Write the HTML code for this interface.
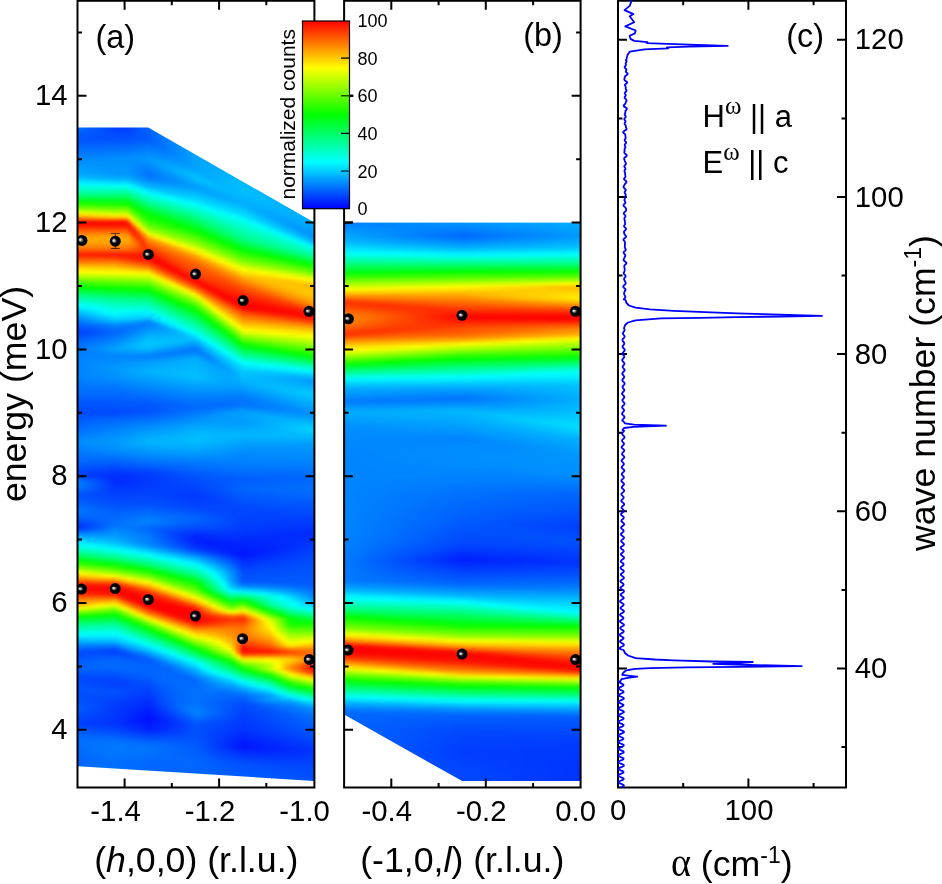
<!DOCTYPE html>
<html><head><meta charset="utf-8"><title>figure</title>
<style>
html,body{margin:0;padding:0;background:#fff}
body{width:942px;height:884px;position:relative;overflow:hidden;font-family:"Liberation Sans",sans-serif}
.w{position:absolute;top:0;height:787.5px;overflow:hidden}
#wa{left:77.5px;width:236.9px}
#wb{left:344.1px;width:236.5px}
#ha,#hb{position:absolute;filter:blur(1.1px)}
#ha{left:-8px;top:120px;height:669px;width:253px}
#hb{left:-8px;top:215px;height:573px;width:252px}
#ha i,#hb i{position:absolute;top:0;height:100%;display:block}
svg{position:absolute;left:0;top:0}
</style></head><body>
<div class="w" id="wa"><div id="ha">
<i style="left:0px;width:3.1px;background:linear-gradient(#0070ff,#0070ff,#0070ff,#006cff,#0064ff,#005cff,#0054ff,#0057ff,#005fff,#0067ff,#006eff,#0076ff,#007eff,#0086ff,#008dff,#0094ff,#009bff,#00a2ff,#00a9ff,#00b7ff,#00d4ff,#00f1ff,#00ffed,#00ffca,#00ffa7,#00ff85,#00ff4a,#00ff10,#28ff00,#5eff00,#a2ff00,#f7ff00,#ffbc00,#ff6500,#f10,#ff0c00,#ff3900,#ff6000,#ff8400,#ff9e00,#ffa900,#ffa000,#ff8900,#ff6b00,#ff3e00,#ff1900,#ff4600,#ff6f00,#ff9600,#ffc900,#fff100,#f3ff00,#b9ff00,#7eff00,#50ff00,#23ff00,#00ff0b,#00ff3d,#00ff6e,#0f9,#00ffbe,#00ffe3,#00fbff,#0df,#00bfff,#00a8ff,#0090ff,#0078ff,#06f,#0057ff,#0047ff,#0041ff,#004eff,#005bff,#0067ff,#006dff,#0073ff,#0079ff,#007fff,#0085ff,#0085ff,#0085ff,#0085ff,#0085ff,#0085ff,#0085ff,#0081ff,#007dff,#0078ff,#0073ff,#006fff,#006aff,#0065ff,#0060ff,#005aff,#05f,#0050ff,#004aff,#004bff,#0054ff,#005dff,#0062ff,#0068ff,#006dff,#0074ff,#007cff,#0085ff,#008dff,#008aff,#0083ff,#007dff,#07f,#0072ff,#006cff,#0067ff,#005dff,#0054ff,#004aff,#0043ff,#0045ff,#0071ff,#0082ff,#007dff,#0071ff,#005eff,#0053ff,#0057ff,#005bff,#0063ff,#006cff,#0076ff,#0074ff,#0069ff,#005dff,#004aff,#0037ff,#03f,#0059ff,#0085ff,#00aeff,#00ceff,#00efff,#00ffe9,#00ffc4,#00ff9e,#00ff71,#00ff37,#04ff00,#3aff00,#70ff00,#b5ff00,#ff0,#ffc600,#ff8c00,#ff4900,#ff1800,#ff0700,#ff1000,#ff2c00,#ff5b00,#ff8600,#ffa200,#ffcd00,#efff00,#85ff00,#2aff00,#00ff1a,#00ff4a,#00ff7b,#00ffa1,#00ffc5,#00ffe9,#00f1ff,#00ceff,#00abff,#0089ff,#006dff,#05f,#004bff,#0053ff,#005aff,#005fff,#0063ff,#0064ff,#005bff,#0051ff,#0047ff,#004cff,#0051ff,#0056ff,#0054ff,#0051ff,#004eff,#0050ff,#05f,#0059ff,#005aff,#0056ff,#0052ff,#004cff,#0046ff,#003fff,#0045ff,#0051ff,#005cff,#0064ff,#006cff,#0070ff,#006eff,#006dff,#006cff,#006aff,#0068ff,#0067ff,#06f,#06f,#06f,#06f,#06f,#06f,#06f,#06f,#06f,#06f)"></i>
<i style="left:2.5px;width:3.1px;background:linear-gradient(#0070ff,#0070ff,#0070ff,#006cff,#0064ff,#005cff,#0054ff,#0057ff,#005fff,#0067ff,#006eff,#0076ff,#007eff,#0086ff,#008dff,#0094ff,#009bff,#00a2ff,#00a9ff,#00b7ff,#00d4ff,#00f1ff,#00ffed,#00ffca,#00ffa7,#00ff85,#00ff4a,#00ff10,#28ff00,#5eff00,#a2ff00,#f7ff00,#ffbc00,#ff6500,#f10,#ff0c00,#ff3900,#ff6000,#ff8400,#ff9e00,#ffa900,#ffa000,#ff8900,#ff6b00,#ff3e00,#ff1900,#ff4600,#ff6f00,#ff9600,#ffc900,#fff100,#f3ff00,#b9ff00,#7eff00,#50ff00,#23ff00,#00ff0b,#00ff3d,#00ff6e,#0f9,#00ffbe,#00ffe3,#00fbff,#0df,#00bfff,#00a8ff,#0090ff,#0078ff,#06f,#0057ff,#0047ff,#0041ff,#004eff,#005bff,#0067ff,#006dff,#0073ff,#0079ff,#007fff,#0085ff,#0085ff,#0085ff,#0085ff,#0085ff,#0085ff,#0085ff,#0081ff,#007dff,#0078ff,#0073ff,#006fff,#006aff,#0065ff,#0060ff,#005aff,#05f,#0050ff,#004aff,#004bff,#0054ff,#005dff,#0062ff,#0068ff,#006dff,#0074ff,#007cff,#0085ff,#008dff,#008aff,#0083ff,#007dff,#07f,#0072ff,#006cff,#0067ff,#005dff,#0054ff,#004aff,#0043ff,#0045ff,#0071ff,#0082ff,#007dff,#0071ff,#005eff,#0053ff,#0057ff,#005bff,#0063ff,#006cff,#0076ff,#0074ff,#0069ff,#005dff,#004aff,#0037ff,#03f,#0059ff,#0085ff,#00aeff,#00ceff,#00efff,#00ffe9,#00ffc4,#00ff9e,#00ff71,#00ff37,#04ff00,#3aff00,#70ff00,#b5ff00,#ff0,#ffc600,#ff8c00,#ff4900,#ff1800,#ff0700,#ff1000,#ff2c00,#ff5b00,#ff8600,#ffa200,#ffcd00,#efff00,#85ff00,#2aff00,#00ff1a,#00ff4a,#00ff7b,#00ffa1,#00ffc5,#00ffe9,#00f1ff,#00ceff,#00abff,#0089ff,#006dff,#05f,#004bff,#0053ff,#005aff,#005fff,#0063ff,#0064ff,#005bff,#0051ff,#0047ff,#004cff,#0051ff,#0056ff,#0054ff,#0051ff,#004eff,#0050ff,#05f,#0059ff,#005aff,#0056ff,#0052ff,#004cff,#0046ff,#003fff,#0045ff,#0051ff,#005cff,#0064ff,#006cff,#0070ff,#006eff,#006dff,#006cff,#006aff,#0068ff,#0067ff,#06f,#06f,#06f,#06f,#06f,#06f,#06f,#06f,#06f,#06f)"></i>
<i style="left:5px;width:3.1px;background:linear-gradient(#0070ff,#0070ff,#0070ff,#006cff,#0064ff,#005cff,#0054ff,#0057ff,#005fff,#0067ff,#006eff,#0076ff,#007eff,#0086ff,#008dff,#0094ff,#009bff,#00a2ff,#00a9ff,#00b7ff,#00d4ff,#00f1ff,#00ffed,#00ffca,#00ffa7,#00ff85,#00ff4a,#00ff10,#28ff00,#5eff00,#a2ff00,#f7ff00,#ffbc00,#ff6500,#f10,#ff0c00,#ff3900,#ff6000,#ff8400,#ff9e00,#ffa900,#ffa000,#ff8900,#ff6b00,#ff3e00,#ff1900,#ff4600,#ff6f00,#ff9600,#ffc900,#fff100,#f3ff00,#b9ff00,#7eff00,#50ff00,#23ff00,#00ff0b,#00ff3d,#00ff6e,#0f9,#00ffbe,#00ffe3,#00fbff,#0df,#00bfff,#00a8ff,#0090ff,#0078ff,#06f,#0057ff,#0047ff,#0041ff,#004eff,#005bff,#0067ff,#006dff,#0073ff,#0079ff,#007fff,#0085ff,#0085ff,#0085ff,#0085ff,#0085ff,#0085ff,#0085ff,#0081ff,#007dff,#0078ff,#0073ff,#006fff,#006aff,#0065ff,#0060ff,#005aff,#05f,#0050ff,#004aff,#004bff,#0054ff,#005dff,#0062ff,#0068ff,#006dff,#0074ff,#007cff,#0085ff,#008dff,#008aff,#0083ff,#007dff,#07f,#0072ff,#006cff,#0067ff,#005dff,#0054ff,#004aff,#0043ff,#0045ff,#0071ff,#0082ff,#007dff,#0071ff,#005eff,#0053ff,#0057ff,#005bff,#0063ff,#006cff,#0076ff,#0074ff,#0069ff,#005dff,#004aff,#0037ff,#03f,#0059ff,#0085ff,#00aeff,#00ceff,#00efff,#00ffe9,#00ffc4,#00ff9e,#00ff71,#00ff37,#04ff00,#3aff00,#70ff00,#b5ff00,#ff0,#ffc600,#ff8c00,#ff4900,#ff1800,#ff0700,#ff1000,#ff2c00,#ff5b00,#ff8600,#ffa200,#ffcd00,#efff00,#85ff00,#2aff00,#00ff1a,#00ff4a,#00ff7b,#00ffa1,#00ffc5,#00ffe9,#00f1ff,#00ceff,#00abff,#0089ff,#006dff,#05f,#004bff,#0053ff,#005aff,#005fff,#0063ff,#0064ff,#005bff,#0051ff,#0047ff,#004cff,#0051ff,#0056ff,#0054ff,#0051ff,#004eff,#0050ff,#05f,#0059ff,#005aff,#0056ff,#0052ff,#004cff,#0046ff,#003fff,#0045ff,#0051ff,#005cff,#0064ff,#006cff,#0070ff,#006eff,#006dff,#006cff,#006aff,#0068ff,#0067ff,#06f,#06f,#06f,#06f,#06f,#06f,#06f,#06f,#06f,#06f)"></i>
<i style="left:7.5px;width:3.1px;background:linear-gradient(#006fff,#006fff,#006fff,#006bff,#0063ff,#005cff,#0054ff,#0057ff,#005fff,#0067ff,#006fff,#0076ff,#007eff,#0086ff,#008dff,#0094ff,#009bff,#00a1ff,#00a8ff,#00b7ff,#00d4ff,#00f1ff,#00ffed,#00ffca,#00ffa7,#00ff84,#00ff4a,#00ff10,#27ff00,#5dff00,#a1ff00,#f5ff00,#ffbd00,#f60,#ff1000,#ff0c00,#ff3800,#ff6000,#ff8400,#ff9e00,#ffa900,#ffa000,#ff8900,#ff6b00,#ff3e00,#ff1900,#ff4500,#ff6f00,#ff9600,#ffc800,#fff000,#f4ff00,#b9ff00,#7fff00,#51ff00,#23ff00,#00ff0b,#00ff3c,#00ff6d,#00ff98,#00ffbd,#00ffe2,#00fdff,#00dfff,#00c2ff,#0af,#0092ff,#007aff,#0067ff,#0058ff,#0048ff,#0043ff,#004fff,#005cff,#0068ff,#006eff,#0074ff,#007aff,#007fff,#0085ff,#0085ff,#0085ff,#0085ff,#0085ff,#0085ff,#0085ff,#0082ff,#007dff,#0078ff,#0073ff,#006fff,#006aff,#0065ff,#0060ff,#005aff,#05f,#0050ff,#004aff,#004bff,#0054ff,#005dff,#0063ff,#0068ff,#006eff,#0075ff,#007dff,#0085ff,#008dff,#008aff,#0084ff,#007dff,#07f,#0072ff,#006cff,#06f,#005dff,#0053ff,#004aff,#0042ff,#04f,#006fff,#0080ff,#007bff,#0070ff,#005dff,#0052ff,#0056ff,#005aff,#0062ff,#006cff,#0075ff,#0074ff,#0069ff,#005dff,#004bff,#0039ff,#0035ff,#005bff,#0085ff,#00aeff,#00cdff,#0ef,#00ffeb,#00ffc5,#00ff9f,#00ff73,#00ff39,#02ff00,#38ff00,#6eff00,#b3ff00,#fdff00,#ffc800,#ff8d00,#ff4a00,#ff1900,#ff0700,#ff1000,#ff2c00,#ff5b00,#ff8600,#ffa400,#ffcf00,#ecff00,#83ff00,#29ff00,#00ff1a,#00ff4b,#00ff7b,#00ffa2,#00ffc5,#00ffe9,#00f1ff,#00ceff,#00abff,#0089ff,#006dff,#0054ff,#004bff,#0053ff,#005bff,#005fff,#0063ff,#0064ff,#005bff,#0051ff,#0047ff,#004cff,#0051ff,#05f,#0054ff,#0051ff,#004eff,#004fff,#0054ff,#0059ff,#0059ff,#05f,#0051ff,#004bff,#0045ff,#003fff,#0045ff,#0050ff,#005cff,#0064ff,#006bff,#0070ff,#006fff,#006dff,#006cff,#006aff,#0069ff,#0067ff,#06f,#06f,#06f,#06f,#06f,#06f,#06f,#06f,#06f,#06f)"></i>
<i style="left:10px;width:3.1px;background:linear-gradient(#006bff,#006bff,#006bff,#0068ff,#0061ff,#005bff,#0054ff,#0057ff,#005fff,#0067ff,#006fff,#07f,#007fff,#0087ff,#008dff,#0094ff,#009aff,#00a1ff,#00a7ff,#00b5ff,#00d2ff,#00f0ff,#00ffed,#00ffca,#00ffa7,#00ff84,#00ff4a,#0f1,#25ff00,#5bff00,#9eff00,#f2ff00,#ffc000,#ff6900,#ff1000,#ff0c00,#ff3800,#ff5f00,#ff8500,#ff9f00,#ffa900,#ffa000,#ff8900,#ff6c00,#ff3e00,#ff1900,#ff4500,#ff6e00,#ff9600,#ffc800,#ffef00,#f4ff00,#baff00,#80ff00,#52ff00,#25ff00,#00ff09,#00ff3a,#00ff6a,#00ff95,#00ffba,#00ffde,#00fffd,#00e3ff,#00c7ff,#00afff,#0097ff,#007fff,#006aff,#005aff,#004bff,#0045ff,#0052ff,#005eff,#006aff,#0071ff,#07f,#007cff,#0080ff,#0085ff,#0085ff,#0086ff,#0086ff,#0086ff,#0086ff,#0086ff,#0083ff,#007eff,#0079ff,#0074ff,#006fff,#006aff,#0065ff,#0060ff,#005aff,#05f,#0050ff,#004aff,#004bff,#05f,#005eff,#0063ff,#0069ff,#006fff,#0076ff,#007eff,#0086ff,#008eff,#008bff,#0085ff,#007eff,#0078ff,#0072ff,#006cff,#06f,#005dff,#0053ff,#0049ff,#0041ff,#0043ff,#006bff,#007aff,#0076ff,#006cff,#005bff,#0051ff,#05f,#0059ff,#0061ff,#006aff,#0074ff,#0073ff,#0068ff,#005eff,#004eff,#003dff,#003aff,#005eff,#0086ff,#00adff,#00cbff,#00ebff,#00ffef,#00ffc9,#00ffa3,#0f7,#00ff3e,#00ff04,#3f0,#69ff00,#adff00,#f6ff00,#ffcd00,#ff9000,#ff4c00,#ff1900,#ff0700,#ff0f00,#ff2a00,#ff5a00,#ff8700,#ffa700,#ffd500,#e4ff00,#7eff00,#26ff00,#00ff1c,#00ff4c,#00ff7d,#00ffa3,#00ffc7,#00ffea,#00f1ff,#00ceff,#00abff,#08f,#006cff,#0053ff,#004bff,#0053ff,#005bff,#0060ff,#0063ff,#0064ff,#005bff,#0051ff,#0048ff,#004bff,#004fff,#0054ff,#0053ff,#0051ff,#004dff,#004fff,#0053ff,#0057ff,#0057ff,#0053ff,#0050ff,#004aff,#04f,#003eff,#04f,#004fff,#005bff,#0063ff,#006bff,#0070ff,#006fff,#006eff,#006dff,#006bff,#006aff,#0068ff,#0067ff,#0067ff,#0067ff,#0067ff,#0067ff,#0067ff,#0067ff,#0067ff,#0067ff,#0067ff)"></i>
<i style="left:12.5px;width:3.1px;background:linear-gradient(#0068ff,#0068ff,#0068ff,#0065ff,#005fff,#0059ff,#0054ff,#0057ff,#005fff,#0067ff,#006fff,#07f,#007fff,#0087ff,#008dff,#0094ff,#009aff,#00a0ff,#00a6ff,#00b4ff,#00d1ff,#00efff,#0fe,#00ffca,#00ffa7,#00ff83,#00ff4b,#00ff12,#24ff00,#5aff00,#9cff00,#efff00,#ffc400,#ff6c00,#ff0f00,#ff0d00,#ff3800,#ff5f00,#ff8500,#ff9f00,#ffa900,#ffa000,#ff8900,#ff6c00,#ff3e00,#ff1900,#f40,#ff6e00,#ff9600,#ffc700,#fe0,#f5ff00,#bcff00,#82ff00,#53ff00,#26ff00,#00ff08,#00ff38,#00ff68,#00ff93,#00ffb7,#00ffdb,#00fff9,#00e8ff,#00cdff,#00b4ff,#009cff,#0083ff,#006dff,#005cff,#004dff,#0048ff,#0054ff,#0061ff,#006cff,#0073ff,#007aff,#007eff,#0081ff,#0085ff,#0086ff,#0086ff,#0087ff,#08f,#0087ff,#0087ff,#0084ff,#007fff,#0079ff,#0074ff,#006fff,#006aff,#0065ff,#0060ff,#005aff,#05f,#0050ff,#004bff,#004bff,#05f,#005eff,#0064ff,#006aff,#0070ff,#07f,#007fff,#0087ff,#008fff,#008cff,#0086ff,#0080ff,#0079ff,#0072ff,#006cff,#06f,#005cff,#0052ff,#0048ff,#0040ff,#0041ff,#06f,#0074ff,#0071ff,#0068ff,#0059ff,#0050ff,#0054ff,#0058ff,#0060ff,#0069ff,#0072ff,#0071ff,#0068ff,#005fff,#0050ff,#0041ff,#003fff,#0061ff,#0087ff,#00acff,#00c9ff,#00e8ff,#00fff2,#00ffcd,#00ffa7,#00ff7b,#00ff43,#00ff09,#2eff00,#64ff00,#a7ff00,#f0ff00,#ffd100,#ff9400,#ff4e00,#ff1900,#ff0700,#ff0f00,#ff2800,#ff5900,#ff8900,#ffab00,#ffda00,#dcff00,#7aff00,#24ff00,#00ff1d,#00ff4e,#00ff7e,#00ffa4,#00ffc8,#00ffeb,#00f1ff,#00cfff,#00acff,#08f,#006bff,#0051ff,#004bff,#0054ff,#005cff,#0060ff,#0064ff,#0064ff,#005bff,#0051ff,#0048ff,#004bff,#004eff,#0053ff,#0053ff,#0051ff,#004dff,#004eff,#0051ff,#05f,#05f,#0051ff,#004eff,#0049ff,#0043ff,#003dff,#0043ff,#004eff,#005aff,#0062ff,#006bff,#0070ff,#0070ff,#006fff,#006eff,#006cff,#006aff,#0068ff,#0068ff,#0068ff,#0068ff,#0068ff,#0068ff,#0068ff,#0068ff,#0068ff,#0068ff,#0068ff)"></i>
<i style="left:15px;width:3.1px;background:linear-gradient(#0065ff,#0065ff,#0065ff,#0062ff,#005dff,#0058ff,#0053ff,#0057ff,#005fff,#0067ff,#0070ff,#0078ff,#0080ff,#08f,#008eff,#0093ff,#09f,#009fff,#00a5ff,#00b2ff,#00cfff,#00edff,#00ffef,#00ffcb,#00ffa6,#00ff82,#00ff4b,#00ff13,#2f0,#58ff00,#9aff00,#ebff00,#ffc700,#ff6f00,#ff0e00,#ff0d00,#ff3800,#ff5f00,#ff8500,#ffa000,#ffa900,#ffa000,#ff8900,#ff6d00,#ff3f00,#ff1900,#f40,#ff6d00,#ff9600,#ffc600,#fe0,#f6ff00,#bdff00,#83ff00,#5f0,#27ff00,#00ff07,#00ff36,#0f6,#00ff90,#00ffb4,#00ffd7,#00fff5,#00ecff,#00d2ff,#00b9ff,#00a1ff,#08f,#0070ff,#005eff,#0050ff,#004aff,#0056ff,#0063ff,#006eff,#0076ff,#007eff,#0080ff,#0082ff,#0085ff,#0086ff,#0087ff,#08f,#0089ff,#08f,#08f,#0085ff,#007fff,#007aff,#0074ff,#006fff,#006aff,#0065ff,#0060ff,#005aff,#05f,#0050ff,#004bff,#004bff,#0056ff,#005fff,#0065ff,#006bff,#0072ff,#0078ff,#0080ff,#08f,#008fff,#008dff,#0087ff,#0081ff,#007aff,#0073ff,#006cff,#0065ff,#005bff,#0051ff,#0047ff,#003fff,#0040ff,#0061ff,#006fff,#006cff,#0064ff,#0057ff,#004fff,#0053ff,#0057ff,#005eff,#0067ff,#0070ff,#0070ff,#0068ff,#0060ff,#0052ff,#0045ff,#04f,#0064ff,#08f,#00abff,#00c6ff,#00e5ff,#00fff6,#00ffd1,#00ffab,#00ff7f,#00ff48,#00ff0e,#29ff00,#5fff00,#a1ff00,#eaff00,#ffd600,#ff9700,#ff5000,#ff1a00,#ff0700,#ff0e00,#ff2600,#ff5800,#ff8a00,#ffaf00,#ffe000,#d5ff00,#75ff00,#21ff00,#00ff1f,#00ff4f,#00ff7f,#00ffa5,#00ffc9,#00ffec,#00f1ff,#00cfff,#00acff,#08f,#006aff,#0050ff,#004bff,#05f,#005dff,#0061ff,#0065ff,#0064ff,#005bff,#0051ff,#0048ff,#004aff,#004dff,#0052ff,#0052ff,#0051ff,#004dff,#004dff,#0050ff,#0053ff,#0053ff,#004fff,#004cff,#0047ff,#0042ff,#003dff,#0042ff,#004eff,#0059ff,#0061ff,#006aff,#0071ff,#0070ff,#006fff,#006fff,#006dff,#006bff,#0069ff,#0068ff,#0068ff,#0068ff,#0068ff,#0068ff,#0068ff,#0068ff,#0068ff,#0068ff,#0068ff)"></i>
<i style="left:17.5px;width:3.1px;background:linear-gradient(#0061ff,#0061ff,#0061ff,#005fff,#005bff,#0057ff,#0053ff,#0057ff,#005fff,#0068ff,#0070ff,#0078ff,#0081ff,#08f,#008eff,#0093ff,#09f,#009eff,#00a4ff,#00b1ff,#00ceff,#00ecff,#00ffef,#00ffcb,#00ffa6,#00ff82,#00ff4b,#00ff14,#21ff00,#57ff00,#97ff00,#e8ff00,#ffca00,#ff7200,#ff0d00,#ff0e00,#ff3700,#ff5f00,#ff8600,#ffa000,#fa0,#ffa000,#ff8900,#ff6d00,#ff3f00,#ff1900,#ff4300,#ff6d00,#ff9600,#ffc500,#ffed00,#f7ff00,#beff00,#85ff00,#56ff00,#29ff00,#00ff05,#00ff34,#00ff63,#00ff8e,#00ffb2,#00ffd4,#00fff2,#00f1ff,#00d8ff,#00beff,#00a6ff,#008cff,#0073ff,#0060ff,#0052ff,#004dff,#0059ff,#0065ff,#0070ff,#0078ff,#0081ff,#0082ff,#0083ff,#0085ff,#0087ff,#08f,#008aff,#008aff,#0089ff,#0089ff,#0086ff,#0080ff,#007aff,#0074ff,#006fff,#006aff,#0065ff,#0060ff,#005aff,#05f,#0050ff,#004bff,#004bff,#0056ff,#0060ff,#06f,#006cff,#0073ff,#007aff,#0081ff,#0089ff,#0090ff,#008dff,#08f,#0082ff,#007aff,#0073ff,#006cff,#0065ff,#005bff,#0050ff,#0046ff,#003eff,#003eff,#005dff,#0069ff,#0067ff,#0060ff,#0054ff,#004eff,#0052ff,#0056ff,#005dff,#06f,#006eff,#006fff,#0068ff,#0061ff,#05f,#0049ff,#0049ff,#0068ff,#0089ff,#0af,#00c4ff,#00e2ff,#00fffa,#00ffd5,#00ffaf,#00ff83,#00ff4d,#00ff13,#24ff00,#5aff00,#9cff00,#e4ff00,#ffda00,#ff9a00,#ff5200,#ff1a00,#ff0700,#ff0e00,#ff2500,#ff5700,#ff8b00,#ffb300,#ffe600,#cdff00,#70ff00,#1eff00,#00ff20,#00ff51,#00ff80,#00ffa6,#00ffca,#00ffed,#00f0ff,#00d0ff,#00acff,#0087ff,#0069ff,#004eff,#004bff,#05f,#005eff,#0062ff,#0065ff,#0064ff,#005bff,#0051ff,#0048ff,#0049ff,#004cff,#0051ff,#0052ff,#0051ff,#004dff,#004dff,#004eff,#0051ff,#0051ff,#004eff,#004aff,#0046ff,#0041ff,#003cff,#0042ff,#004dff,#0058ff,#0061ff,#006aff,#0071ff,#0071ff,#0070ff,#0070ff,#006eff,#006cff,#006aff,#0069ff,#0069ff,#0069ff,#0069ff,#0069ff,#0069ff,#0069ff,#0069ff,#0069ff,#0069ff)"></i>
<i style="left:20px;width:3.1px;background:linear-gradient(#005eff,#005eff,#005eff,#005cff,#0059ff,#0056ff,#0053ff,#0057ff,#0060ff,#0068ff,#0070ff,#0079ff,#0081ff,#0089ff,#008eff,#0093ff,#0098ff,#009eff,#00a3ff,#00b0ff,#0cf,#00ebff,#00fff0,#00ffcb,#00ffa6,#00ff81,#00ff4b,#00ff15,#1fff00,#5f0,#95ff00,#e5ff00,#ffcd00,#ff7400,#ff0c00,#ff0e00,#ff3700,#ff5e00,#ff8600,#ffa100,#fa0,#ffa000,#ff8900,#ff6e00,#ff3f00,#ff1900,#ff4300,#ff6d00,#ff9600,#ffc500,#ffec00,#f7ff00,#bfff00,#86ff00,#57ff00,#2aff00,#00ff04,#00ff32,#00ff61,#00ff8b,#00ffaf,#00ffd0,#0fe,#00f6ff,#0df,#00c3ff,#00abff,#0091ff,#0076ff,#0062ff,#05f,#004fff,#005bff,#0067ff,#0072ff,#007bff,#0084ff,#0084ff,#0084ff,#0085ff,#0087ff,#0089ff,#008bff,#008cff,#008bff,#008aff,#0086ff,#0081ff,#007bff,#0075ff,#006fff,#006aff,#0065ff,#0060ff,#005aff,#05f,#0050ff,#004bff,#004bff,#0056ff,#0061ff,#0067ff,#006eff,#0074ff,#007bff,#0082ff,#0089ff,#0091ff,#008eff,#0089ff,#0083ff,#007bff,#0074ff,#006cff,#0064ff,#005aff,#0050ff,#0045ff,#003dff,#003dff,#0058ff,#0063ff,#0062ff,#005dff,#0052ff,#004dff,#0051ff,#05f,#005cff,#0064ff,#006dff,#006eff,#0068ff,#0062ff,#0057ff,#004dff,#004eff,#006bff,#008bff,#00a9ff,#00c2ff,#00dfff,#00fffe,#00ffd9,#00ffb3,#00ff87,#00ff52,#00ff18,#1fff00,#5f0,#96ff00,#df0,#ffdf00,#ff9e00,#ff5400,#ff1b00,#ff0700,#ff0d00,#ff2300,#ff5600,#ff8c00,#ffb600,#ffeb00,#c5ff00,#6bff00,#1bff00,#0f2,#00ff52,#00ff82,#00ffa7,#00ffcb,#0fe,#00f0ff,#00d0ff,#00acff,#0087ff,#0068ff,#004cff,#004bff,#0056ff,#005fff,#0062ff,#06f,#0064ff,#005bff,#0051ff,#0048ff,#0048ff,#004bff,#0050ff,#0051ff,#0051ff,#004dff,#004cff,#004dff,#004fff,#004fff,#004cff,#0049ff,#04f,#0040ff,#003bff,#0041ff,#004cff,#0057ff,#0060ff,#006aff,#0071ff,#0071ff,#0071ff,#0071ff,#006fff,#006dff,#006bff,#006aff,#006aff,#006aff,#006aff,#006aff,#006aff,#006aff,#006aff,#006aff,#006aff)"></i>
<i style="left:22.5px;width:3.1px;background:linear-gradient(#005bff,#005bff,#005bff,#0059ff,#0057ff,#05f,#0052ff,#0057ff,#0060ff,#0068ff,#0071ff,#0079ff,#0082ff,#008aff,#008eff,#0093ff,#0098ff,#009dff,#00a2ff,#00aeff,#00cbff,#00eaff,#00fff1,#00ffcb,#00ffa6,#00ff80,#00ff4b,#00ff16,#1eff00,#54ff00,#92ff00,#e2ff00,#ffd100,#f70,#ff0c00,#ff0e00,#ff3700,#ff5e00,#ff8700,#ffa100,#fa0,#ffa000,#ff8900,#ff6e00,#ff4000,#ff1900,#ff4200,#ff6c00,#ff9600,#ffc400,#ffeb00,#f8ff00,#c0ff00,#8f0,#59ff00,#2bff00,#00ff02,#00ff31,#00ff5f,#00ff89,#00ffac,#00ffcd,#00ffea,#00faff,#00e3ff,#00c8ff,#00b0ff,#0096ff,#0079ff,#0064ff,#0057ff,#0052ff,#005eff,#0069ff,#0075ff,#007eff,#0087ff,#0086ff,#0085ff,#0085ff,#0087ff,#008aff,#008cff,#008dff,#008cff,#008aff,#0087ff,#0082ff,#007bff,#0075ff,#006fff,#006aff,#0065ff,#0060ff,#005aff,#05f,#0050ff,#004bff,#004bff,#0057ff,#0061ff,#0068ff,#006fff,#0075ff,#007cff,#0083ff,#008aff,#0091ff,#008fff,#008aff,#0084ff,#007cff,#0074ff,#006cff,#0064ff,#005aff,#004fff,#04f,#003cff,#003bff,#0053ff,#005dff,#005dff,#0059ff,#0050ff,#004bff,#0050ff,#0054ff,#005bff,#0063ff,#006bff,#006dff,#0068ff,#0063ff,#0059ff,#0051ff,#0053ff,#006eff,#008cff,#00a8ff,#00c0ff,#00dcff,#00fdff,#0fd,#00ffb7,#00ff8b,#00ff58,#00ff1e,#1aff00,#51ff00,#90ff00,#d7ff00,#ffe300,#ffa100,#ff5600,#ff1b00,#ff0600,#ff0d00,#ff2100,#f50,#ff8d00,#ffba00,#fff100,#bdff00,#67ff00,#18ff00,#00ff23,#00ff54,#00ff83,#00ffa8,#0fc,#00ffef,#00f0ff,#00d1ff,#00acff,#0086ff,#0067ff,#004bff,#004bff,#0056ff,#0060ff,#0063ff,#06f,#0064ff,#005bff,#0051ff,#0048ff,#0048ff,#004aff,#004fff,#0051ff,#0051ff,#004cff,#004bff,#004cff,#004dff,#004dff,#004aff,#0047ff,#0043ff,#003fff,#003aff,#0040ff,#004bff,#0056ff,#005fff,#0069ff,#0071ff,#0072ff,#0072ff,#0072ff,#0070ff,#006eff,#006bff,#006aff,#006aff,#006aff,#006aff,#006aff,#006aff,#006aff,#006aff,#006aff,#006aff)"></i>
<i style="left:25px;width:3.1px;background:linear-gradient(#0057ff,#0057ff,#0057ff,#0056ff,#05f,#0054ff,#0052ff,#0057ff,#0060ff,#0069ff,#0071ff,#007aff,#0082ff,#008aff,#008fff,#0093ff,#0098ff,#009cff,#00a0ff,#00adff,#00c9ff,#00e9ff,#00fff2,#0fc,#00ffa6,#00ff80,#00ff4c,#00ff18,#1cff00,#52ff00,#90ff00,#deff00,#ffd400,#ff7a00,#ff0b00,#ff0f00,#ff3600,#ff5e00,#ff8700,#ffa200,#fa0,#ffa000,#ff8900,#ff6f00,#ff4000,#ff1900,#ff4200,#ff6c00,#ff9600,#ffc300,#ffea00,#f9ff00,#c1ff00,#89ff00,#5aff00,#2dff00,#00ff01,#00ff2f,#00ff5c,#00ff87,#00ffa9,#00ffc9,#00ffe6,#0ff,#00e9ff,#00cdff,#00b5ff,#009aff,#007cff,#06f,#005aff,#05f,#0060ff,#006bff,#07f,#0080ff,#008aff,#08f,#0085ff,#0085ff,#08f,#008aff,#008dff,#008eff,#008dff,#008bff,#08f,#0082ff,#007cff,#0075ff,#006fff,#006aff,#0065ff,#0060ff,#005aff,#05f,#0050ff,#004bff,#004bff,#0057ff,#0062ff,#0069ff,#0070ff,#07f,#007dff,#0084ff,#008bff,#0092ff,#0090ff,#008bff,#0085ff,#007dff,#0074ff,#006cff,#0064ff,#0059ff,#004eff,#0043ff,#003bff,#003aff,#004fff,#0058ff,#0058ff,#05f,#004eff,#004aff,#004fff,#0053ff,#0059ff,#0061ff,#0069ff,#006cff,#0068ff,#0064ff,#005cff,#05f,#0058ff,#0072ff,#008dff,#00a7ff,#00beff,#00d9ff,#00f9ff,#00ffe1,#0fb,#00ff8f,#00ff5d,#00ff23,#15ff00,#4cff00,#8aff00,#d1ff00,#ffe800,#ffa400,#ff5800,#ff1c00,#ff0600,#ff0c00,#ff1f00,#ff5400,#ff8e00,#ffbe00,#fff700,#b6ff00,#62ff00,#16ff00,#00ff25,#0f5,#00ff84,#00ffa9,#00ffcd,#00fff0,#00f0ff,#00d1ff,#00adff,#0086ff,#06f,#0049ff,#004cff,#0057ff,#0060ff,#0064ff,#0067ff,#0064ff,#005bff,#0051ff,#0048ff,#0047ff,#0049ff,#004eff,#0050ff,#0051ff,#004cff,#004bff,#004aff,#004bff,#004bff,#0048ff,#0045ff,#0041ff,#003dff,#003aff,#003fff,#004aff,#05f,#005eff,#0069ff,#0072ff,#0072ff,#0073ff,#0073ff,#0071ff,#006fff,#006cff,#006bff,#006bff,#006bff,#006bff,#006bff,#006bff,#006bff,#006bff,#006bff,#006bff)"></i>
<i style="left:27.5px;width:3.1px;background:linear-gradient(#0054ff,#0054ff,#0054ff,#0054ff,#0053ff,#0052ff,#0052ff,#0057ff,#0060ff,#0069ff,#0072ff,#007aff,#0083ff,#008bff,#008fff,#0093ff,#0097ff,#009bff,#009fff,#00acff,#00c8ff,#00e8ff,#00fff2,#0fc,#00ffa5,#00ff7f,#00ff4c,#00ff19,#1bff00,#51ff00,#8dff00,#dbff00,#ffd700,#ff7d00,#ff0a00,#ff0f00,#ff3600,#ff5e00,#ff8700,#ffa200,#fa0,#ffa000,#ff8900,#ff6f00,#ff4000,#ff1800,#ff4100,#ff6b00,#ff9600,#ffc200,#ffe900,#faff00,#c2ff00,#8bff00,#5bff00,#2eff00,#01ff00,#00ff2d,#00ff5a,#00ff84,#00ffa7,#00ffc5,#00ffe2,#00fffb,#0ef,#00d3ff,#00baff,#009fff,#007fff,#0068ff,#005cff,#0057ff,#0062ff,#006eff,#0079ff,#0083ff,#008dff,#008aff,#0086ff,#0086ff,#08f,#008bff,#008eff,#008fff,#008eff,#008cff,#0089ff,#0083ff,#007cff,#0075ff,#006fff,#006aff,#0065ff,#0060ff,#005aff,#05f,#0050ff,#004bff,#004bff,#0057ff,#0063ff,#006aff,#0071ff,#0078ff,#007fff,#0085ff,#008cff,#0093ff,#0091ff,#008cff,#0086ff,#007dff,#0075ff,#006cff,#0063ff,#0059ff,#004eff,#0043ff,#003aff,#0038ff,#004aff,#0052ff,#0053ff,#0051ff,#004bff,#0049ff,#004eff,#0052ff,#0058ff,#0060ff,#0068ff,#006bff,#0068ff,#0065ff,#005eff,#0059ff,#005eff,#0075ff,#008eff,#00a6ff,#00bcff,#00d6ff,#00f5ff,#00ffe5,#00ffbf,#00ff93,#00ff62,#00ff28,#10ff00,#47ff00,#84ff00,#cbff00,#ffec00,#ffa800,#ff5a00,#ff1c00,#ff0600,#ff0c00,#ff1e00,#ff5400,#ff8f00,#ffc200,#fffc00,#aeff00,#5dff00,#13ff00,#00ff26,#00ff57,#00ff86,#0fa,#00ffce,#00fff1,#00efff,#00d1ff,#00adff,#0085ff,#06f,#0048ff,#004cff,#0058ff,#0061ff,#0064ff,#0067ff,#0064ff,#005bff,#0051ff,#0049ff,#0046ff,#0047ff,#004dff,#0050ff,#0051ff,#004cff,#004aff,#0049ff,#0049ff,#0049ff,#0046ff,#0043ff,#0040ff,#003cff,#0039ff,#003fff,#0049ff,#0054ff,#005eff,#0069ff,#0072ff,#0073ff,#0073ff,#0074ff,#0072ff,#006fff,#006dff,#006cff,#006cff,#006cff,#006cff,#006cff,#006cff,#006cff,#006cff,#006cff,#006cff)"></i>
<i style="left:30px;width:3.1px;background:linear-gradient(#0050ff,#0050ff,#0050ff,#0051ff,#0051ff,#0051ff,#0052ff,#0057ff,#0060ff,#0069ff,#0072ff,#007bff,#0084ff,#008cff,#008fff,#0093ff,#0097ff,#009aff,#009eff,#0af,#00c6ff,#00e6ff,#00fff3,#0fc,#00ffa5,#00ff7e,#00ff4c,#00ff1a,#19ff00,#4fff00,#8bff00,#d8ff00,#ffda00,#ff8000,#ff0900,#ff0f00,#ff3600,#ff5e00,#f80,#ffa300,#fa0,#ffa000,#ff8900,#ff7000,#ff4000,#ff1800,#ff4100,#ff6b00,#ff9600,#ffc200,#ffe800,#fbff00,#c3ff00,#8cff00,#5cff00,#30ff00,#02ff00,#00ff2b,#00ff57,#00ff82,#00ffa4,#00ffc2,#00ffde,#00fff6,#00f4ff,#00d8ff,#00bfff,#00a3ff,#0082ff,#006aff,#005fff,#005aff,#0065ff,#0070ff,#007bff,#0086ff,#0090ff,#008cff,#0087ff,#0086ff,#0089ff,#008cff,#008fff,#0091ff,#008fff,#008dff,#008aff,#0084ff,#007dff,#0075ff,#006fff,#006aff,#0065ff,#0060ff,#005aff,#05f,#0050ff,#004bff,#004bff,#0058ff,#0063ff,#006bff,#0072ff,#0079ff,#0080ff,#0087ff,#008dff,#0094ff,#0091ff,#008dff,#0087ff,#007eff,#0075ff,#006cff,#0063ff,#0058ff,#004dff,#0042ff,#0038ff,#0037ff,#0045ff,#004cff,#004eff,#004dff,#0049ff,#0048ff,#004cff,#0051ff,#0057ff,#005eff,#06f,#0069ff,#0068ff,#06f,#0061ff,#005dff,#0063ff,#0078ff,#008fff,#00a5ff,#00baff,#00d3ff,#00f1ff,#00ffe9,#00ffc2,#00ff97,#00ff67,#00ff2d,#0bff00,#42ff00,#7eff00,#c5ff00,#fff000,#ffab00,#ff5c00,#ff1d00,#ff0600,#ff0b00,#ff1c00,#ff5300,#ff9100,#ffc600,#fcff00,#a6ff00,#58ff00,#10ff00,#00ff28,#00ff58,#00ff87,#00ffab,#00ffcf,#00fff2,#00efff,#00d2ff,#00adff,#0085ff,#0065ff,#0046ff,#004cff,#0058ff,#0062ff,#0065ff,#0068ff,#0064ff,#005bff,#0051ff,#0049ff,#0046ff,#0046ff,#004cff,#004fff,#0050ff,#004cff,#0049ff,#0048ff,#0047ff,#0046ff,#04f,#0042ff,#003eff,#003bff,#0038ff,#003eff,#0048ff,#0053ff,#005dff,#0068ff,#0072ff,#0074ff,#0074ff,#0074ff,#0073ff,#0070ff,#006eff,#006cff,#006cff,#006cff,#006cff,#006cff,#006cff,#006cff,#006cff,#006cff,#006cff)"></i>
<i style="left:32.5px;width:3.1px;background:linear-gradient(#004dff,#004dff,#004dff,#004eff,#004fff,#0050ff,#0051ff,#0058ff,#0060ff,#0069ff,#0072ff,#007bff,#0084ff,#008cff,#0090ff,#0093ff,#0096ff,#009aff,#009dff,#00a9ff,#00c5ff,#00e5ff,#00fff4,#0fc,#00ffa5,#00ff7e,#00ff4c,#00ff1b,#17ff00,#4dff00,#8f0,#d5ff00,#ffde00,#ff8300,#ff0800,#ff1000,#ff3600,#ff5d00,#f80,#ffa300,#fa0,#ffa000,#ff8900,#ff7000,#ff4100,#ff1800,#ff4000,#ff6b00,#ff9600,#ffc100,#ffe700,#fbff00,#c5ff00,#8eff00,#5eff00,#31ff00,#04ff00,#00ff29,#0f5,#00ff7f,#00ffa1,#00ffbe,#00ffda,#00fff2,#00f9ff,#0df,#00c4ff,#00a8ff,#0085ff,#006dff,#0061ff,#005cff,#0067ff,#0072ff,#007dff,#08f,#0094ff,#008eff,#08f,#0086ff,#0089ff,#008dff,#0090ff,#0092ff,#0090ff,#008eff,#008bff,#0085ff,#007dff,#0076ff,#006fff,#006aff,#0065ff,#0060ff,#005bff,#05f,#0050ff,#004bff,#004bff,#0058ff,#0064ff,#006bff,#0073ff,#007aff,#0081ff,#08f,#008eff,#0094ff,#0092ff,#008eff,#08f,#007fff,#0076ff,#006cff,#0063ff,#0057ff,#004cff,#0041ff,#0037ff,#0035ff,#0041ff,#0047ff,#0049ff,#0049ff,#0047ff,#0047ff,#004bff,#0050ff,#0056ff,#005dff,#0064ff,#0068ff,#0068ff,#0067ff,#0063ff,#0061ff,#0068ff,#007bff,#0090ff,#00a4ff,#00b8ff,#00d0ff,#0ef,#00ffed,#00ffc6,#00ff9c,#00ff6c,#00ff32,#06ff00,#3dff00,#79ff00,#beff00,#fff500,#ffaf00,#ff5e00,#ff1d00,#ff0600,#ff0b00,#ff1a00,#ff5200,#ff9200,#ffc900,#f6ff00,#9fff00,#54ff00,#0dff00,#00ff29,#00ff5a,#0f8,#00ffac,#00ffd0,#00fff3,#00efff,#00d2ff,#00adff,#0084ff,#0064ff,#0045ff,#004cff,#0059ff,#0063ff,#06f,#0068ff,#0065ff,#005bff,#0051ff,#0049ff,#0045ff,#0045ff,#004bff,#004fff,#0050ff,#004cff,#0049ff,#0046ff,#0045ff,#04f,#0042ff,#0040ff,#003dff,#003aff,#0037ff,#003dff,#0047ff,#0052ff,#005cff,#0068ff,#0072ff,#0074ff,#0075ff,#0075ff,#0074ff,#0071ff,#006eff,#006dff,#006dff,#006dff,#006dff,#006dff,#006dff,#006dff,#006dff,#006dff,#006dff)"></i>
<i style="left:35px;width:3.1px;background:linear-gradient(#004aff,#004aff,#004aff,#004bff,#004dff,#004fff,#0051ff,#0058ff,#0061ff,#006aff,#0073ff,#007cff,#0085ff,#008dff,#0090ff,#0093ff,#0096ff,#09f,#009cff,#00a7ff,#00c4ff,#00e4ff,#00fff4,#0fc,#00ffa5,#00ff7d,#00ff4c,#00ff1c,#16ff00,#4cff00,#86ff00,#d1ff00,#ffe100,#ff8500,#ff0800,#ff1000,#ff3500,#ff5d00,#f80,#ffa400,#ffab00,#ffa000,#ff8900,#ff7100,#ff4100,#ff1800,#ff3f00,#ff6a00,#ff9600,#ffc000,#ffe600,#fcff00,#c6ff00,#8fff00,#5fff00,#32ff00,#05ff00,#00ff27,#00ff53,#00ff7d,#00ff9e,#0fb,#00ffd6,#00ffed,#0ff,#00e2ff,#00c9ff,#00adff,#08f,#006fff,#0064ff,#005fff,#006aff,#0074ff,#007fff,#008bff,#0097ff,#0091ff,#0089ff,#0086ff,#008aff,#008eff,#0091ff,#0093ff,#0091ff,#008fff,#008cff,#0085ff,#007eff,#0076ff,#006fff,#006aff,#0065ff,#0060ff,#005bff,#05f,#0050ff,#004bff,#004bff,#0058ff,#0065ff,#006cff,#0074ff,#007cff,#0082ff,#0089ff,#008fff,#0095ff,#0093ff,#008fff,#0089ff,#0080ff,#0076ff,#006cff,#0062ff,#0057ff,#004bff,#0040ff,#0036ff,#0034ff,#003cff,#0041ff,#04f,#0045ff,#0045ff,#0046ff,#004aff,#004fff,#05f,#005bff,#0063ff,#0067ff,#0068ff,#0067ff,#0065ff,#0065ff,#006dff,#007fff,#0091ff,#00a3ff,#00b6ff,#00cdff,#00eaff,#00fff1,#00ffca,#00ffa0,#00ff71,#00ff38,#01ff00,#38ff00,#73ff00,#b8ff00,#fff900,#ffb200,#ff6000,#ff1e00,#ff0600,#ff0a00,#ff1900,#ff5100,#ff9300,#ffcd00,#f0ff00,#97ff00,#4fff00,#0aff00,#00ff2b,#00ff5b,#00ff89,#00ffae,#00ffd1,#00fff4,#0ef,#00d3ff,#00adff,#0084ff,#0063ff,#0043ff,#004cff,#005aff,#0064ff,#06f,#0069ff,#0065ff,#005bff,#0051ff,#0049ff,#04f,#04f,#004aff,#004eff,#0050ff,#004bff,#0048ff,#0045ff,#0043ff,#0042ff,#0040ff,#003eff,#003cff,#0039ff,#0036ff,#003cff,#0047ff,#0051ff,#005bff,#0067ff,#0073ff,#0075ff,#0076ff,#0076ff,#0075ff,#0072ff,#006fff,#006eff,#006eff,#006eff,#006eff,#006eff,#006eff,#006eff,#006eff,#006eff,#006eff)"></i>
<i style="left:37.5px;width:3.1px;background:linear-gradient(#0046ff,#0046ff,#0046ff,#0048ff,#004bff,#004eff,#0051ff,#0058ff,#0061ff,#006aff,#0073ff,#007cff,#0085ff,#008dff,#0090ff,#0093ff,#0095ff,#0098ff,#009bff,#00a6ff,#00c2ff,#00e3ff,#00fff5,#00ffcd,#00ffa4,#00ff7c,#00ff4d,#00ff1d,#14ff00,#4aff00,#83ff00,#ceff00,#ffe400,#f80,#ff0700,#ff1000,#ff3500,#ff5d00,#ff8900,#ffa400,#ffab00,#ffa000,#ff8900,#ff7100,#ff4100,#ff1800,#ff3f00,#ff6a00,#ff9600,#ffbf00,#ffe600,#fdff00,#c7ff00,#91ff00,#60ff00,#34ff00,#07ff00,#00ff25,#00ff50,#00ff7a,#00ff9c,#00ffb7,#00ffd2,#00ffe9,#00fffa,#00e7ff,#00ceff,#00b1ff,#008bff,#0071ff,#06f,#0061ff,#006cff,#0076ff,#0081ff,#008dff,#009aff,#0093ff,#008aff,#0086ff,#008aff,#008eff,#0093ff,#0095ff,#0092ff,#0090ff,#008dff,#0086ff,#007eff,#0076ff,#006fff,#006aff,#0065ff,#0060ff,#005bff,#05f,#0050ff,#004bff,#004bff,#0059ff,#0065ff,#006dff,#0075ff,#007dff,#0084ff,#008aff,#0090ff,#0096ff,#0094ff,#0090ff,#008aff,#0080ff,#0076ff,#006cff,#0062ff,#0056ff,#004bff,#003fff,#0035ff,#0032ff,#0037ff,#003bff,#003fff,#0041ff,#0043ff,#0045ff,#0049ff,#004eff,#0053ff,#005aff,#0061ff,#06f,#0068ff,#0068ff,#0068ff,#0069ff,#0072ff,#0082ff,#0092ff,#00a2ff,#00b4ff,#00caff,#00e6ff,#00fff5,#00ffce,#00ffa4,#0f7,#00ff3d,#00ff04,#3f0,#6dff00,#b2ff00,#fffe00,#ffb500,#ff6200,#ff1e00,#ff0600,#ff0900,#ff1700,#ff5000,#ff9400,#ffd100,#ebff00,#8fff00,#4aff00,#08ff00,#00ff2c,#00ff5d,#00ff8b,#00ffaf,#00ffd2,#00fff5,#0ef,#00d3ff,#00aeff,#0084ff,#0062ff,#0041ff,#004cff,#005aff,#0064ff,#0067ff,#0069ff,#0065ff,#005bff,#0051ff,#0049ff,#04f,#0043ff,#0049ff,#004eff,#0050ff,#004bff,#0047ff,#0043ff,#0042ff,#0040ff,#003eff,#003cff,#003aff,#0038ff,#0036ff,#003cff,#0046ff,#0050ff,#005bff,#0067ff,#0073ff,#0075ff,#0076ff,#07f,#0076ff,#0073ff,#0070ff,#006eff,#006eff,#006eff,#006eff,#006eff,#006eff,#006eff,#006eff,#006eff,#006eff)"></i>
<i style="left:40px;width:3.1px;background:linear-gradient(#0043ff,#0043ff,#0043ff,#0045ff,#0049ff,#004dff,#0050ff,#0058ff,#0061ff,#006aff,#0073ff,#007dff,#0086ff,#008eff,#0090ff,#0093ff,#0095ff,#0097ff,#009aff,#00a5ff,#00c1ff,#00e2ff,#00fff6,#00ffcd,#00ffa4,#00ff7c,#00ff4d,#00ff1e,#13ff00,#49ff00,#81ff00,#cbff00,#ffe700,#ff8b00,#ff0600,#f10,#ff3500,#ff5d00,#ff8900,#ffa500,#ffab00,#ffa000,#ff8900,#ff7200,#ff4200,#ff1800,#ff3e00,#ff6900,#ff9600,#ffbf00,#ffe500,#feff00,#c8ff00,#92ff00,#62ff00,#35ff00,#08ff00,#00ff23,#00ff4e,#00ff78,#0f9,#00ffb4,#00ffce,#00ffe4,#00fff4,#00ecff,#00d3ff,#00b6ff,#008eff,#0073ff,#0069ff,#0064ff,#006eff,#0079ff,#0083ff,#0090ff,#009dff,#0095ff,#008bff,#0086ff,#008bff,#008fff,#0094ff,#0096ff,#0093ff,#0091ff,#008eff,#0087ff,#007fff,#0076ff,#006fff,#006aff,#0065ff,#0060ff,#005bff,#05f,#0050ff,#004bff,#004bff,#0059ff,#06f,#006eff,#0076ff,#007eff,#0085ff,#008bff,#0091ff,#0096ff,#0095ff,#0090ff,#008bff,#0081ff,#07f,#006cff,#0061ff,#0056ff,#004aff,#003eff,#0034ff,#0031ff,#0032ff,#0036ff,#003aff,#003eff,#0040ff,#0043ff,#0048ff,#004dff,#0052ff,#0058ff,#005fff,#0065ff,#0068ff,#0069ff,#006aff,#006dff,#07f,#0085ff,#0093ff,#00a1ff,#00b2ff,#00c7ff,#00e2ff,#00fff9,#00ffd2,#00ffa8,#00ff7c,#00ff42,#00ff09,#2fff00,#67ff00,#acff00,#fcff00,#ffb900,#ff6400,#ff1e00,#ff0500,#ff0900,#ff1500,#ff4f00,#ff9500,#ffd500,#e5ff00,#87ff00,#45ff00,#05ff00,#00ff2e,#00ff5e,#00ff8c,#00ffb0,#00ffd3,#00fff6,#0ef,#00d4ff,#00aeff,#0083ff,#0061ff,#0040ff,#004cff,#005bff,#0065ff,#0067ff,#006aff,#0065ff,#005bff,#0051ff,#0049ff,#0043ff,#0042ff,#0048ff,#004dff,#0050ff,#004bff,#0046ff,#0042ff,#0040ff,#003eff,#003cff,#003bff,#0039ff,#0037ff,#0035ff,#003bff,#0045ff,#004fff,#005aff,#0067ff,#0073ff,#0076ff,#07f,#0078ff,#07f,#0074ff,#0070ff,#006fff,#006fff,#006fff,#006fff,#006fff,#006fff,#006fff,#006fff,#006fff,#006fff)"></i>
<i style="left:42.5px;width:3.1px;background:linear-gradient(#0040ff,#0040ff,#0040ff,#0042ff,#0047ff,#004bff,#0050ff,#0058ff,#0061ff,#006bff,#0074ff,#007dff,#0087ff,#008fff,#0091ff,#0093ff,#0095ff,#0097ff,#09f,#00a3ff,#00bfff,#00e0ff,#00fff6,#00ffcd,#00ffa4,#00ff7b,#00ff4d,#00ff1f,#1f0,#47ff00,#7fff00,#c7ff00,#ffeb00,#ff8e00,#ff0500,#f10,#ff3400,#ff5c00,#ff8900,#ffa500,#ffab00,#ffa000,#ff8900,#ff7200,#ff4200,#ff1800,#ff3e00,#ff6900,#ff9600,#ffbe00,#ffe400,#feff00,#c9ff00,#94ff00,#63ff00,#36ff00,#09ff00,#00ff21,#00ff4c,#00ff76,#00ff96,#00ffb0,#00ffca,#00ffe0,#0fe,#00f1ff,#00d8ff,#00baff,#0091ff,#0075ff,#006bff,#0067ff,#0071ff,#007bff,#0085ff,#0093ff,#00a0ff,#0097ff,#008cff,#0086ff,#008bff,#0090ff,#0095ff,#0097ff,#0094ff,#0092ff,#008fff,#08f,#007fff,#07f,#006fff,#006aff,#0065ff,#0060ff,#005bff,#05f,#0050ff,#004bff,#004bff,#005aff,#0067ff,#006fff,#07f,#007fff,#0086ff,#008cff,#0092ff,#0097ff,#0095ff,#0091ff,#008dff,#0082ff,#07f,#006cff,#0061ff,#05f,#0049ff,#003dff,#03f,#002fff,#002eff,#0030ff,#0035ff,#003aff,#003eff,#0042ff,#0047ff,#004cff,#0051ff,#0057ff,#005eff,#0064ff,#0068ff,#006aff,#006cff,#0071ff,#007cff,#0089ff,#0095ff,#00a0ff,#00b0ff,#00c4ff,#00deff,#00fffd,#00ffd6,#00ffac,#00ff81,#00ff47,#00ff0e,#2aff00,#61ff00,#a5ff00,#f7ff00,#ffbc00,#f60,#ff1f00,#ff0500,#ff0800,#ff1300,#ff4e00,#ff9600,#ffd800,#dfff00,#80ff00,#41ff00,#02ff00,#00ff2f,#00ff60,#00ff8d,#00ffb1,#00ffd4,#00fff7,#0ef,#00d4ff,#00aeff,#0083ff,#0060ff,#003eff,#004cff,#005bff,#06f,#0068ff,#006aff,#0065ff,#005bff,#0051ff,#0049ff,#0042ff,#0041ff,#0047ff,#004dff,#0050ff,#004bff,#0046ff,#0041ff,#003eff,#003cff,#003aff,#0039ff,#0037ff,#0036ff,#0034ff,#003aff,#04f,#004eff,#0059ff,#06f,#0073ff,#0076ff,#0078ff,#0079ff,#07f,#0074ff,#0071ff,#0070ff,#0070ff,#0070ff,#0070ff,#0070ff,#0070ff,#0070ff,#0070ff,#0070ff,#0070ff)"></i>
<i style="left:45px;width:3.1px;background:linear-gradient(#003dff,#003dff,#003dff,#0040ff,#0045ff,#004bff,#0050ff,#0058ff,#0061ff,#006bff,#0074ff,#007eff,#0087ff,#008fff,#0091ff,#0093ff,#0094ff,#0096ff,#0098ff,#00a2ff,#00beff,#00e0ff,#00fff7,#00ffcd,#00ffa4,#00ff7a,#00ff4d,#00ff20,#10ff00,#46ff00,#7dff00,#c5ff00,#ffed00,#ff9000,#ff0500,#f10,#ff3400,#ff5c00,#ff8a00,#ffa600,#ffab00,#ffa000,#ff8900,#ff7200,#ff4200,#ff1700,#ff3c00,#ff6700,#ff9400,#ffbc00,#ffe300,#ff0,#caff00,#95ff00,#64ff00,#38ff00,#0bff00,#00ff20,#00ff49,#00ff73,#00ff94,#00ffae,#00ffc7,#0fd,#00ffec,#00f3ff,#00dbff,#00bdff,#0092ff,#07f,#006dff,#006aff,#0074ff,#007eff,#08f,#0096ff,#00a4ff,#09f,#008dff,#0086ff,#008bff,#0091ff,#0096ff,#0098ff,#0096ff,#0093ff,#0090ff,#0089ff,#0080ff,#07f,#006fff,#006aff,#0065ff,#0060ff,#005bff,#0056ff,#0050ff,#004bff,#004cff,#005aff,#0068ff,#0070ff,#0078ff,#0081ff,#08f,#008dff,#0093ff,#0098ff,#0097ff,#0093ff,#008eff,#0083ff,#0078ff,#006dff,#0061ff,#05f,#0049ff,#003dff,#0032ff,#002fff,#002bff,#002cff,#0032ff,#0037ff,#003dff,#0042ff,#0046ff,#004bff,#0050ff,#0056ff,#005cff,#0063ff,#0068ff,#006bff,#006fff,#0074ff,#007fff,#008aff,#0095ff,#009eff,#00adff,#00c0ff,#00daff,#00fcff,#00ffda,#00ffb0,#00ff86,#00ff4d,#00ff14,#24ff00,#5bff00,#9eff00,#f0ff00,#ffc200,#ff6d00,#ff2100,#ff0700,#ff0700,#f10,#ff4600,#ff8f00,#ffd500,#e5ff00,#85ff00,#4f0,#06ff00,#00ff2c,#00ff5c,#00ff8a,#00ffae,#00ffd2,#00fff5,#00efff,#00d6ff,#00b2ff,#0085ff,#0063ff,#0040ff,#004cff,#005bff,#0067ff,#0068ff,#006aff,#0065ff,#005bff,#0052ff,#004aff,#0042ff,#0040ff,#0046ff,#004cff,#0050ff,#004aff,#0045ff,#003fff,#003cff,#003aff,#0039ff,#0037ff,#0036ff,#0034ff,#03f,#0039ff,#0043ff,#004cff,#0058ff,#06f,#0073ff,#0076ff,#0078ff,#007aff,#0078ff,#0075ff,#0072ff,#0070ff,#0070ff,#0070ff,#0070ff,#0070ff,#0070ff,#0070ff,#0070ff,#0070ff,#0070ff)"></i>
<i style="left:47.5px;width:3.1px;background:linear-gradient(#003dff,#003dff,#003dff,#0040ff,#0045ff,#004bff,#0050ff,#0058ff,#0061ff,#006bff,#0074ff,#007eff,#0087ff,#008fff,#0091ff,#0093ff,#0094ff,#0096ff,#0098ff,#00a2ff,#00beff,#00e0ff,#00fff7,#00ffcd,#00ffa4,#00ff7a,#00ff4d,#00ff20,#10ff00,#46ff00,#7dff00,#c5ff00,#ffed00,#ff9000,#ff0500,#f10,#ff3400,#ff5c00,#ff8a00,#ffa600,#ffab00,#ffa000,#ff8900,#ff7200,#ff4300,#ff1400,#ff3700,#ff6100,#ff8f00,#ffb800,#ffe100,#fffe00,#cf0,#97ff00,#6f0,#39ff00,#0cff00,#00ff1e,#00ff48,#00ff71,#00ff93,#00ffad,#00ffc7,#00ffde,#00ffef,#00efff,#00dbff,#0bf,#008fff,#0079ff,#006dff,#006eff,#0078ff,#0082ff,#008eff,#009bff,#00a6ff,#009aff,#008dff,#0086ff,#008cff,#0092ff,#0097ff,#009aff,#0098ff,#0095ff,#0092ff,#008aff,#0081ff,#0079ff,#0071ff,#006bff,#06f,#0060ff,#005bff,#0056ff,#0051ff,#004cff,#004dff,#005bff,#0068ff,#0071ff,#0079ff,#0082ff,#0089ff,#008fff,#0095ff,#009aff,#0098ff,#0095ff,#008fff,#0084ff,#0079ff,#006eff,#0062ff,#0056ff,#004aff,#003eff,#03f,#0030ff,#002cff,#002dff,#03f,#0038ff,#003dff,#0042ff,#0047ff,#004bff,#0050ff,#0056ff,#005dff,#0063ff,#0069ff,#006cff,#0070ff,#0075ff,#007eff,#08f,#0092ff,#009bff,#00a8ff,#00bcff,#00d5ff,#00f8ff,#00ffe0,#00ffb6,#00ff8c,#0f5,#00ff1b,#1dff00,#54ff00,#92ff00,#e4ff00,#ffce00,#ff7f00,#ff2700,#ff0e00,#ff0400,#ff0d00,#ff2d00,#ff7600,#ffbc00,#fffa00,#a7ff00,#59ff00,#1cff00,#00ff1b,#00ff4b,#00ff7c,#00ffa2,#00ffc6,#00ffea,#00f6ff,#00dcff,#00bdff,#0091ff,#006cff,#004aff,#004aff,#0059ff,#06f,#0068ff,#0069ff,#06f,#005dff,#0053ff,#004bff,#04f,#0040ff,#0046ff,#004bff,#004eff,#0049ff,#0043ff,#003eff,#003aff,#0038ff,#0037ff,#0035ff,#03f,#0031ff,#0030ff,#0037ff,#0040ff,#004aff,#0056ff,#0064ff,#0071ff,#0075ff,#0078ff,#0079ff,#0078ff,#0074ff,#0071ff,#006fff,#006fff,#006fff,#006fff,#006fff,#006fff,#006fff,#006fff,#006fff,#006fff)"></i>
<i style="left:50px;width:3.1px;background:linear-gradient(#003dff,#003dff,#003dff,#0040ff,#0045ff,#004bff,#0050ff,#0058ff,#0061ff,#006bff,#0074ff,#007eff,#0087ff,#008fff,#0091ff,#0093ff,#0094ff,#0096ff,#0098ff,#00a2ff,#00beff,#00e0ff,#00fff7,#00ffcd,#00ffa4,#00ff7a,#00ff4d,#00ff20,#10ff00,#46ff00,#7dff00,#c5ff00,#ffed00,#ff9000,#ff0500,#f10,#ff3400,#ff5c00,#ff8a00,#ffa600,#ffab00,#ffa000,#ff8900,#ff7200,#ff4300,#ff1400,#ff3200,#ff5b00,#ff8900,#ffb400,#ffde00,#fffe00,#cdff00,#9f0,#68ff00,#3bff00,#0eff00,#00ff1d,#00ff46,#00ff6f,#00ff92,#00ffac,#00ffc7,#00ffdf,#00fff2,#00ebff,#00dbff,#00b8ff,#008dff,#007aff,#006cff,#0072ff,#007cff,#0087ff,#0093ff,#00a0ff,#00a8ff,#009cff,#008eff,#0085ff,#008cff,#0093ff,#09f,#009cff,#009aff,#0097ff,#0093ff,#008bff,#0083ff,#007aff,#0072ff,#006cff,#06f,#0061ff,#005bff,#0056ff,#0051ff,#004cff,#004fff,#005cff,#0069ff,#0072ff,#007bff,#0083ff,#008bff,#0091ff,#0097ff,#009cff,#009aff,#0097ff,#0090ff,#0085ff,#007aff,#006fff,#0064ff,#0057ff,#004bff,#003fff,#0034ff,#0030ff,#002dff,#002eff,#03f,#0038ff,#003dff,#0042ff,#0047ff,#004bff,#0050ff,#0056ff,#005dff,#0064ff,#0069ff,#006eff,#0072ff,#0076ff,#007dff,#0086ff,#008fff,#0098ff,#00a4ff,#00b7ff,#00cfff,#00f3ff,#00ffe6,#00ffbc,#00ff92,#00ff5d,#00ff23,#15ff00,#4cff00,#87ff00,#d8ff00,#ffda00,#ff8f00,#ff3400,#ff1400,#ff0100,#ff0900,#ff1500,#ff5d00,#ffa200,#ffe500,#c8ff00,#6fff00,#31ff00,#00ff0a,#00ff3b,#00ff6c,#00ff96,#0fb,#00ffdf,#00fdff,#00e2ff,#00c7ff,#009dff,#0075ff,#0053ff,#0049ff,#0057ff,#0064ff,#0067ff,#0069ff,#0067ff,#005eff,#05f,#004dff,#0045ff,#0040ff,#0045ff,#004aff,#004dff,#0048ff,#0042ff,#003cff,#0039ff,#0037ff,#0035ff,#03f,#0031ff,#002fff,#002dff,#0035ff,#003eff,#0047ff,#0054ff,#0062ff,#0070ff,#0074ff,#0078ff,#0079ff,#07f,#0074ff,#0071ff,#006fff,#006eff,#006eff,#006eff,#006eff,#006eff,#006eff,#006eff,#006eff,#006eff)"></i>
<i style="left:52.5px;width:3.1px;background:linear-gradient(#003dff,#003dff,#003dff,#0040ff,#0045ff,#004bff,#0050ff,#0058ff,#0061ff,#006bff,#0074ff,#007eff,#0087ff,#008fff,#0091ff,#0093ff,#0094ff,#0096ff,#0098ff,#00a2ff,#00beff,#00e0ff,#00fff7,#00ffcd,#00ffa4,#00ff7a,#00ff4d,#00ff20,#10ff00,#46ff00,#7dff00,#c5ff00,#ffed00,#ff9000,#ff0500,#f10,#ff3400,#ff5c00,#ff8a00,#ffa600,#ffab00,#ffa000,#ff8900,#ff7200,#f40,#ff1500,#ff2e00,#f50,#ff8400,#ffb000,#ffdb00,#fffd00,#ceff00,#9aff00,#69ff00,#3cff00,#0fff00,#00ff1b,#0f4,#00ff6d,#00ff91,#00ffac,#00ffc6,#00ffe0,#00fff6,#00e7ff,#00dbff,#00b6ff,#008bff,#0079ff,#006cff,#0076ff,#0080ff,#008bff,#0098ff,#00a4ff,#0af,#009eff,#008eff,#0085ff,#008cff,#0094ff,#009aff,#009dff,#009cff,#09f,#0095ff,#008cff,#0084ff,#007bff,#0073ff,#006dff,#0067ff,#0061ff,#005bff,#0056ff,#0051ff,#004cff,#0050ff,#005dff,#006aff,#0073ff,#007cff,#0085ff,#008cff,#0092ff,#0098ff,#009eff,#009cff,#09f,#0091ff,#0086ff,#007bff,#0070ff,#0065ff,#0059ff,#004cff,#0040ff,#0035ff,#0031ff,#002eff,#002fff,#0034ff,#0039ff,#003eff,#0042ff,#0047ff,#004cff,#0050ff,#0056ff,#005dff,#0065ff,#006aff,#006fff,#0074ff,#07f,#007cff,#0083ff,#008dff,#0096ff,#00a0ff,#00b2ff,#00caff,#00edff,#00ffec,#00ffc2,#00ff98,#00ff65,#00ff2b,#0eff00,#45ff00,#7cff00,#cf0,#ffe500,#ff9d00,#ff4600,#ff1b00,#ff0300,#ff0600,#ff0e00,#f40,#ff8900,#ffcf00,#e8ff00,#8bff00,#47ff00,#08ff00,#00ff2a,#00ff5b,#00ff8a,#00ffaf,#00ffd4,#00fff9,#00e9ff,#0cf,#00a8ff,#007eff,#005cff,#0048ff,#05f,#0062ff,#0067ff,#0068ff,#0068ff,#0060ff,#0057ff,#004fff,#0047ff,#0041ff,#0045ff,#0049ff,#004cff,#0046ff,#0041ff,#003bff,#0037ff,#0035ff,#03f,#0030ff,#002eff,#002cff,#002bff,#03f,#003bff,#0045ff,#0052ff,#0060ff,#006eff,#0073ff,#0078ff,#0078ff,#07f,#0074ff,#0070ff,#006eff,#006eff,#006eff,#006eff,#006eff,#006eff,#006eff,#006eff,#006eff,#006eff)"></i>
<i style="left:55px;width:3.1px;background:linear-gradient(#003dff,#003dff,#003dff,#0040ff,#0045ff,#004bff,#0050ff,#0058ff,#0061ff,#006bff,#0074ff,#007eff,#0087ff,#008fff,#0091ff,#0093ff,#0094ff,#0096ff,#0098ff,#00a2ff,#00beff,#00e0ff,#00fff7,#00ffcd,#00ffa4,#00ff7a,#00ff4d,#00ff20,#10ff00,#46ff00,#7dff00,#c5ff00,#ffed00,#ff9000,#ff0500,#f10,#ff3400,#ff5c00,#ff8a00,#ffa600,#ffab00,#ffa000,#ff8900,#ff7200,#f40,#ff1600,#ff2900,#ff4f00,#ff7e00,#ffac00,#ffd800,#fffd00,#cfff00,#9cff00,#6bff00,#3eff00,#1f0,#00ff1a,#00ff43,#00ff6c,#00ff90,#00ffab,#00ffc6,#00ffe0,#00fff9,#00e4ff,#00daff,#00b3ff,#008bff,#0078ff,#0070ff,#007aff,#0085ff,#0090ff,#009dff,#00a9ff,#00acff,#009fff,#008eff,#0084ff,#008cff,#0095ff,#009bff,#009fff,#009eff,#009bff,#0096ff,#008eff,#0085ff,#007dff,#0074ff,#006eff,#0068ff,#0062ff,#005bff,#0057ff,#0052ff,#004dff,#0051ff,#005eff,#006aff,#0074ff,#007dff,#0086ff,#008eff,#0094ff,#009aff,#009fff,#009fff,#009bff,#0092ff,#0087ff,#007cff,#0071ff,#06f,#005aff,#004dff,#0041ff,#0036ff,#0032ff,#002fff,#0030ff,#0035ff,#003aff,#003eff,#0043ff,#0047ff,#004cff,#0050ff,#0056ff,#005eff,#0065ff,#006bff,#0070ff,#0076ff,#07f,#007aff,#0081ff,#008aff,#0093ff,#009cff,#00acff,#00c5ff,#00e8ff,#00fff1,#00ffc7,#00ff9d,#00ff6d,#0f3,#07ff00,#3dff00,#74ff00,#c0ff00,#fff000,#ffa900,#ff5700,#ff2000,#ff0900,#ff0400,#ff0a00,#ff2d00,#ff7200,#ffb400,#fff900,#abff00,#5dff00,#1eff00,#00ff1a,#00ff4a,#00ff7b,#00ffa3,#00ffc8,#0fe,#00f0ff,#00d3ff,#00b3ff,#0089ff,#0065ff,#0048ff,#0054ff,#0060ff,#06f,#0067ff,#0068ff,#0061ff,#0058ff,#0050ff,#0049ff,#0042ff,#0045ff,#0048ff,#004aff,#0045ff,#003fff,#003aff,#0036ff,#03f,#0030ff,#002eff,#002cff,#0029ff,#0028ff,#0031ff,#0039ff,#0043ff,#0050ff,#005fff,#006dff,#0072ff,#07f,#0078ff,#0076ff,#0073ff,#0070ff,#006eff,#006dff,#006dff,#006dff,#006dff,#006dff,#006dff,#006dff,#006dff,#006dff)"></i>
<i style="left:57.5px;width:3.1px;background:linear-gradient(#0040ff,#0040ff,#0040ff,#0042ff,#0047ff,#004cff,#0050ff,#0058ff,#0062ff,#006bff,#0075ff,#007eff,#0087ff,#008fff,#0090ff,#0091ff,#0092ff,#0094ff,#0097ff,#009fff,#00baff,#00daff,#00fffd,#00ffd4,#00ffab,#00ff82,#00ff56,#00ff29,#04ff00,#37ff00,#6aff00,#abff00,#f2ff00,#ffb600,#f40,#ff0d00,#ff2500,#ff4a00,#ff7500,#ff9c00,#ffa200,#ff9c00,#ff8500,#ff6f00,#f40,#ff1800,#ff2500,#ff4800,#ff7800,#ffa700,#ffd500,#fffc00,#d0ff00,#9dff00,#6cff00,#3fff00,#12ff00,#00ff18,#00ff41,#00ff6a,#00ff8f,#0fa,#00ffc5,#00ffe0,#00fffc,#00e2ff,#00daff,#00b0ff,#008cff,#0076ff,#0074ff,#007eff,#0089ff,#0095ff,#00a2ff,#00adff,#00adff,#00a1ff,#008eff,#0083ff,#008dff,#0096ff,#009cff,#00a0ff,#00a0ff,#009dff,#0098ff,#008fff,#0087ff,#007eff,#0076ff,#006fff,#0069ff,#0062ff,#005cff,#0057ff,#0052ff,#004dff,#0052ff,#005eff,#006bff,#0075ff,#007eff,#08f,#0090ff,#0096ff,#009cff,#00a1ff,#00a1ff,#009cff,#0093ff,#0089ff,#007eff,#0073ff,#0067ff,#005bff,#004eff,#0041ff,#0036ff,#03f,#0030ff,#0031ff,#0036ff,#003aff,#003fff,#0043ff,#0047ff,#004cff,#0050ff,#0056ff,#005eff,#06f,#006cff,#0072ff,#07f,#07f,#0079ff,#007fff,#08f,#0090ff,#0098ff,#00a7ff,#00c1ff,#00e3ff,#00fff7,#00ffcd,#00ffa3,#00ff75,#00ff3b,#00ff01,#36ff00,#6dff00,#b5ff00,#fffb00,#ffb500,#ff6700,#ff2600,#ff0f00,#ff0200,#ff0700,#ff1600,#ff5a00,#ff9b00,#ffe100,#cbff00,#73ff00,#34ff00,#00ff09,#00ff3a,#00ff6a,#00ff96,#00ffbc,#00ffe2,#00f8ff,#00daff,#00bcff,#0094ff,#006eff,#0050ff,#0053ff,#005eff,#06f,#0067ff,#0068ff,#0062ff,#005aff,#0052ff,#004aff,#0043ff,#0045ff,#0047ff,#0049ff,#0043ff,#003eff,#0038ff,#0034ff,#0031ff,#002eff,#002cff,#0029ff,#0026ff,#0027ff,#002eff,#0036ff,#0040ff,#004fff,#005dff,#006bff,#0071ff,#07f,#07f,#0076ff,#0073ff,#0070ff,#006dff,#006cff,#006cff,#006cff,#006cff,#006cff,#006cff,#006cff,#006cff,#006cff)"></i>
<i style="left:60px;width:3.1px;background:linear-gradient(#04f,#04f,#04f,#0046ff,#004aff,#004eff,#0052ff,#005aff,#0063ff,#006dff,#0076ff,#007fff,#08f,#008eff,#008fff,#008fff,#008fff,#008fff,#0094ff,#09f,#00b2ff,#00cfff,#00f5ff,#00ffe1,#00ffb9,#00ff91,#00ff67,#00ff3b,#00ff0f,#1eff00,#4aff00,#7dff00,#bfff00,#fff800,#ffa100,#ff3c00,#ff1600,#ff2d00,#ff4e00,#ff7900,#ff8f00,#ff9300,#ff7d00,#ff6700,#ff4300,#ff1800,#ff2000,#ff4200,#ff7200,#ffa200,#ffd200,#fffb00,#d1ff00,#9fff00,#6eff00,#41ff00,#14ff00,#00ff17,#00ff3f,#00ff68,#00ff8e,#00ffa9,#00ffc5,#00ffe0,#0ff,#00e0ff,#00d9ff,#00aeff,#008bff,#0072ff,#0078ff,#0082ff,#008eff,#009aff,#00a6ff,#00b2ff,#00afff,#00a2ff,#008fff,#0083ff,#008dff,#0097ff,#009eff,#00a2ff,#00a2ff,#009fff,#09f,#0090ff,#08f,#007fff,#07f,#0070ff,#0069ff,#0062ff,#005cff,#0057ff,#0052ff,#004eff,#0054ff,#005fff,#006cff,#0076ff,#007fff,#0089ff,#0091ff,#0098ff,#009eff,#00a3ff,#00a4ff,#009eff,#0094ff,#008aff,#007fff,#0074ff,#0068ff,#005cff,#004fff,#0042ff,#0037ff,#0034ff,#0031ff,#03f,#0037ff,#003bff,#003fff,#0043ff,#0048ff,#004cff,#0050ff,#0057ff,#005fff,#06f,#006dff,#0073ff,#0079ff,#0078ff,#07f,#007cff,#0085ff,#008dff,#0094ff,#00a1ff,#0bf,#0df,#00fffc,#00ffd3,#00ffa9,#00ff7d,#00ff43,#00ff09,#2fff00,#65ff00,#af0,#f8ff00,#ffc100,#f70,#ff2c00,#ff1500,#f00,#ff0500,#ff0a00,#ff4300,#ff8300,#ffc800,#ebff00,#90ff00,#4aff00,#0aff00,#00ff29,#00ff5a,#00ff89,#00ffb0,#00ffd6,#00fffd,#00e2ff,#00c3ff,#009fff,#07f,#0056ff,#0052ff,#005cff,#06f,#06f,#0067ff,#0063ff,#005bff,#0053ff,#004cff,#04f,#0045ff,#0046ff,#0047ff,#0042ff,#003cff,#0037ff,#03f,#002fff,#002cff,#0029ff,#0027ff,#0024ff,#0025ff,#002cff,#03f,#003eff,#004dff,#005cff,#0069ff,#0071ff,#07f,#07f,#0075ff,#0072ff,#006fff,#006dff,#006bff,#006bff,#006bff,#006bff,#006bff,#006bff,#006bff,#006bff,#006bff)"></i>
<i style="left:62.5px;width:3.1px;background:linear-gradient(#0049ff,#0049ff,#0049ff,#004bff,#004dff,#0050ff,#0053ff,#005bff,#0064ff,#006eff,#07f,#0081ff,#008aff,#008eff,#008eff,#008dff,#008cff,#008bff,#0090ff,#0097ff,#00abff,#00c6ff,#00eaff,#00ffed,#00ffc6,#00ff9f,#0f7,#00ff4c,#00ff21,#09ff00,#31ff00,#5bff00,#90ff00,#d2ff00,#ffe200,#ff8d00,#ff3800,#ff1f00,#f30,#ff5200,#ff7c00,#ff8100,#ff7400,#ff5f00,#ff4200,#ff1900,#ff1c00,#ff3c00,#ff6c00,#ff9d00,#ffce00,#fffa00,#d3ff00,#a0ff00,#6fff00,#42ff00,#15ff00,#00ff15,#00ff3e,#0f6,#00ff8d,#00ffa9,#00ffc4,#00ffe0,#00fcff,#00dfff,#00d7ff,#00abff,#0089ff,#0073ff,#007cff,#0087ff,#0093ff,#009fff,#00abff,#00b6ff,#00b1ff,#00a4ff,#008fff,#0082ff,#008dff,#0098ff,#009fff,#00a3ff,#00a4ff,#00a0ff,#009aff,#0092ff,#0089ff,#0081ff,#0078ff,#0071ff,#006aff,#0063ff,#005cff,#0057ff,#0053ff,#004eff,#05f,#0060ff,#006dff,#07f,#0081ff,#008bff,#0093ff,#009aff,#00a0ff,#00a5ff,#00a7ff,#009fff,#0095ff,#008bff,#0080ff,#0075ff,#006aff,#005dff,#0050ff,#0043ff,#0038ff,#0035ff,#0032ff,#0034ff,#0038ff,#003cff,#0040ff,#04f,#0048ff,#004cff,#0050ff,#0057ff,#005fff,#0067ff,#006eff,#0075ff,#007aff,#0078ff,#0075ff,#007aff,#0083ff,#008bff,#0091ff,#009bff,#00b6ff,#00d8ff,#00fdff,#00ffd8,#00ffaf,#00ff85,#00ff4b,#0f1,#27ff00,#5eff00,#9fff00,#ecff00,#fc0,#ff8500,#ff3700,#ff1b00,#ff0400,#ff0300,#ff0700,#ff2c00,#ff6d00,#ffab00,#fff600,#b0ff00,#60ff00,#20ff00,#00ff18,#00ff49,#00ff7a,#00ffa3,#00ffca,#00fff1,#00eaff,#00caff,#00a8ff,#0081ff,#005eff,#0052ff,#005bff,#0065ff,#06f,#06f,#0063ff,#005dff,#05f,#004dff,#0046ff,#0045ff,#0045ff,#0046ff,#0040ff,#003bff,#0035ff,#0031ff,#002eff,#002aff,#0027ff,#0024ff,#0021ff,#0023ff,#002aff,#0031ff,#003cff,#004bff,#005aff,#0067ff,#0070ff,#07f,#0076ff,#0075ff,#0072ff,#006fff,#006cff,#006bff,#006bff,#006bff,#006bff,#006bff,#006bff,#006bff,#006bff,#006bff)"></i>
<i style="left:65px;width:3.1px;background:linear-gradient(#004eff,#004eff,#004eff,#004fff,#0051ff,#0052ff,#0054ff,#005cff,#0065ff,#006fff,#0078ff,#0082ff,#008bff,#008eff,#008eff,#008cff,#008aff,#0087ff,#008aff,#0094ff,#00a4ff,#00bdff,#00dfff,#00fff9,#00ffd3,#00ffad,#00ff86,#00ff5d,#0f3,#00ff09,#1bff00,#3fff00,#6bff00,#a1ff00,#e4ff00,#ffcd00,#ff7e00,#ff3800,#ff2600,#ff3700,#ff5600,#ff6f00,#ff6c00,#ff5700,#ff4000,#ff1900,#ff1800,#ff3700,#f60,#ff9700,#ffcb00,#fffa00,#d4ff00,#a2ff00,#71ff00,#4f0,#17ff00,#00ff14,#00ff3c,#00ff64,#00ff8c,#00ffa8,#00ffc4,#00ffdf,#00f9ff,#00dfff,#00d5ff,#00a8ff,#0085ff,#07f,#0080ff,#008bff,#0097ff,#00a4ff,#00afff,#00baff,#00b2ff,#00a5ff,#008fff,#0082ff,#008dff,#09f,#00a0ff,#00a5ff,#00a7ff,#00a2ff,#009bff,#0093ff,#008bff,#0082ff,#0079ff,#0072ff,#006bff,#0063ff,#005cff,#0057ff,#0053ff,#004fff,#0056ff,#0061ff,#006eff,#0078ff,#0082ff,#008cff,#0094ff,#009bff,#00a2ff,#00a7ff,#00a8ff,#00a1ff,#0097ff,#008cff,#0081ff,#0076ff,#006bff,#005eff,#0051ff,#04f,#0039ff,#0036ff,#03f,#0035ff,#0038ff,#003cff,#0040ff,#04f,#0048ff,#004cff,#0050ff,#0057ff,#005fff,#0068ff,#006fff,#0076ff,#007cff,#07f,#0074ff,#0078ff,#0080ff,#08f,#008eff,#0096ff,#00b1ff,#00d2ff,#00f8ff,#00ffde,#00ffb4,#00ff8b,#00ff53,#00ff19,#20ff00,#57ff00,#95ff00,#e1ff00,#ffd700,#ff9200,#ff4700,#ff2000,#ff0a00,#ff0100,#ff0500,#ff1600,#ff5700,#ff9300,#fd0,#cfff00,#7f0,#37ff00,#00ff08,#00ff38,#00ff69,#00ff96,#00ffbd,#00ffe5,#00f3ff,#00d2ff,#00b1ff,#008bff,#0067ff,#0052ff,#005aff,#0063ff,#06f,#06f,#0064ff,#005eff,#0056ff,#004fff,#0048ff,#0045ff,#0045ff,#04f,#003fff,#0039ff,#0034ff,#0030ff,#002cff,#0028ff,#0025ff,#0021ff,#001eff,#0021ff,#0027ff,#002eff,#003aff,#0049ff,#0058ff,#06f,#006fff,#0076ff,#0076ff,#0074ff,#0072ff,#006eff,#006cff,#006aff,#006aff,#006aff,#006aff,#006aff,#006aff,#006aff,#006aff,#006aff)"></i>
<i style="left:67.5px;width:3.1px;background:linear-gradient(#0053ff,#0053ff,#0053ff,#0053ff,#0054ff,#05f,#0056ff,#005dff,#0067ff,#0070ff,#007aff,#0083ff,#008cff,#008fff,#008eff,#008bff,#0087ff,#0084ff,#0084ff,#0090ff,#009eff,#00b5ff,#00d5ff,#00faff,#00ffdf,#00ffba,#00ff94,#00ff6d,#00ff43,#00ff1a,#0aff00,#2aff00,#4dff00,#7bff00,#b3ff00,#f5ff00,#ffb900,#ff7500,#ff3b00,#ff2c00,#ff3900,#ff5700,#ff5f00,#ff4e00,#ff3b00,#ff1800,#ff1400,#f30,#ff6000,#ff9100,#ffc700,#fff900,#d5ff00,#a3ff00,#73ff00,#45ff00,#18ff00,#00ff13,#00ff3b,#00ff63,#00ff8b,#00ffa7,#00ffc3,#00ffdf,#00f6ff,#00e0ff,#00d2ff,#00a6ff,#007fff,#007bff,#0084ff,#0090ff,#009cff,#00a9ff,#00b4ff,#00beff,#00b4ff,#00a7ff,#008fff,#0081ff,#008dff,#009aff,#00a2ff,#00a6ff,#00a9ff,#00a4ff,#009dff,#0094ff,#008cff,#0083ff,#007bff,#0073ff,#006cff,#0064ff,#005cff,#0058ff,#0053ff,#004fff,#0056ff,#0062ff,#006fff,#0079ff,#0083ff,#008dff,#0096ff,#009dff,#00a5ff,#00a9ff,#0af,#00a2ff,#0098ff,#008eff,#0083ff,#07f,#006cff,#005fff,#0052ff,#0045ff,#003aff,#0037ff,#0035ff,#0036ff,#0039ff,#003dff,#0040ff,#04f,#0048ff,#004cff,#0050ff,#0057ff,#0060ff,#0068ff,#0070ff,#0078ff,#007dff,#07f,#0072ff,#0075ff,#007eff,#0085ff,#008aff,#0091ff,#00abff,#0cf,#00f2ff,#00ffe4,#00ffba,#00ff90,#00ff5b,#00ff20,#18ff00,#4fff00,#8aff00,#d5ff00,#ffe100,#ff9f00,#ff5600,#ff2600,#ff1000,#f00,#ff0300,#ff0600,#ff4100,#ff7e00,#ffc100,#edff00,#95ff00,#4dff00,#0cff00,#00ff28,#00ff59,#00ff89,#00ffb1,#00ffd9,#00feff,#00dbff,#00b9ff,#0095ff,#0070ff,#0056ff,#005aff,#0062ff,#06f,#0065ff,#0064ff,#005fff,#0058ff,#0050ff,#0049ff,#0045ff,#04f,#0043ff,#003eff,#0038ff,#0032ff,#002eff,#002aff,#0026ff,#02f,#001eff,#001bff,#001fff,#0025ff,#002bff,#0038ff,#0047ff,#0057ff,#0064ff,#006eff,#0076ff,#0075ff,#0074ff,#0071ff,#006eff,#006bff,#0069ff,#0069ff,#0069ff,#0069ff,#0069ff,#0069ff,#0069ff,#0069ff,#0069ff)"></i>
<i style="left:70px;width:3.1px;background:linear-gradient(#0058ff,#0058ff,#0058ff,#0058ff,#0057ff,#0057ff,#0057ff,#005eff,#0068ff,#0071ff,#007bff,#0084ff,#008eff,#0090ff,#008eff,#008aff,#0086ff,#0082ff,#007eff,#008bff,#09f,#00afff,#00caff,#00efff,#00ffea,#00ffc6,#00ffa2,#00ff7c,#00ff54,#00ff2b,#00ff06,#18ff00,#36ff00,#5cff00,#89ff00,#c5ff00,#fff600,#ffa500,#ff7000,#ff3f00,#ff3200,#ff3800,#ff4f00,#ff4500,#f30,#ff1700,#f10,#ff2e00,#ff5900,#ff8b00,#ffc300,#fff800,#d6ff00,#a5ff00,#74ff00,#47ff00,#1aff00,#0f1,#00ff39,#00ff61,#00ff89,#00ffa6,#00ffc2,#00ffdf,#00f3ff,#00e2ff,#00cfff,#00a3ff,#0076ff,#007fff,#08f,#0095ff,#00a1ff,#00aeff,#00b8ff,#00c2ff,#00b6ff,#00a8ff,#008fff,#0081ff,#008eff,#009bff,#00a3ff,#00a8ff,#00abff,#00a6ff,#009eff,#0096ff,#008dff,#0085ff,#007cff,#0074ff,#006cff,#0064ff,#005dff,#0058ff,#0054ff,#004fff,#0057ff,#0062ff,#006fff,#007aff,#0084ff,#008fff,#0098ff,#009fff,#00a7ff,#00acff,#00acff,#00a3ff,#09f,#008fff,#0084ff,#0079ff,#006dff,#0061ff,#0053ff,#0046ff,#003aff,#0038ff,#0036ff,#0037ff,#003aff,#003dff,#0041ff,#0045ff,#0049ff,#004cff,#0050ff,#0057ff,#0060ff,#0069ff,#0071ff,#0079ff,#007eff,#07f,#0070ff,#0073ff,#007bff,#0083ff,#0087ff,#008eff,#00a5ff,#00c6ff,#00edff,#00ffe9,#00ffc0,#00ff96,#00ff63,#00ff28,#1f0,#48ff00,#80ff00,#caff00,#ffec00,#fa0,#ff6400,#ff2b00,#ff1600,#ff0100,#ff0200,#ff0400,#ff2b00,#ff6900,#ffa300,#fff400,#b4ff00,#64ff00,#23ff00,#00ff17,#00ff48,#00ff79,#00ffa3,#0fc,#00fff4,#00e5ff,#00c2ff,#009eff,#0079ff,#005aff,#005aff,#0061ff,#06f,#0065ff,#0064ff,#0061ff,#0059ff,#0052ff,#004bff,#0046ff,#04f,#0041ff,#003cff,#0037ff,#0031ff,#002cff,#0028ff,#0023ff,#0020ff,#001cff,#0018ff,#001cff,#02f,#0028ff,#0036ff,#0046ff,#05f,#0063ff,#006eff,#0076ff,#0075ff,#0073ff,#0071ff,#006eff,#006bff,#0068ff,#0068ff,#0068ff,#0068ff,#0068ff,#0068ff,#0068ff,#0068ff,#0068ff)"></i>
<i style="left:72.5px;width:3.1px;background:linear-gradient(#005cff,#005cff,#005cff,#005cff,#005bff,#005aff,#0059ff,#0060ff,#0069ff,#0072ff,#007cff,#0085ff,#008fff,#0092ff,#008fff,#008aff,#0084ff,#007fff,#007aff,#0085ff,#0095ff,#00a9ff,#00c1ff,#00e4ff,#00fff6,#00ffd2,#00ffaf,#00ff8b,#00ff64,#00ff3c,#00ff14,#08ff00,#23ff00,#40ff00,#69ff00,#97ff00,#d6ff00,#ffe200,#ff9600,#ff6d00,#ff4500,#ff3600,#ff3800,#ff3d00,#ff2a00,#ff1400,#ff0d00,#ff2a00,#ff5300,#ff8500,#ffbe00,#fff700,#d7ff00,#a6ff00,#76ff00,#48ff00,#1bff00,#00ff10,#00ff37,#00ff5f,#00ff87,#00ffa5,#00ffc2,#00ffde,#00f1ff,#00e6ff,#00cdff,#009dff,#007aff,#0083ff,#008dff,#09f,#00a6ff,#00b3ff,#00bdff,#00c5ff,#00b7ff,#00a9ff,#008fff,#0080ff,#008eff,#009cff,#00a4ff,#00a9ff,#00aeff,#00a7ff,#009fff,#0097ff,#008fff,#0086ff,#007dff,#0075ff,#006dff,#0065ff,#005dff,#0058ff,#0054ff,#0050ff,#0058ff,#0063ff,#0070ff,#007bff,#0086ff,#0090ff,#09f,#00a1ff,#00a9ff,#00afff,#00adff,#00a4ff,#009aff,#0090ff,#0085ff,#007aff,#006fff,#0062ff,#0054ff,#0047ff,#003bff,#0039ff,#0037ff,#0038ff,#003bff,#003eff,#0041ff,#0045ff,#0049ff,#004dff,#0050ff,#0058ff,#0061ff,#006aff,#0073ff,#007bff,#007fff,#0076ff,#006eff,#0071ff,#0079ff,#0080ff,#0084ff,#008aff,#009fff,#00c0ff,#00e7ff,#00ffef,#00ffc5,#00ff9c,#00ff6b,#00ff30,#09ff00,#40ff00,#7f0,#c0ff00,#fff600,#ffb500,#ff7100,#ff3000,#ff1b00,#ff0600,#ff0100,#ff0200,#ff1500,#ff5400,#ff8c00,#ffd700,#d2ff00,#7cff00,#3aff00,#00ff06,#00ff37,#00ff68,#00ff96,#00ffbf,#00ffe8,#00efff,#00cbff,#00a7ff,#0083ff,#0060ff,#005bff,#0061ff,#06f,#0065ff,#0064ff,#0061ff,#005bff,#0053ff,#004cff,#0047ff,#0043ff,#0040ff,#003bff,#0035ff,#0030ff,#002bff,#0026ff,#0021ff,#001dff,#0019ff,#0015ff,#001aff,#0020ff,#0025ff,#0034ff,#04f,#0054ff,#0061ff,#006dff,#0075ff,#0074ff,#0073ff,#0071ff,#006dff,#006aff,#0068ff,#0068ff,#0068ff,#0068ff,#0068ff,#0068ff,#0068ff,#0068ff,#0068ff)"></i>
<i style="left:75px;width:3.1px;background:linear-gradient(#0061ff,#0061ff,#0061ff,#0060ff,#005eff,#005dff,#005bff,#0061ff,#006aff,#0074ff,#007dff,#0087ff,#0090ff,#0095ff,#0090ff,#008aff,#0083ff,#007dff,#07f,#007eff,#0090ff,#00a3ff,#00b7ff,#00daff,#00feff,#0fd,#0fb,#00ff98,#00ff73,#00ff4c,#00ff25,#00ff05,#14ff00,#2cff00,#4eff00,#7f0,#a8ff00,#e7ff00,#ffce00,#ff8f00,#ff6d00,#ff4b00,#ff3700,#ff3100,#ff2000,#ff1000,#ff0900,#ff2600,#ff4c00,#ff7f00,#ffb900,#fff600,#d8ff00,#a8ff00,#7f0,#4aff00,#1dff00,#00ff0e,#00ff36,#00ff5d,#00ff85,#00ffa4,#00ffc1,#00ffde,#00efff,#00ecff,#00caff,#0095ff,#007eff,#0087ff,#0091ff,#009eff,#00abff,#00b7ff,#00c1ff,#00c7ff,#00b9ff,#00abff,#008fff,#0080ff,#008eff,#009dff,#00a6ff,#00abff,#00b0ff,#00a9ff,#00a1ff,#0098ff,#0090ff,#0087ff,#007fff,#0076ff,#006eff,#06f,#005dff,#0058ff,#0054ff,#0052ff,#0059ff,#0064ff,#0071ff,#007cff,#0087ff,#0092ff,#009bff,#00a3ff,#00abff,#00b2ff,#00afff,#00a5ff,#009cff,#0091ff,#0086ff,#007bff,#0070ff,#0063ff,#05f,#0047ff,#003cff,#003aff,#0038ff,#0039ff,#003cff,#003fff,#0042ff,#0045ff,#0049ff,#004dff,#0050ff,#0058ff,#0061ff,#006bff,#0074ff,#007dff,#0080ff,#0076ff,#006bff,#006eff,#0076ff,#007dff,#0082ff,#0086ff,#09f,#00baff,#00e1ff,#00fff5,#00ffcb,#00ffa1,#00ff73,#00ff38,#02ff00,#39ff00,#70ff00,#b5ff00,#feff00,#ffbf00,#ff7e00,#ff3b00,#ff2000,#ff0c00,#f00,#ff0100,#ff0200,#ff3e00,#ff7800,#ffb900,#f0ff00,#9aff00,#51ff00,#0eff00,#00ff26,#00ff57,#0f8,#00ffb1,#00ffdb,#00faff,#00d4ff,#00afff,#008cff,#0069ff,#005cff,#0060ff,#0065ff,#0065ff,#0064ff,#0062ff,#005cff,#05f,#004eff,#0047ff,#0043ff,#003fff,#0039ff,#0034ff,#002eff,#0029ff,#0024ff,#001fff,#001aff,#0016ff,#0013ff,#0018ff,#001dff,#0023ff,#0032ff,#0042ff,#0052ff,#0060ff,#006cff,#0075ff,#0074ff,#0072ff,#0070ff,#006dff,#006aff,#0067ff,#0067ff,#0067ff,#0067ff,#0067ff,#0067ff,#0067ff,#0067ff,#0067ff)"></i>
<i style="left:77.5px;width:3.1px;background:linear-gradient(#06f,#06f,#06f,#0065ff,#0062ff,#005fff,#005dff,#0062ff,#006bff,#0075ff,#007eff,#08f,#0091ff,#0098ff,#0091ff,#008aff,#0083ff,#007cff,#0075ff,#07f,#008aff,#009eff,#00b1ff,#00d0ff,#00f3ff,#00ffe8,#00ffc7,#00ffa5,#00ff82,#00ff5b,#00ff35,#0f1,#06ff00,#1dff00,#34ff00,#5bff00,#82ff00,#b9ff00,#f8ff00,#ffbc00,#ff8a00,#ff6f00,#ff5300,#f30,#ff1500,#ff0900,#ff0600,#ff2100,#ff4600,#ff7900,#ffb400,#fff500,#d9ff00,#a9ff00,#79ff00,#4cff00,#1eff00,#00ff0d,#00ff34,#00ff5c,#00ff83,#00ffa3,#00ffc0,#0fd,#00edff,#00f4ff,#00c7ff,#0089ff,#0082ff,#008bff,#0096ff,#00a3ff,#00b0ff,#00bcff,#00c5ff,#00c8ff,#00baff,#00abff,#008fff,#007fff,#008eff,#009eff,#00a7ff,#00adff,#00b2ff,#0af,#00a2ff,#009aff,#0091ff,#0089ff,#0080ff,#07f,#006fff,#06f,#005eff,#0059ff,#05f,#0053ff,#005aff,#0065ff,#0072ff,#007dff,#08f,#0093ff,#009dff,#00a5ff,#00adff,#00b6ff,#00b0ff,#00a7ff,#009dff,#0092ff,#0087ff,#007cff,#0071ff,#0064ff,#0056ff,#0048ff,#003dff,#003bff,#0039ff,#003aff,#003cff,#003fff,#0042ff,#0045ff,#0049ff,#004dff,#0050ff,#0058ff,#0062ff,#006bff,#0075ff,#007fff,#0080ff,#0075ff,#0069ff,#006cff,#0073ff,#007bff,#007fff,#0083ff,#0093ff,#00b3ff,#00dbff,#00fffa,#00ffd1,#00ffa7,#00ff7b,#00ff40,#00ff06,#31ff00,#68ff00,#abff00,#f3ff00,#ffca00,#ff8a00,#ff4800,#ff2500,#f10,#f00,#f00,#f00,#ff2900,#ff6400,#ff9a00,#fff100,#b8ff00,#68ff00,#25ff00,#00ff16,#00ff47,#00ff78,#00ffa4,#00ffcd,#00fff7,#00dfff,#00b9ff,#0094ff,#0072ff,#005dff,#0061ff,#0065ff,#0065ff,#0063ff,#0062ff,#005dff,#0056ff,#004fff,#0049ff,#0043ff,#003dff,#0038ff,#0032ff,#002dff,#0027ff,#02f,#001dff,#0018ff,#0013ff,#01f,#0015ff,#001aff,#0020ff,#0030ff,#0040ff,#0051ff,#005eff,#006cff,#0075ff,#0073ff,#0072ff,#0070ff,#006dff,#0069ff,#06f,#06f,#06f,#06f,#06f,#06f,#06f,#06f,#06f)"></i>
<i style="left:80px;width:3.1px;background:linear-gradient(#0069ff,#0069ff,#0069ff,#0069ff,#0067ff,#0064ff,#0061ff,#0062ff,#006bff,#0074ff,#007dff,#0087ff,#0090ff,#09f,#0095ff,#008eff,#0087ff,#007fff,#0079ff,#0075ff,#08f,#009bff,#00afff,#00c9ff,#00ecff,#00ffef,#00ffce,#00ffad,#00ff8b,#00ff65,#00ff3f,#00ff1a,#0f0,#17ff00,#2eff00,#51ff00,#78ff00,#a8ff00,#e6ff00,#ffd300,#ff9300,#ff7900,#ff5e00,#ff4000,#f20,#ff0f00,#ff0300,#ff1600,#f30,#ff6500,#ff9b00,#ffdc00,#ebff00,#baff00,#8aff00,#5bff00,#2eff00,#01ff00,#00ff26,#00ff4d,#00ff74,#00ff98,#00ffb5,#00ffd2,#00fff6,#00ceff,#00d7ff,#00a0ff,#0084ff,#008dff,#0097ff,#00a4ff,#00b1ff,#00bcff,#00c5ff,#00c6ff,#00b8ff,#00a7ff,#008aff,#0080ff,#0090ff,#00a0ff,#00a8ff,#00adff,#00b3ff,#00acff,#00a3ff,#009bff,#0092ff,#008aff,#0081ff,#0079ff,#0070ff,#0067ff,#005fff,#005aff,#0056ff,#05f,#005bff,#06f,#0074ff,#007eff,#0089ff,#0094ff,#009eff,#00a6ff,#00adff,#00b5ff,#00b1ff,#00a7ff,#009dff,#0093ff,#08f,#007dff,#0072ff,#0065ff,#0057ff,#004aff,#003eff,#003cff,#003aff,#003bff,#003dff,#003fff,#0042ff,#0045ff,#0048ff,#004cff,#0050ff,#0057ff,#0061ff,#006aff,#0073ff,#007cff,#007fff,#0073ff,#0067ff,#0067ff,#006eff,#0076ff,#007aff,#007fff,#008dff,#00acff,#00d4ff,#00fdff,#00ffd8,#00ffaf,#00ff86,#00ff4c,#00ff12,#25ff00,#5bff00,#98ff00,#e0ff00,#ffdb00,#ff9c00,#ff5a00,#ff2b00,#ff1600,#ff0200,#f00,#f00,#ff1800,#f50,#ff8b00,#ffd700,#d4ff00,#81ff00,#3dff00,#00ff05,#00ff36,#00ff67,#00ff96,#00ffc0,#00ffeb,#00eaff,#00c4ff,#009fff,#007eff,#005fff,#0061ff,#0064ff,#06f,#0064ff,#0063ff,#0060ff,#005aff,#0053ff,#004dff,#0047ff,#0042ff,#003dff,#0038ff,#0032ff,#002cff,#0027ff,#0021ff,#001cff,#0017ff,#0013ff,#0018ff,#001dff,#02f,#0031ff,#0041ff,#0050ff,#005eff,#006bff,#0073ff,#0072ff,#0071ff,#006fff,#006cff,#0069ff,#06f,#06f,#06f,#06f,#06f,#06f,#06f,#06f,#06f)"></i>
<i style="left:82.5px;width:3.1px;background:linear-gradient(#006cff,#006cff,#006cff,#006cff,#006bff,#0069ff,#06f,#0064ff,#006aff,#0073ff,#007cff,#0085ff,#008fff,#0098ff,#09f,#0092ff,#008bff,#0083ff,#007dff,#0078ff,#0086ff,#09f,#00acff,#00c3ff,#00e5ff,#00fff6,#00ffd5,#00ffb4,#00ff93,#00ff6e,#00ff49,#00ff24,#00ff07,#1f0,#29ff00,#47ff00,#6eff00,#98ff00,#d5ff00,#ffe900,#ffa100,#ff8200,#ff6700,#ff4c00,#ff2f00,#ff1700,#ff0900,#ff0a00,#ff2700,#ff5000,#ff8400,#ffc300,#fdff00,#cf0,#9bff00,#6bff00,#3eff00,#1f0,#00ff18,#00ff3f,#00ff65,#00ff8c,#00ffa9,#00ffc6,#00ffe3,#0df,#00e7ff,#00b7ff,#0087ff,#008fff,#0098ff,#00a4ff,#00b1ff,#00bcff,#00c4ff,#00c4ff,#00b5ff,#00a3ff,#0086ff,#0082ff,#0092ff,#00a2ff,#00a9ff,#00aeff,#00b4ff,#00adff,#00a5ff,#009cff,#0094ff,#008bff,#0082ff,#007aff,#0071ff,#0068ff,#0060ff,#005aff,#0058ff,#0056ff,#005dff,#0068ff,#0075ff,#0080ff,#008bff,#0095ff,#009fff,#00a7ff,#00aeff,#00b4ff,#00b1ff,#00a8ff,#009eff,#0093ff,#08f,#007dff,#0072ff,#0065ff,#0058ff,#004bff,#0040ff,#003eff,#003bff,#003bff,#003dff,#003fff,#0041ff,#04f,#0048ff,#004bff,#004fff,#0056ff,#0060ff,#0069ff,#0072ff,#007aff,#007dff,#0071ff,#0065ff,#0063ff,#0069ff,#0070ff,#0076ff,#007aff,#0087ff,#00a7ff,#00cdff,#00f5ff,#00ffe0,#00ffb7,#00ff8e,#00ff58,#00ff1e,#19ff00,#4eff00,#85ff00,#cdff00,#ffec00,#ffae00,#ff6d00,#ff3200,#ff1c00,#ff0600,#f00,#f00,#ff0800,#f40,#ff7c00,#ffbf00,#ef0,#9dff00,#54ff00,#1f0,#00ff25,#00ff56,#00ff87,#00ffb2,#0fd,#00f6ff,#00d0ff,#00abff,#0089ff,#0068ff,#0062ff,#0063ff,#06f,#0065ff,#0064ff,#0063ff,#005dff,#0057ff,#0051ff,#004bff,#0047ff,#0042ff,#003dff,#0038ff,#0032ff,#002cff,#0026ff,#0020ff,#001bff,#0016ff,#001bff,#001fff,#0024ff,#0032ff,#0041ff,#0050ff,#005dff,#006aff,#0072ff,#0071ff,#0070ff,#006eff,#006cff,#0069ff,#06f,#06f,#06f,#06f,#06f,#06f,#06f,#06f,#06f)"></i>
<i style="left:85px;width:3.1px;background:linear-gradient(#0070ff,#0070ff,#0070ff,#0070ff,#006fff,#006dff,#006bff,#0069ff,#006aff,#0072ff,#007bff,#0084ff,#008eff,#0097ff,#009eff,#0096ff,#008fff,#0087ff,#0080ff,#007cff,#0084ff,#0097ff,#0af,#00bdff,#00dfff,#00fffd,#00ffdc,#0fb,#00ff9a,#0f7,#00ff53,#00ff2e,#00ff0d,#0bff00,#23ff00,#3eff00,#65ff00,#8bff00,#c4ff00,#fffd00,#ffb800,#ff8a00,#ff7000,#ff5600,#ff3b00,#ff2100,#ff1000,#ff0100,#ff1c00,#ff3c00,#ff7000,#ffa900,#ffec00,#deff00,#adff00,#7bff00,#4eff00,#21ff00,#00ff0b,#00ff31,#00ff57,#00ff7d,#00ff9e,#0fb,#00ffd8,#00f8ff,#00f6ff,#00c9ff,#008bff,#0092ff,#09f,#00a5ff,#00b1ff,#0bf,#00c4ff,#00c2ff,#00b2ff,#009fff,#0082ff,#0084ff,#0094ff,#00a4ff,#0af,#00afff,#00b4ff,#00aeff,#00a6ff,#009eff,#0095ff,#008cff,#0083ff,#007bff,#0072ff,#006aff,#0061ff,#005bff,#0059ff,#0058ff,#005fff,#006aff,#07f,#0081ff,#008cff,#0097ff,#00a0ff,#00a8ff,#00aeff,#00b3ff,#00b2ff,#00a8ff,#009eff,#0094ff,#0089ff,#007eff,#0073ff,#06f,#0059ff,#004cff,#0042ff,#003fff,#003dff,#003cff,#003eff,#003fff,#0041ff,#0043ff,#0047ff,#004bff,#004eff,#05f,#005eff,#0068ff,#0071ff,#0078ff,#007cff,#0070ff,#0064ff,#005fff,#0065ff,#006bff,#0071ff,#0076ff,#0081ff,#00a1ff,#00c6ff,#0ef,#00ffe8,#00ffbf,#00ff96,#00ff63,#00ff2a,#0eff00,#41ff00,#74ff00,#baff00,#fffd00,#ffbf00,#ff7f00,#ff3c00,#ff2100,#ff0c00,#f00,#f00,#ff0300,#f30,#ff6d00,#ffa900,#fff600,#b8ff00,#6bff00,#28ff00,#00ff14,#00ff45,#0f7,#00ffa4,#00ffd0,#00fffc,#00dbff,#00b6ff,#0094ff,#0073ff,#0064ff,#0063ff,#06f,#06f,#0065ff,#0064ff,#0060ff,#005aff,#0054ff,#004fff,#004bff,#0047ff,#0043ff,#003eff,#0037ff,#0031ff,#002aff,#0024ff,#001fff,#001aff,#001eff,#02f,#0026ff,#03f,#0042ff,#0050ff,#005dff,#0069ff,#0071ff,#0070ff,#006fff,#006eff,#006bff,#0069ff,#06f,#06f,#06f,#06f,#06f,#06f,#06f,#06f,#06f)"></i>
<i style="left:87.5px;width:3.1px;background:linear-gradient(#0073ff,#0073ff,#0073ff,#0073ff,#0073ff,#0072ff,#006fff,#006dff,#006bff,#0072ff,#007aff,#0082ff,#008cff,#0096ff,#00a0ff,#009bff,#0093ff,#008bff,#0083ff,#0080ff,#0082ff,#0095ff,#00a8ff,#0bf,#00d8ff,#00faff,#00ffe3,#00ffc2,#00ffa2,#00ff7f,#00ff5c,#00ff38,#00ff14,#05ff00,#1eff00,#36ff00,#5bff00,#82ff00,#b4ff00,#f0ff00,#ffcd00,#ff9300,#ff7900,#ff5f00,#ff4600,#ff2d00,#ff1800,#ff0800,#ff0f00,#ff2e00,#ff5b00,#ff8f00,#ffd200,#f0ff00,#bfff00,#8dff00,#5eff00,#31ff00,#03ff00,#00ff23,#00ff49,#00ff6f,#00ff93,#00ffb0,#00ffcd,#00ffeb,#00d7ff,#00d9ff,#00a0ff,#0095ff,#009bff,#00a6ff,#00b1ff,#0bf,#00c3ff,#00bfff,#00b0ff,#009aff,#007eff,#0085ff,#0095ff,#00a5ff,#00abff,#00b0ff,#00b5ff,#00afff,#00a7ff,#009fff,#0096ff,#008dff,#0085ff,#007cff,#0073ff,#006bff,#0062ff,#005cff,#005bff,#005aff,#0061ff,#006bff,#0078ff,#0083ff,#008eff,#0098ff,#00a1ff,#00a9ff,#00aeff,#00b3ff,#00b2ff,#00a9ff,#009fff,#0095ff,#008aff,#007eff,#0073ff,#0067ff,#005aff,#004eff,#0043ff,#0040ff,#003eff,#003dff,#003eff,#0040ff,#0041ff,#0043ff,#0046ff,#004aff,#004dff,#0054ff,#005dff,#0067ff,#006fff,#0076ff,#007aff,#006eff,#0062ff,#005bff,#0060ff,#0065ff,#006cff,#0071ff,#007dff,#009cff,#00bfff,#00e7ff,#00ffef,#00ffc6,#00ff9e,#00ff6f,#00ff36,#03ff00,#35ff00,#67ff00,#a6ff00,#ef0,#ffd000,#ff9300,#ff4f00,#ff2700,#f10,#f00,#f00,#f00,#f20,#ff5e00,#ff9600,#ffdf00,#d2ff00,#84ff00,#40ff00,#00ff02,#00ff34,#0f6,#00ff96,#00ffc2,#0fe,#00e7ff,#00c2ff,#009fff,#007eff,#0067ff,#0065ff,#0065ff,#06f,#06f,#0065ff,#0062ff,#005dff,#0058ff,#0053ff,#004fff,#004bff,#0048ff,#04f,#003dff,#0036ff,#002fff,#0029ff,#0023ff,#001eff,#0020ff,#0024ff,#0029ff,#0034ff,#0042ff,#0050ff,#005cff,#0068ff,#006fff,#006fff,#006eff,#006dff,#006bff,#0069ff,#06f,#06f,#06f,#06f,#06f,#06f,#06f,#06f,#06f)"></i>
<i style="left:90px;width:3.1px;background:linear-gradient(#0076ff,#0076ff,#0076ff,#0076ff,#0076ff,#0076ff,#0074ff,#0072ff,#0070ff,#0072ff,#007aff,#0081ff,#008bff,#0095ff,#009fff,#00a0ff,#0097ff,#008fff,#0087ff,#0083ff,#0081ff,#0093ff,#00a6ff,#00b8ff,#00d2ff,#00f3ff,#00ffea,#00ffc9,#00ffa9,#0f8,#00ff64,#00ff41,#00ff1e,#00ff02,#17ff00,#31ff00,#52ff00,#78ff00,#a4ff00,#dfff00,#ffe100,#ffa000,#ff8200,#ff6800,#ff5000,#ff3800,#ff2100,#ff1000,#ff0300,#ff2100,#ff4600,#ff7b00,#ffb800,#fffb00,#d1ff00,#9fff00,#6eff00,#41ff00,#13ff00,#00ff15,#00ff3b,#00ff60,#00ff86,#00ffa4,#00ffc1,#00ffde,#00e9ff,#00e9ff,#00b7ff,#0098ff,#009dff,#00a7ff,#00b1ff,#0bf,#00c2ff,#00bdff,#00adff,#0096ff,#007aff,#0087ff,#0097ff,#00a6ff,#00abff,#00b0ff,#00b5ff,#00b1ff,#00a9ff,#00a0ff,#0097ff,#008eff,#0086ff,#007dff,#0074ff,#006cff,#0063ff,#005dff,#005cff,#005cff,#0063ff,#006dff,#007aff,#0084ff,#008fff,#09f,#00a2ff,#0af,#00afff,#00b2ff,#00b2ff,#00a9ff,#009fff,#0095ff,#008aff,#007fff,#0074ff,#0068ff,#005bff,#004fff,#0045ff,#0042ff,#003fff,#003eff,#003fff,#0040ff,#0041ff,#0042ff,#0045ff,#0049ff,#004dff,#0053ff,#005cff,#06f,#006eff,#0074ff,#0079ff,#006cff,#0060ff,#0058ff,#005cff,#0060ff,#0067ff,#006dff,#0079ff,#0095ff,#00b9ff,#00e0ff,#00fff7,#00ffce,#00ffa5,#00ff7a,#00ff41,#00ff09,#29ff00,#5aff00,#93ff00,#dbff00,#ffe100,#ffa500,#ff6100,#ff2f00,#ff1600,#ff0200,#f00,#f00,#ff1300,#ff4e00,#ff8700,#ffca00,#ecff00,#9fff00,#57ff00,#14ff00,#00ff23,#0f5,#00ff87,#00ffb4,#00ffe1,#00f2ff,#00cdff,#00a9ff,#0089ff,#006bff,#0067ff,#0064ff,#0067ff,#06f,#06f,#0065ff,#0060ff,#005bff,#0056ff,#0053ff,#0050ff,#004cff,#0049ff,#0043ff,#003cff,#0035ff,#002eff,#0027ff,#02f,#0023ff,#0027ff,#002bff,#0035ff,#0043ff,#0050ff,#005cff,#0067ff,#006eff,#006dff,#006dff,#006cff,#006aff,#0069ff,#06f,#06f,#06f,#06f,#06f,#06f,#06f,#06f,#06f)"></i>
<i style="left:92.5px;width:3.1px;background:linear-gradient(#0079ff,#0079ff,#0079ff,#0079ff,#0079ff,#0079ff,#0078ff,#0076ff,#0074ff,#0073ff,#007aff,#0081ff,#0089ff,#0093ff,#009dff,#00a4ff,#009cff,#0093ff,#008bff,#0086ff,#0085ff,#0091ff,#00a4ff,#00b6ff,#0cf,#00edff,#00fff1,#00ffd0,#00ffb0,#00ff90,#00ff6d,#00ff4a,#00ff28,#00ff09,#1f0,#2bff00,#49ff00,#6fff00,#95ff00,#cfff00,#fff300,#ffb400,#ff8b00,#ff7100,#ff5800,#ff4200,#ff2c00,#ff1800,#ff0600,#ff1500,#ff3400,#f60,#ff9e00,#ffe200,#e4ff00,#b1ff00,#7eff00,#51ff00,#23ff00,#00ff08,#00ff2d,#00ff52,#0f7,#0f9,#00ffb6,#00ffd3,#00fffa,#00f8ff,#0cf,#009cff,#00a0ff,#00a8ff,#00b2ff,#0bf,#00c2ff,#00baff,#0af,#0092ff,#0078ff,#0089ff,#09f,#00a7ff,#00acff,#00b1ff,#00b6ff,#00b2ff,#0af,#00a1ff,#09f,#0090ff,#0087ff,#007eff,#0075ff,#006dff,#0065ff,#005eff,#005dff,#005eff,#0065ff,#006fff,#007bff,#0086ff,#0090ff,#009bff,#00a3ff,#00abff,#00b0ff,#00b2ff,#00b3ff,#0af,#00a0ff,#0096ff,#008bff,#0080ff,#0075ff,#0069ff,#005dff,#0051ff,#0046ff,#0043ff,#0040ff,#003fff,#003fff,#0040ff,#0040ff,#0041ff,#0045ff,#0048ff,#004cff,#0052ff,#005bff,#0065ff,#006dff,#0072ff,#07f,#006bff,#005eff,#05f,#0057ff,#005aff,#0062ff,#0068ff,#0074ff,#008fff,#00b2ff,#00d9ff,#00fffe,#00ffd6,#00ffad,#00ff85,#00ff4d,#00ff15,#1eff00,#4eff00,#80ff00,#c8ff00,#fff100,#ffb600,#ff7500,#ff3700,#ff1c00,#ff0600,#f00,#f00,#ff0800,#ff3c00,#ff7800,#ffb600,#fffa00,#b9ff00,#6fff00,#2bff00,#00ff12,#0f4,#00ff76,#00ffa5,#00ffd3,#00feff,#00d8ff,#00b4ff,#0093ff,#0075ff,#006aff,#0064ff,#0067ff,#0067ff,#0067ff,#06f,#0062ff,#005eff,#0059ff,#0056ff,#0054ff,#0051ff,#004eff,#0049ff,#0041ff,#003aff,#0032ff,#002cff,#0026ff,#0026ff,#002aff,#002dff,#0037ff,#0043ff,#0050ff,#005bff,#06f,#006dff,#006cff,#006cff,#006bff,#006aff,#0068ff,#06f,#06f,#06f,#06f,#06f,#06f,#06f,#06f,#06f)"></i>
<i style="left:95px;width:3.1px;background:linear-gradient(#007dff,#007dff,#007dff,#007dff,#007dff,#007dff,#007cff,#007bff,#0079ff,#07f,#007aff,#0081ff,#08f,#0092ff,#009cff,#00a6ff,#00a1ff,#0098ff,#008fff,#08f,#08f,#008fff,#00a2ff,#00b4ff,#00c7ff,#00e6ff,#00fff7,#00ffd7,#00ffb7,#00ff97,#00ff75,#00ff53,#00ff31,#00ff10,#0aff00,#25ff00,#3fff00,#65ff00,#8bff00,#bfff00,#faff00,#ffc700,#ff9300,#ff7a00,#ff6100,#ff4b00,#ff3600,#f20,#ff0f00,#ff0700,#ff2800,#ff5100,#ff8600,#ffc800,#f7ff00,#c4ff00,#90ff00,#61ff00,#3f0,#06ff00,#00ff20,#0f4,#00ff69,#00ff8d,#0fa,#00ffc7,#00ffe4,#00e1ff,#00dcff,#00a3ff,#00a3ff,#00a9ff,#00b2ff,#0bf,#00c1ff,#00b8ff,#00a7ff,#008eff,#007aff,#008aff,#009bff,#00a8ff,#00adff,#00b2ff,#00b6ff,#00b3ff,#00abff,#00a3ff,#009aff,#0091ff,#08f,#007fff,#0076ff,#006eff,#06f,#005fff,#005fff,#0060ff,#0067ff,#0071ff,#007dff,#0087ff,#0092ff,#009cff,#00a5ff,#00acff,#00b1ff,#00b2ff,#00b3ff,#0af,#00a1ff,#0096ff,#008bff,#0080ff,#0075ff,#0069ff,#005eff,#0052ff,#0048ff,#0045ff,#0041ff,#0040ff,#0040ff,#0040ff,#0040ff,#0041ff,#04f,#0048ff,#004bff,#0050ff,#005aff,#0064ff,#006cff,#0070ff,#0074ff,#0069ff,#005dff,#0051ff,#0053ff,#0056ff,#005dff,#0063ff,#006eff,#0089ff,#00acff,#00d2ff,#00f9ff,#0fd,#00ffb5,#00ff8d,#00ff58,#00ff20,#14ff00,#43ff00,#72ff00,#b5ff00,#fcff00,#ffc600,#f80,#ff4200,#f20,#ff0a00,#f00,#f00,#ff0400,#ff2b00,#ff6800,#ffa300,#ffe500,#d1ff00,#87ff00,#43ff00,#0f0,#0f3,#00ff65,#00ff96,#00ffc4,#00fff3,#00e3ff,#00c0ff,#009eff,#007fff,#006dff,#06f,#06f,#0067ff,#0067ff,#0067ff,#0065ff,#0060ff,#005cff,#0059ff,#0057ff,#05f,#0053ff,#004fff,#0047ff,#003fff,#0037ff,#0030ff,#002aff,#0029ff,#002cff,#0030ff,#0038ff,#04f,#0050ff,#005bff,#0065ff,#006bff,#006bff,#006bff,#006bff,#006aff,#0068ff,#06f,#06f,#06f,#06f,#06f,#06f,#06f,#06f,#06f)"></i>
<i style="left:97.5px;width:3.1px;background:linear-gradient(#0080ff,#0080ff,#0080ff,#0080ff,#0080ff,#0080ff,#0080ff,#007fff,#007dff,#007bff,#007bff,#0081ff,#0087ff,#0090ff,#009bff,#00a5ff,#00a6ff,#009dff,#0094ff,#008bff,#008aff,#008eff,#00a0ff,#00b2ff,#00c4ff,#00e0ff,#00fffe,#00ffde,#00ffbe,#00ff9e,#00ff7d,#00ff5c,#00ff3a,#00ff18,#03ff00,#1eff00,#39ff00,#5cff00,#82ff00,#b0ff00,#eaff00,#ffda00,#ff9e00,#ff8200,#ff6900,#ff5300,#ff3f00,#ff2c00,#ff1800,#ff0400,#ff1a00,#ff3b00,#ff7100,#ffad00,#fff200,#d6ff00,#a3ff00,#71ff00,#43ff00,#16ff00,#00ff13,#00ff37,#00ff5b,#00ff80,#00ff9f,#00ffbc,#00ffd9,#00f5ff,#00ebff,#00b8ff,#00a7ff,#0af,#00b3ff,#0bf,#00c0ff,#00b5ff,#00a3ff,#008aff,#007bff,#008cff,#009dff,#00a9ff,#00aeff,#00b2ff,#00b7ff,#00b4ff,#00adff,#00a4ff,#009bff,#0092ff,#0089ff,#0080ff,#0078ff,#006fff,#0067ff,#0060ff,#0060ff,#0062ff,#0069ff,#0072ff,#007eff,#0089ff,#0093ff,#009dff,#00a6ff,#00adff,#00b2ff,#00b3ff,#00b4ff,#0af,#00a1ff,#0097ff,#008cff,#0081ff,#0076ff,#006aff,#005fff,#0053ff,#0049ff,#0046ff,#0043ff,#0041ff,#0040ff,#0040ff,#0040ff,#0040ff,#0043ff,#0047ff,#004aff,#004fff,#0059ff,#0063ff,#006bff,#006fff,#0072ff,#0068ff,#005bff,#004fff,#004fff,#0051ff,#0058ff,#005fff,#0068ff,#0082ff,#00a6ff,#0cf,#00f2ff,#00ffe5,#00ffbd,#00ff94,#00ff63,#00ff2c,#0aff00,#38ff00,#6f0,#a2ff00,#e9ff00,#ffd600,#ff9c00,#f50,#ff2800,#ff1000,#f00,#f00,#f00,#ff1d00,#ff5800,#ff9200,#ffd200,#e9ff00,#a0ff00,#5aff00,#17ff00,#00ff21,#00ff54,#00ff87,#00ffb6,#00ffe5,#0ef,#00cbff,#00a9ff,#008aff,#0072ff,#0069ff,#0065ff,#0067ff,#0068ff,#0068ff,#0067ff,#0063ff,#005fff,#005cff,#005bff,#0059ff,#0057ff,#05f,#004dff,#0045ff,#003dff,#0035ff,#002eff,#002cff,#002fff,#0032ff,#0039ff,#0045ff,#0050ff,#005bff,#0064ff,#006aff,#006aff,#006aff,#006aff,#0069ff,#0068ff,#06f,#06f,#06f,#06f,#06f,#06f,#06f,#06f,#06f)"></i>
<i style="left:100px;width:3.1px;background:linear-gradient(#0083ff,#0083ff,#0083ff,#0083ff,#0083ff,#0083ff,#0083ff,#0083ff,#0081ff,#0080ff,#007eff,#0082ff,#08f,#008fff,#09f,#00a3ff,#00abff,#00a2ff,#0098ff,#008fff,#008cff,#008eff,#009eff,#00b0ff,#00c2ff,#00dbff,#00faff,#00ffe5,#00ffc5,#00ffa6,#00ff85,#00ff64,#00ff43,#0f2,#00ff04,#17ff00,#3f0,#53ff00,#78ff00,#a1ff00,#daff00,#ffeb00,#ffb100,#ff8b00,#ff7200,#ff5a00,#ff4800,#ff3600,#f20,#ff0d00,#ff0d00,#ff2e00,#ff5b00,#ff9200,#ffd700,#eaff00,#b6ff00,#82ff00,#53ff00,#26ff00,#00ff06,#00ff2a,#00ff4e,#00ff72,#00ff93,#00ffb0,#00ffcd,#00fff0,#00faff,#00cdff,#00acff,#00acff,#00b4ff,#0bf,#00c0ff,#00b3ff,#00a0ff,#0085ff,#007dff,#008eff,#009fff,#0af,#00afff,#00b3ff,#00b8ff,#00b5ff,#00aeff,#00a5ff,#009cff,#0093ff,#008aff,#0081ff,#0079ff,#0070ff,#0068ff,#0061ff,#0061ff,#0064ff,#006bff,#0074ff,#0080ff,#008aff,#0095ff,#009fff,#00a7ff,#00aeff,#00b3ff,#00b3ff,#00b4ff,#00abff,#00a2ff,#0097ff,#008cff,#0081ff,#0076ff,#006bff,#0060ff,#05f,#004bff,#0047ff,#04f,#0041ff,#0041ff,#0040ff,#0040ff,#003fff,#0042ff,#0046ff,#004aff,#004eff,#0058ff,#0062ff,#006aff,#006dff,#0070ff,#06f,#0059ff,#004cff,#004bff,#004cff,#0052ff,#005aff,#0062ff,#007bff,#00a0ff,#00c5ff,#00ebff,#00ffec,#00ffc4,#00ff9c,#00ff6e,#00ff37,#0f0,#2dff00,#5aff00,#8fff00,#d6ff00,#ffe600,#ffac00,#ff6900,#ff3100,#ff1500,#f00,#f00,#f00,#ff1000,#ff4600,#ff8300,#ffc000,#fffe00,#b9ff00,#72ff00,#2eff00,#00ff10,#00ff43,#00ff76,#00ffa6,#00ffd6,#00f9ff,#00d6ff,#00b4ff,#0094ff,#07f,#006dff,#0064ff,#0067ff,#0068ff,#0069ff,#0068ff,#0065ff,#0062ff,#005eff,#005dff,#005dff,#005bff,#005aff,#0053ff,#004bff,#0042ff,#003aff,#0032ff,#002fff,#0032ff,#0035ff,#003bff,#0045ff,#0050ff,#005aff,#0063ff,#0069ff,#0069ff,#0069ff,#0069ff,#0069ff,#0068ff,#06f,#06f,#06f,#06f,#06f,#06f,#06f,#06f,#06f)"></i>
<i style="left:102.5px;width:3.1px;background:linear-gradient(#0086ff,#0086ff,#0086ff,#0086ff,#0086ff,#0086ff,#0086ff,#0086ff,#0085ff,#0084ff,#0082ff,#0083ff,#08f,#008eff,#0097ff,#00a2ff,#00acff,#00a7ff,#009dff,#0093ff,#008dff,#0090ff,#009cff,#00aeff,#00c0ff,#00d5ff,#00f4ff,#00ffeb,#0fc,#00ffad,#00ff8d,#00ff6c,#00ff4c,#00ff2b,#00ff0c,#10ff00,#2cff00,#4aff00,#6fff00,#95ff00,#caff00,#fffb00,#ffc300,#ff9300,#ff7a00,#ff6200,#ff4f00,#ff3e00,#ff2d00,#ff1700,#ff0100,#ff2000,#ff4500,#ff7c00,#ffbc00,#fdff00,#c9ff00,#94ff00,#63ff00,#36ff00,#09ff00,#00ff1d,#00ff40,#00ff64,#0f8,#00ffa5,#00ffc2,#00ffdf,#00ebff,#00deff,#00b1ff,#00afff,#00b5ff,#0bf,#00bfff,#00b0ff,#009dff,#0081ff,#007fff,#0090ff,#00a2ff,#00abff,#00afff,#00b4ff,#00b8ff,#00b7ff,#00afff,#00a6ff,#009dff,#0094ff,#008bff,#0082ff,#007aff,#0071ff,#0069ff,#0062ff,#0062ff,#06f,#006dff,#0076ff,#0081ff,#008cff,#0096ff,#00a0ff,#00a8ff,#00afff,#00b5ff,#00b4ff,#00b3ff,#00abff,#00a2ff,#0098ff,#008dff,#0082ff,#07f,#006cff,#0061ff,#0056ff,#004dff,#0049ff,#0045ff,#0042ff,#0041ff,#0040ff,#003fff,#003fff,#0042ff,#0045ff,#0049ff,#004dff,#0057ff,#0061ff,#006aff,#006cff,#006eff,#0064ff,#0058ff,#004bff,#0047ff,#0048ff,#004dff,#05f,#005cff,#0075ff,#09f,#00beff,#00e4ff,#00fff3,#0fc,#00ffa4,#00ff79,#00ff42,#00ff0c,#23ff00,#4fff00,#7cff00,#c3ff00,#fff600,#ffbd00,#ff7d00,#ff3b00,#ff1b00,#ff0100,#f00,#f00,#ff0a00,#ff3400,#ff7200,#ffae00,#ffeb00,#d0ff00,#8aff00,#46ff00,#03ff00,#00ff31,#00ff64,#00ff96,#00ffc7,#00fff8,#00e1ff,#00beff,#009eff,#0082ff,#0072ff,#0067ff,#0067ff,#0068ff,#0069ff,#0069ff,#0067ff,#0064ff,#0061ff,#0060ff,#0060ff,#005fff,#005eff,#005aff,#0050ff,#0047ff,#003fff,#0036ff,#03f,#0035ff,#0038ff,#003dff,#0046ff,#0050ff,#005aff,#0062ff,#0067ff,#0068ff,#0068ff,#0069ff,#0068ff,#0068ff,#06f,#06f,#06f,#06f,#06f,#06f,#06f,#06f,#06f)"></i>
<i style="left:105px;width:3.1px;background:linear-gradient(#008aff,#008aff,#008aff,#008aff,#008aff,#008aff,#008aff,#008aff,#0089ff,#08f,#0087ff,#0085ff,#008aff,#008eff,#0096ff,#00a0ff,#00abff,#00acff,#00a2ff,#0098ff,#008eff,#0092ff,#009bff,#00acff,#00beff,#00d1ff,#0ef,#00fff2,#00ffd3,#00ffb4,#00ff95,#00ff74,#00ff54,#00ff34,#00ff13,#09ff00,#25ff00,#42ff00,#6f0,#8bff00,#bf0,#f3ff00,#ffd400,#ff9d00,#ff8300,#ff6b00,#ff5600,#ff4600,#ff3600,#ff2100,#ff0b00,#ff1200,#ff3500,#f60,#ffa100,#ffe800,#dcff00,#a7ff00,#73ff00,#46ff00,#19ff00,#00ff10,#0f3,#00ff57,#00ff7a,#0f9,#00ffb6,#00ffd3,#00fffd,#0ef,#0bf,#00b3ff,#00b6ff,#0bf,#00beff,#00adff,#09f,#007dff,#0080ff,#0092ff,#00a4ff,#00acff,#00b0ff,#00b4ff,#00b9ff,#00b8ff,#00b1ff,#00a8ff,#009fff,#0096ff,#008cff,#0083ff,#007bff,#0073ff,#006aff,#0063ff,#0063ff,#0067ff,#006fff,#0078ff,#0083ff,#008eff,#0098ff,#00a2ff,#00a9ff,#00b0ff,#00b6ff,#00b4ff,#00b3ff,#00acff,#00a3ff,#0098ff,#008dff,#0082ff,#07f,#006dff,#0062ff,#0057ff,#004eff,#004aff,#0046ff,#0043ff,#0042ff,#0040ff,#003fff,#003eff,#0041ff,#0045ff,#0048ff,#004cff,#0056ff,#005fff,#0069ff,#006aff,#006cff,#0063ff,#0056ff,#0049ff,#04f,#0043ff,#0047ff,#004fff,#0058ff,#006fff,#0092ff,#00b8ff,#00deff,#00fffb,#00ffd3,#00ffac,#00ff84,#00ff4d,#00ff17,#19ff00,#4f0,#70ff00,#b0ff00,#f7ff00,#ffcd00,#ff9200,#ff4700,#ff2100,#ff0600,#f00,#f00,#ff0300,#ff2600,#ff6200,#ff9e00,#ffd900,#e7ff00,#a2ff00,#5dff00,#1aff00,#00ff20,#00ff53,#00ff86,#00ffb7,#00ffe9,#00ebff,#00c9ff,#00a9ff,#008cff,#07f,#006bff,#06f,#0068ff,#0069ff,#006aff,#0069ff,#06f,#0064ff,#0062ff,#0063ff,#0063ff,#0062ff,#0060ff,#0057ff,#004dff,#04f,#003bff,#0036ff,#0038ff,#003aff,#003eff,#0047ff,#0051ff,#0059ff,#0061ff,#06f,#0067ff,#0067ff,#0068ff,#0068ff,#0068ff,#06f,#06f,#06f,#06f,#06f,#06f,#06f,#06f,#06f)"></i>
<i style="left:107.5px;width:3.1px;background:linear-gradient(#008dff,#008dff,#008dff,#008dff,#008dff,#008dff,#008dff,#008dff,#008dff,#008cff,#008bff,#008aff,#008bff,#008fff,#0094ff,#009eff,#00a9ff,#00b1ff,#00a7ff,#009dff,#0093ff,#0093ff,#09f,#00abff,#00bcff,#00cdff,#00e8ff,#00fff8,#00ffd9,#0fb,#00ff9c,#00ff7c,#00ff5c,#00ff3c,#00ff1c,#01ff00,#1eff00,#3bff00,#5dff00,#82ff00,#acff00,#e4ff00,#ffe400,#ffae00,#ff8b00,#ff7300,#ff5b00,#ff4d00,#ff3e00,#ff2d00,#ff1500,#ff0400,#ff2700,#ff5000,#f80,#fc0,#f0ff00,#bf0,#85ff00,#56ff00,#29ff00,#00ff04,#00ff26,#00ff49,#00ff6c,#00ff8e,#00ffab,#00ffc8,#00ffe6,#00fdff,#00cfff,#00b8ff,#00b8ff,#00bcff,#00bdff,#0af,#0094ff,#0079ff,#0082ff,#0094ff,#00a6ff,#00adff,#00b1ff,#00b5ff,#00b9ff,#00b9ff,#00b2ff,#00a9ff,#00a0ff,#0097ff,#008eff,#0084ff,#007cff,#0074ff,#006bff,#0064ff,#0064ff,#0069ff,#0071ff,#0079ff,#0085ff,#008fff,#09f,#00a3ff,#00abff,#00b1ff,#00b7ff,#00b5ff,#00b3ff,#00acff,#00a3ff,#09f,#008eff,#0083ff,#0078ff,#006dff,#0063ff,#0059ff,#0050ff,#004cff,#0047ff,#04f,#0042ff,#0040ff,#003fff,#003dff,#0040ff,#04f,#0047ff,#004cff,#05f,#005eff,#0068ff,#0069ff,#006aff,#0061ff,#0054ff,#0047ff,#0040ff,#003fff,#0041ff,#004aff,#0053ff,#0069ff,#008bff,#00b1ff,#00d7ff,#00fdff,#00ffda,#00ffb3,#00ff8c,#00ff58,#0f2,#0fff00,#3aff00,#65ff00,#9dff00,#e4ff00,#ffdc00,#ffa400,#ff5c00,#ff2800,#ff0c00,#f00,#f00,#f00,#ff1a00,#ff5000,#ff8e00,#ffc800,#fdff00,#b9ff00,#75ff00,#32ff00,#00ff0e,#00ff41,#00ff75,#00ffa7,#00ffda,#00f5ff,#00d4ff,#00b3ff,#0095ff,#007dff,#006fff,#06f,#0068ff,#0069ff,#006bff,#006bff,#0068ff,#06f,#0064ff,#0065ff,#06f,#06f,#0067ff,#005dff,#0053ff,#0049ff,#003fff,#003aff,#003bff,#003dff,#0040ff,#0048ff,#0051ff,#0059ff,#0060ff,#0064ff,#0065ff,#06f,#0067ff,#0067ff,#0067ff,#06f,#06f,#06f,#06f,#06f,#06f,#06f,#06f,#06f)"></i>
<i style="left:110px;width:3.1px;background:linear-gradient(#0090ff,#0090ff,#0090ff,#0090ff,#0090ff,#0090ff,#0090ff,#0090ff,#0090ff,#0090ff,#008fff,#008eff,#008dff,#0091ff,#0094ff,#009dff,#00a8ff,#00b3ff,#00adff,#00a2ff,#0097ff,#0093ff,#009aff,#00a9ff,#00baff,#00cbff,#00e3ff,#0ff,#00ffe0,#00ffc1,#00ffa3,#00ff83,#00ff64,#00ff45,#00ff25,#00ff07,#17ff00,#34ff00,#54ff00,#79ff00,#9eff00,#d5ff00,#fff300,#ffbf00,#ff9300,#ff7b00,#ff6300,#ff5300,#ff4500,#ff3800,#ff2000,#ff0800,#ff1800,#ff3c00,#ff7200,#ffb000,#fff900,#ceff00,#98ff00,#6f0,#39ff00,#0bff00,#00ff1a,#00ff3c,#00ff5f,#00ff82,#00ffa0,#00ffbd,#00ffda,#00f6ff,#00e1ff,#00beff,#00baff,#00bcff,#00bcff,#00a7ff,#0090ff,#0075ff,#0084ff,#0096ff,#00a8ff,#00aeff,#00b2ff,#00b6ff,#00baff,#00baff,#00b3ff,#0af,#00a1ff,#0098ff,#008fff,#0086ff,#007dff,#0075ff,#006dff,#0065ff,#0065ff,#006bff,#0072ff,#007bff,#0086ff,#0091ff,#009bff,#00a5ff,#00acff,#00b2ff,#00b8ff,#00b6ff,#00b3ff,#00adff,#00a4ff,#09f,#008eff,#0083ff,#0078ff,#006eff,#0064ff,#005aff,#0051ff,#004dff,#0048ff,#0045ff,#0042ff,#0040ff,#003eff,#003dff,#003fff,#0043ff,#0047ff,#004bff,#0054ff,#005dff,#0067ff,#0068ff,#0068ff,#0060ff,#0053ff,#0045ff,#003dff,#003bff,#003cff,#0045ff,#004eff,#0062ff,#0084ff,#00abff,#00d0ff,#00f6ff,#00ffe2,#0fb,#00ff93,#00ff63,#00ff2e,#06ff00,#30ff00,#5aff00,#8bff00,#d1ff00,#ffeb00,#ffb400,#ff7100,#ff3000,#ff1300,#f00,#f00,#f00,#ff1000,#ff3e00,#ff7e00,#ffb800,#ffef00,#d0ff00,#8dff00,#49ff00,#05ff00,#00ff30,#00ff63,#00ff97,#00ffca,#00fffd,#00deff,#00beff,#009fff,#0085ff,#0075ff,#06f,#0068ff,#0069ff,#006bff,#006cff,#006aff,#0068ff,#06f,#0067ff,#0069ff,#006aff,#006bff,#0064ff,#0059ff,#004fff,#04f,#003eff,#003eff,#0040ff,#0042ff,#0049ff,#0051ff,#0058ff,#005fff,#0063ff,#0064ff,#0065ff,#06f,#0067ff,#0067ff,#06f,#06f,#06f,#06f,#06f,#06f,#06f,#06f,#06f)"></i>
<i style="left:112.5px;width:3.1px;background:linear-gradient(#0093ff,#0093ff,#0093ff,#0093ff,#0093ff,#0093ff,#0093ff,#0093ff,#0093ff,#0093ff,#0093ff,#0092ff,#0091ff,#0093ff,#0096ff,#009bff,#00a6ff,#00b1ff,#00b2ff,#00a7ff,#009cff,#0092ff,#009bff,#00a7ff,#00b8ff,#00c9ff,#00deff,#00faff,#00ffe6,#00ffc8,#0fa,#00ff8b,#00ff6c,#00ff4d,#00ff2e,#00ff0f,#0fff00,#2dff00,#4cff00,#70ff00,#94ff00,#c6ff00,#fcff00,#ffcf00,#ff9c00,#ff8300,#ff6b00,#ff5800,#ff4c00,#ff3f00,#ff2c00,#ff1300,#ff0900,#ff2e00,#ff5b00,#ff9400,#fd0,#e2ff00,#acff00,#76ff00,#49ff00,#1bff00,#00ff0e,#00ff30,#00ff52,#00ff74,#00ff94,#00ffb1,#00ffce,#00fff2,#00f0ff,#00c5ff,#00bcff,#00bcff,#00b9ff,#00a4ff,#008cff,#0074ff,#0086ff,#0098ff,#0af,#00afff,#00b3ff,#00b6ff,#00baff,#0bf,#00b5ff,#00acff,#00a2ff,#09f,#0090ff,#0087ff,#007eff,#0076ff,#006eff,#06f,#06f,#006cff,#0074ff,#007dff,#08f,#0092ff,#009cff,#00a6ff,#00adff,#00b3ff,#00b9ff,#00b7ff,#00b3ff,#00adff,#00a4ff,#009aff,#008fff,#0084ff,#0079ff,#006fff,#0065ff,#005cff,#0053ff,#004eff,#004aff,#0046ff,#0043ff,#0041ff,#003eff,#003cff,#003fff,#0042ff,#0046ff,#004aff,#0053ff,#005cff,#06f,#0067ff,#06f,#005eff,#0051ff,#04f,#0039ff,#0037ff,#0036ff,#0040ff,#0049ff,#005aff,#007dff,#00a4ff,#00caff,#00efff,#00ffe9,#00ffc2,#00ff9b,#00ff6e,#00ff39,#00ff03,#27ff00,#50ff00,#79ff00,#beff00,#fffa00,#ffc300,#ff8700,#ff3d00,#ff1900,#f00,#f00,#f00,#ff0900,#ff2e00,#ff6c00,#ffa900,#ffde00,#e5ff00,#a3ff00,#61ff00,#1dff00,#00ff1e,#00ff52,#00ff86,#00ffba,#0fe,#00e8ff,#00c8ff,#00a9ff,#008eff,#007bff,#006aff,#0067ff,#0069ff,#006bff,#006dff,#006cff,#006aff,#0068ff,#0068ff,#006bff,#006dff,#006eff,#006aff,#005fff,#0054ff,#004aff,#0041ff,#0041ff,#0043ff,#04f,#004aff,#0051ff,#0058ff,#005eff,#0062ff,#0063ff,#0064ff,#06f,#0067ff,#0067ff,#06f,#06f,#06f,#06f,#06f,#06f,#06f,#06f,#06f)"></i>
<i style="left:115px;width:3.1px;background:linear-gradient(#0097ff,#0097ff,#0097ff,#0097ff,#0097ff,#0097ff,#0097ff,#0097ff,#0097ff,#0097ff,#0096ff,#0096ff,#0095ff,#0095ff,#0097ff,#009aff,#00a4ff,#00afff,#00b8ff,#00adff,#00a2ff,#0096ff,#009bff,#00a6ff,#00b7ff,#00c8ff,#00d9ff,#00f4ff,#00ffed,#00ffcf,#00ffb0,#00ff92,#00ff73,#0f5,#00ff36,#00ff17,#07ff00,#26ff00,#4f0,#67ff00,#8bff00,#b8ff00,#edff00,#ffde00,#ffac00,#ff8b00,#ff7400,#ff5c00,#ff5100,#ff4600,#ff3800,#ff1e00,#ff0400,#ff1f00,#f40,#ff7e00,#ffc000,#f7ff00,#c0ff00,#89ff00,#59ff00,#2bff00,#00ff01,#00ff23,#00ff45,#00ff67,#00ff89,#00ffa6,#00ffc3,#00ffe0,#0ff,#00d3ff,#00c0ff,#00bdff,#00b7ff,#00a0ff,#08f,#0076ff,#08f,#009aff,#00acff,#00afff,#00b3ff,#00b7ff,#0bf,#00bcff,#00b6ff,#00adff,#00a4ff,#009aff,#0091ff,#08f,#007fff,#07f,#006fff,#0067ff,#0067ff,#006eff,#0076ff,#007fff,#008aff,#0094ff,#009eff,#00a8ff,#00afff,#00b5ff,#00baff,#00b9ff,#00b4ff,#00adff,#00a5ff,#009aff,#008fff,#0084ff,#0079ff,#0070ff,#06f,#005dff,#05f,#0050ff,#004bff,#0047ff,#0043ff,#0041ff,#003eff,#003bff,#003eff,#0042ff,#0045ff,#0049ff,#0051ff,#005bff,#0065ff,#06f,#0064ff,#005dff,#004fff,#0042ff,#0036ff,#03f,#0031ff,#003aff,#04f,#0052ff,#0076ff,#009dff,#00c4ff,#00e8ff,#00fff0,#00ffc9,#00ffa2,#00ff78,#00ff43,#00ff0e,#1dff00,#46ff00,#6eff00,#acff00,#f2ff00,#ffd300,#ff9c00,#ff4d00,#ff2000,#f00,#f00,#f00,#ff0200,#ff2300,#ff5b00,#ff9b00,#ffcf00,#faff00,#b9ff00,#78ff00,#35ff00,#00ff0c,#00ff40,#00ff74,#00ffa9,#00ffde,#00f2ff,#00d2ff,#00b3ff,#0098ff,#0082ff,#0070ff,#0067ff,#0069ff,#006bff,#006dff,#006dff,#006cff,#006aff,#006aff,#006dff,#006fff,#0072ff,#0071ff,#06f,#005aff,#004fff,#0045ff,#04f,#0046ff,#0047ff,#004bff,#0052ff,#0058ff,#005dff,#0060ff,#0062ff,#0063ff,#0065ff,#06f,#0067ff,#06f,#06f,#06f,#06f,#06f,#06f,#06f,#06f,#06f)"></i>
<i style="left:117.5px;width:3.1px;background:linear-gradient(#009aff,#009aff,#009aff,#009aff,#009aff,#009aff,#009aff,#009aff,#009aff,#009aff,#009aff,#09f,#09f,#0098ff,#009aff,#009bff,#00a2ff,#00adff,#00b9ff,#00b3ff,#00a7ff,#009bff,#009aff,#00a5ff,#00b5ff,#00c6ff,#00d7ff,#00efff,#00fff3,#00ffd5,#00ffb7,#0f9,#00ff7b,#00ff5c,#00ff3e,#00ff20,#00ff01,#1eff00,#3dff00,#5eff00,#83ff00,#af0,#deff00,#ffec00,#ffbc00,#ff9200,#ff7b00,#ff6400,#ff5600,#ff4c00,#ff4200,#ff2a00,#ff1000,#ff0f00,#ff3500,#ff6700,#ffa400,#fe0,#d4ff00,#9cff00,#69ff00,#3bff00,#0eff00,#00ff17,#00ff39,#00ff5a,#00ff7c,#00ff9a,#00ffb7,#00ffd4,#00fffb,#00e4ff,#00c7ff,#00beff,#00b4ff,#009dff,#0084ff,#07f,#008aff,#009dff,#00adff,#00b0ff,#00b4ff,#00b8ff,#0bf,#00bdff,#00b8ff,#00aeff,#00a5ff,#009cff,#0092ff,#0089ff,#0080ff,#0078ff,#0070ff,#0068ff,#0067ff,#006fff,#0078ff,#0081ff,#008bff,#0095ff,#009fff,#00a9ff,#00b0ff,#00b6ff,#0bf,#00baff,#00b4ff,#00aeff,#00a5ff,#009bff,#0090ff,#0085ff,#007aff,#0071ff,#0068ff,#005eff,#0056ff,#0051ff,#004cff,#0047ff,#04f,#0041ff,#003eff,#003bff,#003dff,#0041ff,#04f,#0048ff,#0050ff,#005aff,#0064ff,#06f,#0063ff,#005bff,#004eff,#0040ff,#0034ff,#0030ff,#002dff,#0035ff,#003eff,#004aff,#006fff,#0096ff,#00bdff,#00e2ff,#00fff7,#00ffd1,#0fa,#00ff83,#00ff4e,#00ff1a,#14ff00,#3cff00,#64ff00,#9f0,#dfff00,#ffe100,#ffab00,#ff6300,#ff2700,#ff0500,#f00,#f00,#f00,#ff1800,#ff4800,#ff8a00,#ffc000,#fff300,#cfff00,#8fff00,#4cff00,#08ff00,#00ff2e,#00ff62,#00ff97,#00ffcd,#00fcff,#0df,#00beff,#00a1ff,#0089ff,#0076ff,#06f,#0069ff,#006bff,#006dff,#006eff,#006dff,#006cff,#006bff,#006eff,#0072ff,#0075ff,#0078ff,#006dff,#0061ff,#0054ff,#0049ff,#0048ff,#0049ff,#004aff,#004dff,#0052ff,#0057ff,#005bff,#005fff,#0061ff,#0062ff,#0064ff,#06f,#0067ff,#06f,#06f,#06f,#06f,#06f,#06f,#06f,#06f,#06f)"></i>
<i style="left:120px;width:3.1px;background:linear-gradient(#009dff,#009dff,#009dff,#009dff,#009dff,#009dff,#009dff,#009dff,#009dff,#009dff,#009dff,#009dff,#009dff,#009cff,#009cff,#009eff,#00a0ff,#00abff,#00b7ff,#00b9ff,#00adff,#00a1ff,#0098ff,#00a5ff,#00b4ff,#00c4ff,#00d5ff,#00eaff,#00fff9,#00ffdc,#00ffbe,#00ffa0,#00ff82,#00ff64,#00ff46,#00ff28,#00ff0a,#16ff00,#35ff00,#56ff00,#7aff00,#9eff00,#d0ff00,#fffa00,#ffcb00,#ff9b00,#ff8300,#ff6c00,#ff5900,#ff5000,#ff4800,#ff3700,#ff1c00,#ff0100,#ff2500,#ff4f00,#ff8a00,#ffd100,#e9ff00,#b1ff00,#79ff00,#4bff00,#1eff00,#00ff0b,#00ff2c,#00ff4e,#00ff6f,#00ff8f,#00ffac,#00ffc9,#00ffe8,#00f3ff,#00cfff,#00c0ff,#00b1ff,#09f,#0080ff,#0079ff,#008cff,#009fff,#00adff,#00b1ff,#00b5ff,#00b8ff,#00bcff,#00bfff,#00b9ff,#00b0ff,#00a6ff,#009dff,#0093ff,#008aff,#0081ff,#0079ff,#0071ff,#0069ff,#0068ff,#0071ff,#007aff,#0083ff,#008dff,#0097ff,#00a1ff,#00abff,#00b2ff,#00b7ff,#00bcff,#00bcff,#00b5ff,#00aeff,#00a6ff,#009cff,#0091ff,#0086ff,#007aff,#0071ff,#0069ff,#0060ff,#0058ff,#0052ff,#004dff,#0048ff,#04f,#0041ff,#003dff,#003aff,#003dff,#0040ff,#04f,#0047ff,#004fff,#0059ff,#0063ff,#0065ff,#0061ff,#005aff,#004cff,#003fff,#0032ff,#002cff,#0029ff,#002fff,#0039ff,#0043ff,#0067ff,#008fff,#00b7ff,#00dbff,#00fffe,#00ffd8,#00ffb1,#00ff8b,#00ff59,#00ff24,#0cff00,#3f0,#5aff00,#86ff00,#cf0,#fff000,#ffba00,#ff7a00,#ff2f00,#ff0c00,#f00,#f00,#f00,#f10,#ff3600,#ff7800,#ffb200,#ffe300,#e3ff00,#a5ff00,#64ff00,#20ff00,#00ff1c,#00ff50,#00ff85,#00ffbc,#00fff3,#00e6ff,#00c8ff,#0af,#0092ff,#007dff,#0069ff,#0068ff,#006bff,#006dff,#006fff,#006eff,#006eff,#006dff,#006fff,#0073ff,#07f,#007bff,#0074ff,#0067ff,#005aff,#004eff,#004bff,#004cff,#004cff,#004eff,#0053ff,#0057ff,#005aff,#005eff,#0060ff,#0062ff,#0063ff,#0065ff,#06f,#06f,#06f,#06f,#06f,#06f,#06f,#06f,#06f,#06f)"></i>
<i style="left:122.5px;width:3.1px;background:linear-gradient(#00a0ff,#00a0ff,#00a0ff,#00a0ff,#00a0ff,#00a0ff,#00a0ff,#00a0ff,#00a0ff,#00a0ff,#00a0ff,#00a0ff,#00a0ff,#00a0ff,#00a0ff,#00a0ff,#00a1ff,#00a9ff,#00b5ff,#00bfff,#00b3ff,#00a6ff,#009aff,#00a4ff,#00b3ff,#00c3ff,#00d3ff,#00e6ff,#0ff,#00ffe2,#00ffc4,#00ffa7,#00ff89,#00ff6b,#00ff4e,#00ff30,#00ff13,#0dff00,#2eff00,#4eff00,#71ff00,#95ff00,#c2ff00,#f6ff00,#ffd900,#fa0,#ff8b00,#ff7400,#ff5e00,#f50,#ff4d00,#ff4500,#ff2900,#ff0d00,#ff1500,#ff3d00,#ff7300,#ffb400,#ff0,#c5ff00,#8cff00,#5bff00,#2eff00,#01ff00,#00ff20,#00ff41,#00ff62,#00ff83,#00ffa0,#00ffbd,#00ffda,#00fffd,#00daff,#00c2ff,#00aeff,#0096ff,#007cff,#007bff,#008eff,#00a1ff,#00aeff,#00b2ff,#00b5ff,#00b9ff,#00bdff,#00c0ff,#00baff,#00b1ff,#00a7ff,#009eff,#0095ff,#008bff,#0082ff,#007aff,#0072ff,#006aff,#0069ff,#0072ff,#007bff,#0085ff,#008fff,#09f,#00a2ff,#00acff,#00b3ff,#00b8ff,#00bdff,#00bdff,#00b6ff,#00aeff,#00a6ff,#009cff,#0091ff,#0086ff,#007bff,#0072ff,#006aff,#0061ff,#0059ff,#0054ff,#004eff,#0049ff,#0045ff,#0041ff,#003dff,#0039ff,#003cff,#003fff,#0043ff,#0047ff,#004eff,#0058ff,#0062ff,#0064ff,#0060ff,#0058ff,#004bff,#003dff,#0030ff,#0029ff,#0025ff,#0029ff,#0034ff,#003eff,#0060ff,#08f,#00b0ff,#00d5ff,#00f9ff,#00ffdf,#00ffb9,#00ff92,#00ff63,#00ff2f,#03ff00,#2aff00,#50ff00,#7f0,#baff00,#ff0,#ffc900,#ff9100,#ff3d00,#ff1300,#f00,#f00,#f00,#ff0800,#ff2a00,#f60,#ffa400,#ffd500,#f8ff00,#baff00,#7cff00,#38ff00,#00ff09,#00ff3e,#00ff73,#0fa,#00ffe3,#00f0ff,#00d2ff,#00b4ff,#009bff,#0085ff,#006fff,#0067ff,#006aff,#006dff,#006fff,#006fff,#006fff,#006fff,#0070ff,#0075ff,#0079ff,#007eff,#007bff,#006eff,#0060ff,#0053ff,#004eff,#004fff,#004fff,#0050ff,#0053ff,#0056ff,#0059ff,#005cff,#005eff,#0061ff,#0063ff,#0065ff,#06f,#06f,#06f,#06f,#06f,#06f,#06f,#06f,#06f,#06f)"></i>
<i style="left:125px;width:3.1px;background:linear-gradient(#00a3ff,#00a3ff,#00a3ff,#00a3ff,#00a3ff,#00a3ff,#00a3ff,#00a3ff,#00a3ff,#00a3ff,#00a3ff,#00a3ff,#00a3ff,#00a3ff,#00a3ff,#00a3ff,#00a3ff,#00a7ff,#00b3ff,#00bfff,#00b8ff,#00acff,#009fff,#00a2ff,#00b1ff,#00c1ff,#00d1ff,#00e1ff,#00faff,#00ffe8,#00ffcb,#00ffae,#00ff90,#00ff73,#00ff56,#00ff39,#00ff1b,#05ff00,#25ff00,#46ff00,#68ff00,#8cff00,#b4ff00,#e7ff00,#ffe700,#ffb900,#ff9200,#ff7c00,#f60,#ff5800,#ff5100,#ff4a00,#ff3500,#ff1900,#ff0500,#ff2c00,#ff5a00,#ff9600,#ffe100,#dcff00,#a3ff00,#6dff00,#3fff00,#12ff00,#00ff14,#00ff34,#0f5,#00ff76,#00ff94,#00ffb1,#00ffce,#00ffef,#00eaff,#00c7ff,#00adff,#0094ff,#007aff,#007cff,#008fff,#00a2ff,#00afff,#00b2ff,#00b6ff,#00b9ff,#00bdff,#00c0ff,#0bf,#00b2ff,#00a9ff,#009fff,#0096ff,#008cff,#0083ff,#007bff,#0073ff,#006bff,#0069ff,#0073ff,#007dff,#0087ff,#0091ff,#009aff,#00a4ff,#00adff,#00b5ff,#00baff,#00beff,#00bfff,#00b7ff,#00afff,#00a6ff,#009cff,#0092ff,#0087ff,#007cff,#0073ff,#006bff,#0062ff,#005bff,#05f,#0050ff,#004aff,#0045ff,#0041ff,#003dff,#0039ff,#003bff,#003fff,#0042ff,#0046ff,#004dff,#0057ff,#0060ff,#0064ff,#005fff,#0057ff,#0049ff,#003cff,#002eff,#0026ff,#0021ff,#0024ff,#002fff,#0039ff,#0058ff,#0080ff,#00a9ff,#00ceff,#00f2ff,#00ffe7,#00ffc1,#00ff9a,#00ff6e,#00ff3b,#00ff08,#20ff00,#45ff00,#6bff00,#a6ff00,#ecff00,#ffd900,#ffa400,#ff5300,#ff1c00,#ff0200,#ff0100,#f00,#f00,#f20,#f50,#f90,#ffc800,#fff600,#cdff00,#90ff00,#4fff00,#0bff00,#00ff2c,#00ff61,#00ff98,#00ffd1,#00faff,#00dcff,#00bfff,#00a4ff,#008dff,#0076ff,#0068ff,#006aff,#006dff,#006fff,#0070ff,#0070ff,#0070ff,#0070ff,#0075ff,#007bff,#0080ff,#0081ff,#0074ff,#06f,#0058ff,#0051ff,#0051ff,#0051ff,#0051ff,#0053ff,#0056ff,#0058ff,#005bff,#005dff,#005fff,#0062ff,#0064ff,#06f,#06f,#06f,#06f,#06f,#06f,#06f,#06f,#06f,#06f)"></i>
<i style="left:127.5px;width:3.1px;background:linear-gradient(#00a4ff,#00a4ff,#00a4ff,#00a4ff,#00a4ff,#00a4ff,#00a4ff,#00a4ff,#00a4ff,#00a4ff,#00a4ff,#00a4ff,#00a4ff,#00a5ff,#00a5ff,#00a5ff,#00a5ff,#00a5ff,#00afff,#00baff,#00bcff,#00b0ff,#00a4ff,#009eff,#00aeff,#00bdff,#00cdff,#0df,#00f3ff,#00fff0,#00ffd3,#00ffb7,#00ff9a,#00ff7e,#00ff61,#0f4,#00ff26,#00ff07,#1aff00,#3aff00,#5cff00,#7fff00,#a3ff00,#d6ff00,#fff700,#ffca00,#ff9e00,#ff8500,#ff6e00,#ff5a00,#ff5200,#ff4b00,#ff3f00,#ff2400,#ff0800,#ff1a00,#ff4200,#ff7900,#ffb800,#fffe00,#c7ff00,#8dff00,#5cff00,#2eff00,#01ff00,#00ff21,#00ff42,#00ff63,#00ff84,#00ffa2,#00ffbf,#0fd,#00fdff,#00d9ff,#00bcff,#00a3ff,#008bff,#0076ff,#08f,#009aff,#00acff,#00b0ff,#00b3ff,#00b7ff,#00baff,#00bdff,#0bf,#00b2ff,#00a8ff,#009fff,#0095ff,#008cff,#0083ff,#007bff,#0073ff,#006bff,#006aff,#0075ff,#007fff,#0089ff,#0092ff,#009bff,#00a4ff,#00adff,#00b5ff,#00b9ff,#00beff,#00beff,#00b6ff,#00adff,#00a5ff,#009cff,#0091ff,#0086ff,#007cff,#0073ff,#006bff,#0063ff,#005bff,#0056ff,#0051ff,#004cff,#0047ff,#0043ff,#003fff,#003bff,#003cff,#003fff,#0042ff,#0046ff,#004cff,#05f,#005eff,#0062ff,#005eff,#0057ff,#004aff,#003cff,#002fff,#0026ff,#02f,#02f,#002dff,#0037ff,#0052ff,#0079ff,#00a1ff,#00c5ff,#00e7ff,#00fff3,#00ffce,#00ffa9,#00ff80,#00ff50,#00ff1f,#06ff00,#2bff00,#51ff00,#8dff00,#d3ff00,#fff200,#ffbc00,#ff6c00,#ff3400,#ff1500,#ff0b00,#ff0500,#ff0500,#ff2600,#ff5700,#ff9700,#ffc300,#fff000,#d7ff00,#9dff00,#5fff00,#1eff00,#00ff18,#00ff4e,#00ff85,#00ffc0,#00fff3,#00ecff,#00cdff,#00b1ff,#0098ff,#007fff,#006fff,#006fff,#0070ff,#0071ff,#0070ff,#0070ff,#006fff,#006eff,#0073ff,#0078ff,#007dff,#007eff,#0071ff,#0063ff,#0056ff,#0050ff,#0050ff,#0050ff,#004fff,#0051ff,#0053ff,#05f,#0057ff,#005aff,#005dff,#0060ff,#0062ff,#0064ff,#0065ff,#0065ff,#0065ff,#0065ff,#0065ff,#0065ff,#0065ff,#0065ff,#0065ff)"></i>
<i style="left:130px;width:3.1px;background:linear-gradient(#00a5ff,#00a5ff,#00a5ff,#00a5ff,#00a5ff,#00a5ff,#00a5ff,#00a5ff,#00a5ff,#00a5ff,#00a5ff,#00a5ff,#00a5ff,#00a6ff,#00a6ff,#00a6ff,#00a7ff,#00a6ff,#00acff,#00b6ff,#00c0ff,#00b4ff,#00a8ff,#009cff,#0af,#00baff,#00c9ff,#00d9ff,#00edff,#00fff7,#00ffdb,#00ffc0,#00ffa4,#0f8,#00ff6d,#00ff4f,#00ff31,#00ff12,#0eff00,#2fff00,#50ff00,#73ff00,#97ff00,#c5ff00,#f7ff00,#ffda00,#ffaf00,#ff8d00,#f70,#ff6000,#f50,#ff4c00,#f40,#ff2d00,#ff1300,#ff0800,#ff3000,#ff5e00,#ff9500,#ffd500,#ebff00,#b1ff00,#79ff00,#4bff00,#1dff00,#00ff0c,#00ff2e,#00ff50,#00ff71,#00ff91,#00ffb0,#00ffce,#0fe,#00edff,#00caff,#00b2ff,#009aff,#0082ff,#0082ff,#0093ff,#00a4ff,#00aeff,#00b1ff,#00b4ff,#00b7ff,#00baff,#0bf,#00b2ff,#00a8ff,#009fff,#0095ff,#008cff,#0082ff,#007bff,#0073ff,#006cff,#006cff,#0076ff,#0081ff,#008bff,#0094ff,#009cff,#00a4ff,#00adff,#00b4ff,#00b9ff,#00bdff,#00bdff,#00b4ff,#00acff,#00a4ff,#009bff,#0091ff,#0086ff,#007cff,#0074ff,#006cff,#0064ff,#005cff,#0056ff,#0051ff,#004dff,#0049ff,#0045ff,#0041ff,#003dff,#003dff,#0040ff,#0042ff,#0045ff,#004bff,#0053ff,#005bff,#0061ff,#005cff,#0057ff,#004aff,#003dff,#0030ff,#0027ff,#02f,#0021ff,#002bff,#0034ff,#004cff,#0072ff,#0098ff,#0bf,#0df,#0ff,#00ffdb,#00ffb8,#00ff91,#00ff65,#00ff37,#00ff13,#1f0,#37ff00,#73ff00,#b9ff00,#f4ff00,#ffd300,#ff8500,#ff4c00,#ff2900,#ff1500,#ff0900,#ff0900,#ff2900,#ff5900,#ff9600,#ffbf00,#ffe900,#e0ff00,#a9ff00,#6fff00,#30ff00,#00ff04,#00ff3b,#00ff73,#00ffae,#00ffe2,#00fcff,#00dcff,#00beff,#00a2ff,#08f,#0076ff,#0074ff,#0073ff,#0072ff,#0070ff,#006fff,#006eff,#006dff,#0071ff,#0075ff,#0079ff,#007aff,#006eff,#0061ff,#05f,#004eff,#004eff,#004eff,#004dff,#004eff,#0050ff,#0051ff,#0053ff,#0057ff,#005aff,#005dff,#0061ff,#0063ff,#0064ff,#0064ff,#0064ff,#0065ff,#0065ff,#0065ff,#0065ff,#0065ff,#0065ff)"></i>
<i style="left:132.5px;width:3.1px;background:linear-gradient(#00a7ff,#00a7ff,#00a7ff,#00a7ff,#00a7ff,#00a7ff,#00a7ff,#00a7ff,#00a7ff,#00a7ff,#00a7ff,#00a7ff,#00a7ff,#00a7ff,#00a7ff,#00a8ff,#00a8ff,#00a8ff,#00a9ff,#00b3ff,#00bdff,#00b8ff,#00acff,#00a0ff,#00a6ff,#00b6ff,#00c5ff,#00d5ff,#00e7ff,#00fffe,#00ffe3,#00ffc8,#00ffad,#00ff92,#0f7,#00ff5a,#00ff3c,#00ff1d,#03ff00,#24ff00,#4f0,#67ff00,#8aff00,#b4ff00,#e6ff00,#ffea00,#ffbf00,#ff9600,#ff7f00,#ff6900,#ff5700,#ff4e00,#ff4600,#ff3600,#ff1d00,#ff0400,#ff1d00,#ff4600,#ff7a00,#ffb200,#ffef00,#d5ff00,#9cff00,#68ff00,#3aff00,#0bff00,#00ff1a,#00ff3c,#00ff5e,#00ff80,#00ff9f,#00ffbe,#0fd,#0ff,#00dcff,#00c0ff,#00a9ff,#0091ff,#007eff,#008dff,#009dff,#00adff,#00afff,#00b2ff,#00b5ff,#00b7ff,#00baff,#00b2ff,#00a8ff,#009fff,#0095ff,#008bff,#0082ff,#007bff,#0073ff,#006cff,#006dff,#0078ff,#0083ff,#008eff,#0095ff,#009cff,#00a4ff,#00adff,#00b4ff,#00b9ff,#00bcff,#0bf,#00b3ff,#00abff,#00a3ff,#009aff,#0090ff,#0086ff,#007cff,#0074ff,#006dff,#0065ff,#005dff,#0057ff,#0052ff,#004eff,#004bff,#0047ff,#0043ff,#003fff,#003eff,#0040ff,#0042ff,#0045ff,#0049ff,#0051ff,#0059ff,#005fff,#005bff,#0056ff,#004aff,#003eff,#0032ff,#0027ff,#0023ff,#0020ff,#0029ff,#0032ff,#0046ff,#006bff,#0090ff,#00b2ff,#00d2ff,#00f4ff,#00ffe9,#00ffc7,#00ffa2,#00ff7a,#00ff4e,#00ff2d,#00ff0a,#1dff00,#5aff00,#a0ff00,#dbff00,#ffeb00,#ff9e00,#ff6400,#ff3c00,#ff1f00,#ff0d00,#ff0d00,#ff2c00,#ff5b00,#ff9400,#fb0,#ffe200,#eaff00,#b6ff00,#7fff00,#43ff00,#0fff00,#00ff28,#00ff61,#00ff9c,#00ffd1,#00fff2,#00ebff,#00cbff,#00adff,#0091ff,#007eff,#0078ff,#0076ff,#0073ff,#0070ff,#006fff,#006dff,#006bff,#006eff,#0072ff,#0076ff,#07f,#006bff,#005fff,#0053ff,#004dff,#004dff,#004cff,#004bff,#004cff,#004dff,#004eff,#0050ff,#0054ff,#0057ff,#005bff,#005fff,#0062ff,#0063ff,#0063ff,#0064ff,#0064ff,#0064ff,#0064ff,#0064ff,#0064ff,#0064ff)"></i>
<i style="left:135px;width:3.1px;background:linear-gradient(#00a8ff,#00a8ff,#00a8ff,#00a8ff,#00a8ff,#00a8ff,#00a8ff,#00a8ff,#00a8ff,#00a8ff,#00a8ff,#00a8ff,#00a8ff,#00a8ff,#00a8ff,#00a9ff,#00a9ff,#0af,#00a9ff,#00b0ff,#00b9ff,#0bf,#00b0ff,#00a5ff,#00a3ff,#00b2ff,#00c1ff,#00d1ff,#00e1ff,#00f9ff,#00ffea,#00ffd0,#00ffb5,#00ff9b,#00ff81,#0f6,#00ff47,#00ff28,#00ff08,#18ff00,#39ff00,#5aff00,#7eff00,#a3ff00,#d5ff00,#fff900,#ffcf00,#ffa500,#f80,#ff7200,#ff5b00,#ff5100,#ff4700,#ff3d00,#ff2600,#ff0e00,#ff0b00,#f30,#ff6100,#ff9400,#ffcd00,#f9ff00,#c0ff00,#86ff00,#57ff00,#28ff00,#00ff05,#00ff27,#00ff4a,#00ff6c,#00ff8e,#00ffae,#00ffcd,#00ffed,#00efff,#00cdff,#00b6ff,#00a0ff,#008aff,#0089ff,#0097ff,#00a6ff,#00aeff,#00b0ff,#00b2ff,#00b5ff,#00b7ff,#00b2ff,#00a8ff,#009eff,#0095ff,#008bff,#0082ff,#007aff,#0073ff,#006cff,#006eff,#0079ff,#0085ff,#0090ff,#0096ff,#009cff,#00a4ff,#00adff,#00b4ff,#00b9ff,#0bf,#00baff,#00b2ff,#0af,#00a2ff,#09f,#0090ff,#0086ff,#007dff,#0075ff,#006dff,#0065ff,#005eff,#0058ff,#0053ff,#0050ff,#004dff,#0049ff,#0045ff,#0040ff,#003fff,#0041ff,#0043ff,#0045ff,#0049ff,#0050ff,#0057ff,#005dff,#0059ff,#05f,#004aff,#003eff,#0032ff,#0028ff,#0023ff,#001fff,#0027ff,#002fff,#0041ff,#0064ff,#08f,#00a9ff,#00c8ff,#00e8ff,#00fff6,#00ffd6,#00ffb4,#00ff8f,#0f6,#00ff46,#00ff24,#03ff00,#41ff00,#87ff00,#c3ff00,#fbff00,#ffb700,#ff7d00,#ff4f00,#ff2900,#ff1200,#ff1200,#ff3000,#ff5d00,#ff9200,#ffb700,#ffdc00,#f4ff00,#c3ff00,#8fff00,#56ff00,#23ff00,#00ff14,#00ff4e,#00ff8a,#00ffc0,#00ffe2,#00f9ff,#00d8ff,#00b8ff,#009aff,#0085ff,#007dff,#0079ff,#0075ff,#0070ff,#006eff,#006cff,#006aff,#006cff,#006fff,#0073ff,#0073ff,#0068ff,#005dff,#0051ff,#004cff,#004bff,#004aff,#0049ff,#0049ff,#004aff,#004bff,#004cff,#0050ff,#05f,#0059ff,#005dff,#0060ff,#0062ff,#0062ff,#0063ff,#0063ff,#0064ff,#0064ff,#0064ff,#0064ff,#0064ff)"></i>
<i style="left:137.5px;width:3.1px;background:linear-gradient(#00a9ff,#00a9ff,#00a9ff,#00a9ff,#00a9ff,#00a9ff,#00a9ff,#00a9ff,#00a9ff,#00a9ff,#00a9ff,#00a9ff,#00a9ff,#00a9ff,#00a9ff,#0af,#0af,#00abff,#00abff,#00adff,#00b6ff,#00beff,#00b4ff,#00a9ff,#009fff,#00afff,#00beff,#00cdff,#00dcff,#00f3ff,#00fff1,#00ffd7,#00ffbe,#00ffa4,#00ff8b,#00ff71,#00ff53,#0f3,#00ff14,#0dff00,#2eff00,#4fff00,#71ff00,#96ff00,#c4ff00,#f5ff00,#ffde00,#ffb500,#ff9100,#ff7a00,#ff6400,#ff5400,#ff4a00,#ff4000,#ff2e00,#ff1700,#ff0200,#ff2000,#ff4a00,#ff7b00,#ffae00,#ffe400,#e3ff00,#af0,#74ff00,#45ff00,#16ff00,#00ff12,#00ff35,#00ff58,#00ff7b,#00ff9c,#00ffbc,#00ffdc,#00fffd,#00e0ff,#00c3ff,#00aeff,#0098ff,#0085ff,#0093ff,#00a0ff,#00acff,#00aeff,#00b0ff,#00b2ff,#00b4ff,#00b2ff,#00a8ff,#009eff,#0095ff,#008bff,#0081ff,#007aff,#0073ff,#006cff,#006fff,#007bff,#0087ff,#0092ff,#0098ff,#009dff,#00a4ff,#00adff,#00b4ff,#00b8ff,#00baff,#00b9ff,#00b1ff,#00a9ff,#00a1ff,#0098ff,#008fff,#0086ff,#007dff,#0075ff,#006eff,#06f,#005eff,#0058ff,#0054ff,#0051ff,#004eff,#004bff,#0047ff,#0042ff,#0040ff,#0041ff,#0043ff,#0045ff,#0048ff,#004eff,#05f,#005cff,#0058ff,#0054ff,#004aff,#003eff,#03f,#0028ff,#0024ff,#001fff,#0026ff,#002dff,#003cff,#005eff,#0080ff,#009fff,#00bdff,#00dcff,#00fbff,#00ffe5,#00ffc5,#00ffa4,#00ff7e,#00ff5f,#00ff3e,#00ff17,#27ff00,#6dff00,#af0,#e4ff00,#ffd000,#ff9500,#ff6200,#f30,#ff1600,#ff1600,#f30,#ff5f00,#ff9100,#ffb300,#ffd500,#fdff00,#d0ff00,#9fff00,#68ff00,#37ff00,#00ff01,#00ff3c,#00ff79,#00ffaf,#00ffd2,#00fff6,#00e5ff,#00c2ff,#00a2ff,#008dff,#0082ff,#007cff,#0076ff,#0070ff,#006dff,#006bff,#0068ff,#0069ff,#006cff,#0070ff,#0070ff,#0065ff,#005aff,#004fff,#004aff,#0049ff,#0048ff,#0046ff,#0046ff,#0047ff,#0047ff,#0048ff,#004dff,#0052ff,#0057ff,#005bff,#005fff,#0061ff,#0061ff,#0062ff,#0063ff,#0063ff,#0063ff,#0063ff,#0063ff,#0063ff)"></i>
<i style="left:140px;width:3.1px;background:linear-gradient(#0af,#0af,#0af,#0af,#0af,#0af,#0af,#0af,#0af,#0af,#0af,#0af,#0af,#0af,#0af,#0af,#00abff,#00acff,#00adff,#00acff,#00b3ff,#0bf,#00b7ff,#00adff,#00a2ff,#00abff,#00baff,#00c9ff,#00d8ff,#00ecff,#00fff8,#00ffdf,#00ffc5,#00ffac,#00ff94,#00ff7b,#00ff5f,#00ff3f,#00ff1f,#02ff00,#2f0,#43ff00,#65ff00,#89ff00,#b3ff00,#e4ff00,#ffed00,#ffc400,#ff9c00,#ff8300,#ff6c00,#ff5700,#ff4d00,#ff4200,#ff3500,#ff1f00,#ff0a00,#ff0d00,#ff3600,#ff6300,#ff9300,#ffc600,#fff800,#ceff00,#95ff00,#62ff00,#3f0,#04ff00,#00ff20,#0f4,#00ff67,#00ff8a,#00ffab,#0fc,#00ffed,#00f1ff,#00d1ff,#00baff,#00a6ff,#0091ff,#008fff,#009bff,#00a7ff,#00adff,#00aeff,#00b0ff,#00b2ff,#00b2ff,#00a8ff,#009eff,#0095ff,#008bff,#0081ff,#007aff,#0073ff,#006cff,#0071ff,#007dff,#0089ff,#0094ff,#0098ff,#009dff,#00a4ff,#00acff,#00b3ff,#00b8ff,#00b9ff,#00b8ff,#00b0ff,#00a8ff,#00a0ff,#0097ff,#008fff,#0086ff,#007dff,#0076ff,#006eff,#0067ff,#005fff,#0059ff,#05f,#0052ff,#0050ff,#004dff,#0048ff,#04f,#0041ff,#0042ff,#0043ff,#0045ff,#0047ff,#004dff,#0053ff,#0059ff,#0056ff,#0052ff,#0049ff,#003fff,#0034ff,#0029ff,#0024ff,#001fff,#0024ff,#002bff,#0037ff,#0057ff,#0078ff,#0096ff,#00b3ff,#00d0ff,#0ef,#00fff4,#00ffd7,#00ffb9,#00ff95,#00ff79,#00ff59,#00ff31,#0eff00,#54ff00,#91ff00,#cf0,#ffe900,#ffad00,#ff7600,#ff3d00,#ff1a00,#ff1a00,#ff3700,#ff6100,#ff8f00,#ffaf00,#ffce00,#fff700,#dcff00,#afff00,#7bff00,#4bff00,#12ff00,#00ff29,#00ff67,#00ff9d,#00ffc2,#00ffe7,#00f2ff,#00cdff,#00abff,#0094ff,#0086ff,#007fff,#07f,#0070ff,#006dff,#006aff,#0067ff,#0067ff,#006aff,#006cff,#006cff,#0062ff,#0058ff,#004eff,#0049ff,#0048ff,#0046ff,#04f,#04f,#04f,#04f,#0045ff,#004aff,#004fff,#0054ff,#0059ff,#005dff,#0060ff,#0061ff,#0061ff,#0062ff,#0063ff,#0063ff,#0063ff,#0063ff,#0063ff)"></i>
<i style="left:142.5px;width:3.1px;background:linear-gradient(#00abff,#00abff,#00abff,#00abff,#00abff,#00abff,#00abff,#00abff,#00abff,#00abff,#00abff,#00abff,#00abff,#00abff,#00abff,#00abff,#00acff,#00adff,#00afff,#00aeff,#00b1ff,#00b8ff,#0bf,#00b0ff,#00a6ff,#00a8ff,#00b7ff,#00c5ff,#00d4ff,#00e6ff,#00fffe,#00ffe6,#00ffcd,#00ffb4,#00ff9c,#00ff84,#00ff6b,#00ff4b,#00ff2a,#00ff0a,#17ff00,#38ff00,#59ff00,#7cff00,#a3ff00,#d4ff00,#fffb00,#ffd300,#ffac00,#ff8b00,#ff7500,#ff5e00,#ff5000,#ff4500,#ff3a00,#ff2600,#ff1200,#ff0100,#ff2300,#ff4e00,#ff7b00,#fa0,#ffdb00,#f1ff00,#b9ff00,#80ff00,#51ff00,#2f0,#00ff0a,#00ff2e,#00ff52,#00ff76,#0f9,#00ffba,#00ffdc,#00fffc,#00e2ff,#00c6ff,#00b3ff,#009fff,#008cff,#0098ff,#00a3ff,#00abff,#00adff,#00aeff,#00afff,#00b1ff,#00a8ff,#009eff,#0094ff,#008bff,#0081ff,#007aff,#0073ff,#006cff,#0072ff,#007fff,#008cff,#0096ff,#09f,#009dff,#00a4ff,#00acff,#00b3ff,#00b8ff,#00b8ff,#00b7ff,#00afff,#00a7ff,#009fff,#0097ff,#008eff,#0086ff,#007dff,#0076ff,#006fff,#0067ff,#0060ff,#005aff,#05f,#0053ff,#0052ff,#004fff,#004aff,#0046ff,#0043ff,#0043ff,#0043ff,#0045ff,#0046ff,#004cff,#0051ff,#0057ff,#05f,#0051ff,#0049ff,#003fff,#0035ff,#002bff,#0025ff,#0020ff,#0023ff,#0029ff,#0032ff,#0051ff,#0070ff,#008dff,#00a9ff,#00c4ff,#00e1ff,#00fbff,#00ffe8,#00ffce,#00ffad,#00ff92,#00ff73,#00ff4b,#00ff0c,#3bff00,#79ff00,#b4ff00,#fcff00,#ffc500,#ff8900,#ff4700,#ff1f00,#ff1f00,#ff3a00,#ff6300,#ff8d00,#fa0,#ffc700,#ffed00,#e9ff00,#bfff00,#8eff00,#5eff00,#25ff00,#00ff17,#0f5,#00ff8c,#00ffb2,#00ffd9,#0ff,#00d8ff,#00b4ff,#009bff,#008bff,#0082ff,#0078ff,#0070ff,#006cff,#0069ff,#0065ff,#0065ff,#0067ff,#0069ff,#0069ff,#005fff,#0056ff,#004cff,#0047ff,#0046ff,#04f,#0042ff,#0041ff,#0041ff,#0041ff,#0041ff,#0047ff,#004dff,#0052ff,#0057ff,#005cff,#005fff,#0060ff,#0061ff,#0062ff,#0062ff,#0062ff,#0062ff,#0062ff,#0062ff)"></i>
<i style="left:145px;width:3.1px;background:linear-gradient(#00acff,#00acff,#00acff,#00acff,#00acff,#00acff,#00acff,#00acff,#00acff,#00acff,#00acff,#00acff,#00acff,#00acff,#00acff,#00acff,#00adff,#00aeff,#00b0ff,#00b0ff,#00afff,#00b6ff,#00bcff,#00b4ff,#0af,#00a4ff,#00b3ff,#00c2ff,#00d0ff,#00e0ff,#00f9ff,#00ffec,#00ffd4,#00ffbc,#00ffa4,#00ff8d,#00ff76,#00ff57,#00ff36,#00ff15,#0cff00,#2dff00,#4eff00,#70ff00,#96ff00,#c3ff00,#f4ff00,#ffe200,#fb0,#ff9400,#ff7e00,#ff6700,#ff5400,#ff4800,#ff3c00,#ff2d00,#ff1900,#ff0600,#ff1000,#ff3a00,#f60,#ff9200,#ffc000,#fe0,#dcff00,#a3ff00,#6fff00,#3fff00,#10ff00,#00ff19,#00ff3d,#00ff62,#00ff86,#00ffa8,#00ffca,#00ffec,#00f3ff,#00d4ff,#00beff,#00abff,#09f,#0095ff,#009fff,#00a8ff,#00acff,#00acff,#00adff,#00aeff,#00a8ff,#009eff,#0094ff,#008aff,#0081ff,#007aff,#0073ff,#006dff,#0073ff,#0081ff,#008eff,#0097ff,#009aff,#009dff,#00a4ff,#00acff,#00b3ff,#00b8ff,#00b7ff,#00b5ff,#00adff,#00a5ff,#009dff,#0096ff,#008eff,#0085ff,#007dff,#07f,#0070ff,#0068ff,#0060ff,#005aff,#0056ff,#05f,#0053ff,#0051ff,#004cff,#0048ff,#04f,#04f,#04f,#0045ff,#0046ff,#004bff,#004fff,#0054ff,#0053ff,#0050ff,#0048ff,#003fff,#0035ff,#002cff,#0025ff,#0021ff,#02f,#0027ff,#002eff,#004bff,#0068ff,#0084ff,#009eff,#00b9ff,#00d3ff,#00ecff,#00fff9,#00ffe3,#00ffc5,#00ffab,#00ff8e,#00ff65,#00ff25,#21ff00,#60ff00,#9dff00,#e3ff00,#fd0,#ff9c00,#ff5100,#ff2300,#ff2300,#ff3d00,#ff6500,#ff8c00,#ffa600,#ffc100,#ffe400,#f6ff00,#cfff00,#a1ff00,#72ff00,#38ff00,#00ff04,#0f4,#00ff7b,#00ffa3,#00ffca,#00fff3,#00e2ff,#00bdff,#00a3ff,#0090ff,#0085ff,#007aff,#006fff,#006cff,#0068ff,#0063ff,#0062ff,#0064ff,#06f,#0065ff,#005cff,#0053ff,#004aff,#0046ff,#0045ff,#0042ff,#0040ff,#003fff,#003eff,#003dff,#003dff,#04f,#004aff,#0050ff,#0056ff,#005bff,#005eff,#005fff,#0060ff,#0061ff,#0062ff,#0062ff,#0062ff,#0062ff,#0062ff)"></i>
<i style="left:147.5px;width:3.1px;background:linear-gradient(#00adff,#00adff,#00adff,#00adff,#00adff,#00adff,#00adff,#00adff,#00adff,#00adff,#00adff,#00adff,#00adff,#00adff,#00adff,#00adff,#00adff,#00afff,#00b0ff,#00b2ff,#00b0ff,#00b4ff,#00baff,#00b7ff,#00adff,#00a4ff,#00b0ff,#00beff,#00cdff,#00dbff,#00f2ff,#00fff2,#00ffdb,#00ffc4,#00ffac,#00ff96,#00ff7f,#00ff64,#00ff42,#00ff21,#0f0,#21ff00,#42ff00,#64ff00,#8f0,#b3ff00,#e3ff00,#fff000,#ffc900,#ffa300,#ff8600,#ff7000,#ff5900,#ff4c00,#ff3f00,#ff3200,#ff2000,#ff0d00,#ff0300,#ff2700,#ff5100,#ff7c00,#ffa700,#ffd300,#ff0,#c7ff00,#8eff00,#5dff00,#2dff00,#00ff02,#00ff27,#00ff4c,#00ff71,#00ff95,#00ffb8,#00ffdb,#00fffb,#00e5ff,#00c9ff,#00b7ff,#00a5ff,#0094ff,#009cff,#00a5ff,#00abff,#00abff,#00acff,#00acff,#00a8ff,#009eff,#0094ff,#008aff,#0080ff,#007aff,#0073ff,#006dff,#0075ff,#0083ff,#0091ff,#0098ff,#009aff,#009dff,#00a4ff,#00acff,#00b3ff,#00b8ff,#00b7ff,#00b4ff,#00acff,#00a4ff,#009cff,#0095ff,#008dff,#0085ff,#007eff,#07f,#0070ff,#0069ff,#0061ff,#005bff,#0057ff,#0056ff,#05f,#0053ff,#004eff,#004aff,#0046ff,#0045ff,#0045ff,#0045ff,#0046ff,#0049ff,#004eff,#0052ff,#0052ff,#004eff,#0048ff,#003fff,#0036ff,#002cff,#0026ff,#0021ff,#0021ff,#0025ff,#002aff,#0045ff,#0061ff,#007bff,#0094ff,#00adff,#00c6ff,#0df,#00f3ff,#00fff8,#00ffdc,#00ffc5,#00ffa8,#00ff80,#00ff3f,#08ff00,#48ff00,#85ff00,#c9ff00,#fff500,#ffb000,#ff5c00,#ff2700,#ff2700,#ff4100,#ff6700,#ff8a00,#ffa200,#ffba00,#ffda00,#fffc00,#dfff00,#b3ff00,#86ff00,#4cff00,#0eff00,#00ff32,#00ff6a,#00ff93,#0fb,#00ffe6,#00edff,#00c6ff,#0af,#0095ff,#08f,#007bff,#006fff,#006bff,#0067ff,#0062ff,#0060ff,#0061ff,#0062ff,#0062ff,#0059ff,#0051ff,#0049ff,#04f,#0043ff,#0040ff,#003eff,#003cff,#003bff,#003aff,#003aff,#0041ff,#0047ff,#004eff,#0054ff,#0059ff,#005dff,#005eff,#005fff,#0060ff,#0061ff,#0061ff,#0061ff,#0061ff,#0061ff)"></i>
<i style="left:150px;width:3.1px;background:linear-gradient(#00aeff,#00aeff,#00aeff,#00aeff,#00aeff,#00aeff,#00aeff,#00aeff,#00aeff,#00aeff,#00aeff,#00aeff,#00aeff,#00aeff,#00aeff,#00aeff,#00aeff,#00afff,#00b1ff,#00b3ff,#00b2ff,#00b3ff,#00b8ff,#00b9ff,#00b0ff,#00a8ff,#00acff,#0bf,#00c9ff,#00d8ff,#00ebff,#00fff8,#00ffe1,#00ffcb,#00ffb4,#00ff9e,#0f8,#00ff71,#00ff4f,#00ff2d,#00ff0c,#16ff00,#37ff00,#58ff00,#7bff00,#a3ff00,#d2ff00,#fffd00,#ffd700,#ffb200,#ff8f00,#ff7800,#ff6200,#ff5000,#ff4300,#ff3600,#ff2600,#ff1400,#ff0300,#ff1300,#ff3e00,#ff6700,#ff9100,#fb0,#ffe500,#eaff00,#b2ff00,#7bff00,#4bff00,#1bff00,#00ff10,#00ff36,#00ff5c,#00ff81,#00ffa5,#00ffc8,#00ffec,#00f4ff,#00d7ff,#00c2ff,#00b1ff,#00a0ff,#009bff,#00a3ff,#00a9ff,#0af,#0af,#0af,#00a8ff,#009eff,#0094ff,#008aff,#0080ff,#0079ff,#0073ff,#006dff,#0076ff,#0085ff,#0093ff,#09f,#009bff,#009dff,#00a4ff,#00acff,#00b3ff,#00b8ff,#00b6ff,#00b3ff,#00abff,#00a3ff,#009bff,#0094ff,#008dff,#0085ff,#007eff,#0078ff,#0071ff,#0069ff,#0062ff,#005cff,#0057ff,#0057ff,#0056ff,#05f,#0050ff,#004cff,#0047ff,#0046ff,#0045ff,#0045ff,#0046ff,#0049ff,#004cff,#0050ff,#0050ff,#004dff,#0047ff,#003eff,#0036ff,#002dff,#0026ff,#02f,#0020ff,#0024ff,#0027ff,#003fff,#0059ff,#0073ff,#008aff,#00a2ff,#00b9ff,#00ceff,#00e2ff,#00f1ff,#00fff4,#00ffde,#00ffc2,#00ff9a,#00ff58,#0f1,#2fff00,#6dff00,#b0ff00,#f0ff00,#ffc300,#f60,#ff2c00,#ff2c00,#f40,#ff6900,#ff8900,#ff9e00,#ffb300,#ffd000,#ffef00,#efff00,#c6ff00,#9aff00,#5fff00,#20ff00,#00ff20,#00ff59,#00ff83,#00ffad,#00ffd9,#00f8ff,#00cfff,#00b1ff,#09f,#008bff,#007cff,#006fff,#006bff,#06f,#0060ff,#005eff,#005eff,#005fff,#005eff,#0056ff,#004fff,#0047ff,#0043ff,#0041ff,#003fff,#003cff,#003aff,#0038ff,#0036ff,#0036ff,#003dff,#0045ff,#004cff,#0052ff,#0058ff,#005cff,#005dff,#005eff,#0060ff,#0061ff,#0061ff,#0061ff,#0061ff,#0061ff)"></i>
<i style="left:152.5px;width:3.1px;background:linear-gradient(#00afff,#00afff,#00afff,#00afff,#00afff,#00afff,#00afff,#00afff,#00afff,#00afff,#00afff,#00afff,#00afff,#00afff,#00afff,#00afff,#00afff,#00afff,#00b2ff,#00b4ff,#00b5ff,#00b3ff,#00b6ff,#0bf,#00b3ff,#00abff,#00a9ff,#00b7ff,#00c6ff,#00d4ff,#00e4ff,#0ff,#00ffe8,#00ffd1,#0fb,#00ffa5,#00ff90,#00ff7b,#00ff5c,#00ff3a,#00ff18,#0aff00,#2bff00,#4cff00,#6fff00,#95ff00,#c2ff00,#f2ff00,#ffe500,#ffc000,#ff9b00,#ff8100,#ff6b00,#f50,#ff4700,#ff3900,#ff2b00,#ff1a00,#ff0900,#ff0400,#ff2a00,#ff5400,#ff7c00,#ffa400,#ffcd00,#fff500,#d5ff00,#9dff00,#69ff00,#39ff00,#09ff00,#00ff1f,#00ff45,#00ff6c,#00ff91,#00ffb5,#00ffda,#00fffb,#00e7ff,#00cbff,#0bf,#00abff,#009bff,#00a1ff,#00a7ff,#0af,#00a9ff,#00a8ff,#00a7ff,#009eff,#0094ff,#008aff,#0080ff,#0079ff,#0073ff,#006dff,#0078ff,#0087ff,#0096ff,#009aff,#009bff,#009cff,#00a3ff,#00abff,#00b2ff,#00b7ff,#00b5ff,#00b2ff,#0af,#00a2ff,#009aff,#0093ff,#008cff,#0085ff,#007eff,#0078ff,#0071ff,#006aff,#0063ff,#005cff,#0058ff,#0058ff,#0058ff,#0057ff,#0052ff,#004eff,#0049ff,#0047ff,#0046ff,#0045ff,#0046ff,#0048ff,#004bff,#004eff,#004eff,#004bff,#0046ff,#003eff,#0036ff,#002eff,#0027ff,#02f,#0020ff,#02f,#0025ff,#0039ff,#0052ff,#006aff,#0080ff,#0096ff,#00acff,#00c0ff,#00d0ff,#00dcff,#00f2ff,#00fff7,#0fd,#00ffb4,#00ff72,#00ff2b,#16ff00,#56ff00,#97ff00,#d8ff00,#ffd600,#ff7000,#ff3000,#ff3000,#ff4700,#ff6b00,#ff8700,#ff9a00,#ffac00,#ffc700,#ffe200,#feff00,#d9ff00,#adff00,#72ff00,#3f0,#00ff0e,#00ff48,#00ff73,#00ff9e,#0fc,#00fffc,#00d8ff,#00b9ff,#009eff,#008eff,#007eff,#006fff,#006aff,#0064ff,#005fff,#005bff,#005bff,#005cff,#005bff,#0054ff,#004cff,#0045ff,#0041ff,#0040ff,#003dff,#0039ff,#0037ff,#0035ff,#03f,#0032ff,#003aff,#0042ff,#0049ff,#0050ff,#0056ff,#005bff,#005cff,#005eff,#005fff,#0060ff,#0060ff,#0060ff,#0060ff,#0060ff)"></i>
<i style="left:155px;width:3.1px;background:linear-gradient(#00b0ff,#00b0ff,#00b0ff,#00b0ff,#00b0ff,#00b0ff,#00b0ff,#00b0ff,#00b0ff,#00b0ff,#00b0ff,#00b0ff,#00b0ff,#00b0ff,#00b0ff,#00b0ff,#00b0ff,#00b0ff,#00b2ff,#00b4ff,#00b6ff,#00b5ff,#00b6ff,#00b9ff,#00b6ff,#00aeff,#00a6ff,#00b4ff,#00c2ff,#00d0ff,#00deff,#00f8ff,#00ffed,#00ffd8,#00ffc2,#00ffad,#00ff98,#00ff84,#00ff68,#00ff46,#00ff24,#00ff02,#20ff00,#41ff00,#63ff00,#87ff00,#b2ff00,#e2ff00,#fff200,#ffcd00,#ffa900,#ff8a00,#ff7300,#ff5d00,#ff4c00,#ff3d00,#ff2f00,#ff1f00,#ff0f00,#ff0100,#ff1600,#ff4200,#ff6900,#ff9000,#ffb700,#ffde00,#f8ff00,#c0ff00,#8f0,#57ff00,#27ff00,#00ff08,#00ff2f,#0f5,#00ff7c,#00ffa2,#00ffc6,#00ffeb,#00f5ff,#00daff,#00c5ff,#00b6ff,#00a7ff,#00a1ff,#00a6ff,#00a9ff,#00a9ff,#00a7ff,#00a6ff,#009eff,#0094ff,#008aff,#0080ff,#0079ff,#0073ff,#006dff,#007aff,#0089ff,#09f,#009bff,#009cff,#009cff,#00a3ff,#00abff,#00b2ff,#00b7ff,#00b4ff,#00b1ff,#00a9ff,#00a1ff,#09f,#0092ff,#008cff,#0085ff,#007eff,#0079ff,#0072ff,#006bff,#0063ff,#005dff,#0059ff,#0059ff,#0059ff,#0059ff,#0054ff,#004fff,#004bff,#0048ff,#0047ff,#0045ff,#0046ff,#0047ff,#004aff,#004cff,#004dff,#004aff,#0045ff,#003eff,#0036ff,#002eff,#0027ff,#0023ff,#001fff,#0021ff,#0023ff,#0034ff,#004bff,#0061ff,#0076ff,#008bff,#009fff,#00b1ff,#00bfff,#00c7ff,#00dbff,#00edff,#00fff7,#00ffce,#00ff8b,#0f4,#00ff02,#3eff00,#7eff00,#c0ff00,#ffe900,#ff7a00,#ff3400,#ff3400,#ff4b00,#ff6d00,#ff8500,#ff9600,#ffa600,#ffbd00,#ffd600,#fff000,#ebff00,#c1ff00,#85ff00,#45ff00,#03ff00,#00ff37,#00ff63,#00ff8f,#00ffbf,#00fff1,#00e1ff,#00c0ff,#00a3ff,#0091ff,#007fff,#006fff,#006aff,#0063ff,#005dff,#0059ff,#0058ff,#0059ff,#0057ff,#0051ff,#004aff,#04f,#0040ff,#003eff,#003bff,#0037ff,#0034ff,#0032ff,#0030ff,#002fff,#0037ff,#003fff,#0047ff,#004eff,#05f,#0059ff,#005bff,#005dff,#005eff,#005fff,#005fff,#005fff,#005fff,#005fff)"></i>
<i style="left:157.5px;width:3.1px;background:linear-gradient(#00b1ff,#00b1ff,#00b1ff,#00b1ff,#00b1ff,#00b1ff,#00b1ff,#00b1ff,#00b1ff,#00b1ff,#00b1ff,#00b1ff,#00b1ff,#00b1ff,#00b1ff,#00b1ff,#00b1ff,#00b1ff,#00b2ff,#00b4ff,#00b7ff,#00b7ff,#00b6ff,#00b8ff,#00b8ff,#00b1ff,#00a9ff,#00b1ff,#00bfff,#00cdff,#00dbff,#00f1ff,#00fff3,#00ffde,#00ffc9,#00ffb4,#00ffa0,#00ff8c,#00ff76,#00ff53,#00ff30,#00ff0e,#14ff00,#35ff00,#57ff00,#79ff00,#a3ff00,#d1ff00,#ff0,#ffdb00,#ffb700,#ff9300,#ff7c00,#ff6500,#ff5100,#ff4200,#f30,#ff2400,#ff1500,#ff0500,#ff0400,#ff2e00,#ff5700,#ff7c00,#ffa200,#ffc800,#ffed00,#e3ff00,#abff00,#76ff00,#45ff00,#14ff00,#00ff17,#00ff3e,#0f6,#00ff8d,#00ffb2,#00ffd8,#00fffb,#00e8ff,#00ceff,#00bfff,#00b1ff,#00a4ff,#00a6ff,#00a9ff,#00a9ff,#00a6ff,#00a4ff,#009eff,#0094ff,#008aff,#007fff,#0079ff,#0073ff,#006eff,#007bff,#008cff,#009cff,#009cff,#009cff,#009cff,#00a3ff,#00abff,#00b2ff,#00b7ff,#00b4ff,#00afff,#00a8ff,#00a0ff,#0098ff,#0091ff,#008bff,#0085ff,#007fff,#0079ff,#0073ff,#006bff,#0064ff,#005eff,#0059ff,#005aff,#005bff,#005bff,#0056ff,#0051ff,#004dff,#004aff,#0048ff,#0046ff,#0046ff,#0046ff,#0048ff,#004aff,#004bff,#0048ff,#04f,#003dff,#0036ff,#002fff,#0028ff,#0023ff,#001fff,#0020ff,#0021ff,#002fff,#04f,#0059ff,#006cff,#007fff,#0092ff,#00a2ff,#00aeff,#00b2ff,#00c3ff,#00d4ff,#00edff,#00ffe8,#00ffa5,#00ff5d,#00ff1b,#26ff00,#65ff00,#a8ff00,#fffd00,#ff8400,#ff3800,#ff3800,#ff4e00,#ff6f00,#ff8400,#ff9100,#ff9f00,#ffb300,#ffc900,#ffe000,#feff00,#d5ff00,#98ff00,#58ff00,#15ff00,#00ff26,#00ff53,#00ff80,#00ffb2,#00ffe6,#00e9ff,#00c8ff,#00a7ff,#0094ff,#0080ff,#006fff,#0069ff,#0062ff,#005cff,#0057ff,#0056ff,#05f,#0054ff,#004eff,#0048ff,#0042ff,#003eff,#003dff,#0039ff,#0035ff,#0032ff,#002fff,#002cff,#002bff,#0034ff,#003dff,#0045ff,#004cff,#0053ff,#0058ff,#005aff,#005cff,#005eff,#005fff,#005fff,#005fff,#005fff,#005fff)"></i>
<i style="left:160px;width:3.1px;background:linear-gradient(#00b2ff,#00b2ff,#00b2ff,#00b2ff,#00b2ff,#00b2ff,#00b2ff,#00b2ff,#00b2ff,#00b2ff,#00b2ff,#00b2ff,#00b2ff,#00b2ff,#00b2ff,#00b2ff,#00b2ff,#00b2ff,#00b2ff,#00b4ff,#00b7ff,#00baff,#00b7ff,#00b8ff,#00b9ff,#00b3ff,#00acff,#00aeff,#00bcff,#00c9ff,#00d7ff,#00eaff,#00fff8,#00ffe3,#00ffcf,#0fb,#00ffa7,#00ff93,#00ff80,#00ff60,#00ff3d,#00ff1a,#08ff00,#2aff00,#4bff00,#6dff00,#94ff00,#c1ff00,#f0ff00,#ffe800,#ffc400,#ffa100,#ff8500,#ff6e00,#ff5700,#ff4700,#ff3700,#ff2800,#ff1900,#ff0b00,#f00,#ff1900,#ff4600,#ff6a00,#ff8e00,#ffb300,#ffd700,#fffb00,#ceff00,#96ff00,#64ff00,#3f0,#01ff00,#00ff27,#00ff4f,#00ff76,#00ff9e,#00ffc4,#00ffea,#00f6ff,#00dcff,#00c7ff,#0bf,#00aeff,#00a8ff,#00a9ff,#00a9ff,#00a6ff,#00a3ff,#009eff,#0094ff,#0089ff,#007fff,#0079ff,#0073ff,#006eff,#007dff,#008eff,#009dff,#009cff,#009cff,#009cff,#00a3ff,#00abff,#00b2ff,#00b7ff,#00b3ff,#00aeff,#00a6ff,#009fff,#0097ff,#0090ff,#008aff,#0085ff,#007fff,#007aff,#0073ff,#006cff,#0065ff,#005eff,#005aff,#005bff,#005cff,#005cff,#0058ff,#0053ff,#004fff,#004bff,#0049ff,#0046ff,#0046ff,#0046ff,#0047ff,#0049ff,#0049ff,#0047ff,#0043ff,#003dff,#0036ff,#002fff,#0028ff,#0024ff,#001fff,#001fff,#001fff,#002aff,#003dff,#0050ff,#0062ff,#0074ff,#0085ff,#0093ff,#009cff,#009dff,#00acff,#0bf,#00d2ff,#00fcff,#00ffbe,#0f7,#0f3,#0fff00,#4cff00,#90ff00,#ef0,#ff8e00,#ff3d00,#ff3d00,#ff5200,#ff7100,#ff8200,#ff8d00,#ff9800,#fa0,#ffbc00,#ffd000,#ffed00,#e9ff00,#abff00,#6aff00,#27ff00,#00ff14,#00ff43,#00ff72,#00ffa5,#00ffdc,#00f2ff,#00cfff,#00acff,#0097ff,#0081ff,#006fff,#0069ff,#0061ff,#005aff,#0054ff,#0053ff,#0052ff,#0050ff,#004bff,#0045ff,#0040ff,#003dff,#003bff,#0037ff,#03f,#002fff,#002cff,#0029ff,#0028ff,#0031ff,#003aff,#0043ff,#004aff,#0052ff,#0057ff,#0059ff,#005bff,#005dff,#005eff,#005eff,#005eff,#005eff,#005eff)"></i>
<i style="left:162.5px;width:3.1px;background:linear-gradient(#00b3ff,#00b3ff,#00b3ff,#00b3ff,#00b3ff,#00b3ff,#00b3ff,#00b3ff,#00b3ff,#00b3ff,#00b3ff,#00b3ff,#00b3ff,#00b3ff,#00b3ff,#00b3ff,#00b3ff,#00b3ff,#00b3ff,#00b4ff,#00b7ff,#00baff,#00baff,#00b8ff,#00b8ff,#00b5ff,#00afff,#00abff,#00b9ff,#00c6ff,#00d4ff,#00e3ff,#0ff,#00ffe9,#00ffd5,#00ffc1,#00ffae,#00ff9b,#0f8,#00ff6d,#00ff4a,#00ff27,#00ff03,#1eff00,#40ff00,#61ff00,#86ff00,#b2ff00,#e0ff00,#fff500,#ffd100,#ffae00,#ff8d00,#f70,#ff6000,#ff4c00,#ff3c00,#ff2c00,#ff1d00,#ff1000,#ff0200,#ff0500,#ff3100,#ff5900,#ff7c00,#ffa000,#ffc300,#ffe600,#f1ff00,#b9ff00,#83ff00,#51ff00,#20ff00,#00ff0e,#00ff37,#00ff5f,#0f8,#00ffaf,#00ffd6,#00fffb,#00eaff,#00d1ff,#00c3ff,#00b7ff,#00acff,#00abff,#00abff,#00a7ff,#00a3ff,#009eff,#0094ff,#0089ff,#007fff,#0079ff,#0073ff,#006eff,#007fff,#0091ff,#009eff,#009dff,#009cff,#009cff,#00a3ff,#0af,#00b1ff,#00b7ff,#00b2ff,#00adff,#00a5ff,#009dff,#0096ff,#0090ff,#008aff,#0084ff,#007fff,#007aff,#0074ff,#006dff,#06f,#005fff,#005aff,#005cff,#005eff,#005eff,#005aff,#05f,#0051ff,#004dff,#004aff,#0047ff,#0046ff,#0046ff,#0046ff,#0047ff,#0047ff,#0045ff,#0042ff,#003cff,#0036ff,#002fff,#0029ff,#0024ff,#001fff,#001eff,#001dff,#0025ff,#0037ff,#0048ff,#0058ff,#0068ff,#0078ff,#0084ff,#008cff,#008dff,#009aff,#00abff,#00c8ff,#00f6ff,#00ffc2,#0f7,#00ff31,#14ff00,#54ff00,#9aff00,#f6ff00,#ff8c00,#ff3b00,#ff3b00,#ff5200,#ff7000,#ff8000,#f80,#ff9000,#ff9c00,#ffa500,#ffb000,#ffc200,#ffe000,#e3ff00,#9f0,#4dff00,#0bff00,#00ff29,#00ff5c,#00ff91,#00ffc9,#00fffa,#00dcff,#00b7ff,#009eff,#0086ff,#0072ff,#0068ff,#0060ff,#0058ff,#0052ff,#0050ff,#004fff,#004dff,#0048ff,#0043ff,#003eff,#003bff,#0039ff,#0035ff,#0031ff,#002dff,#0029ff,#0026ff,#0024ff,#002eff,#0037ff,#0040ff,#0049ff,#0051ff,#0056ff,#0058ff,#005aff,#005dff,#005eff,#005eff,#005eff,#005eff,#005eff)"></i>
<i style="left:165px;width:3.1px;background:linear-gradient(#00b5ff,#00b5ff,#00b5ff,#00b5ff,#00b5ff,#00b5ff,#00b5ff,#00b5ff,#00b5ff,#00b5ff,#00b5ff,#00b5ff,#00b5ff,#00b5ff,#00b5ff,#00b5ff,#00b5ff,#00b5ff,#00b5ff,#00b5ff,#00b7ff,#00baff,#00bdff,#00b9ff,#00b9ff,#00b7ff,#00b1ff,#00abff,#00b6ff,#00c3ff,#00d0ff,#00deff,#00f8ff,#0fe,#00ffdb,#00ffc7,#00ffb4,#00ffa2,#00ff8f,#00ff7b,#00ff57,#0f3,#00ff10,#13ff00,#34ff00,#56ff00,#78ff00,#a2ff00,#d0ff00,#fdff00,#ffde00,#fb0,#f90,#ff7f00,#ff6900,#ff5200,#ff4100,#ff3000,#ff2100,#ff1400,#ff0700,#f00,#ff1d00,#ff4900,#ff6b00,#ff8d00,#ffb000,#ffd200,#fff300,#dcff00,#a5ff00,#70ff00,#3fff00,#0dff00,#00ff1e,#00ff47,#00ff70,#0f9,#00ffc1,#00ffe9,#00f6ff,#00deff,#00c9ff,#00bfff,#00b5ff,#00aeff,#00acff,#00a9ff,#00a3ff,#009dff,#0094ff,#0089ff,#007fff,#0078ff,#0073ff,#006fff,#0081ff,#0094ff,#009fff,#009dff,#009cff,#009bff,#00a3ff,#0af,#00b1ff,#00b7ff,#00b2ff,#00acff,#00a4ff,#009cff,#0095ff,#008fff,#0089ff,#0084ff,#007fff,#007bff,#0074ff,#006dff,#06f,#0060ff,#005bff,#005dff,#005fff,#0060ff,#005cff,#0057ff,#0053ff,#004eff,#004bff,#0047ff,#0046ff,#0045ff,#0045ff,#0045ff,#0045ff,#0043ff,#0040ff,#003bff,#0035ff,#002fff,#002aff,#0025ff,#0020ff,#001eff,#001cff,#0021ff,#0031ff,#0040ff,#004fff,#005dff,#006bff,#0076ff,#007dff,#007fff,#0089ff,#009dff,#00c0ff,#00f2ff,#00ffc4,#00ff75,#00ff2a,#1cff00,#5fff00,#a7ff00,#fffd00,#f80,#ff3900,#ff3900,#ff5200,#ff6e00,#ff7d00,#ff8300,#ff8700,#ff8e00,#ff8e00,#ff8e00,#ff9500,#ffa700,#ffdf00,#cbff00,#76ff00,#2cff00,#00ff0e,#00ff46,#00ff7c,#00ffb5,#00ffe8,#00eaff,#00c3ff,#00a6ff,#008cff,#0076ff,#0068ff,#005fff,#0057ff,#004fff,#004dff,#004cff,#0049ff,#0045ff,#0041ff,#003dff,#003aff,#0038ff,#03f,#002eff,#002aff,#0026ff,#02f,#0020ff,#002aff,#0035ff,#003eff,#0047ff,#004fff,#05f,#0058ff,#005aff,#005cff,#005dff,#005dff,#005dff,#005dff,#005dff)"></i>
<i style="left:167.5px;width:3.1px;background:linear-gradient(#00b6ff,#00b6ff,#00b6ff,#00b6ff,#00b6ff,#00b6ff,#00b6ff,#00b6ff,#00b6ff,#00b6ff,#00b6ff,#00b6ff,#00b6ff,#00b6ff,#00b6ff,#00b6ff,#00b6ff,#00b6ff,#00b6ff,#00b6ff,#00b6ff,#00baff,#00beff,#00bcff,#00baff,#00b8ff,#00b3ff,#00aeff,#00b3ff,#00c0ff,#00cdff,#00daff,#00f0ff,#00fff3,#00ffe0,#00ffcd,#0fb,#00ffa9,#00ff97,#00ff85,#00ff64,#00ff40,#00ff1c,#07ff00,#28ff00,#4aff00,#6cff00,#93ff00,#c1ff00,#efff00,#ffeb00,#ffc800,#ffa600,#f80,#ff7100,#ff5b00,#ff4700,#ff3600,#ff2400,#ff1800,#ff0c00,#ff0100,#ff0800,#ff3500,#ff5b00,#ff7c00,#ff9e00,#ffbf00,#ffdf00,#ff0,#c7ff00,#90ff00,#5eff00,#2cff00,#00ff05,#00ff2f,#00ff58,#00ff82,#00ffab,#00ffd4,#00fffc,#00ebff,#00d3ff,#00c6ff,#00bdff,#00b3ff,#00b0ff,#00acff,#00a5ff,#009dff,#0094ff,#0089ff,#007eff,#0078ff,#0074ff,#0070ff,#0083ff,#0097ff,#00a0ff,#009eff,#009bff,#009bff,#00a3ff,#0af,#00b1ff,#00b7ff,#00b1ff,#00abff,#00a3ff,#009bff,#0093ff,#008eff,#0089ff,#0084ff,#007fff,#007bff,#0075ff,#006eff,#0067ff,#0060ff,#005bff,#005eff,#0060ff,#0062ff,#005eff,#0059ff,#0054ff,#0050ff,#004cff,#0048ff,#0046ff,#0045ff,#0045ff,#04f,#04f,#0042ff,#003fff,#003aff,#0035ff,#002fff,#002aff,#0025ff,#0021ff,#001dff,#001aff,#001dff,#002aff,#0038ff,#0045ff,#0052ff,#005fff,#0067ff,#006dff,#0070ff,#0078ff,#008fff,#00b8ff,#00edff,#00ffc6,#00ff73,#00ff24,#24ff00,#6bff00,#b5ff00,#fff200,#ff8500,#ff3700,#ff3700,#ff5200,#ff6d00,#ff7b00,#ff7e00,#ff7e00,#ff7f00,#ff7600,#ff6c00,#ff6700,#ff6e00,#ffa300,#feff00,#9fff00,#4eff00,#0dff00,#00ff30,#00ff68,#00ffa1,#00ffd6,#00f8ff,#00cfff,#00adff,#0091ff,#007aff,#0067ff,#005eff,#05f,#004dff,#004aff,#0048ff,#0046ff,#0042ff,#003fff,#003bff,#0038ff,#0036ff,#0031ff,#002cff,#0028ff,#0023ff,#001fff,#001dff,#0027ff,#0032ff,#003cff,#0045ff,#004eff,#0054ff,#0057ff,#0059ff,#005bff,#005dff,#005dff,#005dff,#005dff,#005dff)"></i>
<i style="left:170px;width:3.1px;background:linear-gradient(#00b7ff,#00b7ff,#00b7ff,#00b7ff,#00b7ff,#00b7ff,#00b7ff,#00b7ff,#00b7ff,#00b7ff,#00b7ff,#00b7ff,#00b7ff,#00b7ff,#00b7ff,#00b7ff,#00b7ff,#00b7ff,#00b7ff,#00b7ff,#00b7ff,#00baff,#00beff,#00bfff,#0bf,#00b8ff,#00b5ff,#00b0ff,#00b0ff,#00bdff,#00caff,#00d7ff,#00e9ff,#00fff8,#00ffe5,#00ffd3,#00ffc1,#00ffaf,#00ff9e,#00ff8c,#00ff72,#00ff4e,#00ff29,#00ff05,#1dff00,#3eff00,#60ff00,#84ff00,#b1ff00,#dfff00,#fff700,#ffd500,#ffb300,#ff9100,#ff7a00,#ff6300,#ff4e00,#ff3b00,#ff2900,#ff1a00,#ff0f00,#ff0400,#f00,#ff2000,#ff4c00,#ff6c00,#ff8c00,#ffad00,#ffcd00,#ffec00,#eaff00,#b3ff00,#7dff00,#4bff00,#19ff00,#00ff15,#00ff40,#00ff6a,#00ff94,#00ffbe,#00ffe7,#00f6ff,#00e0ff,#00cbff,#00c3ff,#0bf,#00b4ff,#00afff,#00a8ff,#009eff,#0095ff,#0089ff,#007eff,#0078ff,#0074ff,#0072ff,#0086ff,#009aff,#00a1ff,#009eff,#009bff,#009bff,#00a3ff,#0af,#00b1ff,#00b7ff,#00b0ff,#00a9ff,#00a2ff,#009aff,#0092ff,#008dff,#08f,#0084ff,#0080ff,#007bff,#0075ff,#006fff,#0068ff,#0061ff,#005cff,#005fff,#0062ff,#0064ff,#0060ff,#005bff,#0056ff,#0052ff,#004dff,#0049ff,#0046ff,#0045ff,#04f,#0043ff,#0042ff,#0040ff,#003eff,#0039ff,#0034ff,#002fff,#002aff,#0026ff,#0021ff,#001dff,#0019ff,#0019ff,#0024ff,#0030ff,#003bff,#0047ff,#0052ff,#0058ff,#005dff,#0061ff,#0067ff,#0081ff,#00b0ff,#00e9ff,#00ffc8,#00ff71,#00ff1e,#2cff00,#76ff00,#c2ff00,#ffe700,#ff8100,#ff3500,#ff3500,#ff5200,#ff6b00,#ff7800,#ff7900,#ff7500,#ff7100,#ff5e00,#ff4b00,#ff3a00,#ff3500,#ff6800,#ffce00,#c7ff00,#6fff00,#28ff00,#00ff1a,#00ff53,#00ff8d,#00ffc4,#00fff8,#00daff,#00b5ff,#0097ff,#007eff,#06f,#005dff,#0054ff,#004bff,#0047ff,#0045ff,#0042ff,#003fff,#003cff,#0039ff,#0037ff,#0034ff,#002fff,#002aff,#0025ff,#0020ff,#001bff,#0019ff,#0024ff,#002fff,#003aff,#0043ff,#004cff,#0053ff,#0056ff,#0058ff,#005bff,#005cff,#005cff,#005cff,#005cff,#005cff)"></i>
<i style="left:172.5px;width:3.1px;background:linear-gradient(#00b8ff,#00b8ff,#00b8ff,#00b8ff,#00b8ff,#00b8ff,#00b8ff,#00b8ff,#00b8ff,#00b8ff,#00b8ff,#00b8ff,#00b8ff,#00b8ff,#00b8ff,#00b8ff,#00b8ff,#00b8ff,#00b8ff,#00b8ff,#00b8ff,#00b9ff,#00bdff,#00c1ff,#00beff,#00baff,#00b6ff,#00b2ff,#00adff,#00b9ff,#00c6ff,#00d3ff,#00e0ff,#00feff,#00ffea,#00ffd8,#00ffc6,#00ffb5,#00ffa4,#00ff93,#00ff7f,#00ff5a,#00ff36,#0f1,#12ff00,#34ff00,#56ff00,#7f0,#a4ff00,#d1ff00,#fcff00,#ffe000,#ffbf00,#ff9e00,#ff8200,#ff6c00,#f50,#ff4100,#ff2e00,#ff1d00,#ff1200,#ff0700,#f00,#ff0e00,#ff3c00,#ff5f00,#ff7f00,#ff9e00,#ffbe00,#fd0,#fffb00,#d0ff00,#9f0,#6f0,#34ff00,#01ff00,#00ff2a,#0f5,#00ff80,#0fa,#00ffd4,#00fffe,#00e9ff,#00d4ff,#00c7ff,#00c1ff,#00baff,#00b3ff,#00acff,#00a1ff,#0095ff,#008aff,#007fff,#0078ff,#0074ff,#0073ff,#0087ff,#009cff,#00a1ff,#009eff,#009bff,#009cff,#00a3ff,#0af,#00b1ff,#00b8ff,#00b0ff,#00a8ff,#00a1ff,#09f,#0091ff,#008cff,#08f,#0084ff,#0080ff,#007cff,#0076ff,#006fff,#0068ff,#0062ff,#005cff,#0060ff,#0063ff,#06f,#0061ff,#005dff,#0058ff,#0053ff,#004fff,#004aff,#0047ff,#0045ff,#0043ff,#0042ff,#0040ff,#003fff,#003dff,#0038ff,#0034ff,#002fff,#002bff,#0026ff,#0021ff,#001dff,#0018ff,#0016ff,#0020ff,#002aff,#0034ff,#003eff,#0048ff,#004cff,#0051ff,#05f,#005aff,#0076ff,#00a9ff,#00e5ff,#00ffca,#00ff71,#00ff1c,#2fff00,#7bff00,#c9ff00,#ffe200,#ff8300,#ff3800,#ff3700,#f50,#ff6c00,#ff7800,#f70,#ff6f00,#f60,#ff4b00,#ff3000,#ff1500,#ff0700,#ff3700,#ffa500,#e9ff00,#8cff00,#40ff00,#00ff04,#00ff3f,#00ff7a,#00ffb3,#00ffea,#00e6ff,#00bdff,#009dff,#0082ff,#0067ff,#005dff,#0053ff,#0049ff,#0045ff,#0043ff,#0040ff,#003dff,#003bff,#0038ff,#0036ff,#03f,#002eff,#0029ff,#0023ff,#001eff,#0019ff,#0016ff,#02f,#002dff,#0038ff,#0041ff,#004bff,#0052ff,#05f,#0057ff,#005aff,#005cff,#005cff,#005cff,#005cff,#005cff)"></i>
<i style="left:175px;width:3.1px;background:linear-gradient(#00b7ff,#00b7ff,#00b7ff,#00b7ff,#00b7ff,#00b7ff,#00b7ff,#00b7ff,#00b7ff,#00b7ff,#00b7ff,#00b7ff,#00b7ff,#00b7ff,#00b7ff,#00b7ff,#00b7ff,#00b7ff,#00b7ff,#00b7ff,#00b7ff,#00b7ff,#00baff,#00beff,#00bfff,#0bf,#00b6ff,#00b2ff,#00aeff,#00b3ff,#00c1ff,#00ceff,#00dbff,#00f3ff,#00fff0,#00ffde,#00ffcb,#00ffba,#00ffa8,#00ff97,#00ff86,#00ff62,#00ff3d,#00ff18,#0cff00,#2eff00,#50ff00,#73ff00,#9dff00,#cbff00,#f8ff00,#ffe400,#ffc300,#ffa600,#ff8900,#ff7200,#ff5b00,#ff4600,#f30,#ff1f00,#ff1400,#ff0900,#f00,#ff0a00,#ff3700,#ff5b00,#ff7c00,#ff9c00,#ffbc00,#ffdb00,#fff900,#d5ff00,#9fff00,#6cff00,#3aff00,#08ff00,#00ff24,#00ff4f,#00ff7a,#00ffa5,#00ffd0,#00fffa,#00ebff,#00d5ff,#00c7ff,#00c0ff,#00baff,#00b4ff,#00afff,#00a3ff,#0098ff,#008dff,#0082ff,#007aff,#0076ff,#0072ff,#0086ff,#009aff,#00a3ff,#00a0ff,#009eff,#009dff,#00a4ff,#0af,#00b1ff,#00b7ff,#00b0ff,#00a8ff,#00a1ff,#09f,#0091ff,#008cff,#08f,#0084ff,#0080ff,#007cff,#0076ff,#006fff,#0069ff,#0062ff,#005dff,#0060ff,#0063ff,#06f,#0062ff,#005dff,#0058ff,#0054ff,#004fff,#004aff,#0047ff,#0045ff,#0043ff,#0042ff,#0040ff,#003eff,#003cff,#0038ff,#03f,#002fff,#002aff,#0026ff,#02f,#001dff,#0019ff,#0019ff,#02f,#002cff,#0035ff,#003fff,#0048ff,#004cff,#0051ff,#05f,#005aff,#0075ff,#00a7ff,#00e1ff,#00ffd1,#00ff7a,#00ff2d,#1bff00,#63ff00,#b1ff00,#fffb00,#ff9e00,#ff5200,#ff4c00,#ff6500,#ff7900,#ff8200,#ff7f00,#ff7600,#ff6b00,#ff5000,#ff3500,#ff1a00,#ff0900,#ff3700,#ffa600,#ebff00,#93ff00,#4cff00,#0eff00,#00ff2f,#00ff6c,#00ffa6,#00ffdf,#00f0ff,#00c5ff,#00a4ff,#08f,#006cff,#0063ff,#0058ff,#004cff,#0047ff,#04f,#0041ff,#003fff,#003cff,#003aff,#0037ff,#0034ff,#0030ff,#002aff,#0024ff,#001fff,#001aff,#0016ff,#0021ff,#002dff,#0037ff,#0041ff,#004aff,#0052ff,#0054ff,#0057ff,#005aff,#005bff,#005bff,#005bff,#005bff,#005bff)"></i>
<i style="left:177.5px;width:3.1px;background:linear-gradient(#00b7ff,#00b7ff,#00b7ff,#00b7ff,#00b7ff,#00b7ff,#00b7ff,#00b7ff,#00b7ff,#00b7ff,#00b7ff,#00b7ff,#00b7ff,#00b7ff,#00b7ff,#00b7ff,#00b7ff,#00b7ff,#00b7ff,#00b7ff,#00b7ff,#00b7ff,#00b8ff,#00bcff,#00c0ff,#00bcff,#00b7ff,#00b3ff,#00afff,#00adff,#0bf,#00c8ff,#00d6ff,#00e9ff,#00fff6,#00ffe3,#00ffd1,#00ffbf,#00ffad,#00ff9b,#00ff89,#00ff69,#0f4,#00ff1f,#06ff00,#29ff00,#4bff00,#6eff00,#97ff00,#c5ff00,#f3ff00,#ffe800,#ffc700,#ffae00,#ff9000,#ff7800,#ff6100,#ff4a00,#ff3700,#ff2300,#ff1600,#ff0b00,#f00,#ff0500,#ff3200,#ff5800,#ff7900,#f90,#ffb900,#ffd900,#fff700,#d9ff00,#a4ff00,#71ff00,#40ff00,#0fff00,#00ff1e,#00ff4a,#00ff75,#00ffa0,#00ffcb,#00fff6,#0ef,#00d6ff,#00c7ff,#00bfff,#00baff,#00b5ff,#00b0ff,#00a6ff,#009bff,#0090ff,#0084ff,#007bff,#07f,#0074ff,#0084ff,#0098ff,#00a4ff,#00a2ff,#00a0ff,#009fff,#00a5ff,#00abff,#00b1ff,#00b7ff,#00b0ff,#00a8ff,#00a1ff,#09f,#0091ff,#008cff,#08f,#0084ff,#0080ff,#007cff,#0076ff,#006fff,#0069ff,#0062ff,#005dff,#0060ff,#0064ff,#0067ff,#0062ff,#005dff,#0059ff,#0054ff,#004fff,#004bff,#0047ff,#0045ff,#0043ff,#0042ff,#0040ff,#003eff,#003cff,#0037ff,#03f,#002fff,#002aff,#0026ff,#02f,#001eff,#001aff,#001bff,#0024ff,#002dff,#0037ff,#0040ff,#0049ff,#004dff,#0051ff,#05f,#005aff,#0074ff,#00a4ff,#0df,#00ffd7,#00ff83,#00ff3d,#07ff00,#4bff00,#9f0,#eaff00,#ffb900,#ff6d00,#ff6100,#ff7500,#ff8600,#ff8c00,#f80,#ff7d00,#ff7100,#ff5600,#ff3b00,#ff1e00,#ff0a00,#ff3800,#ffa700,#ef0,#9bff00,#57ff00,#21ff00,#00ff1e,#00ff5f,#00ff9a,#00ffd3,#00faff,#00ceff,#00abff,#008dff,#0070ff,#006aff,#005dff,#004fff,#004aff,#0046ff,#0043ff,#0040ff,#003eff,#003bff,#0038ff,#0036ff,#0031ff,#002bff,#0026ff,#0020ff,#001cff,#0018ff,#0021ff,#002cff,#0037ff,#0040ff,#0049ff,#0051ff,#0054ff,#0056ff,#0059ff,#005bff,#005bff,#005bff,#005bff,#005bff)"></i>
<i style="left:180px;width:3.1px;background:linear-gradient(#00b6ff,#00b6ff,#00b6ff,#00b6ff,#00b6ff,#00b6ff,#00b6ff,#00b6ff,#00b6ff,#00b6ff,#00b6ff,#00b6ff,#00b6ff,#00b6ff,#00b6ff,#00b6ff,#00b6ff,#00b6ff,#00b6ff,#00b6ff,#00b6ff,#00b6ff,#00b6ff,#00b9ff,#00bdff,#00bcff,#00b8ff,#00b4ff,#00afff,#00abff,#00b5ff,#00c2ff,#00d0ff,#00deff,#00fdff,#00ffe9,#00ffd6,#00ffc4,#00ffb2,#00ffa0,#00ff8e,#00ff71,#00ff4b,#00ff26,#0f0,#23ff00,#46ff00,#69ff00,#91ff00,#bfff00,#ef0,#ffec00,#ffca00,#ffb500,#f90,#ff7f00,#ff6700,#ff4f00,#ff3b00,#ff2700,#ff1800,#ff0d00,#ff0100,#ff0100,#ff2d00,#ff5400,#ff7600,#ff9700,#ffb700,#ffd700,#fff500,#df0,#a9ff00,#7f0,#46ff00,#15ff00,#00ff18,#0f4,#00ff70,#00ff9b,#00ffc7,#00fff2,#00f0ff,#00d8ff,#00c7ff,#00beff,#00baff,#00b6ff,#00b2ff,#00a9ff,#009eff,#0092ff,#0087ff,#007dff,#0079ff,#0076ff,#0083ff,#0097ff,#00a5ff,#00a3ff,#00a1ff,#00a0ff,#00a6ff,#00acff,#00b2ff,#00b7ff,#00b0ff,#00a8ff,#00a0ff,#0098ff,#0091ff,#008cff,#08f,#0084ff,#0080ff,#007cff,#0076ff,#006fff,#0069ff,#0062ff,#005eff,#0061ff,#0064ff,#0067ff,#0063ff,#005eff,#0059ff,#0054ff,#0050ff,#004bff,#0048ff,#0046ff,#04f,#0042ff,#0040ff,#003eff,#003bff,#0037ff,#0032ff,#002eff,#002aff,#0027ff,#0023ff,#001fff,#001bff,#001dff,#0026ff,#002fff,#0038ff,#0041ff,#0049ff,#004dff,#0051ff,#0056ff,#005aff,#0073ff,#00a2ff,#00d9ff,#00ffde,#00ff8d,#00ff4e,#00ff0d,#3f0,#80ff00,#d2ff00,#ffd300,#ff8700,#ff7600,#ff8600,#ff9200,#ff9600,#ff9000,#ff8300,#ff7600,#ff5b00,#ff4000,#ff2300,#ff0c00,#ff3900,#ffa800,#f0ff00,#a3ff00,#62ff00,#3f0,#00ff0e,#00ff51,#00ff8d,#00ffc7,#00fff9,#00d7ff,#00b2ff,#0093ff,#0075ff,#0070ff,#0062ff,#0052ff,#004cff,#0048ff,#0045ff,#0042ff,#003fff,#003cff,#003aff,#0037ff,#0032ff,#002dff,#0027ff,#02f,#001dff,#0019ff,#0021ff,#002cff,#0036ff,#003fff,#0048ff,#0051ff,#0053ff,#0056ff,#0059ff,#005bff,#005bff,#005bff,#005bff,#005bff)"></i>
<i style="left:182.5px;width:3.1px;background:linear-gradient(#00b6ff,#00b6ff,#00b6ff,#00b6ff,#00b6ff,#00b6ff,#00b6ff,#00b6ff,#00b6ff,#00b6ff,#00b6ff,#00b6ff,#00b6ff,#00b6ff,#00b6ff,#00b6ff,#00b6ff,#00b6ff,#00b6ff,#00b6ff,#00b6ff,#00b6ff,#00b6ff,#00b7ff,#0bf,#00bdff,#00b9ff,#00b5ff,#00b0ff,#00acff,#00aeff,#00bcff,#00caff,#00d8ff,#00f2ff,#00ffef,#00ffdc,#00ffc9,#00ffb6,#00ffa4,#00ff92,#00ff78,#00ff53,#00ff2d,#00ff07,#1dff00,#40ff00,#64ff00,#8aff00,#b9ff00,#e8ff00,#fff000,#ffcd00,#ffba00,#ffa100,#ff8600,#ff6d00,#f50,#ff4000,#ff2c00,#ff1b00,#ff0f00,#ff0300,#ff0100,#ff2800,#ff5000,#ff7200,#ff9500,#ffb500,#ffd500,#fff300,#e1ff00,#aeff00,#7cff00,#4cff00,#1cff00,#00ff12,#00ff3f,#00ff6b,#00ff96,#00ffc2,#00ffed,#00f2ff,#00daff,#00c7ff,#00bdff,#00baff,#00b6ff,#00b3ff,#00abff,#00a0ff,#0095ff,#008aff,#007fff,#007aff,#0078ff,#0081ff,#0095ff,#00a6ff,#00a5ff,#00a3ff,#00a2ff,#00a7ff,#00adff,#00b2ff,#00b7ff,#00b1ff,#00a8ff,#00a0ff,#0098ff,#0091ff,#008cff,#08f,#0084ff,#0080ff,#007cff,#0076ff,#0070ff,#0069ff,#0062ff,#005eff,#0061ff,#0064ff,#0067ff,#0063ff,#005eff,#005aff,#05f,#0050ff,#004bff,#0048ff,#0046ff,#04f,#0041ff,#003fff,#003dff,#003bff,#0037ff,#0032ff,#002eff,#002aff,#0027ff,#0023ff,#001fff,#001bff,#001fff,#0028ff,#0031ff,#0039ff,#0042ff,#004aff,#004eff,#0052ff,#0056ff,#005aff,#0072ff,#00a0ff,#00d4ff,#00ffe5,#00ff96,#00ff5e,#0f2,#1bff00,#68ff00,#b9ff00,#fe0,#ffa100,#ff8b00,#ff9600,#ff9f00,#ffa000,#f90,#ff8a00,#ff7c00,#ff6000,#ff4500,#ff2800,#ff0d00,#ff3900,#ffa900,#f2ff00,#abff00,#6dff00,#46ff00,#03ff00,#00ff43,#00ff81,#00ffbc,#00ffef,#00e0ff,#00b9ff,#09f,#007aff,#0076ff,#0067ff,#05f,#004eff,#004aff,#0046ff,#0043ff,#0041ff,#003eff,#003bff,#0038ff,#0034ff,#002eff,#0029ff,#0023ff,#001eff,#001bff,#0021ff,#002cff,#0036ff,#003fff,#0047ff,#0050ff,#0053ff,#05f,#0058ff,#005aff,#005aff,#005aff,#005aff,#005aff)"></i>
<i style="left:185px;width:3.1px;background:linear-gradient(#00b6ff,#00b6ff,#00b6ff,#00b6ff,#00b6ff,#00b6ff,#00b6ff,#00b6ff,#00b6ff,#00b6ff,#00b6ff,#00b6ff,#00b6ff,#00b6ff,#00b6ff,#00b6ff,#00b6ff,#00b6ff,#00b6ff,#00b6ff,#00b6ff,#00b6ff,#00b6ff,#00b6ff,#00b9ff,#00bcff,#00baff,#00b6ff,#00b1ff,#00adff,#00a8ff,#00b6ff,#00c4ff,#00d3ff,#00e6ff,#00fff6,#00ffe2,#00ffcf,#0fb,#00ffa9,#00ff96,#00ff80,#00ff5a,#00ff34,#00ff0e,#17ff00,#3bff00,#5eff00,#83ff00,#b3ff00,#e2ff00,#fff400,#ffd100,#ffbd00,#ffa800,#ff8d00,#ff7400,#ff5b00,#ff4500,#ff3000,#ff1d00,#f10,#ff0500,#ff0100,#ff2300,#ff4c00,#ff6f00,#ff9200,#ffb300,#ffd300,#fff100,#e5ff00,#b3ff00,#81ff00,#52ff00,#2f0,#00ff0c,#00ff39,#00ff65,#00ff91,#00ffbd,#00ffe9,#00f4ff,#00dbff,#00c7ff,#00bcff,#00b9ff,#00b7ff,#00b4ff,#00aeff,#00a3ff,#0098ff,#008dff,#0082ff,#007cff,#007aff,#0080ff,#0093ff,#00a7ff,#00a6ff,#00a5ff,#00a4ff,#00a8ff,#00adff,#00b2ff,#00b7ff,#00b1ff,#00a8ff,#00a0ff,#0098ff,#0091ff,#008dff,#0089ff,#0085ff,#0081ff,#007dff,#0076ff,#0070ff,#0069ff,#0063ff,#005eff,#0062ff,#0065ff,#0068ff,#0063ff,#005fff,#005aff,#05f,#0050ff,#004cff,#0048ff,#0046ff,#04f,#0041ff,#003fff,#003dff,#003bff,#0036ff,#0032ff,#002eff,#002aff,#0027ff,#0023ff,#0020ff,#001cff,#0021ff,#002aff,#0032ff,#003bff,#0043ff,#004aff,#004eff,#0052ff,#0056ff,#005aff,#0071ff,#009dff,#00d0ff,#00ffeb,#00ffa0,#00ff6e,#00ff36,#03ff00,#50ff00,#a0ff00,#f5ff00,#ffbc00,#ff9f00,#ffa700,#ffac00,#fa0,#ffa100,#ff9100,#ff8100,#f60,#ff4a00,#ff2c00,#ff0f00,#ff3a00,#fa0,#f4ff00,#b3ff00,#78ff00,#58ff00,#13ff00,#00ff35,#00ff74,#00ffb0,#00ffe5,#00e8ff,#00c0ff,#009fff,#007eff,#007cff,#006cff,#0058ff,#0051ff,#004bff,#0048ff,#0045ff,#0042ff,#003fff,#003cff,#0039ff,#0035ff,#0030ff,#002aff,#0024ff,#0020ff,#001cff,#0021ff,#002bff,#0036ff,#003eff,#0047ff,#004fff,#0052ff,#05f,#0057ff,#005aff,#005aff,#005aff,#005aff,#005aff)"></i>
<i style="left:187.5px;width:3.1px;background:linear-gradient(#00b5ff,#00b5ff,#00b5ff,#00b5ff,#00b5ff,#00b5ff,#00b5ff,#00b5ff,#00b5ff,#00b5ff,#00b5ff,#00b5ff,#00b5ff,#00b5ff,#00b5ff,#00b5ff,#00b5ff,#00b5ff,#00b5ff,#00b5ff,#00b5ff,#00b5ff,#00b5ff,#00b5ff,#00b7ff,#00baff,#0bf,#00b7ff,#00b2ff,#00adff,#00a9ff,#00b0ff,#00beff,#00cdff,#00dbff,#00fdff,#00ffe8,#00ffd4,#00ffc1,#00ffae,#00ff9b,#00ff87,#00ff62,#00ff3b,#00ff15,#1f0,#35ff00,#59ff00,#7dff00,#acff00,#dcff00,#fff800,#ffd500,#ffc000,#ffae00,#ff9500,#ff7b00,#ff6200,#ff4a00,#ff3500,#ff2000,#ff1300,#ff0600,#ff0100,#ff1f00,#ff4800,#ff6c00,#ff8f00,#ffb000,#ffd100,#ffef00,#e9ff00,#b8ff00,#87ff00,#58ff00,#28ff00,#00ff06,#0f3,#00ff60,#00ff8c,#00ffb8,#00ffe4,#00f7ff,#0df,#00c7ff,#00bcff,#00b9ff,#00b7ff,#00b5ff,#00b0ff,#00a6ff,#009bff,#0090ff,#0085ff,#007eff,#007bff,#007eff,#0092ff,#00a5ff,#00a7ff,#00a7ff,#00a6ff,#0af,#00aeff,#00b3ff,#00b7ff,#00b1ff,#00a8ff,#00a0ff,#0098ff,#0091ff,#008dff,#0089ff,#0085ff,#0081ff,#007dff,#0076ff,#0070ff,#0069ff,#0063ff,#005fff,#0062ff,#0065ff,#0068ff,#0064ff,#005fff,#005aff,#0056ff,#0051ff,#004cff,#0048ff,#0046ff,#04f,#0041ff,#003fff,#003dff,#003aff,#0036ff,#0031ff,#002eff,#002bff,#0027ff,#0024ff,#0021ff,#001dff,#0024ff,#002cff,#0034ff,#003cff,#04f,#004bff,#004fff,#0052ff,#0056ff,#005aff,#0070ff,#009bff,#0cf,#00fff2,#00ffa9,#00ff7f,#00ff4a,#00ff16,#38ff00,#8f0,#daff00,#ffd600,#ffb400,#ffb700,#ffb800,#ffb400,#ffa900,#ff9800,#ff8600,#ff6b00,#ff4f00,#ff3100,#ff1000,#ff3a00,#ffab00,#f6ff00,#bf0,#83ff00,#6bff00,#24ff00,#00ff27,#00ff68,#00ffa4,#00ffda,#00f1ff,#00c8ff,#00a4ff,#0083ff,#0082ff,#0071ff,#005bff,#0053ff,#004dff,#004aff,#0047ff,#04f,#0041ff,#003eff,#003aff,#0037ff,#0031ff,#002bff,#0026ff,#0021ff,#001eff,#0021ff,#002bff,#0035ff,#003eff,#0046ff,#004eff,#0052ff,#0054ff,#0057ff,#005aff,#005aff,#005aff,#005aff,#005aff)"></i>
<i style="left:190px;width:3.1px;background:linear-gradient(#00b5ff,#00b5ff,#00b5ff,#00b5ff,#00b5ff,#00b5ff,#00b5ff,#00b5ff,#00b5ff,#00b5ff,#00b5ff,#00b5ff,#00b5ff,#00b5ff,#00b5ff,#00b5ff,#00b5ff,#00b5ff,#00b5ff,#00b5ff,#00b5ff,#00b5ff,#00b5ff,#00b5ff,#00b5ff,#00b8ff,#00baff,#00b8ff,#00b3ff,#00aeff,#0af,#00a9ff,#00b8ff,#00c7ff,#00d5ff,#00f1ff,#00ffef,#00ffdb,#00ffc6,#00ffb3,#00ffa0,#00ff8c,#00ff6a,#00ff43,#00ff1c,#0bff00,#2fff00,#54ff00,#78ff00,#a6ff00,#d6ff00,#fffc00,#ffd900,#ffc200,#ffb400,#ff9c00,#ff8200,#ff6900,#ff4f00,#ff3900,#ff2400,#ff1500,#ff0800,#f00,#ff1a00,#ff4300,#ff6800,#ff8d00,#ffae00,#ffcf00,#ffed00,#edff00,#bcff00,#8cff00,#5dff00,#2eff00,#0f0,#00ff2d,#00ff5a,#00ff87,#00ffb3,#00ffe0,#00f9ff,#00dfff,#00c8ff,#00bcff,#00b8ff,#00b7ff,#00b6ff,#00b3ff,#00a8ff,#009dff,#0092ff,#08f,#007fff,#007cff,#007dff,#0090ff,#00a4ff,#00a8ff,#00a8ff,#00a8ff,#00abff,#00afff,#00b3ff,#00b7ff,#00b1ff,#00a9ff,#00a0ff,#0098ff,#0091ff,#008dff,#0089ff,#0085ff,#0081ff,#007dff,#0076ff,#0070ff,#0069ff,#0063ff,#005fff,#0062ff,#0065ff,#0068ff,#0064ff,#005fff,#005bff,#0056ff,#0051ff,#004cff,#0049ff,#0046ff,#04f,#0041ff,#003fff,#003cff,#003aff,#0035ff,#0031ff,#002eff,#002bff,#0027ff,#0024ff,#0021ff,#001eff,#0026ff,#002dff,#0035ff,#003dff,#0045ff,#004bff,#004fff,#0053ff,#0056ff,#005aff,#006fff,#0098ff,#00c8ff,#00fff8,#00ffb2,#00ff8f,#00ff5e,#00ff2e,#1fff00,#6fff00,#c0ff00,#fff000,#ffc900,#ffc800,#ffc500,#ffbe00,#ffb200,#ff9f00,#ff8c00,#ff7000,#ff5400,#ff3600,#ff1200,#ff3b00,#ffac00,#f8ff00,#c3ff00,#8eff00,#7dff00,#34ff00,#00ff19,#00ff5b,#00ff98,#00ffd0,#00faff,#00cfff,#0af,#08f,#08f,#0076ff,#005fff,#05f,#004fff,#004cff,#0048ff,#0045ff,#0042ff,#003fff,#003cff,#0038ff,#0032ff,#002dff,#0027ff,#02f,#001fff,#0021ff,#002bff,#0035ff,#003dff,#0045ff,#004dff,#0052ff,#0054ff,#0057ff,#0059ff,#0059ff,#0059ff,#0059ff,#0059ff)"></i>
<i style="left:192.5px;width:3.1px;background:linear-gradient(#00b5ff,#00b5ff,#00b5ff,#00b5ff,#00b5ff,#00b5ff,#00b5ff,#00b5ff,#00b5ff,#00b5ff,#00b5ff,#00b5ff,#00b5ff,#00b5ff,#00b5ff,#00b5ff,#00b5ff,#00b5ff,#00b5ff,#00b5ff,#00b5ff,#00b5ff,#00b5ff,#00b5ff,#00b5ff,#00b6ff,#00b8ff,#00b9ff,#00b5ff,#00b0ff,#00abff,#00a5ff,#00b1ff,#00c0ff,#00cfff,#00e4ff,#00fff6,#00ffe1,#0fc,#00ffb8,#00ffa4,#00ff91,#00ff72,#00ff4a,#00ff23,#04ff00,#29ff00,#4eff00,#73ff00,#9fff00,#d0ff00,#feff00,#fd0,#ffc300,#ffb900,#ffa400,#ff8a00,#ff7000,#f50,#ff3e00,#ff2900,#ff1800,#ff0a00,#f00,#ff1600,#ff3f00,#ff6400,#ff8900,#ffac00,#ffcd00,#ffeb00,#f1ff00,#c1ff00,#91ff00,#63ff00,#34ff00,#06ff00,#00ff27,#00ff54,#00ff82,#00ffaf,#00ffdb,#00fcff,#00e1ff,#00c8ff,#00bcff,#00b7ff,#00b7ff,#00b6ff,#00b6ff,#00abff,#00a0ff,#0095ff,#008aff,#0081ff,#007dff,#007dff,#008fff,#00a2ff,#00a9ff,#0af,#0af,#00adff,#00b0ff,#00b4ff,#00b7ff,#00b1ff,#00a9ff,#00a0ff,#0098ff,#0091ff,#008dff,#0089ff,#0085ff,#0081ff,#007dff,#07f,#0070ff,#006aff,#0063ff,#0060ff,#0063ff,#06f,#0069ff,#0065ff,#0060ff,#005bff,#0056ff,#0052ff,#004dff,#0049ff,#0046ff,#04f,#0041ff,#003fff,#003cff,#0039ff,#0035ff,#0030ff,#002eff,#002bff,#0028ff,#0025ff,#02f,#0020ff,#0028ff,#002fff,#0037ff,#003eff,#0046ff,#004cff,#004fff,#0053ff,#0056ff,#005aff,#006eff,#0096ff,#00c4ff,#0ff,#00ffbc,#00ffa0,#00ff73,#00ff46,#07ff00,#56ff00,#a5ff00,#f3ff00,#ffde00,#ffd800,#ffd100,#ffc800,#ffba00,#ffa600,#ff9100,#ff7600,#ff5a00,#ff3a00,#ff1300,#ff3c00,#ffad00,#fbff00,#cbff00,#9aff00,#90ff00,#45ff00,#00ff0b,#00ff4f,#00ff8d,#00ffc5,#00fffb,#00d6ff,#00b0ff,#008dff,#008eff,#007bff,#0062ff,#0058ff,#0051ff,#004dff,#004aff,#0047ff,#04f,#0040ff,#003dff,#0039ff,#0034ff,#002eff,#0029ff,#0023ff,#0021ff,#02f,#002bff,#0034ff,#003dff,#0045ff,#004cff,#0051ff,#0054ff,#0056ff,#0058ff,#0059ff,#0059ff,#0059ff,#0059ff)"></i>
<i style="left:195px;width:3.1px;background:linear-gradient(#00b4ff,#00b4ff,#00b4ff,#00b4ff,#00b4ff,#00b4ff,#00b4ff,#00b4ff,#00b4ff,#00b4ff,#00b4ff,#00b4ff,#00b4ff,#00b4ff,#00b4ff,#00b4ff,#00b4ff,#00b4ff,#00b4ff,#00b4ff,#00b4ff,#00b4ff,#00b4ff,#00b4ff,#00b4ff,#00b4ff,#00b7ff,#00b9ff,#00b6ff,#00b1ff,#00acff,#00a6ff,#0af,#00baff,#00c9ff,#00d9ff,#00feff,#00ffe7,#00ffd2,#00ffbd,#00ffa9,#00ff96,#00ff7a,#00ff52,#00ff2a,#00ff02,#23ff00,#48ff00,#6dff00,#98ff00,#c9ff00,#faff00,#ffe100,#ffc400,#ffbd00,#ffab00,#ff9100,#f70,#ff5c00,#ff4300,#ff2d00,#ff1b00,#ff0d00,#ff0100,#ff1200,#ff3a00,#ff6000,#ff8600,#ffa900,#ffcb00,#ffe900,#f4ff00,#c5ff00,#96ff00,#68ff00,#3aff00,#0cff00,#00ff21,#00ff4f,#00ff7c,#00ffa9,#00ffd7,#0ff,#00e3ff,#00c8ff,#0bf,#00b6ff,#00b6ff,#00b7ff,#00b7ff,#00adff,#00a3ff,#0098ff,#008dff,#0083ff,#007eff,#007fff,#008dff,#00a0ff,#0af,#00abff,#00acff,#00aeff,#00b1ff,#00b4ff,#00b7ff,#00b1ff,#00a9ff,#00a0ff,#0097ff,#0091ff,#008dff,#0089ff,#0085ff,#0081ff,#007dff,#07f,#0070ff,#006aff,#0063ff,#0060ff,#0063ff,#06f,#0069ff,#0065ff,#0060ff,#005bff,#0057ff,#0052ff,#004dff,#0049ff,#0047ff,#04f,#0041ff,#003eff,#003cff,#0039ff,#0035ff,#0030ff,#002dff,#002bff,#0028ff,#0025ff,#0023ff,#02f,#0029ff,#0031ff,#0038ff,#003fff,#0047ff,#004cff,#0050ff,#0053ff,#0056ff,#005aff,#006dff,#0093ff,#00c0ff,#00f8ff,#00ffc5,#00ffb0,#00ff87,#00ff5e,#0f1,#3eff00,#8aff00,#d9ff00,#fff300,#ffe900,#ffde00,#ffd200,#ffc300,#ffad00,#ff9600,#ff7b00,#ff5f00,#ff3f00,#ff1500,#ff3c00,#ffae00,#fdff00,#d2ff00,#a5ff00,#a2ff00,#56ff00,#03ff00,#00ff42,#00ff81,#0fb,#00fff3,#0df,#00b6ff,#0091ff,#0094ff,#0080ff,#0065ff,#005bff,#0053ff,#004fff,#004cff,#0048ff,#0045ff,#0042ff,#003eff,#003bff,#0035ff,#0030ff,#002aff,#0025ff,#02f,#02f,#002bff,#0034ff,#003cff,#04f,#004cff,#0051ff,#0053ff,#0056ff,#0058ff,#0058ff,#0058ff,#0058ff,#0058ff)"></i>
<i style="left:197.5px;width:3.1px;background:linear-gradient(#00b4ff,#00b4ff,#00b4ff,#00b4ff,#00b4ff,#00b4ff,#00b4ff,#00b4ff,#00b4ff,#00b4ff,#00b4ff,#00b4ff,#00b4ff,#00b4ff,#00b4ff,#00b4ff,#00b4ff,#00b4ff,#00b4ff,#00b4ff,#00b4ff,#00b4ff,#00b4ff,#00b4ff,#00b4ff,#00b4ff,#00b5ff,#00b7ff,#00b6ff,#00b2ff,#00adff,#00a7ff,#00a3ff,#00b3ff,#00c3ff,#00d3ff,#00f0ff,#0fe,#00ffd9,#00ffc3,#00ffaf,#00ff9a,#00ff82,#00ff5a,#00ff32,#00ff0a,#1dff00,#42ff00,#68ff00,#91ff00,#c3ff00,#f4ff00,#ffe500,#ffc400,#ffbf00,#ffb000,#f90,#ff7f00,#ff6300,#ff4900,#ff3200,#ff1d00,#ff0f00,#ff0100,#ff0e00,#ff3500,#ff5c00,#ff8300,#ffa700,#ffc800,#ffe700,#f8ff00,#c9ff00,#9bff00,#6dff00,#40ff00,#13ff00,#00ff1b,#00ff49,#0f7,#00ffa4,#00ffd2,#00fffd,#00e6ff,#00caff,#0bf,#00b5ff,#00b6ff,#00b7ff,#00b8ff,#00b0ff,#00a5ff,#009bff,#0090ff,#0085ff,#007fff,#0080ff,#008cff,#009fff,#00abff,#00acff,#00aeff,#00b0ff,#00b2ff,#00b5ff,#00b7ff,#00b1ff,#00a9ff,#00a0ff,#0097ff,#0091ff,#008dff,#0089ff,#0085ff,#0081ff,#007dff,#07f,#0070ff,#006aff,#0064ff,#0061ff,#0063ff,#06f,#0069ff,#0065ff,#0061ff,#005cff,#0057ff,#0052ff,#004dff,#004aff,#0047ff,#04f,#0041ff,#003eff,#003bff,#0038ff,#0034ff,#0030ff,#002dff,#002bff,#0028ff,#0026ff,#0024ff,#0024ff,#002bff,#0032ff,#003aff,#0041ff,#0048ff,#004dff,#0050ff,#0053ff,#0057ff,#005aff,#006cff,#0091ff,#0bf,#00f2ff,#00ffcf,#00ffc1,#00ff9b,#00ff76,#00ff29,#25ff00,#70ff00,#beff00,#f6ff00,#fff900,#ffeb00,#ffdc00,#ffcb00,#ffb400,#ff9c00,#ff8000,#ff6400,#ff4300,#ff1600,#ff3d00,#ffaf00,#ff0,#daff00,#b0ff00,#b5ff00,#6f0,#1f0,#00ff36,#00ff75,#00ffb1,#00ffea,#00e4ff,#00bcff,#0096ff,#009aff,#0086ff,#0068ff,#005dff,#05f,#0051ff,#004dff,#004aff,#0047ff,#0043ff,#0040ff,#003cff,#0037ff,#0031ff,#002bff,#0026ff,#0023ff,#02f,#002bff,#0034ff,#003cff,#0043ff,#004bff,#0050ff,#0053ff,#05f,#0057ff,#0058ff,#0058ff,#0058ff,#0058ff)"></i>
<i style="left:200px;width:3.1px;background:linear-gradient(#00b4ff,#00b4ff,#00b4ff,#00b4ff,#00b4ff,#00b4ff,#00b4ff,#00b4ff,#00b4ff,#00b4ff,#00b4ff,#00b4ff,#00b4ff,#00b4ff,#00b4ff,#00b4ff,#00b4ff,#00b4ff,#00b4ff,#00b4ff,#00b4ff,#00b4ff,#00b4ff,#00b4ff,#00b4ff,#00b4ff,#00b4ff,#00b5ff,#00b7ff,#00b3ff,#00aeff,#00a9ff,#00a3ff,#00acff,#00bcff,#0cf,#00e2ff,#00fff5,#00ffdf,#00ffc9,#00ffb4,#00ff9f,#00ff89,#00ff62,#00ff3a,#0f1,#16ff00,#3cff00,#62ff00,#8aff00,#bcff00,#ef0,#ffe900,#ffc500,#ffc000,#ffb500,#ff9f00,#ff8700,#ff6b00,#ff4f00,#ff3700,#ff2000,#f10,#ff0300,#ff0a00,#ff3100,#ff5800,#ff8000,#ffa400,#ffc600,#ffe600,#fbff00,#cdff00,#9fff00,#72ff00,#45ff00,#19ff00,#00ff15,#00ff43,#00ff71,#00ff9f,#00ffcd,#00fffa,#00e8ff,#00cbff,#00bcff,#00b3ff,#00b5ff,#00b7ff,#00b9ff,#00b3ff,#00a8ff,#009dff,#0093ff,#08f,#0081ff,#0081ff,#008bff,#009dff,#00abff,#00adff,#00b0ff,#00b2ff,#00b4ff,#00b6ff,#00b8ff,#00b2ff,#00a9ff,#00a0ff,#0097ff,#0091ff,#008dff,#0089ff,#0085ff,#0082ff,#007dff,#07f,#0070ff,#006aff,#0064ff,#0061ff,#0064ff,#0067ff,#006aff,#06f,#0061ff,#005cff,#0057ff,#0053ff,#004eff,#004aff,#0047ff,#04f,#0041ff,#003eff,#003bff,#0038ff,#0034ff,#002fff,#002dff,#002bff,#0029ff,#0027ff,#0025ff,#0026ff,#002dff,#0034ff,#003bff,#0042ff,#0048ff,#004dff,#0050ff,#0054ff,#0057ff,#005aff,#006bff,#008fff,#00b7ff,#00ebff,#00ffd8,#00ffcf,#00ffac,#00ff8b,#00ff3f,#0eff00,#57ff00,#a5ff00,#dfff00,#f1ff00,#fffc00,#ffea00,#ffd800,#ffbe00,#ffa500,#ff8a00,#ff6d00,#ff4a00,#ff1a00,#ff3e00,#ffaf00,#fffc00,#e4ff00,#beff00,#c8ff00,#79ff00,#23ff00,#00ff25,#0f6,#00ffa3,#0fd,#00efff,#00c5ff,#009dff,#00a0ff,#008aff,#006cff,#0060ff,#0058ff,#0053ff,#004fff,#004cff,#0048ff,#0045ff,#0041ff,#003dff,#0038ff,#0032ff,#002dff,#0027ff,#0024ff,#0023ff,#002bff,#0034ff,#003cff,#0043ff,#004aff,#0050ff,#0052ff,#05f,#0057ff,#0058ff,#0058ff,#0058ff,#0058ff)"></i>
<i style="left:202.5px;width:3.1px;background:linear-gradient(#00b3ff,#00b3ff,#00b3ff,#00b3ff,#00b3ff,#00b3ff,#00b3ff,#00b3ff,#00b3ff,#00b3ff,#00b3ff,#00b3ff,#00b3ff,#00b3ff,#00b3ff,#00b3ff,#00b3ff,#00b3ff,#00b3ff,#00b3ff,#00b3ff,#00b3ff,#00b3ff,#00b3ff,#00b3ff,#00b3ff,#00b3ff,#00b4ff,#00b6ff,#00b4ff,#00b0ff,#0af,#00a4ff,#00a5ff,#00b5ff,#00c6ff,#00d6ff,#00feff,#00ffe6,#00ffd0,#00ffba,#00ffa5,#00ff8e,#00ff6a,#00ff41,#00ff18,#10ff00,#36ff00,#5dff00,#83ff00,#b6ff00,#e8ff00,#ffed00,#ffc900,#ffc100,#ffb900,#ffa600,#ff8e00,#ff7200,#ff5600,#ff3c00,#ff2500,#ff1400,#ff0500,#ff0600,#ff2c00,#ff5400,#ff7c00,#ffa200,#ffc400,#ffe400,#feff00,#d1ff00,#a4ff00,#7f0,#4bff00,#1fff00,#00ff0e,#00ff3d,#00ff6b,#00ff9a,#00ffc8,#00fff6,#00eaff,#00cdff,#00bcff,#00b2ff,#00b4ff,#00b7ff,#00b9ff,#00b5ff,#00abff,#00a0ff,#0095ff,#008bff,#0083ff,#0082ff,#008aff,#009cff,#00acff,#00aeff,#00b1ff,#00b4ff,#00b5ff,#00b6ff,#00b8ff,#00b2ff,#00a9ff,#00a0ff,#0097ff,#0091ff,#008dff,#0089ff,#0086ff,#0082ff,#007dff,#07f,#0071ff,#006aff,#0064ff,#0061ff,#0064ff,#0067ff,#006aff,#06f,#0061ff,#005dff,#0058ff,#0053ff,#004eff,#004aff,#0047ff,#04f,#0041ff,#003eff,#003bff,#0038ff,#03f,#002fff,#002dff,#002bff,#0029ff,#0027ff,#0026ff,#0028ff,#002fff,#0036ff,#003cff,#0043ff,#0049ff,#004eff,#0051ff,#0054ff,#0057ff,#005aff,#006bff,#008cff,#00b3ff,#00e5ff,#00ffe1,#00ffd7,#00ffb5,#00ff98,#00ff50,#00ff06,#41ff00,#8eff00,#c3ff00,#d4ff00,#e7ff00,#fbff00,#ffed00,#ffd300,#ffb800,#ff9c00,#ff7f00,#ff5600,#ff2100,#ff4100,#ffad00,#fff700,#f0ff00,#d5ff00,#deff00,#92ff00,#3eff00,#00ff0b,#00ff4d,#00ff8c,#00ffc7,#00fffb,#00d5ff,#00a9ff,#00a6ff,#008cff,#006fff,#0063ff,#005aff,#0054ff,#0051ff,#004dff,#004aff,#0046ff,#0042ff,#003fff,#0039ff,#0034ff,#002eff,#0029ff,#0025ff,#0024ff,#002bff,#0034ff,#003bff,#0042ff,#0049ff,#004fff,#0052ff,#0054ff,#0056ff,#0057ff,#0057ff,#0057ff,#0057ff)"></i>
<i style="left:205px;width:3.1px;background:linear-gradient(#00b3ff,#00b3ff,#00b3ff,#00b3ff,#00b3ff,#00b3ff,#00b3ff,#00b3ff,#00b3ff,#00b3ff,#00b3ff,#00b3ff,#00b3ff,#00b3ff,#00b3ff,#00b3ff,#00b3ff,#00b3ff,#00b3ff,#00b3ff,#00b3ff,#00b3ff,#00b3ff,#00b3ff,#00b3ff,#00b3ff,#00b3ff,#00b3ff,#00b4ff,#00b5ff,#00b1ff,#00abff,#00a6ff,#00a0ff,#00aeff,#00bfff,#00d0ff,#00f0ff,#00ffed,#00ffd6,#00ffbf,#0fa,#00ff94,#00ff73,#00ff49,#00ff20,#09ff00,#30ff00,#57ff00,#7eff00,#afff00,#e2ff00,#fff100,#ffcd00,#ffc100,#ffbd00,#ffad00,#ff9500,#ff7b00,#ff5d00,#ff4200,#ff2a00,#ff1700,#ff0700,#ff0500,#ff2800,#ff4f00,#ff7800,#ff9f00,#ffc100,#ffe200,#fffe00,#d5ff00,#a8ff00,#7cff00,#50ff00,#24ff00,#00ff08,#00ff37,#0f6,#00ff95,#00ffc3,#00fff2,#00edff,#00cfff,#00bcff,#00b0ff,#00b3ff,#00b6ff,#00baff,#00b8ff,#00adff,#00a3ff,#0098ff,#008eff,#0085ff,#0083ff,#08f,#009aff,#00acff,#00afff,#00b3ff,#00b6ff,#00b6ff,#00b7ff,#00b8ff,#00b2ff,#00a9ff,#00a0ff,#0097ff,#0091ff,#008dff,#008aff,#0086ff,#0082ff,#007dff,#07f,#0071ff,#006aff,#0064ff,#0062ff,#0065ff,#0067ff,#006aff,#0067ff,#0062ff,#005dff,#0058ff,#0053ff,#004fff,#004bff,#0047ff,#04f,#0041ff,#003eff,#003aff,#0037ff,#03f,#002eff,#002dff,#002bff,#002aff,#0028ff,#0027ff,#002aff,#0031ff,#0037ff,#003dff,#04f,#004aff,#004eff,#0051ff,#0054ff,#0057ff,#005aff,#006aff,#008aff,#00afff,#00deff,#00ffeb,#00ffe0,#00ffbe,#00ffa5,#00ff60,#00ff1a,#2cff00,#76ff00,#a7ff00,#b7ff00,#cf0,#e3ff00,#fcff00,#ffe700,#ffcb00,#ffae00,#ff9100,#ff6200,#ff2900,#f40,#ffac00,#fff200,#fcff00,#ebff00,#f3ff00,#af0,#5aff00,#10ff00,#00ff34,#00ff75,#00ffb1,#00ffe7,#00e6ff,#00b6ff,#00abff,#008eff,#0073ff,#06f,#005cff,#0056ff,#0053ff,#004fff,#004bff,#0048ff,#04f,#0040ff,#003bff,#0035ff,#0030ff,#002aff,#0026ff,#0025ff,#002cff,#03f,#003bff,#0042ff,#0049ff,#004fff,#0051ff,#0054ff,#0056ff,#0057ff,#0057ff,#0057ff,#0057ff)"></i>
<i style="left:207.5px;width:3.1px;background:linear-gradient(#00b2ff,#00b2ff,#00b2ff,#00b2ff,#00b2ff,#00b2ff,#00b2ff,#00b2ff,#00b2ff,#00b2ff,#00b2ff,#00b2ff,#00b2ff,#00b2ff,#00b2ff,#00b2ff,#00b2ff,#00b2ff,#00b2ff,#00b2ff,#00b2ff,#00b2ff,#00b2ff,#00b2ff,#00b2ff,#00b2ff,#00b2ff,#00b2ff,#00b3ff,#00b4ff,#00b2ff,#00adff,#00a7ff,#00a1ff,#00a7ff,#00b8ff,#00c9ff,#00e0ff,#00fff5,#0fd,#00ffc6,#00ffb0,#0f9,#00ff7b,#00ff52,#00ff28,#02ff00,#29ff00,#51ff00,#78ff00,#a8ff00,#dbff00,#fff600,#ffd100,#ffc100,#ffc100,#ffb100,#ff9c00,#ff8300,#ff6500,#ff4800,#ff2f00,#ff1a00,#ff0900,#ff0400,#ff2400,#ff4a00,#ff7400,#ff9d00,#ffbf00,#ffe000,#fffc00,#d8ff00,#adff00,#81ff00,#56ff00,#2aff00,#00ff02,#00ff31,#00ff60,#00ff8f,#00ffbe,#0fe,#00efff,#00d1ff,#00bcff,#00aeff,#00b2ff,#00b6ff,#00baff,#00baff,#00b0ff,#00a5ff,#009bff,#0090ff,#0087ff,#0084ff,#0087ff,#09f,#00abff,#00b0ff,#00b4ff,#00b8ff,#00b8ff,#00b8ff,#00b8ff,#00b2ff,#00a9ff,#009fff,#0097ff,#0091ff,#008eff,#008aff,#0086ff,#0082ff,#007dff,#07f,#0071ff,#006bff,#0064ff,#0062ff,#0065ff,#0068ff,#006bff,#0067ff,#0062ff,#005dff,#0059ff,#0054ff,#004fff,#004bff,#0047ff,#04f,#0041ff,#003dff,#003aff,#0037ff,#03f,#002eff,#002dff,#002cff,#002aff,#0029ff,#0028ff,#002cff,#0032ff,#0038ff,#003fff,#0045ff,#004bff,#004fff,#0051ff,#0054ff,#0057ff,#005aff,#0069ff,#0087ff,#00abff,#00d8ff,#00fff4,#00ffe8,#00ffc8,#00ffb2,#00ff70,#00ff2e,#17ff00,#5fff00,#8bff00,#9aff00,#b1ff00,#cbff00,#e6ff00,#fffb00,#fd0,#ffc000,#ffa400,#ff6e00,#ff3000,#ff4700,#fa0,#ffec00,#fff600,#fffd00,#fff500,#c3ff00,#75ff00,#2aff00,#00ff1c,#00ff5e,#00ff9b,#00ffd2,#00f6ff,#00c2ff,#00b1ff,#0090ff,#0076ff,#0069ff,#005fff,#0058ff,#0054ff,#0051ff,#004dff,#0049ff,#0045ff,#0041ff,#003cff,#0037ff,#0031ff,#002bff,#0027ff,#0027ff,#002cff,#03f,#003bff,#0042ff,#0048ff,#004eff,#0051ff,#0053ff,#05f,#0057ff,#0057ff,#0057ff,#0057ff)"></i>
<i style="left:210px;width:3.1px;background:linear-gradient(#00b2ff,#00b2ff,#00b2ff,#00b2ff,#00b2ff,#00b2ff,#00b2ff,#00b2ff,#00b2ff,#00b2ff,#00b2ff,#00b2ff,#00b2ff,#00b2ff,#00b2ff,#00b2ff,#00b2ff,#00b2ff,#00b2ff,#00b2ff,#00b2ff,#00b2ff,#00b2ff,#00b2ff,#00b2ff,#00b2ff,#00b2ff,#00b2ff,#00b2ff,#00b3ff,#00b3ff,#00afff,#00a9ff,#00a2ff,#009fff,#00b1ff,#00c2ff,#00d4ff,#0ff,#00ffe5,#0fc,#00ffb5,#00ff9f,#00ff84,#00ff5a,#00ff30,#00ff05,#23ff00,#4bff00,#72ff00,#a1ff00,#d4ff00,#fffa00,#ffd600,#ffc100,#ffc200,#ffb600,#ffa200,#ff8b00,#ff6d00,#ff4e00,#ff3400,#ff1d00,#ff0c00,#ff0200,#ff2000,#ff4600,#ff7000,#ff9a00,#ffbd00,#ffdf00,#fffa00,#dcff00,#b1ff00,#86ff00,#5bff00,#30ff00,#05ff00,#00ff2b,#00ff5a,#00ff8a,#00ffb9,#00ffe9,#00f2ff,#00d3ff,#00bdff,#00adff,#00b1ff,#00b5ff,#00baff,#00bdff,#00b2ff,#00a8ff,#009eff,#0093ff,#008aff,#0084ff,#08f,#0098ff,#00a9ff,#00b1ff,#00b5ff,#00baff,#00b9ff,#00b9ff,#00b8ff,#00b2ff,#00a9ff,#009fff,#0097ff,#0092ff,#008eff,#008aff,#0086ff,#0082ff,#007dff,#07f,#0071ff,#006bff,#0065ff,#0063ff,#0065ff,#0068ff,#006bff,#0067ff,#0063ff,#005eff,#0059ff,#0054ff,#004fff,#004bff,#0048ff,#04f,#0041ff,#003dff,#003aff,#0036ff,#0032ff,#002eff,#002dff,#002cff,#002bff,#002aff,#0029ff,#002eff,#0034ff,#003aff,#0040ff,#0046ff,#004bff,#004fff,#0052ff,#0054ff,#0057ff,#005aff,#0068ff,#0085ff,#00a6ff,#00d1ff,#00fffe,#00fff1,#00ffd1,#00ffbf,#00ff80,#00ff42,#01ff00,#48ff00,#6fff00,#7dff00,#96ff00,#b3ff00,#d1ff00,#efff00,#fff000,#ffd200,#ffb600,#ff7a00,#ff3700,#ff4a00,#ffa800,#ffe700,#ffe900,#ffe700,#ffe000,#dbff00,#91ff00,#4f0,#00ff03,#00ff47,#00ff85,#00ffbe,#00fff7,#00ceff,#00b6ff,#0092ff,#007aff,#006cff,#0061ff,#005aff,#0056ff,#0052ff,#004fff,#004bff,#0047ff,#0042ff,#003eff,#0038ff,#0032ff,#002dff,#0028ff,#0028ff,#002cff,#0034ff,#003bff,#0041ff,#0048ff,#004eff,#0050ff,#0053ff,#05f,#0056ff,#0056ff,#0056ff,#0056ff)"></i>
<i style="left:212.5px;width:3.1px;background:linear-gradient(#00b2ff,#00b2ff,#00b2ff,#00b2ff,#00b2ff,#00b2ff,#00b2ff,#00b2ff,#00b2ff,#00b2ff,#00b2ff,#00b2ff,#00b2ff,#00b2ff,#00b2ff,#00b2ff,#00b2ff,#00b2ff,#00b2ff,#00b2ff,#00b2ff,#00b2ff,#00b2ff,#00b2ff,#00b2ff,#00b2ff,#00b2ff,#00b2ff,#00b2ff,#00b2ff,#00b2ff,#00b0ff,#0af,#00a4ff,#009eff,#00a9ff,#0bf,#00cdff,#00efff,#00ffec,#00ffd4,#0fb,#00ffa4,#00ff8b,#00ff63,#00ff38,#00ff0d,#1cff00,#4f0,#6dff00,#9f0,#ceff00,#fffe00,#ffda00,#ffc100,#ffc200,#ffba00,#ffa900,#ff9200,#ff7600,#ff5600,#ff3a00,#ff2100,#ff0f00,#ff0100,#ff1c00,#ff4100,#ff6c00,#ff9700,#ffba00,#fd0,#fff800,#dfff00,#b5ff00,#8aff00,#60ff00,#35ff00,#0aff00,#00ff24,#00ff54,#00ff84,#00ffb4,#00ffe4,#00f5ff,#00d5ff,#00bdff,#00acff,#00b0ff,#00b5ff,#00baff,#00bfff,#00b5ff,#00abff,#00a0ff,#0096ff,#008cff,#0084ff,#0089ff,#0097ff,#00a8ff,#00b1ff,#00b6ff,#0bf,#0bf,#00baff,#00b9ff,#00b2ff,#00a9ff,#009fff,#0097ff,#0092ff,#008eff,#008aff,#0086ff,#0082ff,#007eff,#07f,#0071ff,#006bff,#0065ff,#0063ff,#06f,#0069ff,#006bff,#0068ff,#0063ff,#005eff,#0059ff,#0054ff,#0050ff,#004bff,#0048ff,#04f,#0041ff,#003dff,#003aff,#0036ff,#0032ff,#002dff,#002dff,#002cff,#002bff,#002bff,#002aff,#0030ff,#0036ff,#003bff,#0041ff,#0046ff,#004cff,#004fff,#0052ff,#05f,#0057ff,#005aff,#0067ff,#0082ff,#00a2ff,#00caff,#00f7ff,#00fff9,#00ffda,#0fc,#00ff91,#00ff56,#00ff14,#30ff00,#53ff00,#60ff00,#7aff00,#9bff00,#bf0,#dbff00,#fbff00,#ffe400,#ffc800,#ff8600,#ff3f00,#ff4d00,#ffa700,#ffe200,#fd0,#ffd000,#ffcb00,#f4ff00,#acff00,#5fff00,#16ff00,#00ff2f,#00ff6f,#0fa,#00ffe7,#00dbff,#00bcff,#0094ff,#007dff,#006eff,#0064ff,#005cff,#0058ff,#0054ff,#0050ff,#004cff,#0048ff,#04f,#003fff,#0039ff,#0034ff,#002eff,#0029ff,#0029ff,#002dff,#0034ff,#003bff,#0041ff,#0047ff,#004dff,#0050ff,#0052ff,#0054ff,#0056ff,#0056ff,#0056ff,#0056ff)"></i>
<i style="left:215px;width:3.1px;background:linear-gradient(#00b1ff,#00b1ff,#00b1ff,#00b1ff,#00b1ff,#00b1ff,#00b1ff,#00b1ff,#00b1ff,#00b1ff,#00b1ff,#00b1ff,#00b1ff,#00b1ff,#00b1ff,#00b1ff,#00b1ff,#00b1ff,#00b1ff,#00b1ff,#00b1ff,#00b1ff,#00b1ff,#00b1ff,#00b1ff,#00b1ff,#00b1ff,#00b1ff,#00b1ff,#00b1ff,#00b2ff,#00b0ff,#00acff,#00a6ff,#009fff,#00a1ff,#00b3ff,#00c6ff,#00dfff,#00fff4,#00ffdb,#00ffc2,#0fa,#00ff92,#00ff6b,#00ff40,#00ff15,#15ff00,#3eff00,#6f0,#92ff00,#c7ff00,#fbff00,#ffde00,#ffc000,#ffc200,#ffbe00,#ffaf00,#ff9800,#ff7f00,#ff5f00,#ff4000,#ff2600,#ff1200,#ff0100,#ff1800,#ff3c00,#ff6800,#ff9400,#ffb800,#ffdb00,#fff600,#e3ff00,#b9ff00,#8fff00,#65ff00,#3aff00,#10ff00,#00ff1e,#00ff4e,#00ff7e,#00ffaf,#00ffe0,#00f8ff,#00d7ff,#00beff,#00adff,#00aeff,#00b4ff,#00b9ff,#00bfff,#00b7ff,#00adff,#00a3ff,#09f,#008eff,#0086ff,#008aff,#0096ff,#00a7ff,#00b2ff,#00b7ff,#00bdff,#00bdff,#0bf,#00b9ff,#00b3ff,#00a9ff,#009fff,#0097ff,#0092ff,#008eff,#008aff,#0086ff,#0083ff,#007eff,#07f,#0071ff,#006bff,#0065ff,#0063ff,#06f,#0069ff,#006cff,#0068ff,#0063ff,#005fff,#005aff,#05f,#0050ff,#004cff,#0048ff,#04f,#0041ff,#003dff,#0039ff,#0036ff,#0031ff,#002dff,#002dff,#002cff,#002cff,#002cff,#002cff,#0032ff,#0037ff,#003dff,#0042ff,#0047ff,#004dff,#0050ff,#0052ff,#05f,#0057ff,#005aff,#06f,#0080ff,#009eff,#00c4ff,#0ef,#00fcff,#00ffe3,#00ffd8,#00ffa1,#00ff69,#00ff2a,#19ff00,#37ff00,#43ff00,#5fff00,#83ff00,#a6ff00,#c7ff00,#e8ff00,#fff700,#ffda00,#ff9200,#ff4600,#ff5000,#ffa500,#fd0,#ffd100,#ffba00,#ffb500,#fff200,#c8ff00,#79ff00,#2eff00,#00ff18,#00ff59,#00ff96,#00ffd6,#00e7ff,#00c1ff,#0096ff,#0080ff,#0071ff,#0067ff,#005eff,#005aff,#0056ff,#0052ff,#004eff,#004aff,#0045ff,#0040ff,#003bff,#0035ff,#0030ff,#002aff,#002aff,#002dff,#0034ff,#003bff,#0041ff,#0047ff,#004cff,#004fff,#0052ff,#0054ff,#0056ff,#0056ff,#0056ff,#0056ff)"></i>
<i style="left:217.5px;width:3.1px;background:linear-gradient(#00b1ff,#00b1ff,#00b1ff,#00b1ff,#00b1ff,#00b1ff,#00b1ff,#00b1ff,#00b1ff,#00b1ff,#00b1ff,#00b1ff,#00b1ff,#00b1ff,#00b1ff,#00b1ff,#00b1ff,#00b1ff,#00b1ff,#00b1ff,#00b1ff,#00b1ff,#00b1ff,#00b1ff,#00b1ff,#00b1ff,#00b1ff,#00b1ff,#00b1ff,#00b1ff,#00b1ff,#00b1ff,#00adff,#00a7ff,#00a1ff,#009aff,#00acff,#00beff,#00d1ff,#00fffd,#00ffe3,#00ffc9,#00ffb0,#00ff98,#00ff74,#00ff48,#00ff1d,#0eff00,#37ff00,#60ff00,#8aff00,#c0ff00,#f5ff00,#ffe200,#ffbf00,#ffc200,#ffc100,#ffb300,#ff9f00,#ff8900,#ff6700,#ff4700,#ff2b00,#ff1500,#ff0200,#ff1500,#ff3700,#ff6300,#ff9100,#ffb500,#ffd900,#fff400,#e6ff00,#bdff00,#93ff00,#6aff00,#40ff00,#16ff00,#00ff17,#00ff48,#00ff79,#0fa,#00ffdb,#00fbff,#00daff,#00bfff,#00adff,#00adff,#00b3ff,#00b9ff,#00bfff,#00baff,#00b0ff,#00a6ff,#009bff,#0091ff,#0089ff,#008aff,#0095ff,#00a5ff,#00b2ff,#00b8ff,#00beff,#00beff,#00bcff,#00b9ff,#00b3ff,#00a9ff,#009fff,#0096ff,#0092ff,#008eff,#008aff,#0087ff,#0083ff,#007eff,#0078ff,#0071ff,#006bff,#0065ff,#0064ff,#0067ff,#0069ff,#006cff,#0069ff,#0064ff,#005fff,#005aff,#05f,#0050ff,#004cff,#0048ff,#04f,#0041ff,#003dff,#0039ff,#0035ff,#0031ff,#002dff,#002dff,#002dff,#002dff,#002dff,#002eff,#03f,#0039ff,#003eff,#0043ff,#0048ff,#004dff,#0050ff,#0053ff,#05f,#0058ff,#005aff,#0065ff,#007eff,#009aff,#00bdff,#00e4ff,#00f4ff,#00ffec,#00ffe5,#00ffb1,#00ff7d,#00ff3f,#02ff00,#1bff00,#26ff00,#4f0,#6bff00,#91ff00,#b3ff00,#d6ff00,#f5ff00,#ffed00,#ff9e00,#ff4e00,#ff5200,#ffa300,#ffd700,#ffc400,#ffa400,#ffa000,#ffd900,#e4ff00,#93ff00,#47ff00,#00ff01,#00ff43,#00ff82,#00ffc6,#00f3ff,#00c7ff,#0098ff,#0083ff,#0075ff,#0069ff,#0060ff,#005cff,#0058ff,#0054ff,#0050ff,#004bff,#0047ff,#0042ff,#003cff,#0037ff,#0031ff,#002bff,#002bff,#002eff,#0034ff,#003aff,#0040ff,#0046ff,#004bff,#004fff,#0051ff,#0054ff,#05f,#05f,#05f,#05f)"></i>
<i style="left:220px;width:3.1px;background:linear-gradient(#00b1ff,#00b1ff,#00b1ff,#00b1ff,#00b1ff,#00b1ff,#00b1ff,#00b1ff,#00b1ff,#00b1ff,#00b1ff,#00b1ff,#00b1ff,#00b1ff,#00b1ff,#00b1ff,#00b1ff,#00b1ff,#00b1ff,#00b1ff,#00b1ff,#00b1ff,#00b1ff,#00b1ff,#00b1ff,#00b1ff,#00b1ff,#00b1ff,#00b1ff,#00b1ff,#00b1ff,#00b0ff,#00aeff,#00a9ff,#00a2ff,#009cff,#00a3ff,#00b7ff,#00caff,#00efff,#00ffeb,#00ffd0,#00ffb7,#00ff9e,#00ff7d,#00ff51,#00ff25,#07ff00,#30ff00,#5aff00,#84ff00,#b8ff00,#ef0,#ffe600,#ffc200,#ffc100,#ffc500,#ffb700,#ffa500,#ff8f00,#ff7100,#ff4e00,#ff3100,#ff1900,#ff0400,#f10,#f30,#ff5f00,#ff8d00,#ffb300,#ffd600,#fff300,#e9ff00,#c0ff00,#98ff00,#6eff00,#45ff00,#1bff00,#0f1,#00ff42,#00ff73,#00ffa4,#00ffd6,#00feff,#00dcff,#00bfff,#00adff,#00abff,#00b2ff,#00b8ff,#00bfff,#00bcff,#00b2ff,#00a8ff,#009eff,#0094ff,#008bff,#008aff,#0094ff,#00a4ff,#00b2ff,#00b9ff,#00c0ff,#00c0ff,#00bdff,#00baff,#00b3ff,#00a9ff,#009fff,#0096ff,#0092ff,#008eff,#008aff,#0087ff,#0083ff,#007eff,#0078ff,#0072ff,#006bff,#0065ff,#0064ff,#0067ff,#006aff,#006cff,#0069ff,#0064ff,#005fff,#005aff,#0056ff,#0051ff,#004cff,#0048ff,#0045ff,#0041ff,#003dff,#0039ff,#0035ff,#0031ff,#002cff,#002dff,#002dff,#002dff,#002eff,#0030ff,#0035ff,#003aff,#003fff,#04f,#0049ff,#004eff,#0051ff,#0053ff,#05f,#0058ff,#005aff,#0064ff,#007bff,#0096ff,#00b7ff,#00dbff,#00ebff,#00fff5,#00fff0,#00ffbf,#00ff8d,#00ff50,#0f1,#06ff00,#12ff00,#31ff00,#5aff00,#82ff00,#a6ff00,#c9ff00,#eaff00,#fff800,#ffa600,#ff5400,#f50,#ffa100,#ffd100,#ffb800,#ff9000,#ff8c00,#ffc300,#fbff00,#af0,#5cff00,#13ff00,#00ff30,#00ff70,#00ffb7,#00fffe,#00cdff,#009cff,#0087ff,#0078ff,#006cff,#0062ff,#005dff,#0059ff,#05f,#0051ff,#004dff,#0048ff,#0043ff,#003eff,#0038ff,#0032ff,#002dff,#002cff,#002eff,#0034ff,#003aff,#0040ff,#0046ff,#004bff,#004eff,#0051ff,#0053ff,#05f,#05f,#05f,#05f)"></i>
<i style="left:222.5px;width:3.1px;background:linear-gradient(#00b0ff,#00b0ff,#00b0ff,#00b0ff,#00b0ff,#00b0ff,#00b0ff,#00b0ff,#00b0ff,#00b0ff,#00b0ff,#00b0ff,#00b0ff,#00b0ff,#00b0ff,#00b0ff,#00b0ff,#00b0ff,#00b0ff,#00b0ff,#00b0ff,#00b0ff,#00b0ff,#00b0ff,#00b0ff,#00b0ff,#00b0ff,#00b0ff,#00b0ff,#00b0ff,#00b0ff,#00b0ff,#00afff,#00abff,#00a4ff,#009dff,#009bff,#00afff,#00c2ff,#0df,#00fff3,#00ffd8,#00ffbe,#00ffa4,#00ff86,#00ff5a,#00ff2d,#00ff01,#29ff00,#54ff00,#7eff00,#b1ff00,#e8ff00,#ffeb00,#ffc600,#ffc100,#ffc500,#fb0,#ffab00,#ff9500,#ff7b00,#ff5700,#ff3700,#ff1c00,#ff0700,#ff0e00,#ff2f00,#ff5a00,#ff8900,#ffb000,#ffd400,#fff100,#ecff00,#c4ff00,#9cff00,#73ff00,#4aff00,#21ff00,#00ff0a,#00ff3b,#00ff6d,#00ff9f,#00ffd1,#00fffd,#00dfff,#00c0ff,#00adff,#00a9ff,#00b1ff,#00b8ff,#00bfff,#00bfff,#00b5ff,#00abff,#00a1ff,#0096ff,#008dff,#008aff,#0093ff,#00a3ff,#00b2ff,#00b9ff,#00c1ff,#00c2ff,#00beff,#00baff,#00b3ff,#00a9ff,#009fff,#0096ff,#0092ff,#008eff,#008bff,#0087ff,#0083ff,#007eff,#0078ff,#0072ff,#006cff,#06f,#0065ff,#0067ff,#006aff,#006dff,#006aff,#0065ff,#0060ff,#005bff,#0056ff,#0051ff,#004dff,#0049ff,#0045ff,#0041ff,#003dff,#0039ff,#0035ff,#0030ff,#002cff,#002dff,#002dff,#002eff,#002fff,#0032ff,#0037ff,#003bff,#0040ff,#0045ff,#004aff,#004fff,#0051ff,#0053ff,#05f,#0058ff,#005aff,#0063ff,#0079ff,#0092ff,#00b0ff,#00d1ff,#00e3ff,#00fffe,#00fff6,#00ffc6,#00ff94,#00ff58,#00ff19,#03ff00,#12ff00,#32ff00,#5aff00,#82ff00,#a7ff00,#cf0,#ef0,#fff100,#ffa400,#ff5800,#ff5700,#ff9c00,#ffc600,#ffac00,#ff8300,#ff7e00,#ffb100,#fff400,#b8ff00,#6aff00,#20ff00,#00ff24,#00ff65,#00ffab,#00fff2,#00d8ff,#00a4ff,#008cff,#007bff,#006fff,#0063ff,#005fff,#005bff,#0057ff,#0053ff,#004eff,#0049ff,#0045ff,#003fff,#0039ff,#0034ff,#002eff,#002dff,#002fff,#0035ff,#003bff,#0040ff,#0045ff,#004aff,#004eff,#0050ff,#0053ff,#05f,#05f,#05f,#05f)"></i>
<i style="left:225px;width:3.1px;background:linear-gradient(#00b0ff,#00b0ff,#00b0ff,#00b0ff,#00b0ff,#00b0ff,#00b0ff,#00b0ff,#00b0ff,#00b0ff,#00b0ff,#00b0ff,#00b0ff,#00b0ff,#00b0ff,#00b0ff,#00b0ff,#00b0ff,#00b0ff,#00b0ff,#00b0ff,#00b0ff,#00b0ff,#00b0ff,#00b0ff,#00b0ff,#00b0ff,#00b0ff,#00b0ff,#00b0ff,#00b0ff,#00b0ff,#00aeff,#00acff,#00a6ff,#009fff,#0098ff,#00a6ff,#0bf,#00cfff,#00fffc,#00ffe0,#00ffc5,#00ffab,#00ff8e,#00ff63,#00ff36,#00ff09,#2f0,#4dff00,#7f0,#a9ff00,#e1ff00,#ffef00,#ffca00,#ffc000,#ffc500,#ffbf00,#ffb100,#ff9c00,#ff8500,#ff6100,#ff3d00,#ff2100,#ff0a00,#ff0b00,#ff2b00,#f50,#ff8500,#ffad00,#ffd200,#ffef00,#efff00,#c8ff00,#a0ff00,#78ff00,#4fff00,#26ff00,#00ff03,#00ff35,#00ff67,#0f9,#00ffcb,#00fffa,#00e1ff,#00c1ff,#00aeff,#00a7ff,#00afff,#00b7ff,#00bfff,#00c1ff,#00b7ff,#00adff,#00a3ff,#09f,#0090ff,#008aff,#0092ff,#00a2ff,#00b1ff,#00baff,#00c2ff,#00c5ff,#00c0ff,#0bf,#00b3ff,#00a9ff,#009eff,#0096ff,#0092ff,#008eff,#008bff,#0087ff,#0083ff,#007eff,#0078ff,#0072ff,#006cff,#06f,#0065ff,#0068ff,#006aff,#006dff,#006aff,#0065ff,#0060ff,#005bff,#0056ff,#0051ff,#004dff,#0049ff,#0045ff,#0041ff,#003cff,#0038ff,#0034ff,#0030ff,#002cff,#002dff,#002eff,#002fff,#0030ff,#0034ff,#0038ff,#003dff,#0041ff,#0046ff,#004bff,#004fff,#0051ff,#0053ff,#0056ff,#0058ff,#005aff,#0062ff,#0076ff,#008dff,#00a9ff,#00c8ff,#00daff,#00f6ff,#00fffd,#00ffcd,#00ff9b,#00ff5f,#00ff21,#00ff01,#12ff00,#3f0,#5bff00,#82ff00,#a8ff00,#ceff00,#f2ff00,#ffeb00,#ffa200,#ff5c00,#ff5a00,#ff9700,#fb0,#ff9f00,#ff7500,#ff7000,#ffa000,#ffe600,#c6ff00,#78ff00,#2dff00,#00ff17,#00ff5a,#00ff9f,#00ffe5,#00e2ff,#00adff,#0091ff,#007eff,#0072ff,#06f,#0061ff,#005dff,#0059ff,#0054ff,#0050ff,#004bff,#0046ff,#0040ff,#003bff,#0035ff,#002fff,#002eff,#0030ff,#0035ff,#003bff,#0040ff,#0045ff,#004aff,#004dff,#0050ff,#0052ff,#0054ff,#0054ff,#0054ff,#0054ff)"></i>
<i style="left:227.5px;width:3.1px;background:linear-gradient(#00b0ff,#00b0ff,#00b0ff,#00b0ff,#00b0ff,#00b0ff,#00b0ff,#00b0ff,#00b0ff,#00b0ff,#00b0ff,#00b0ff,#00b0ff,#00b0ff,#00b0ff,#00b0ff,#00b0ff,#00b0ff,#00b0ff,#00b0ff,#00b0ff,#00b0ff,#00b0ff,#00b0ff,#00b0ff,#00b0ff,#00b0ff,#00b0ff,#00b0ff,#00b0ff,#00b0ff,#00b0ff,#00aeff,#00adff,#00a9ff,#00a1ff,#009aff,#009eff,#00b2ff,#00c7ff,#00f0ff,#00ffe9,#00ffcd,#00ffb1,#00ff96,#00ff6c,#00ff3e,#0f1,#1bff00,#46ff00,#71ff00,#a1ff00,#d9ff00,#fff400,#ffce00,#ffbf00,#ffc400,#ffc200,#ffb600,#ffa200,#ff8c00,#ff6b00,#ff4500,#ff2600,#ff0d00,#ff0900,#ff2800,#ff5000,#ff8100,#ffab00,#ffcf00,#fe0,#f2ff00,#cbff00,#a4ff00,#7cff00,#54ff00,#2bff00,#03ff00,#00ff2e,#00ff61,#00ff93,#00ffc6,#00fff6,#00e4ff,#00c2ff,#00aeff,#00a5ff,#00aeff,#00b6ff,#00beff,#00c4ff,#00baff,#00b0ff,#00a6ff,#009cff,#0092ff,#008aff,#0092ff,#00a1ff,#00b1ff,#00baff,#00c3ff,#00c7ff,#00c1ff,#0bf,#00b3ff,#00a9ff,#009eff,#0096ff,#0092ff,#008fff,#008bff,#0087ff,#0083ff,#007eff,#0078ff,#0072ff,#006cff,#06f,#0065ff,#0068ff,#006bff,#006dff,#006aff,#0065ff,#0061ff,#005cff,#0057ff,#0052ff,#004dff,#0049ff,#0045ff,#0041ff,#003cff,#0038ff,#0034ff,#002fff,#002bff,#002dff,#002eff,#0030ff,#0031ff,#0035ff,#003aff,#003eff,#0043ff,#0047ff,#004bff,#0050ff,#0052ff,#0054ff,#0056ff,#0058ff,#005aff,#0061ff,#0074ff,#0089ff,#00a3ff,#00bfff,#00d2ff,#00edff,#00fbff,#00ffd4,#00ffa1,#00ff67,#00ff29,#00ff05,#12ff00,#34ff00,#5bff00,#82ff00,#af0,#d1ff00,#f6ff00,#ffe500,#ffa000,#ff6000,#ff5c00,#ff9200,#ffb000,#ff9300,#ff6800,#ff6100,#ff8e00,#ffd700,#d4ff00,#85ff00,#3aff00,#00ff0b,#00ff4e,#00ff93,#00ffd8,#00ecff,#00b6ff,#0096ff,#0081ff,#0075ff,#0068ff,#0063ff,#005fff,#005aff,#0056ff,#0051ff,#004cff,#0047ff,#0042ff,#003cff,#0037ff,#0031ff,#002fff,#0031ff,#0036ff,#003bff,#0040ff,#0045ff,#0049ff,#004dff,#004fff,#0052ff,#0054ff,#0054ff,#0054ff,#0054ff)"></i>
<i style="left:230px;width:3.1px;background:linear-gradient(#00afff,#00afff,#00afff,#00afff,#00afff,#00afff,#00afff,#00afff,#00afff,#00afff,#00afff,#00afff,#00afff,#00afff,#00afff,#00afff,#00afff,#00afff,#00afff,#00afff,#00afff,#00afff,#00afff,#00afff,#00afff,#00afff,#00afff,#00afff,#00afff,#00afff,#00afff,#00afff,#00afff,#00adff,#0af,#00a3ff,#009cff,#0095ff,#0af,#00bfff,#00dcff,#00fff2,#00ffd5,#00ffb9,#00ff9d,#00ff75,#00ff47,#00ff19,#14ff00,#3fff00,#6bff00,#9f0,#d2ff00,#fff800,#ffd300,#ffbe00,#ffc300,#ffc500,#ffb900,#ffa800,#ff9200,#ff7500,#ff4e00,#ff2d00,#f10,#ff0700,#ff2400,#ff4a00,#ff7c00,#ffa800,#ffcd00,#ffec00,#f5ff00,#ceff00,#a8ff00,#81ff00,#59ff00,#31ff00,#09ff00,#00ff28,#00ff5b,#00ff8d,#00ffc1,#00fff3,#00e7ff,#00c3ff,#00afff,#00a3ff,#00acff,#00b5ff,#00beff,#00c6ff,#00bcff,#00b2ff,#00a9ff,#009fff,#0095ff,#008cff,#0092ff,#00a0ff,#00afff,#00baff,#00c4ff,#00c9ff,#00c3ff,#00bcff,#00b4ff,#00a9ff,#009eff,#0096ff,#0092ff,#008fff,#008bff,#0087ff,#0084ff,#007eff,#0078ff,#0072ff,#006cff,#06f,#06f,#0068ff,#006bff,#006eff,#006bff,#06f,#0061ff,#005cff,#0057ff,#0052ff,#004eff,#0049ff,#0045ff,#0041ff,#003cff,#0038ff,#03f,#002fff,#002bff,#002dff,#002fff,#0031ff,#03f,#0037ff,#003bff,#0040ff,#04f,#0048ff,#004cff,#0050ff,#0052ff,#0054ff,#0056ff,#0058ff,#005aff,#0060ff,#0072ff,#0085ff,#009cff,#00b5ff,#00c9ff,#00e4ff,#00f5ff,#00ffdb,#00ffa8,#00ff6f,#00ff31,#00ff09,#12ff00,#34ff00,#5bff00,#82ff00,#abff00,#d3ff00,#faff00,#ffdf00,#ff9e00,#ff6300,#ff5e00,#ff8d00,#ffa500,#ff8700,#ff5a00,#ff5300,#ff7c00,#ffc900,#e2ff00,#93ff00,#47ff00,#01ff00,#00ff43,#00ff87,#00ffcb,#00f6ff,#00beff,#009bff,#0084ff,#07f,#006bff,#0065ff,#0060ff,#005cff,#0058ff,#0053ff,#004eff,#0049ff,#0043ff,#003eff,#0038ff,#0032ff,#0030ff,#0032ff,#0036ff,#003bff,#0040ff,#0045ff,#0049ff,#004cff,#004fff,#0051ff,#0053ff,#0053ff,#0053ff,#0053ff)"></i>
<i style="left:232.5px;width:3.1px;background:linear-gradient(#00afff,#00afff,#00afff,#00afff,#00afff,#00afff,#00afff,#00afff,#00afff,#00afff,#00afff,#00afff,#00afff,#00afff,#00afff,#00afff,#00afff,#00afff,#00afff,#00afff,#00afff,#00afff,#00afff,#00afff,#00afff,#00afff,#00afff,#00afff,#00afff,#00afff,#00afff,#00afff,#00afff,#00adff,#0af,#00a6ff,#009eff,#0096ff,#00a1ff,#00b6ff,#0cf,#00fffb,#00ffde,#00ffc0,#00ffa4,#00ff7f,#00ff50,#0f2,#0cff00,#38ff00,#64ff00,#91ff00,#caff00,#fffc00,#ffd700,#ffbc00,#ffc300,#ffc800,#ffbd00,#ffad00,#ff9800,#ff8100,#ff5900,#ff3400,#ff1600,#ff0400,#ff2100,#ff4500,#ff7800,#ffa500,#ffca00,#ffea00,#f8ff00,#d2ff00,#acff00,#85ff00,#5dff00,#36ff00,#0eff00,#00ff21,#00ff54,#00ff87,#0fb,#00ffef,#00eaff,#00c5ff,#00b0ff,#00a1ff,#0af,#00b4ff,#00bdff,#00c7ff,#00bfff,#00b5ff,#00abff,#00a1ff,#0097ff,#008eff,#0092ff,#009fff,#00aeff,#00baff,#00c5ff,#0cf,#00c4ff,#00bdff,#00b4ff,#00a9ff,#009eff,#0096ff,#0093ff,#008fff,#008bff,#0087ff,#0084ff,#007eff,#0078ff,#0072ff,#006cff,#06f,#06f,#0069ff,#006bff,#006eff,#006bff,#06f,#0061ff,#005cff,#0057ff,#0053ff,#004eff,#0049ff,#0045ff,#0041ff,#003cff,#0038ff,#03f,#002fff,#002bff,#002dff,#0030ff,#0032ff,#0034ff,#0039ff,#003dff,#0041ff,#0045ff,#0049ff,#004dff,#0050ff,#0052ff,#0054ff,#0056ff,#0058ff,#005aff,#005fff,#006fff,#0081ff,#0096ff,#00acff,#00c0ff,#00dbff,#00efff,#00ffe2,#00ffaf,#00ff76,#00ff39,#00ff0d,#13ff00,#35ff00,#5cff00,#83ff00,#acff00,#d6ff00,#feff00,#ffd800,#ff9c00,#ff6700,#ff6000,#f80,#ff9b00,#ff7b00,#ff4d00,#f40,#ff6b00,#ffba00,#f0ff00,#a1ff00,#54ff00,#0dff00,#00ff38,#00ff7b,#00ffbf,#00fffe,#00c7ff,#00a1ff,#0087ff,#007aff,#006eff,#0067ff,#0062ff,#005eff,#0059ff,#05f,#004fff,#004aff,#0045ff,#003fff,#0039ff,#0034ff,#0030ff,#03f,#0037ff,#003bff,#0040ff,#0045ff,#0049ff,#004cff,#004eff,#0051ff,#0053ff,#0053ff,#0053ff,#0053ff)"></i>
<i style="left:235px;width:3.1px;background:linear-gradient(#00afff,#00afff,#00afff,#00afff,#00afff,#00afff,#00afff,#00afff,#00afff,#00afff,#00afff,#00afff,#00afff,#00afff,#00afff,#00afff,#00afff,#00afff,#00afff,#00afff,#00afff,#00afff,#00afff,#00afff,#00afff,#00afff,#00afff,#00afff,#00afff,#00afff,#00afff,#00afff,#00afff,#00aeff,#00abff,#00a7ff,#00a0ff,#0098ff,#0097ff,#00aeff,#00c4ff,#00f1ff,#00ffe7,#00ffc8,#00ffab,#00ff89,#00ff5a,#00ff2a,#04ff00,#31ff00,#5dff00,#8aff00,#c3ff00,#fdff00,#ffdb00,#fb0,#ffc100,#ffc800,#ffc000,#ffb300,#ff9e00,#ff8a00,#ff6300,#ff3b00,#ff1b00,#ff0200,#ff1d00,#ff3f00,#ff7300,#ffa200,#ffc800,#ffe900,#faff00,#d5ff00,#afff00,#89ff00,#62ff00,#3bff00,#13ff00,#00ff1a,#00ff4e,#00ff81,#00ffb6,#00ffeb,#00edff,#00c7ff,#00b0ff,#009fff,#00a9ff,#00b3ff,#00bcff,#00c6ff,#00c1ff,#00b7ff,#00aeff,#00a4ff,#009aff,#0090ff,#0092ff,#009eff,#00adff,#00baff,#00c5ff,#00cfff,#00c6ff,#00beff,#00b4ff,#00a9ff,#009eff,#0096ff,#0093ff,#008fff,#008bff,#08f,#0084ff,#007eff,#0078ff,#0073ff,#006dff,#0067ff,#0067ff,#0069ff,#006cff,#006eff,#006cff,#0067ff,#0062ff,#005dff,#0058ff,#0053ff,#004eff,#004aff,#0045ff,#0040ff,#003cff,#0037ff,#03f,#002eff,#002aff,#002dff,#0030ff,#03f,#0036ff,#003aff,#003eff,#0042ff,#0046ff,#004aff,#004dff,#0051ff,#0053ff,#05f,#0056ff,#0058ff,#005aff,#005fff,#006dff,#007dff,#008fff,#00a2ff,#00b8ff,#00d2ff,#00e9ff,#00ffe9,#00ffb5,#00ff7e,#00ff42,#0f1,#13ff00,#36ff00,#5cff00,#83ff00,#aeff00,#d8ff00,#fffc00,#ffd200,#f90,#ff6b00,#ff6300,#ff8300,#ff9000,#ff6e00,#ff3f00,#ff3600,#ff5900,#ffab00,#feff00,#aeff00,#61ff00,#19ff00,#00ff2c,#00ff6f,#00ffb2,#00fff3,#00d0ff,#00a7ff,#008aff,#007dff,#0070ff,#0069ff,#0064ff,#0060ff,#005bff,#0056ff,#0051ff,#004cff,#0046ff,#0040ff,#003bff,#0035ff,#0031ff,#0034ff,#0037ff,#003cff,#0040ff,#04f,#0048ff,#004bff,#004eff,#0050ff,#0052ff,#0053ff,#0053ff,#0053ff)"></i>
<i style="left:237.5px;width:3.1px;background:linear-gradient(#00aeff,#00aeff,#00aeff,#00aeff,#00aeff,#00aeff,#00aeff,#00aeff,#00aeff,#00aeff,#00aeff,#00aeff,#00aeff,#00aeff,#00aeff,#00aeff,#00aeff,#00aeff,#00aeff,#00aeff,#00aeff,#00aeff,#00aeff,#00aeff,#00aeff,#00aeff,#00aeff,#00aeff,#00aeff,#00aeff,#00aeff,#00aeff,#00aeff,#00aeff,#00acff,#00a8ff,#00a3ff,#009bff,#0092ff,#00a4ff,#0bf,#00dbff,#00fff0,#00ffd1,#00ffb2,#00ff92,#00ff63,#0f3,#00ff04,#29ff00,#56ff00,#83ff00,#bf0,#f5ff00,#ffe000,#ffba00,#ffc000,#ffc800,#ffc300,#ffb800,#ffa400,#ff9000,#ff6f00,#f40,#ff2000,#ff0100,#ff1a00,#ff3900,#ff6e00,#ff9f00,#ffc500,#ffe700,#fdff00,#d8ff00,#b3ff00,#8eff00,#67ff00,#40ff00,#19ff00,#00ff13,#00ff47,#00ff7b,#00ffb0,#00ffe6,#00f0ff,#00caff,#00b1ff,#009dff,#00a7ff,#00b1ff,#0bf,#00c6ff,#00c4ff,#00baff,#00b0ff,#00a6ff,#009dff,#0093ff,#0091ff,#009eff,#00acff,#00baff,#00c5ff,#00d1ff,#00c8ff,#00bfff,#00b4ff,#00a9ff,#009dff,#0096ff,#0093ff,#008fff,#008bff,#08f,#0084ff,#007fff,#0079ff,#0073ff,#006dff,#0067ff,#0067ff,#006aff,#006cff,#006fff,#006cff,#0067ff,#0062ff,#005dff,#0058ff,#0053ff,#004eff,#004aff,#0045ff,#0040ff,#003cff,#0037ff,#0032ff,#002eff,#002aff,#002eff,#0031ff,#0034ff,#0038ff,#003cff,#0040ff,#0043ff,#0047ff,#004aff,#004eff,#0051ff,#0053ff,#05f,#0057ff,#0058ff,#005aff,#005eff,#006aff,#0079ff,#08f,#09f,#00afff,#00c9ff,#00e3ff,#00fff0,#00ffbc,#00ff85,#00ff4a,#00ff15,#13ff00,#37ff00,#5cff00,#83ff00,#afff00,#dbff00,#fff800,#fc0,#ff9700,#ff6f00,#ff6500,#ff7e00,#ff8500,#ff6200,#ff3200,#ff2800,#ff4700,#ff9d00,#fff200,#bcff00,#6eff00,#25ff00,#00ff21,#00ff63,#00ffa5,#00ffe9,#00d8ff,#00adff,#008eff,#0080ff,#0073ff,#006aff,#06f,#0061ff,#005dff,#0058ff,#0053ff,#004dff,#0048ff,#0042ff,#003cff,#0036ff,#0031ff,#0034ff,#0038ff,#003cff,#0040ff,#04f,#0048ff,#004bff,#004dff,#0050ff,#0052ff,#0052ff,#0052ff,#0052ff)"></i>
<i style="left:240px;width:3.1px;background:linear-gradient(#00aeff,#00aeff,#00aeff,#00aeff,#00aeff,#00aeff,#00aeff,#00aeff,#00aeff,#00aeff,#00aeff,#00aeff,#00aeff,#00aeff,#00aeff,#00aeff,#00aeff,#00aeff,#00aeff,#00aeff,#00aeff,#00aeff,#00aeff,#00aeff,#00aeff,#00aeff,#00aeff,#00aeff,#00aeff,#00aeff,#00aeff,#00aeff,#00aeff,#00aeff,#00adff,#00a9ff,#00a5ff,#009dff,#0095ff,#009bff,#00b2ff,#00caff,#00fffa,#00ffda,#0fb,#00ff9b,#00ff6d,#00ff3d,#00ff0c,#2f0,#4fff00,#7dff00,#b3ff00,#ef0,#ffe400,#ffbe00,#ffbf00,#ffc700,#ffc600,#fb0,#fa0,#ff9600,#ff7c00,#ff4f00,#ff2700,#ff0500,#ff1700,#ff3400,#ff6900,#ff9d00,#ffc200,#ffe600,#ff0,#dbff00,#b6ff00,#92ff00,#6bff00,#4f0,#1eff00,#00ff0c,#00ff41,#00ff75,#00ffab,#00ffe0,#00f3ff,#0cf,#00b2ff,#009cff,#00a5ff,#00b0ff,#00baff,#00c5ff,#00c6ff,#00bcff,#00b3ff,#00a9ff,#009fff,#0095ff,#0090ff,#009dff,#00abff,#00b9ff,#00c6ff,#00d2ff,#00caff,#00c0ff,#00b5ff,#00a9ff,#009dff,#0096ff,#0093ff,#008fff,#008cff,#08f,#0084ff,#007fff,#0079ff,#0073ff,#006dff,#0067ff,#0067ff,#006aff,#006cff,#006fff,#006cff,#0067ff,#0063ff,#005eff,#0059ff,#0054ff,#004fff,#004aff,#0045ff,#0040ff,#003cff,#0037ff,#0032ff,#002dff,#002aff,#002eff,#0032ff,#0036ff,#003aff,#003eff,#0041ff,#04f,#0048ff,#004bff,#004fff,#0052ff,#0053ff,#05f,#0057ff,#0058ff,#005aff,#005dff,#0068ff,#0074ff,#0082ff,#0090ff,#00a7ff,#00c0ff,#0df,#00fff7,#00ffc3,#00ff8d,#00ff52,#00ff18,#13ff00,#37ff00,#5dff00,#83ff00,#b0ff00,#df0,#fff400,#ffc600,#ff9500,#ff7300,#ff6700,#ff7900,#ff7a00,#ff5600,#ff2400,#ff1900,#ff3600,#ff8e00,#ffe300,#caff00,#7bff00,#31ff00,#00ff16,#00ff57,#0f9,#00ffdf,#00e1ff,#00b3ff,#0091ff,#0083ff,#0076ff,#006cff,#0068ff,#0063ff,#005eff,#005aff,#0054ff,#004fff,#0049ff,#0043ff,#003eff,#0038ff,#0032ff,#0035ff,#0039ff,#003dff,#0040ff,#04f,#0048ff,#004aff,#004dff,#004fff,#0051ff,#0052ff,#0052ff,#0052ff)"></i>
<i style="left:242.5px;width:3.1px;background:linear-gradient(#00adff,#00adff,#00adff,#00adff,#00adff,#00adff,#00adff,#00adff,#00adff,#00adff,#00adff,#00adff,#00adff,#00adff,#00adff,#00adff,#00adff,#00adff,#00adff,#00adff,#00adff,#00adff,#00adff,#00adff,#00adff,#00adff,#00adff,#00adff,#00adff,#00adff,#00adff,#00adff,#00adff,#00adff,#00adff,#0af,#00a6ff,#00a0ff,#0097ff,#0091ff,#00a9ff,#00c1ff,#00f2ff,#00ffe4,#00ffc3,#00ffa3,#0f7,#00ff46,#00ff15,#1aff00,#48ff00,#76ff00,#af0,#e6ff00,#ffe900,#ffc200,#ffbe00,#ffc600,#ffc900,#ffbe00,#ffb000,#ff9b00,#ff8700,#ff5b00,#ff2f00,#ff0900,#ff1500,#ff3000,#ff6300,#f90,#ffc000,#ffe400,#fffd00,#deff00,#baff00,#95ff00,#6fff00,#49ff00,#23ff00,#00ff05,#00ff3a,#00ff6f,#00ffa5,#00ffdb,#00f7ff,#00cfff,#00b3ff,#009dff,#00a3ff,#00aeff,#00b9ff,#00c5ff,#00c8ff,#00bfff,#00b5ff,#00acff,#00a2ff,#0098ff,#008fff,#009dff,#0af,#00b8ff,#00c6ff,#00d3ff,#0cf,#00c1ff,#00b5ff,#00a9ff,#009dff,#0097ff,#0093ff,#008fff,#008cff,#08f,#0085ff,#007fff,#0079ff,#0073ff,#006dff,#0067ff,#0068ff,#006aff,#006dff,#006fff,#006dff,#0068ff,#0063ff,#005eff,#0059ff,#0054ff,#004fff,#004aff,#0045ff,#0040ff,#003cff,#0037ff,#0032ff,#002dff,#002aff,#002eff,#0032ff,#0037ff,#003bff,#003fff,#0042ff,#0046ff,#0049ff,#004cff,#004fff,#0052ff,#0054ff,#05f,#0057ff,#0058ff,#005aff,#005cff,#0065ff,#0070ff,#007bff,#0086ff,#009eff,#00b7ff,#00d6ff,#00fffe,#00ffc9,#00ff95,#00ff5a,#00ff1c,#14ff00,#38ff00,#5dff00,#84ff00,#b2ff00,#e0ff00,#fff000,#ffbf00,#ff9300,#f70,#ff6900,#ff7500,#ff7000,#ff4a00,#ff1700,#ff0b00,#ff2400,#ff8000,#ffd500,#d7ff00,#8f0,#3dff00,#00ff0b,#00ff4b,#00ff8c,#00ffd5,#00eaff,#00b9ff,#0094ff,#0086ff,#0079ff,#006eff,#006aff,#0065ff,#0060ff,#005bff,#0056ff,#0050ff,#004aff,#0045ff,#003fff,#0039ff,#0034ff,#0036ff,#0039ff,#003dff,#0041ff,#04f,#0048ff,#004aff,#004cff,#004fff,#0051ff,#0052ff,#0052ff,#0052ff)"></i>
<i style="left:245px;width:3.1px;background:linear-gradient(#00adff,#00adff,#00adff,#00adff,#00adff,#00adff,#00adff,#00adff,#00adff,#00adff,#00adff,#00adff,#00adff,#00adff,#00adff,#00adff,#00adff,#00adff,#00adff,#00adff,#00adff,#00adff,#00adff,#00adff,#00adff,#00adff,#00adff,#00adff,#00adff,#00adff,#00adff,#00adff,#00adff,#00adff,#00adff,#0af,#00a6ff,#00a0ff,#0098ff,#008fff,#00a7ff,#00bfff,#0ef,#00ffe6,#00ffc5,#00ffa4,#00ff78,#00ff48,#00ff17,#19ff00,#47ff00,#75ff00,#a9ff00,#e5ff00,#ffe900,#ffc300,#ffbd00,#ffc500,#ffca00,#ffbf00,#ffb100,#ff9c00,#f80,#ff5d00,#ff3000,#ff0a00,#ff1400,#ff2f00,#ff6200,#f90,#ffbf00,#ffe400,#fffd00,#deff00,#baff00,#96ff00,#70ff00,#4aff00,#24ff00,#00ff04,#00ff39,#00ff6e,#00ffa4,#00ffda,#00f7ff,#00cfff,#00b3ff,#009dff,#00a2ff,#00aeff,#00b9ff,#00c4ff,#00c9ff,#00bfff,#00b6ff,#00acff,#00a2ff,#09f,#008fff,#009dff,#0af,#00b8ff,#00c6ff,#00d3ff,#00cdff,#00c1ff,#00b5ff,#00a9ff,#009dff,#0097ff,#0093ff,#008fff,#008cff,#08f,#0085ff,#007fff,#0079ff,#0073ff,#006dff,#0067ff,#0068ff,#006aff,#006dff,#006fff,#006dff,#0068ff,#0063ff,#005eff,#0059ff,#0054ff,#004fff,#004aff,#0045ff,#0040ff,#003cff,#0037ff,#0032ff,#002dff,#002aff,#002eff,#03f,#0037ff,#003cff,#003fff,#0043ff,#0046ff,#0049ff,#004cff,#004fff,#0052ff,#0054ff,#05f,#0057ff,#0058ff,#005aff,#005cff,#0065ff,#006fff,#007aff,#0085ff,#009dff,#00b5ff,#00d5ff,#0ff,#00ffcb,#00ff96,#00ff5b,#00ff1d,#14ff00,#38ff00,#5dff00,#84ff00,#b2ff00,#e0ff00,#ffef00,#ffbe00,#ff9300,#f70,#ff6a00,#ff7400,#ff6e00,#ff4700,#ff1400,#ff0800,#ff2100,#ff7d00,#ffd300,#daff00,#8aff00,#40ff00,#00ff09,#00ff49,#00ff89,#00ffd3,#00ebff,#00baff,#0094ff,#0087ff,#0079ff,#006fff,#006aff,#0065ff,#0061ff,#005cff,#0056ff,#0050ff,#004bff,#0045ff,#003fff,#0039ff,#0034ff,#0036ff,#003aff,#003dff,#0041ff,#04f,#0048ff,#004aff,#004cff,#004fff,#0051ff,#0052ff,#0052ff,#0052ff)"></i>
<i style="left:247.5px;width:3.1px;background:linear-gradient(#00adff,#00adff,#00adff,#00adff,#00adff,#00adff,#00adff,#00adff,#00adff,#00adff,#00adff,#00adff,#00adff,#00adff,#00adff,#00adff,#00adff,#00adff,#00adff,#00adff,#00adff,#00adff,#00adff,#00adff,#00adff,#00adff,#00adff,#00adff,#00adff,#00adff,#00adff,#00adff,#00adff,#00adff,#00adff,#0af,#00a6ff,#00a0ff,#0098ff,#008fff,#00a7ff,#00bfff,#0ef,#00ffe6,#00ffc5,#00ffa4,#00ff78,#00ff48,#00ff17,#19ff00,#47ff00,#75ff00,#a9ff00,#e5ff00,#ffe900,#ffc300,#ffbd00,#ffc500,#ffca00,#ffbf00,#ffb100,#ff9c00,#f80,#ff5d00,#ff3000,#ff0a00,#ff1400,#ff2f00,#ff6200,#f90,#ffbf00,#ffe400,#fffd00,#deff00,#baff00,#96ff00,#70ff00,#4aff00,#24ff00,#00ff04,#00ff39,#00ff6e,#00ffa4,#00ffda,#00f7ff,#00cfff,#00b3ff,#009dff,#00a2ff,#00aeff,#00b9ff,#00c4ff,#00c9ff,#00bfff,#00b6ff,#00acff,#00a2ff,#09f,#008fff,#009dff,#0af,#00b8ff,#00c6ff,#00d3ff,#00cdff,#00c1ff,#00b5ff,#00a9ff,#009dff,#0097ff,#0093ff,#008fff,#008cff,#08f,#0085ff,#007fff,#0079ff,#0073ff,#006dff,#0067ff,#0068ff,#006aff,#006dff,#006fff,#006dff,#0068ff,#0063ff,#005eff,#0059ff,#0054ff,#004fff,#004aff,#0045ff,#0040ff,#003cff,#0037ff,#0032ff,#002dff,#002aff,#002eff,#03f,#0037ff,#003cff,#003fff,#0043ff,#0046ff,#0049ff,#004cff,#004fff,#0052ff,#0054ff,#05f,#0057ff,#0058ff,#005aff,#005cff,#0065ff,#006fff,#007aff,#0085ff,#009dff,#00b5ff,#00d5ff,#0ff,#00ffcb,#00ff96,#00ff5b,#00ff1d,#14ff00,#38ff00,#5dff00,#84ff00,#b2ff00,#e0ff00,#ffef00,#ffbe00,#ff9300,#f70,#ff6a00,#ff7400,#ff6e00,#ff4700,#ff1400,#ff0800,#ff2100,#ff7d00,#ffd300,#daff00,#8aff00,#40ff00,#00ff09,#00ff49,#00ff89,#00ffd3,#00ebff,#00baff,#0094ff,#0087ff,#0079ff,#006fff,#006aff,#0065ff,#0061ff,#005cff,#0056ff,#0050ff,#004bff,#0045ff,#003fff,#0039ff,#0034ff,#0036ff,#003aff,#003dff,#0041ff,#04f,#0048ff,#004aff,#004cff,#004fff,#0051ff,#0052ff,#0052ff,#0052ff)"></i>
<i style="left:250px;width:3.1px;background:linear-gradient(#00adff,#00adff,#00adff,#00adff,#00adff,#00adff,#00adff,#00adff,#00adff,#00adff,#00adff,#00adff,#00adff,#00adff,#00adff,#00adff,#00adff,#00adff,#00adff,#00adff,#00adff,#00adff,#00adff,#00adff,#00adff,#00adff,#00adff,#00adff,#00adff,#00adff,#00adff,#00adff,#00adff,#00adff,#00adff,#0af,#00a6ff,#00a0ff,#0098ff,#008fff,#00a7ff,#00bfff,#0ef,#00ffe6,#00ffc5,#00ffa4,#00ff78,#00ff48,#00ff17,#19ff00,#47ff00,#75ff00,#a9ff00,#e5ff00,#ffe900,#ffc300,#ffbd00,#ffc500,#ffca00,#ffbf00,#ffb100,#ff9c00,#f80,#ff5d00,#ff3000,#ff0a00,#ff1400,#ff2f00,#ff6200,#f90,#ffbf00,#ffe400,#fffd00,#deff00,#baff00,#96ff00,#70ff00,#4aff00,#24ff00,#00ff04,#00ff39,#00ff6e,#00ffa4,#00ffda,#00f7ff,#00cfff,#00b3ff,#009dff,#00a2ff,#00aeff,#00b9ff,#00c4ff,#00c9ff,#00bfff,#00b6ff,#00acff,#00a2ff,#09f,#008fff,#009dff,#0af,#00b8ff,#00c6ff,#00d3ff,#00cdff,#00c1ff,#00b5ff,#00a9ff,#009dff,#0097ff,#0093ff,#008fff,#008cff,#08f,#0085ff,#007fff,#0079ff,#0073ff,#006dff,#0067ff,#0068ff,#006aff,#006dff,#006fff,#006dff,#0068ff,#0063ff,#005eff,#0059ff,#0054ff,#004fff,#004aff,#0045ff,#0040ff,#003cff,#0037ff,#0032ff,#002dff,#002aff,#002eff,#03f,#0037ff,#003cff,#003fff,#0043ff,#0046ff,#0049ff,#004cff,#004fff,#0052ff,#0054ff,#05f,#0057ff,#0058ff,#005aff,#005cff,#0065ff,#006fff,#007aff,#0085ff,#009dff,#00b5ff,#00d5ff,#0ff,#00ffcb,#00ff96,#00ff5b,#00ff1d,#14ff00,#38ff00,#5dff00,#84ff00,#b2ff00,#e0ff00,#ffef00,#ffbe00,#ff9300,#f70,#ff6a00,#ff7400,#ff6e00,#ff4700,#ff1400,#ff0800,#ff2100,#ff7d00,#ffd300,#daff00,#8aff00,#40ff00,#00ff09,#00ff49,#00ff89,#00ffd3,#00ebff,#00baff,#0094ff,#0087ff,#0079ff,#006fff,#006aff,#0065ff,#0061ff,#005cff,#0056ff,#0050ff,#004bff,#0045ff,#003fff,#0039ff,#0034ff,#0036ff,#003aff,#003dff,#0041ff,#04f,#0048ff,#004aff,#004cff,#004fff,#0051ff,#0052ff,#0052ff,#0052ff)"></i>
<i style="left:252.5px;width:1.1px;background:linear-gradient(#00adff,#00adff,#00adff,#00adff,#00adff,#00adff,#00adff,#00adff,#00adff,#00adff,#00adff,#00adff,#00adff,#00adff,#00adff,#00adff,#00adff,#00adff,#00adff,#00adff,#00adff,#00adff,#00adff,#00adff,#00adff,#00adff,#00adff,#00adff,#00adff,#00adff,#00adff,#00adff,#00adff,#00adff,#00adff,#0af,#00a6ff,#00a0ff,#0098ff,#008fff,#00a7ff,#00bfff,#0ef,#00ffe6,#00ffc5,#00ffa4,#00ff78,#00ff48,#00ff17,#19ff00,#47ff00,#75ff00,#a9ff00,#e5ff00,#ffe900,#ffc300,#ffbd00,#ffc500,#ffca00,#ffbf00,#ffb100,#ff9c00,#f80,#ff5d00,#ff3000,#ff0a00,#ff1400,#ff2f00,#ff6200,#f90,#ffbf00,#ffe400,#fffd00,#deff00,#baff00,#96ff00,#70ff00,#4aff00,#24ff00,#00ff04,#00ff39,#00ff6e,#00ffa4,#00ffda,#00f7ff,#00cfff,#00b3ff,#009dff,#00a2ff,#00aeff,#00b9ff,#00c4ff,#00c9ff,#00bfff,#00b6ff,#00acff,#00a2ff,#09f,#008fff,#009dff,#0af,#00b8ff,#00c6ff,#00d3ff,#00cdff,#00c1ff,#00b5ff,#00a9ff,#009dff,#0097ff,#0093ff,#008fff,#008cff,#08f,#0085ff,#007fff,#0079ff,#0073ff,#006dff,#0067ff,#0068ff,#006aff,#006dff,#006fff,#006dff,#0068ff,#0063ff,#005eff,#0059ff,#0054ff,#004fff,#004aff,#0045ff,#0040ff,#003cff,#0037ff,#0032ff,#002dff,#002aff,#002eff,#03f,#0037ff,#003cff,#003fff,#0043ff,#0046ff,#0049ff,#004cff,#004fff,#0052ff,#0054ff,#05f,#0057ff,#0058ff,#005aff,#005cff,#0065ff,#006fff,#007aff,#0085ff,#009dff,#00b5ff,#00d5ff,#0ff,#00ffcb,#00ff96,#00ff5b,#00ff1d,#14ff00,#38ff00,#5dff00,#84ff00,#b2ff00,#e0ff00,#ffef00,#ffbe00,#ff9300,#f70,#ff6a00,#ff7400,#ff6e00,#ff4700,#ff1400,#ff0800,#ff2100,#ff7d00,#ffd300,#daff00,#8aff00,#40ff00,#00ff09,#00ff49,#00ff89,#00ffd3,#00ebff,#00baff,#0094ff,#0087ff,#0079ff,#006fff,#006aff,#0065ff,#0061ff,#005cff,#0056ff,#0050ff,#004bff,#0045ff,#003fff,#0039ff,#0034ff,#0036ff,#003aff,#003dff,#0041ff,#04f,#0048ff,#004aff,#004cff,#004fff,#0051ff,#0052ff,#0052ff,#0052ff)"></i>
</div></div>
<div class="w" id="wb"><div id="hb">
<i style="left:0px;width:4.6px;background:linear-gradient(#007aff,#007aff,#007aff,#0080ff,#008aff,#0095ff,#009fff,#00a7ff,#00afff,#00b8ff,#00cbff,#00dfff,#00f2ff,#00fff3,#00ffcf,#00ffab,#00ff87,#00ff63,#00ff3e,#00ff19,#16ff00,#46ff00,#7f0,#a5ff00,#d3ff00,#fffd00,#ffc700,#ff9100,#ff5f00,#ff2e00,#ff3b00,#ff4e00,#f60,#ff7e00,#ff8900,#ff8d00,#ff7d00,#ff6d00,#ff5700,#ff3f00,#ff2e00,#ff5f00,#ff9000,#ffb800,#ffdf00,#fff800,#d8ff00,#a3ff00,#6dff00,#31ff00,#00ff09,#00ff42,#00ff7b,#00ffb0,#00ffe5,#00f3ff,#00daff,#00c1ff,#00abff,#009fff,#0094ff,#0089ff,#007dff,#0085ff,#0094ff,#00a3ff,#00abff,#00a5ff,#009fff,#09f,#0093ff,#008eff,#008dff,#008cff,#008bff,#008aff,#0089ff,#08f,#0086ff,#0085ff,#0085ff,#0085ff,#0085ff,#0085ff,#0085ff,#0085ff,#0085ff,#0085ff,#0085ff,#0085ff,#0085ff,#0085ff,#0085ff,#0085ff,#0085ff,#0085ff,#0085ff,#0085ff,#0085ff,#0085ff,#0085ff,#0085ff,#0085ff,#0085ff,#0085ff,#0085ff,#0085ff,#0084ff,#0083ff,#0082ff,#0081ff,#0080ff,#007fff,#007eff,#007cff,#007bff,#007aff,#007aff,#007aff,#007aff,#007aff,#007aff,#007aff,#008cff,#009eff,#00b3ff,#00d4ff,#00f1ff,#00fff4,#00ffd2,#00ffb1,#00ff90,#00ff63,#00ff32,#0f0,#21ff00,#43ff00,#64ff00,#8eff00,#caff00,#fff900,#ffbf00,#ff7d00,#ff2a00,#f00,#f00,#ff0900,#ff2400,#ff4c00,#ff8600,#ffbe00,#fff600,#c3ff00,#7aff00,#4f0,#0dff00,#00ff25,#0f5,#00ff85,#00ffb2,#00ffe0,#00f3ff,#00ceff,#00abff,#0090ff,#0075ff,#006cff,#06f,#06f,#06f,#06f,#06f,#06f,#06f,#06f,#06f,#06f,#06f,#06f,#06f,#06f,#06f,#06f,#06f,#06f,#06f,#06f,#06f,#06f,#06f,#06f,#06f)"></i>
<i style="left:4px;width:4.6px;background:linear-gradient(#007aff,#007aff,#007aff,#0080ff,#008aff,#0095ff,#009fff,#00a7ff,#00afff,#00b8ff,#00cbff,#00dfff,#00f2ff,#00fff3,#00ffcf,#00ffab,#00ff87,#00ff63,#00ff3e,#00ff19,#16ff00,#46ff00,#7f0,#a5ff00,#d3ff00,#fffd00,#ffc700,#ff9100,#ff5f00,#ff2e00,#ff3b00,#ff4e00,#f60,#ff7e00,#ff8900,#ff8d00,#ff7d00,#ff6d00,#ff5700,#ff3f00,#ff2e00,#ff5f00,#ff9000,#ffb800,#ffdf00,#fff800,#d8ff00,#a3ff00,#6dff00,#31ff00,#00ff09,#00ff42,#00ff7b,#00ffb0,#00ffe5,#00f3ff,#00daff,#00c1ff,#00abff,#009fff,#0094ff,#0089ff,#007dff,#0085ff,#0094ff,#00a3ff,#00abff,#00a5ff,#009fff,#09f,#0093ff,#008eff,#008dff,#008cff,#008bff,#008aff,#0089ff,#08f,#0086ff,#0085ff,#0085ff,#0085ff,#0085ff,#0085ff,#0085ff,#0085ff,#0085ff,#0085ff,#0085ff,#0085ff,#0085ff,#0085ff,#0085ff,#0085ff,#0085ff,#0085ff,#0085ff,#0085ff,#0085ff,#0085ff,#0085ff,#0085ff,#0085ff,#0085ff,#0085ff,#0085ff,#0085ff,#0084ff,#0083ff,#0082ff,#0081ff,#0080ff,#007fff,#007eff,#007cff,#007bff,#007aff,#007aff,#007aff,#007aff,#007aff,#007aff,#007aff,#008cff,#009eff,#00b3ff,#00d4ff,#00f1ff,#00fff4,#00ffd2,#00ffb1,#00ff90,#00ff63,#00ff32,#0f0,#21ff00,#43ff00,#64ff00,#8eff00,#caff00,#fff900,#ffbf00,#ff7d00,#ff2a00,#f00,#f00,#ff0900,#ff2400,#ff4c00,#ff8600,#ffbe00,#fff600,#c3ff00,#7aff00,#4f0,#0dff00,#00ff25,#0f5,#00ff85,#00ffb2,#00ffe0,#00f3ff,#00ceff,#00abff,#0090ff,#0075ff,#006cff,#06f,#06f,#06f,#06f,#06f,#06f,#06f,#06f,#06f,#06f,#06f,#06f,#06f,#06f,#06f,#06f,#06f,#06f,#06f,#06f,#06f,#06f,#06f,#06f,#06f)"></i>
<i style="left:8px;width:4.6px;background:linear-gradient(#007bff,#007bff,#007bff,#0080ff,#008aff,#0095ff,#009eff,#00a6ff,#00aeff,#00b7ff,#00caff,#00deff,#00f2ff,#00fff4,#00ffd0,#00ffac,#0f8,#00ff63,#00ff3e,#00ff19,#16ff00,#47ff00,#78ff00,#a6ff00,#d3ff00,#fffc00,#ffc700,#ff9100,#ff6000,#ff3000,#ff3a00,#ff4d00,#ff6400,#ff7c00,#ff8700,#ff8b00,#ff7b00,#ff6b00,#ff5600,#ff3e00,#ff3000,#ff6000,#ff9100,#ffb800,#ffe000,#fff900,#d6ff00,#a1ff00,#6aff00,#2fff00,#00ff0b,#0f4,#00ff7c,#00ffb1,#00ffe5,#00f2ff,#00d9ff,#00c0ff,#00abff,#009fff,#0094ff,#08f,#007dff,#0086ff,#0095ff,#00a4ff,#00acff,#00a5ff,#009fff,#09f,#0093ff,#008fff,#008dff,#008cff,#008bff,#008aff,#0089ff,#08f,#0087ff,#0085ff,#0085ff,#0085ff,#0085ff,#0085ff,#0085ff,#0085ff,#0085ff,#0085ff,#0085ff,#0084ff,#0084ff,#0084ff,#0084ff,#0084ff,#0084ff,#0084ff,#0084ff,#0084ff,#0084ff,#0084ff,#0084ff,#0084ff,#0084ff,#0084ff,#0084ff,#0084ff,#0084ff,#0083ff,#0082ff,#0081ff,#0080ff,#007fff,#007dff,#007cff,#007bff,#007aff,#0079ff,#0079ff,#0079ff,#0079ff,#007aff,#007aff,#007aff,#008cff,#009eff,#00b2ff,#00d3ff,#00f1ff,#00fff5,#00ffd3,#00ffb2,#00ff90,#00ff65,#00ff34,#00ff02,#20ff00,#41ff00,#63ff00,#8cff00,#c7ff00,#fffb00,#ffc200,#ff8000,#ff2d00,#f00,#f00,#ff0800,#ff2300,#ff4900,#ff8300,#fb0,#fff300,#c6ff00,#7dff00,#45ff00,#0eff00,#00ff23,#00ff53,#00ff83,#00ffb1,#00ffdf,#00f4ff,#00cfff,#00abff,#0090ff,#0075ff,#006cff,#06f,#06f,#06f,#06f,#0065ff,#0065ff,#0065ff,#0065ff,#0065ff,#0065ff,#0065ff,#0065ff,#0065ff,#0065ff,#0065ff,#0065ff,#0065ff,#0065ff,#0065ff,#0065ff,#0065ff,#0065ff,#0065ff,#0065ff,#0065ff)"></i>
<i style="left:12px;width:4.6px;background:linear-gradient(#007cff,#007cff,#007cff,#0080ff,#008aff,#0094ff,#009cff,#00a4ff,#00adff,#00b6ff,#00c9ff,#0df,#00f1ff,#00fff5,#00ffd0,#00ffac,#0f8,#00ff62,#00ff3d,#00ff18,#17ff00,#48ff00,#78ff00,#a6ff00,#d5ff00,#fffa00,#ffc600,#ff9200,#ff6300,#ff3400,#ff3800,#ff4b00,#ff6100,#ff7800,#ff8300,#ff8500,#ff7600,#ff6700,#ff5200,#ff3b00,#ff3500,#ff6300,#ff9200,#ffba00,#ffe100,#fffb00,#d2ff00,#9dff00,#6f0,#2bff00,#00ff0f,#00ff47,#00ff7f,#00ffb3,#00ffe6,#00f2ff,#00d9ff,#00c0ff,#0af,#009fff,#0093ff,#08f,#007cff,#0086ff,#0095ff,#00a4ff,#00acff,#00a6ff,#00a0ff,#009aff,#0094ff,#008fff,#008eff,#008cff,#008bff,#008aff,#0089ff,#08f,#0087ff,#0086ff,#0085ff,#0085ff,#0085ff,#0085ff,#0085ff,#0085ff,#0085ff,#0085ff,#0084ff,#0084ff,#0084ff,#0084ff,#0084ff,#0084ff,#0084ff,#0083ff,#0083ff,#0083ff,#0083ff,#0083ff,#0083ff,#0083ff,#0083ff,#0083ff,#0082ff,#0082ff,#0082ff,#0082ff,#0080ff,#007fff,#007eff,#007dff,#007bff,#007aff,#0078ff,#07f,#0076ff,#0076ff,#07f,#07f,#0078ff,#0079ff,#0079ff,#008aff,#009dff,#00b0ff,#00d1ff,#00efff,#00fff6,#00ffd4,#00ffb3,#00ff92,#00ff68,#00ff37,#00ff07,#1dff00,#3fff00,#60ff00,#87ff00,#c3ff00,#feff00,#ffc600,#ff8700,#f30,#f00,#f00,#ff0600,#ff2100,#f40,#ff7d00,#ffb600,#fe0,#cf0,#83ff00,#49ff00,#12ff00,#00ff20,#00ff51,#00ff81,#00ffaf,#0fd,#00f5ff,#00d0ff,#00acff,#0091ff,#0076ff,#006bff,#06f,#0065ff,#0065ff,#0065ff,#0064ff,#0064ff,#0064ff,#0064ff,#0064ff,#0064ff,#0064ff,#0064ff,#0064ff,#0064ff,#0064ff,#0064ff,#0064ff,#0064ff,#0064ff,#0064ff,#0064ff,#0064ff,#0064ff,#0064ff,#0064ff)"></i>
<i style="left:16px;width:4.6px;background:linear-gradient(#007dff,#007dff,#007dff,#0081ff,#008aff,#0093ff,#009aff,#00a1ff,#00abff,#00b4ff,#00c7ff,#00dbff,#00f0ff,#00fff6,#00ffd1,#00ffad,#0f8,#00ff62,#00ff3d,#00ff17,#18ff00,#48ff00,#79ff00,#a7ff00,#d6ff00,#fff900,#ffc600,#ff9300,#ff6500,#ff3800,#ff3600,#ff4800,#ff5e00,#ff7400,#ff7e00,#ff8000,#ff7200,#ff6300,#ff4f00,#ff3900,#ff3a00,#ff6500,#ff9300,#ffbc00,#ffe200,#fffd00,#ceff00,#9f0,#61ff00,#27ff00,#00ff13,#00ff4a,#00ff81,#00ffb4,#00ffe7,#00f2ff,#00d9ff,#00c0ff,#0af,#009eff,#0093ff,#0087ff,#007cff,#0086ff,#0095ff,#00a5ff,#00acff,#00a6ff,#00a0ff,#009aff,#0094ff,#0090ff,#008eff,#008cff,#008bff,#008aff,#0089ff,#08f,#0087ff,#0086ff,#0085ff,#0085ff,#0085ff,#0085ff,#0085ff,#0085ff,#0085ff,#0085ff,#0084ff,#0084ff,#0084ff,#0084ff,#0083ff,#0083ff,#0083ff,#0083ff,#0082ff,#0082ff,#0082ff,#0082ff,#0082ff,#0081ff,#0081ff,#0081ff,#0081ff,#0081ff,#0080ff,#0080ff,#007fff,#007dff,#007cff,#007aff,#0079ff,#07f,#0075ff,#0074ff,#0073ff,#0074ff,#0075ff,#0076ff,#0076ff,#07f,#0078ff,#0089ff,#009bff,#00afff,#00cfff,#0ef,#00fff8,#00ffd6,#00ffb4,#00ff93,#00ff6b,#00ff3b,#00ff0b,#1aff00,#3cff00,#5eff00,#83ff00,#beff00,#faff00,#ffca00,#ff8d00,#ff3900,#f00,#ff0100,#ff0400,#ff1f00,#ff3f00,#f70,#ffb000,#ffe900,#d1ff00,#8f0,#4dff00,#15ff00,#00ff1e,#00ff4e,#00ff7e,#00ffac,#00ffdb,#00f7ff,#00d2ff,#00adff,#0092ff,#07f,#006bff,#06f,#0065ff,#0064ff,#0064ff,#0063ff,#0063ff,#0063ff,#0063ff,#0063ff,#0063ff,#0063ff,#0063ff,#0063ff,#0063ff,#0063ff,#0063ff,#0063ff,#0063ff,#0063ff,#0063ff,#0063ff,#0063ff,#0063ff,#0063ff,#0063ff)"></i>
<i style="left:20px;width:4.6px;background:linear-gradient(#007eff,#007eff,#007eff,#0081ff,#008aff,#0092ff,#09f,#009fff,#00a9ff,#00b3ff,#00c6ff,#00daff,#00efff,#00fff7,#00ffd2,#00ffad,#0f8,#00ff62,#00ff3c,#00ff16,#19ff00,#49ff00,#7aff00,#a8ff00,#d7ff00,#fff700,#ffc500,#ff9500,#ff6800,#ff3c00,#ff3500,#ff4600,#ff5b00,#ff7000,#ff7a00,#ff7b00,#ff6e00,#ff6000,#ff4c00,#ff3700,#ff3e00,#ff6700,#ff9400,#ffbd00,#ffe400,#ff0,#caff00,#95ff00,#5dff00,#23ff00,#00ff16,#00ff4d,#00ff83,#00ffb6,#00ffe8,#00f1ff,#00d8ff,#00bfff,#0af,#009eff,#0092ff,#0087ff,#007bff,#0086ff,#0096ff,#00a5ff,#00acff,#00a6ff,#00a1ff,#009bff,#0095ff,#0090ff,#008eff,#008cff,#008bff,#0089ff,#0089ff,#08f,#0087ff,#0086ff,#0086ff,#0086ff,#0085ff,#0085ff,#0085ff,#0085ff,#0085ff,#0085ff,#0084ff,#0084ff,#0084ff,#0083ff,#0083ff,#0082ff,#0082ff,#0082ff,#0082ff,#0081ff,#0081ff,#0081ff,#0080ff,#0080ff,#0080ff,#0080ff,#007fff,#007fff,#007fff,#007eff,#007dff,#007bff,#007aff,#0078ff,#0076ff,#0075ff,#0073ff,#0071ff,#0070ff,#0071ff,#0072ff,#0074ff,#0075ff,#0076ff,#07f,#08f,#009aff,#00adff,#00cdff,#00edff,#00fff9,#00ffd7,#00ffb5,#00ff94,#00ff6d,#00ff3e,#00ff0f,#17ff00,#39ff00,#5bff00,#7eff00,#baff00,#f5ff00,#ffcf00,#ff9400,#ff4000,#ff0100,#ff0100,#ff0200,#ff1d00,#ff3a00,#ff7200,#fa0,#ffe400,#d8ff00,#8eff00,#51ff00,#19ff00,#00ff1b,#00ff4b,#00ff7b,#0fa,#00ffd9,#00f9ff,#00d3ff,#00aeff,#0093ff,#0078ff,#006bff,#06f,#0064ff,#0064ff,#0063ff,#0062ff,#0062ff,#0062ff,#0062ff,#0062ff,#0062ff,#0061ff,#0061ff,#0061ff,#0061ff,#0062ff,#0062ff,#0062ff,#0062ff,#0062ff,#0062ff,#0062ff,#0062ff,#0062ff,#0062ff,#0062ff)"></i>
<i style="left:24px;width:4.6px;background:linear-gradient(#007fff,#007fff,#007fff,#0082ff,#0089ff,#0091ff,#0097ff,#009dff,#00a7ff,#00b1ff,#00c4ff,#00d9ff,#0ef,#00fff8,#00ffd2,#00ffad,#0f8,#00ff62,#00ff3c,#00ff15,#1aff00,#4aff00,#7aff00,#a9ff00,#d9ff00,#fff500,#ffc500,#ff9500,#ff6a00,#ff3f00,#f30,#f40,#ff5700,#ff6d00,#ff7600,#ff7600,#ff6900,#ff5d00,#ff4900,#ff3500,#ff4200,#ff6800,#ff9600,#ffbf00,#ffe500,#fcff00,#c6ff00,#91ff00,#59ff00,#1fff00,#00ff19,#00ff4f,#00ff85,#00ffb7,#00ffe9,#00f1ff,#00d8ff,#00bfff,#0af,#009eff,#0092ff,#0086ff,#007aff,#0086ff,#0096ff,#00a5ff,#00adff,#00a7ff,#00a1ff,#009bff,#0095ff,#0091ff,#008eff,#008cff,#008aff,#0089ff,#0089ff,#08f,#0087ff,#0087ff,#0086ff,#0086ff,#0086ff,#0085ff,#0085ff,#0085ff,#0085ff,#0085ff,#0084ff,#0084ff,#0083ff,#0083ff,#0082ff,#0082ff,#0081ff,#0081ff,#0081ff,#0080ff,#0080ff,#0080ff,#007fff,#007fff,#007fff,#007eff,#007eff,#007dff,#007dff,#007cff,#007bff,#0079ff,#0078ff,#0076ff,#0074ff,#0072ff,#0070ff,#006eff,#006dff,#006fff,#0070ff,#0072ff,#0073ff,#0075ff,#0076ff,#0087ff,#09f,#00acff,#00cbff,#00ebff,#00fffb,#00ffd9,#00ffb7,#00ff95,#00ff70,#00ff41,#00ff13,#14ff00,#36ff00,#58ff00,#7bff00,#b5ff00,#f1ff00,#ffd300,#f90,#ff4600,#ff0100,#ff0100,#ff0200,#ff1a00,#ff3700,#ff6c00,#ffa400,#ffdf00,#deff00,#94ff00,#5f0,#1cff00,#00ff18,#00ff48,#00ff78,#00ffa7,#00ffd6,#00faff,#00d5ff,#00b0ff,#0094ff,#0079ff,#006bff,#06f,#0064ff,#0063ff,#0062ff,#0061ff,#0061ff,#0061ff,#0061ff,#0061ff,#0060ff,#0060ff,#0060ff,#0060ff,#0060ff,#0060ff,#0060ff,#0061ff,#0061ff,#0061ff,#0061ff,#0061ff,#0061ff,#0061ff,#0061ff,#0061ff)"></i>
<i style="left:28px;width:4.6px;background:linear-gradient(#0080ff,#0080ff,#0080ff,#0083ff,#0089ff,#0090ff,#0095ff,#009bff,#00a5ff,#00b0ff,#00c3ff,#00d8ff,#00edff,#00fff9,#00ffd3,#00ffae,#0f8,#00ff62,#00ff3b,#00ff14,#1bff00,#4bff00,#7bff00,#af0,#daff00,#fff400,#ffc400,#ff9600,#ff6c00,#ff4300,#ff3200,#ff4200,#ff5400,#ff6900,#ff7100,#ff7100,#ff6500,#ff5900,#ff4700,#f30,#ff4600,#ff6a00,#ff9700,#ffc000,#ffe600,#f8ff00,#c2ff00,#8dff00,#54ff00,#1bff00,#00ff1d,#00ff52,#00ff87,#00ffb8,#00ffea,#00f1ff,#00d8ff,#00bfff,#0af,#009dff,#0091ff,#0085ff,#007aff,#0087ff,#0096ff,#00a6ff,#00adff,#00a7ff,#00a1ff,#009cff,#0096ff,#0091ff,#008fff,#008dff,#008aff,#0089ff,#0089ff,#08f,#0087ff,#0087ff,#0086ff,#0086ff,#0086ff,#0086ff,#0085ff,#0085ff,#0085ff,#0085ff,#0084ff,#0083ff,#0083ff,#0082ff,#0082ff,#0081ff,#0081ff,#0080ff,#0080ff,#007fff,#007fff,#007fff,#007eff,#007eff,#007dff,#007dff,#007cff,#007cff,#007bff,#007aff,#0079ff,#0078ff,#0076ff,#0074ff,#0072ff,#006fff,#006dff,#006bff,#006aff,#006cff,#006eff,#0070ff,#0072ff,#0074ff,#0075ff,#0085ff,#0098ff,#0af,#00c9ff,#00e9ff,#00fffc,#00ffda,#00ffb8,#00ff96,#00ff72,#00ff45,#00ff17,#1f0,#3f0,#5f0,#78ff00,#b1ff00,#ecff00,#ffd800,#ff9e00,#ff4c00,#ff0200,#ff0100,#ff0300,#ff1800,#ff3500,#ff6700,#ff9d00,#ffd900,#e4ff00,#9f0,#59ff00,#20ff00,#00ff15,#00ff45,#00ff76,#00ffa5,#00ffd4,#00fcff,#00d6ff,#00b1ff,#0095ff,#007aff,#006bff,#0065ff,#0063ff,#0062ff,#0061ff,#0060ff,#0060ff,#0060ff,#0060ff,#005fff,#005fff,#005fff,#005fff,#005fff,#005fff,#005fff,#005fff,#0060ff,#0060ff,#0060ff,#0060ff,#0060ff,#0060ff,#0060ff,#0060ff,#0060ff)"></i>
<i style="left:32px;width:4.6px;background:linear-gradient(#0081ff,#0081ff,#0081ff,#0083ff,#0089ff,#008fff,#0094ff,#09f,#00a4ff,#00afff,#00c1ff,#00d6ff,#00ecff,#00fffa,#00ffd4,#00ffae,#00ff89,#00ff62,#00ff3a,#00ff13,#1cff00,#4cff00,#7bff00,#abff00,#dcff00,#fff300,#ffc400,#ff9700,#ff6e00,#ff4600,#ff3000,#ff4000,#ff5100,#ff6500,#ff6d00,#ff6c00,#ff6100,#ff5600,#f40,#ff3200,#ff4900,#ff6c00,#ff9800,#ffc200,#ffe800,#f4ff00,#beff00,#89ff00,#50ff00,#17ff00,#00ff20,#0f5,#00ff89,#00ffba,#00ffeb,#00f0ff,#00d7ff,#00beff,#00a9ff,#009dff,#0091ff,#0085ff,#0079ff,#0087ff,#0097ff,#00a6ff,#00adff,#00a8ff,#00a2ff,#009cff,#0096ff,#0091ff,#008fff,#008dff,#008aff,#0089ff,#08f,#08f,#08f,#0087ff,#0087ff,#0086ff,#0086ff,#0086ff,#0086ff,#0085ff,#0085ff,#0085ff,#0084ff,#0083ff,#0083ff,#0082ff,#0081ff,#0080ff,#0080ff,#007fff,#007fff,#007eff,#007eff,#007dff,#007dff,#007cff,#007cff,#007bff,#007bff,#007aff,#007aff,#0079ff,#07f,#0076ff,#0074ff,#0072ff,#006fff,#006dff,#006aff,#0068ff,#0067ff,#0069ff,#006cff,#006eff,#0070ff,#0072ff,#0074ff,#0084ff,#0096ff,#00a9ff,#00c7ff,#00e8ff,#00fffe,#00ffdb,#00ffb9,#00ff97,#00ff74,#00ff48,#00ff1b,#0eff00,#30ff00,#53ff00,#75ff00,#acff00,#e8ff00,#ffdc00,#ffa300,#ff5200,#ff0700,#ff0100,#ff0300,#ff1600,#ff3200,#ff6200,#ff9700,#ffd300,#eaff00,#9fff00,#5dff00,#24ff00,#00ff12,#00ff43,#00ff73,#00ffa2,#00ffd2,#00feff,#00d8ff,#00b2ff,#0095ff,#007aff,#006bff,#0065ff,#0063ff,#0062ff,#0061ff,#005fff,#005fff,#005fff,#005eff,#005eff,#005eff,#005eff,#005dff,#005dff,#005dff,#005eff,#005eff,#005eff,#005fff,#005fff,#005fff,#005fff,#005fff,#005fff,#005fff,#005fff)"></i>
<i style="left:36px;width:4.6px;background:linear-gradient(#0082ff,#0082ff,#0082ff,#0084ff,#0089ff,#008eff,#0092ff,#0096ff,#00a2ff,#00adff,#00bfff,#00d5ff,#00ebff,#00fffb,#00ffd5,#00ffaf,#00ff89,#00ff61,#00ff3a,#00ff12,#1dff00,#4cff00,#7cff00,#acff00,#df0,#fff100,#ffc400,#ff9800,#ff7000,#ff4900,#ff2f00,#ff3e00,#ff4e00,#ff6100,#ff6800,#ff6800,#ff5d00,#ff5300,#ff4200,#ff3100,#ff4c00,#ff6e00,#ff9a00,#ffc400,#ffea00,#f0ff00,#baff00,#85ff00,#4cff00,#13ff00,#00ff23,#00ff57,#00ff8b,#0fb,#00ffeb,#00f0ff,#00d7ff,#00beff,#00a9ff,#009cff,#0090ff,#0084ff,#0078ff,#0087ff,#0097ff,#00a7ff,#00aeff,#00a8ff,#00a2ff,#009cff,#0097ff,#0092ff,#008fff,#008dff,#008aff,#0089ff,#08f,#08f,#08f,#0087ff,#0087ff,#0087ff,#0086ff,#0086ff,#0086ff,#0085ff,#0085ff,#0085ff,#0084ff,#0083ff,#0082ff,#0081ff,#0081ff,#0080ff,#007fff,#007fff,#007eff,#007dff,#007dff,#007cff,#007cff,#007bff,#007bff,#007aff,#0079ff,#0079ff,#0078ff,#07f,#0075ff,#0074ff,#0072ff,#0070ff,#006dff,#006aff,#0067ff,#0065ff,#0064ff,#0067ff,#0069ff,#006cff,#006fff,#0071ff,#0073ff,#0083ff,#0095ff,#00a8ff,#00c5ff,#00e6ff,#0ff,#0fd,#00ffba,#00ff98,#00ff76,#00ff4b,#00ff1f,#0bff00,#2dff00,#50ff00,#72ff00,#a8ff00,#e3ff00,#ffe000,#ffa700,#ff5900,#ff0d00,#ff0100,#ff0300,#ff1300,#ff3000,#ff5d00,#ff9100,#ffce00,#f0ff00,#a5ff00,#62ff00,#28ff00,#00ff0f,#00ff40,#00ff70,#00ffa0,#00ffcf,#0ff,#00daff,#00b4ff,#0096ff,#007bff,#006bff,#0065ff,#0063ff,#0061ff,#0060ff,#005eff,#005eff,#005eff,#005dff,#005dff,#005dff,#005cff,#005cff,#005cff,#005cff,#005cff,#005dff,#005dff,#005dff,#005eff,#005eff,#005eff,#005eff,#005eff,#005eff,#005eff)"></i>
<i style="left:40px;width:4.6px;background:linear-gradient(#0083ff,#0083ff,#0083ff,#0084ff,#0089ff,#008dff,#0091ff,#0094ff,#00a0ff,#00acff,#00beff,#00d3ff,#00eaff,#00fffc,#00ffd6,#00ffaf,#00ff89,#00ff61,#00ff39,#00ff12,#1eff00,#4dff00,#7dff00,#adff00,#dfff00,#fff000,#ffc300,#f90,#ff7100,#ff4c00,#ff2e00,#ff3c00,#ff4b00,#ff5d00,#ff6400,#ff6300,#ff5900,#ff4f00,#ff3f00,#ff3000,#ff4e00,#ff7000,#ff9b00,#ffc600,#ffeb00,#ecff00,#b6ff00,#81ff00,#48ff00,#0fff00,#00ff26,#00ff5a,#00ff8d,#00ffbc,#00ffec,#00f0ff,#00d7ff,#00beff,#00a9ff,#009cff,#0090ff,#0084ff,#07f,#0087ff,#0097ff,#00a7ff,#00aeff,#00a8ff,#00a3ff,#009dff,#0097ff,#0092ff,#0090ff,#008dff,#008aff,#0089ff,#08f,#08f,#08f,#08f,#0087ff,#0087ff,#0087ff,#0086ff,#0086ff,#0085ff,#0085ff,#0085ff,#0084ff,#0083ff,#0082ff,#0081ff,#0080ff,#007fff,#007eff,#007eff,#007dff,#007cff,#007cff,#007bff,#007bff,#007aff,#0079ff,#0079ff,#0078ff,#07f,#0076ff,#0075ff,#0073ff,#0072ff,#0070ff,#006dff,#006aff,#0067ff,#0064ff,#0062ff,#0061ff,#0064ff,#0067ff,#006aff,#006dff,#0070ff,#0073ff,#0081ff,#0094ff,#00a6ff,#00c3ff,#00e5ff,#00feff,#00ffde,#00ffbc,#0f9,#00ff79,#00ff4d,#0f2,#07ff00,#2aff00,#4dff00,#70ff00,#a3ff00,#dfff00,#ffe500,#ffab00,#ff5f00,#ff1300,#ff0100,#ff0400,#f10,#ff2e00,#ff5800,#ff8c00,#ffc800,#f6ff00,#abff00,#6f0,#2bff00,#00ff0c,#00ff3d,#00ff6d,#00ff9d,#00ffcd,#00fffd,#00dbff,#00b5ff,#0097ff,#007cff,#006bff,#0065ff,#0062ff,#0061ff,#005fff,#005dff,#005dff,#005cff,#005cff,#005cff,#005bff,#005bff,#005bff,#005aff,#005bff,#005bff,#005cff,#005cff,#005cff,#005dff,#005dff,#005dff,#005dff,#005dff,#005dff,#005dff)"></i>
<i style="left:44px;width:4.6px;background:linear-gradient(#0084ff,#0084ff,#0084ff,#0085ff,#0089ff,#008cff,#008fff,#0092ff,#009eff,#0af,#00bcff,#00d2ff,#00e9ff,#00fffd,#00ffd6,#00ffb0,#00ff89,#00ff61,#00ff39,#0f1,#1eff00,#4eff00,#7dff00,#aeff00,#e0ff00,#ffef00,#ffc300,#f90,#ff7300,#ff4e00,#ff2d00,#ff3a00,#ff4900,#ff5900,#ff5f00,#ff5e00,#ff5600,#ff4c00,#ff3d00,#ff3100,#ff5100,#ff7100,#ff9c00,#ffc800,#ffed00,#e8ff00,#b2ff00,#7cff00,#4f0,#0bff00,#00ff29,#00ff5c,#00ff8f,#00ffbe,#00ffed,#00f0ff,#00d6ff,#00bdff,#00a8ff,#009bff,#008fff,#0083ff,#0078ff,#08f,#0098ff,#00a8ff,#00aeff,#00a9ff,#00a3ff,#009dff,#0098ff,#0093ff,#0090ff,#008dff,#008aff,#0089ff,#08f,#08f,#08f,#08f,#08f,#0087ff,#0087ff,#0086ff,#0086ff,#0086ff,#0085ff,#0085ff,#0084ff,#0083ff,#0082ff,#0081ff,#0080ff,#007fff,#007eff,#007dff,#007cff,#007cff,#007bff,#007aff,#0079ff,#0079ff,#0078ff,#07f,#0076ff,#0075ff,#0074ff,#0073ff,#0072ff,#0070ff,#006eff,#006bff,#0068ff,#0065ff,#0062ff,#005eff,#005eff,#0062ff,#0065ff,#0068ff,#006bff,#006eff,#0072ff,#0080ff,#0093ff,#00a5ff,#00c1ff,#00e3ff,#00fdff,#00ffe0,#00ffbd,#00ff9a,#00ff7a,#00ff50,#00ff25,#04ff00,#27ff00,#4aff00,#6dff00,#9fff00,#daff00,#ffe900,#ffb000,#f60,#ff1900,#ff0100,#ff0400,#ff0f00,#ff2c00,#ff5300,#ff8600,#ffc100,#fdff00,#b1ff00,#6aff00,#2fff00,#00ff0a,#00ff3a,#00ff6b,#00ff9b,#00ffcb,#00fffa,#0df,#00b7ff,#0098ff,#007dff,#006bff,#0065ff,#0062ff,#0060ff,#005eff,#005dff,#005cff,#005bff,#005bff,#005aff,#005aff,#005aff,#0059ff,#0059ff,#0059ff,#005aff,#005aff,#005bff,#005bff,#005cff,#005cff,#005cff,#005cff,#005cff,#005cff,#005cff)"></i>
<i style="left:48px;width:4.6px;background:linear-gradient(#0085ff,#0085ff,#0085ff,#0086ff,#0089ff,#008bff,#008dff,#008fff,#009cff,#00a9ff,#0bf,#00d1ff,#00e8ff,#00fffe,#00ffd7,#00ffb0,#00ff8a,#00ff61,#00ff38,#00ff10,#1fff00,#4fff00,#7eff00,#afff00,#e2ff00,#ffed00,#ffc200,#ff9a00,#ff7400,#ff5100,#ff2e00,#ff3800,#ff4600,#ff5600,#ff5b00,#ff5900,#ff5200,#ff4900,#ff3c00,#ff3400,#ff5300,#ff7300,#ff9e00,#ffc900,#ffef00,#e4ff00,#aeff00,#78ff00,#40ff00,#07ff00,#00ff2c,#00ff5f,#00ff90,#00ffbf,#0fe,#00efff,#00d6ff,#00bdff,#00a8ff,#009bff,#008fff,#0082ff,#0078ff,#08f,#0098ff,#00a8ff,#00afff,#00a9ff,#00a3ff,#009eff,#0098ff,#0093ff,#0090ff,#008dff,#008aff,#08f,#08f,#08f,#08f,#08f,#08f,#08f,#0087ff,#0087ff,#0086ff,#0086ff,#0085ff,#0085ff,#0084ff,#0082ff,#0081ff,#0080ff,#007fff,#007eff,#007dff,#007cff,#007bff,#007bff,#007aff,#0079ff,#0078ff,#07f,#07f,#0076ff,#0075ff,#0074ff,#0073ff,#0071ff,#0070ff,#006eff,#006cff,#0069ff,#0065ff,#0062ff,#005fff,#005bff,#005cff,#005fff,#0063ff,#06f,#006aff,#006dff,#0071ff,#007fff,#0091ff,#00a4ff,#00bfff,#00e1ff,#00fbff,#00ffe1,#00ffbe,#00ff9c,#00ff7b,#00ff53,#00ff29,#01ff00,#24ff00,#47ff00,#6aff00,#9aff00,#d6ff00,#ffed00,#ffb400,#ff6c00,#ff1e00,#ff0100,#ff0400,#ff0d00,#ff2a00,#ff4f00,#ff8100,#fb0,#fffb00,#b7ff00,#6eff00,#3f0,#00ff07,#00ff37,#00ff68,#00ff98,#00ffc8,#00fff8,#00deff,#00b8ff,#09f,#007eff,#006bff,#0065ff,#0061ff,#005fff,#005eff,#005cff,#005bff,#005aff,#005aff,#0059ff,#0059ff,#0058ff,#0058ff,#0058ff,#0058ff,#0059ff,#0059ff,#005aff,#005aff,#005bff,#005bff,#005bff,#005bff,#005bff,#005bff,#005bff)"></i>
<i style="left:52px;width:4.6px;background:linear-gradient(#0086ff,#0086ff,#0086ff,#0086ff,#0089ff,#008bff,#008cff,#008dff,#009aff,#00a7ff,#00b9ff,#00cfff,#00e7ff,#0ff,#00ffd8,#00ffb1,#00ff8a,#00ff61,#00ff38,#00ff0f,#20ff00,#50ff00,#7fff00,#b1ff00,#e3ff00,#ffec00,#ffc200,#ff9b00,#ff7600,#ff5300,#ff3000,#ff3700,#ff4300,#ff5200,#ff5600,#f50,#ff4e00,#ff4600,#ff3a00,#ff3800,#f50,#ff7400,#ff9f00,#ffcb00,#fff100,#e0ff00,#af0,#74ff00,#3bff00,#03ff00,#00ff2f,#00ff61,#00ff92,#00ffc0,#0fe,#00efff,#00d6ff,#00bdff,#00a8ff,#009bff,#008eff,#0082ff,#0078ff,#08f,#0098ff,#00a9ff,#00afff,#00a9ff,#00a4ff,#009eff,#09f,#0094ff,#0090ff,#008dff,#008aff,#08f,#08f,#08f,#08f,#0089ff,#08f,#08f,#0087ff,#0087ff,#0086ff,#0086ff,#0085ff,#0085ff,#0083ff,#0082ff,#0081ff,#0080ff,#007eff,#007dff,#007cff,#007bff,#007aff,#007aff,#0079ff,#0078ff,#07f,#0076ff,#0075ff,#0074ff,#0073ff,#0072ff,#0071ff,#0070ff,#006eff,#006cff,#006aff,#0067ff,#0063ff,#005fff,#005cff,#0058ff,#0059ff,#005dff,#0061ff,#0064ff,#0068ff,#006cff,#0070ff,#007eff,#0090ff,#00a3ff,#00bdff,#00dfff,#00faff,#00ffe3,#00ffc0,#00ff9d,#00ff7d,#0f5,#00ff2c,#00ff03,#21ff00,#4f0,#68ff00,#96ff00,#d1ff00,#fff200,#ffb900,#ff7300,#ff2300,#f00,#ff0400,#ff0b00,#ff2700,#ff4b00,#ff7c00,#ffb400,#fff600,#bdff00,#73ff00,#37ff00,#00ff04,#00ff34,#00ff65,#00ff95,#00ffc6,#00fff6,#00e0ff,#00b9ff,#009aff,#007fff,#006aff,#0065ff,#0061ff,#005fff,#005dff,#005bff,#005aff,#0059ff,#0059ff,#0058ff,#0058ff,#0057ff,#0056ff,#0056ff,#0057ff,#0057ff,#0058ff,#0058ff,#0059ff,#0059ff,#005aff,#005aff,#005aff,#005aff,#005aff,#005aff)"></i>
<i style="left:56px;width:4.6px;background:linear-gradient(#0087ff,#0087ff,#0087ff,#0087ff,#08f,#008aff,#008aff,#008bff,#0098ff,#00a6ff,#00b8ff,#00ceff,#00e6ff,#00feff,#00ffd9,#00ffb1,#00ff8a,#00ff61,#00ff37,#00ff0e,#21ff00,#50ff00,#7fff00,#b2ff00,#e5ff00,#ffeb00,#ffc200,#ff9b00,#f70,#f50,#ff3400,#ff3500,#ff4000,#ff4e00,#ff5200,#ff5000,#ff4b00,#ff4300,#ff3900,#ff3c00,#ff5600,#ff7600,#ffa100,#ffcd00,#fff300,#dcff00,#a6ff00,#70ff00,#37ff00,#00ff01,#00ff32,#00ff63,#00ff94,#00ffc1,#00ffef,#00efff,#00d5ff,#00bcff,#00a7ff,#009aff,#008eff,#0081ff,#0078ff,#08f,#09f,#00a9ff,#00afff,#0af,#00a4ff,#009fff,#09f,#0094ff,#0091ff,#008dff,#0089ff,#08f,#08f,#08f,#0089ff,#0089ff,#0089ff,#08f,#08f,#0087ff,#0086ff,#0086ff,#0085ff,#0085ff,#0083ff,#0082ff,#0081ff,#007fff,#007eff,#007dff,#007bff,#007aff,#007aff,#0079ff,#0078ff,#07f,#0076ff,#0075ff,#0074ff,#0073ff,#0072ff,#0071ff,#006fff,#006eff,#006cff,#006aff,#0068ff,#0064ff,#0061ff,#005dff,#0059ff,#05f,#0056ff,#005aff,#005eff,#0063ff,#0067ff,#006bff,#006fff,#007cff,#008fff,#00a2ff,#0bf,#00dcff,#00f9ff,#00ffe4,#00ffc1,#00ff9e,#00ff7e,#00ff57,#00ff2f,#00ff06,#1eff00,#41ff00,#65ff00,#91ff00,#cdff00,#fff600,#ffbd00,#ff7900,#ff2700,#f00,#ff0400,#ff0a00,#ff2500,#ff4600,#f70,#ffae00,#fff000,#c3ff00,#7f0,#3bff00,#00ff01,#00ff32,#00ff62,#00ff93,#00ffc3,#00fff4,#00e1ff,#0bf,#009bff,#0080ff,#006aff,#0065ff,#0061ff,#005eff,#005cff,#005aff,#0059ff,#0058ff,#0057ff,#0057ff,#0056ff,#0056ff,#05f,#05f,#05f,#0056ff,#0057ff,#0057ff,#0058ff,#0058ff,#0059ff,#0059ff,#0059ff,#0059ff,#0059ff,#0059ff)"></i>
<i style="left:60px;width:4.6px;background:linear-gradient(#08f,#08f,#08f,#08f,#08f,#0089ff,#0089ff,#0089ff,#0096ff,#00a4ff,#00b6ff,#0cf,#00e5ff,#00fdff,#00ffda,#00ffb2,#00ff8a,#00ff60,#00ff37,#00ff0d,#2f0,#51ff00,#80ff00,#b3ff00,#e6ff00,#ffea00,#ffc100,#ff9c00,#ff7800,#ff5800,#ff3700,#ff3400,#ff3e00,#ff4a00,#ff4d00,#ff4c00,#ff4800,#ff4100,#ff3800,#ff3f00,#ff5800,#ff7800,#ffa200,#ffcf00,#fff500,#d8ff00,#a2ff00,#6bff00,#3f0,#00ff04,#00ff35,#0f6,#00ff95,#00ffc3,#00fff0,#0ef,#00d5ff,#00bcff,#00a7ff,#009aff,#008dff,#0080ff,#0078ff,#0089ff,#09f,#0af,#00afff,#0af,#00a5ff,#009fff,#009aff,#0095ff,#0091ff,#008dff,#0089ff,#08f,#08f,#0089ff,#0089ff,#0089ff,#0089ff,#08f,#08f,#0087ff,#0087ff,#0086ff,#0085ff,#0085ff,#0083ff,#0082ff,#0080ff,#007fff,#007dff,#007cff,#007bff,#007aff,#0079ff,#0078ff,#07f,#0076ff,#0075ff,#0074ff,#0073ff,#0071ff,#0070ff,#006fff,#006eff,#006cff,#006aff,#0068ff,#06f,#0062ff,#005eff,#005aff,#0056ff,#0052ff,#0053ff,#0058ff,#005cff,#0061ff,#0065ff,#0069ff,#006eff,#007bff,#008eff,#00a0ff,#00b9ff,#00daff,#00f7ff,#00ffe6,#00ffc3,#00ff9f,#00ff7f,#00ff5a,#00ff32,#00ff0a,#1bff00,#3eff00,#62ff00,#8dff00,#c8ff00,#fffa00,#ffc100,#ff8000,#ff2b00,#ff0100,#ff0400,#ff0900,#ff2300,#ff4200,#ff7300,#ffa700,#ffea00,#caff00,#7cff00,#3fff00,#02ff00,#00ff2f,#00ff5f,#00ff90,#00ffc1,#00fff2,#00e3ff,#00bcff,#009bff,#0080ff,#006aff,#0065ff,#0060ff,#005eff,#005bff,#0059ff,#0058ff,#0057ff,#0056ff,#0056ff,#05f,#0054ff,#0054ff,#0053ff,#0054ff,#05f,#05f,#0056ff,#0057ff,#0057ff,#0058ff,#0058ff,#0058ff,#0058ff,#0058ff,#0058ff)"></i>
<i style="left:64px;width:4.6px;background:linear-gradient(#0089ff,#0089ff,#0089ff,#08f,#08f,#08f,#0087ff,#0086ff,#0094ff,#00a2ff,#00b4ff,#00cbff,#00e4ff,#00fdff,#00ffdb,#00ffb3,#00ff8b,#00ff60,#00ff36,#00ff0c,#23ff00,#52ff00,#80ff00,#b4ff00,#e8ff00,#ffe900,#ffc100,#ff9c00,#ff7a00,#ff5a00,#ff3a00,#f30,#ff3c00,#ff4700,#ff4900,#ff4800,#ff4500,#ff3f00,#ff3700,#ff4300,#ff5900,#ff7900,#ffa400,#ffd100,#fff800,#d4ff00,#9eff00,#67ff00,#2fff00,#00ff07,#00ff38,#00ff68,#00ff97,#00ffc4,#00fff1,#0ef,#00d5ff,#00bcff,#00a6ff,#09f,#008cff,#0080ff,#0079ff,#0089ff,#009aff,#0af,#00b0ff,#0af,#00a5ff,#00a0ff,#009aff,#0095ff,#0091ff,#008dff,#0089ff,#08f,#08f,#0089ff,#0089ff,#0089ff,#0089ff,#0089ff,#08f,#0087ff,#0087ff,#0086ff,#0085ff,#0085ff,#0083ff,#0082ff,#0080ff,#007eff,#007dff,#007bff,#007aff,#0079ff,#0078ff,#07f,#0076ff,#0074ff,#0073ff,#0072ff,#0071ff,#0070ff,#006fff,#006dff,#006cff,#006aff,#0068ff,#06f,#0064ff,#0060ff,#005cff,#0057ff,#0053ff,#004fff,#0050ff,#05f,#005aff,#005fff,#0064ff,#0068ff,#006dff,#007aff,#008cff,#009fff,#00b8ff,#00d8ff,#00f6ff,#00ffe7,#00ffc4,#00ffa1,#00ff80,#00ff5c,#00ff35,#00ff0d,#18ff00,#3bff00,#5fff00,#8f0,#c4ff00,#ff0,#ffc600,#ff8600,#ff3100,#ff0200,#ff0400,#ff0800,#ff2000,#ff3f00,#ff6e00,#ffa000,#ffe400,#d0ff00,#82ff00,#43ff00,#06ff00,#00ff2c,#00ff5d,#00ff8d,#00ffbe,#00ffef,#00e5ff,#00beff,#009cff,#0081ff,#006aff,#0065ff,#0060ff,#005dff,#005bff,#0058ff,#0057ff,#0056ff,#05f,#05f,#0054ff,#0053ff,#0053ff,#0052ff,#0053ff,#0053ff,#0054ff,#05f,#05f,#0056ff,#0057ff,#0057ff,#0057ff,#0057ff,#0057ff,#0057ff)"></i>
<i style="left:68px;width:4.6px;background:linear-gradient(#008aff,#008aff,#008aff,#0089ff,#08f,#0087ff,#0086ff,#0084ff,#0092ff,#00a1ff,#00b3ff,#00c9ff,#00e3ff,#00fcff,#00ffdc,#00ffb3,#00ff8b,#00ff60,#00ff36,#00ff0b,#24ff00,#53ff00,#81ff00,#b5ff00,#eaff00,#ffe800,#ffc100,#ff9d00,#ff7b00,#ff5c00,#ff3c00,#ff3200,#ff3900,#ff4300,#f40,#ff4300,#ff4100,#ff3d00,#ff3600,#ff4600,#ff5a00,#ff7a00,#ffa500,#ffd300,#fffa00,#d0ff00,#9aff00,#63ff00,#2bff00,#00ff0a,#00ff3a,#00ff6a,#00ff98,#00ffc5,#00fff1,#0ef,#00d4ff,#0bf,#00a6ff,#09f,#008cff,#007fff,#0079ff,#0089ff,#009aff,#00abff,#00b0ff,#00abff,#00a5ff,#00a0ff,#009bff,#0095ff,#0091ff,#008dff,#0089ff,#08f,#08f,#0089ff,#0089ff,#008aff,#008aff,#0089ff,#08f,#08f,#0087ff,#0086ff,#0085ff,#0085ff,#0083ff,#0081ff,#0080ff,#007eff,#007cff,#007bff,#0079ff,#0078ff,#07f,#0076ff,#0074ff,#0073ff,#0072ff,#0071ff,#0070ff,#006fff,#006dff,#006cff,#006aff,#0068ff,#06f,#0064ff,#0062ff,#005dff,#0059ff,#05f,#0050ff,#004cff,#004eff,#0053ff,#0058ff,#005dff,#0062ff,#0067ff,#006cff,#0078ff,#008bff,#009eff,#00b6ff,#00d6ff,#00f4ff,#00ffe9,#00ffc5,#00ffa2,#00ff81,#00ff5e,#00ff37,#0f1,#14ff00,#38ff00,#5cff00,#84ff00,#bfff00,#fbff00,#ffca00,#ff8d00,#ff3700,#ff0300,#ff0400,#ff0800,#ff1e00,#ff3d00,#ff6900,#ff9800,#ffde00,#d6ff00,#8f0,#48ff00,#0aff00,#00ff29,#00ff5a,#00ff8b,#00ffbc,#00ffed,#00e6ff,#00bfff,#009dff,#0082ff,#006aff,#0064ff,#0060ff,#005dff,#005aff,#0057ff,#0056ff,#05f,#0054ff,#0053ff,#0053ff,#0052ff,#0051ff,#0051ff,#0051ff,#0052ff,#0053ff,#0054ff,#0054ff,#05f,#0056ff,#0056ff,#0056ff,#0056ff,#0056ff,#0056ff)"></i>
<i style="left:72px;width:4.6px;background:linear-gradient(#008cff,#008cff,#008cff,#008aff,#08f,#0087ff,#0085ff,#0082ff,#0090ff,#009fff,#00b1ff,#00c8ff,#00e1ff,#00fbff,#00ffdc,#00ffb4,#00ff8b,#00ff60,#00ff35,#00ff0a,#25ff00,#53ff00,#82ff00,#b7ff00,#ebff00,#ffe700,#ffc000,#ff9d00,#ff7c00,#ff5d00,#ff3f00,#ff3100,#ff3700,#ff3f00,#ff4000,#ff3f00,#ff3f00,#ff3b00,#ff3600,#ff4900,#ff5b00,#ff7c00,#ffa700,#ffd600,#fffd00,#cf0,#96ff00,#5fff00,#28ff00,#00ff0d,#00ff3d,#00ff6c,#00ff9a,#00ffc6,#00fff2,#00edff,#00d4ff,#0bf,#00a5ff,#0098ff,#008bff,#007eff,#0079ff,#008aff,#009aff,#00abff,#00b0ff,#00abff,#00a6ff,#00a1ff,#009bff,#0096ff,#0091ff,#008dff,#0089ff,#08f,#08f,#0089ff,#0089ff,#008aff,#008aff,#0089ff,#08f,#08f,#0087ff,#0086ff,#0085ff,#0085ff,#0083ff,#0081ff,#007fff,#007dff,#007cff,#007aff,#0078ff,#07f,#0076ff,#0075ff,#0073ff,#0072ff,#0071ff,#0070ff,#006eff,#006dff,#006bff,#006aff,#0068ff,#06f,#0064ff,#0062ff,#0060ff,#005bff,#0057ff,#0052ff,#004dff,#0048ff,#004bff,#0050ff,#0056ff,#005bff,#0060ff,#06f,#006bff,#07f,#008aff,#009dff,#00b4ff,#00d4ff,#00f3ff,#00ffea,#00ffc7,#00ffa3,#00ff82,#00ff60,#00ff3a,#00ff14,#1f0,#35ff00,#5aff00,#80ff00,#bf0,#f6ff00,#ffce00,#ff9300,#ff3d00,#ff0500,#ff0300,#ff0800,#ff1b00,#ff3b00,#ff6500,#ff9300,#ffd700,#df0,#8eff00,#4cff00,#0eff00,#00ff26,#00ff57,#0f8,#00ffb9,#00ffeb,#00e8ff,#00c1ff,#009eff,#0083ff,#006aff,#0064ff,#0060ff,#005dff,#0059ff,#0056ff,#0054ff,#0054ff,#0053ff,#0052ff,#0051ff,#0051ff,#0050ff,#004fff,#0050ff,#0051ff,#0052ff,#0052ff,#0053ff,#0054ff,#05f,#05f,#05f,#05f,#05f,#05f)"></i>
<i style="left:76px;width:4.6px;background:linear-gradient(#008dff,#008dff,#008dff,#008bff,#08f,#0086ff,#0083ff,#0080ff,#008eff,#009eff,#00b0ff,#00c6ff,#00e0ff,#00faff,#0fd,#00ffb4,#00ff8b,#00ff60,#00ff34,#00ff09,#26ff00,#54ff00,#83ff00,#b8ff00,#edff00,#ffe600,#ffc000,#ff9e00,#ff7d00,#ff5f00,#ff4200,#ff3100,#ff3500,#ff3c00,#ff3b00,#ff3b00,#ff3c00,#ff3900,#ff3600,#ff4b00,#ff5c00,#ff7d00,#ffa800,#ffd800,#feff00,#c8ff00,#91ff00,#5bff00,#24ff00,#0f1,#00ff3f,#00ff6e,#00ff9c,#00ffc7,#00fff3,#00edff,#00d4ff,#0bf,#00a5ff,#0098ff,#008bff,#007eff,#0079ff,#008aff,#009bff,#00acff,#00b1ff,#00abff,#00a6ff,#00a1ff,#009cff,#0096ff,#0092ff,#008dff,#0089ff,#0087ff,#08f,#0089ff,#0089ff,#008aff,#008aff,#008aff,#0089ff,#08f,#0087ff,#0086ff,#0085ff,#0085ff,#0083ff,#0081ff,#007fff,#007dff,#007bff,#0079ff,#0078ff,#0076ff,#0075ff,#0074ff,#0072ff,#0071ff,#0070ff,#006eff,#006dff,#006cff,#006aff,#0068ff,#0067ff,#0065ff,#0063ff,#0060ff,#005eff,#0059ff,#0054ff,#004fff,#004aff,#0045ff,#0048ff,#004eff,#0054ff,#0059ff,#005fff,#0064ff,#006aff,#0076ff,#0089ff,#009cff,#00b2ff,#00d2ff,#00f1ff,#00ffec,#00ffc8,#00ffa5,#00ff83,#00ff61,#00ff3c,#00ff17,#0eff00,#32ff00,#57ff00,#7cff00,#b6ff00,#f2ff00,#ffd300,#f90,#f40,#ff0800,#ff0300,#ff0800,#ff1900,#ff3800,#ff6100,#ff8e00,#ffd000,#e3ff00,#94ff00,#50ff00,#12ff00,#00ff23,#00ff54,#00ff85,#00ffb7,#00ffe8,#00eaff,#00c2ff,#009fff,#0084ff,#006aff,#0064ff,#005fff,#005cff,#0059ff,#0056ff,#0053ff,#0053ff,#0052ff,#0051ff,#0050ff,#004fff,#004fff,#004eff,#004fff,#0050ff,#0050ff,#0051ff,#0052ff,#0053ff,#0054ff,#0054ff,#0054ff,#0054ff,#0054ff,#0054ff)"></i>
<i style="left:80px;width:4.6px;background:linear-gradient(#008eff,#008eff,#008eff,#008bff,#08f,#0085ff,#0082ff,#007eff,#008cff,#009cff,#00aeff,#00c5ff,#00dfff,#00f9ff,#00ffde,#00ffb5,#00ff8c,#00ff60,#00ff34,#00ff08,#26ff00,#5f0,#83ff00,#b9ff00,#efff00,#ffe500,#ffbf00,#ff9e00,#ff7e00,#ff6100,#f40,#ff3000,#f30,#ff3800,#ff3600,#ff3700,#ff3900,#ff3800,#ff3600,#ff4d00,#ff5d00,#ff7f00,#fa0,#ffda00,#faff00,#c4ff00,#8dff00,#57ff00,#20ff00,#00ff14,#00ff42,#00ff70,#00ff9d,#00ffc8,#00fff3,#00edff,#00d3ff,#00baff,#00a4ff,#0097ff,#008aff,#007dff,#0079ff,#008aff,#009bff,#00acff,#00b1ff,#00acff,#00a7ff,#00a2ff,#009cff,#0097ff,#0092ff,#008dff,#0089ff,#0087ff,#08f,#0089ff,#008aff,#008aff,#008bff,#008aff,#0089ff,#08f,#0087ff,#0086ff,#0085ff,#0085ff,#0083ff,#0081ff,#007fff,#007dff,#007bff,#0079ff,#07f,#0076ff,#0074ff,#0073ff,#0071ff,#0070ff,#006fff,#006dff,#006cff,#006aff,#0068ff,#0067ff,#0065ff,#0063ff,#0061ff,#005eff,#005cff,#0057ff,#0051ff,#004cff,#0047ff,#0042ff,#0045ff,#004bff,#0051ff,#0057ff,#005dff,#0063ff,#0069ff,#0074ff,#0087ff,#009aff,#00b1ff,#00d0ff,#00f0ff,#00ffed,#00ffca,#00ffa6,#00ff84,#00ff63,#00ff3f,#00ff1a,#0bff00,#2fff00,#54ff00,#78ff00,#b2ff00,#edff00,#ffd700,#ff9e00,#ff4a00,#ff0c00,#ff0300,#ff0800,#ff1600,#ff3600,#ff5d00,#ff8a00,#ffc900,#eaff00,#9aff00,#5f0,#16ff00,#00ff20,#00ff51,#00ff82,#00ffb4,#00ffe6,#00ebff,#00c4ff,#00a0ff,#0085ff,#006aff,#0064ff,#005fff,#005cff,#0058ff,#05f,#0052ff,#0052ff,#0051ff,#0050ff,#004fff,#004eff,#004dff,#004dff,#004dff,#004eff,#004fff,#0050ff,#0051ff,#0052ff,#0053ff,#0053ff,#0053ff,#0053ff,#0053ff,#0053ff)"></i>
<i style="left:84px;width:4.6px;background:linear-gradient(#008fff,#008fff,#008fff,#008cff,#08f,#0084ff,#0080ff,#007cff,#008aff,#009aff,#00adff,#00c3ff,#00deff,#00f9ff,#00ffdf,#00ffb6,#00ff8c,#00ff60,#0f3,#00ff07,#27ff00,#56ff00,#84ff00,#bf0,#f1ff00,#ffe400,#ffbf00,#ff9e00,#ff7f00,#ff6200,#ff4600,#ff3000,#ff3100,#ff3500,#ff3100,#ff3400,#ff3700,#ff3700,#ff3700,#ff4f00,#ff5d00,#ff8000,#ffac00,#ffdc00,#f6ff00,#c0ff00,#89ff00,#53ff00,#1cff00,#00ff16,#0f4,#00ff72,#00ff9e,#00ffc9,#00fff4,#00ecff,#00d3ff,#00baff,#00a4ff,#0097ff,#008aff,#007cff,#007aff,#008bff,#009cff,#00adff,#00b1ff,#00acff,#00a7ff,#00a2ff,#009dff,#0097ff,#0092ff,#008dff,#08f,#0087ff,#08f,#0089ff,#008aff,#008bff,#008bff,#008aff,#0089ff,#08f,#0087ff,#0086ff,#0086ff,#0085ff,#0082ff,#0080ff,#007eff,#007cff,#007aff,#0078ff,#0076ff,#0075ff,#0073ff,#0072ff,#0070ff,#006fff,#006dff,#006cff,#006aff,#0069ff,#0067ff,#0065ff,#0063ff,#0061ff,#005fff,#005dff,#005aff,#0054ff,#004fff,#004aff,#04f,#003fff,#0043ff,#0049ff,#004fff,#0056ff,#005cff,#0062ff,#0068ff,#0073ff,#0086ff,#09f,#00afff,#00ceff,#0ef,#00ffef,#00ffcb,#00ffa7,#00ff85,#00ff65,#00ff41,#00ff1d,#07ff00,#2cff00,#51ff00,#75ff00,#adff00,#e9ff00,#ffdb00,#ffa200,#ff5100,#ff1000,#ff0200,#ff0800,#ff1300,#f30,#ff5900,#ff8500,#ffc200,#f0ff00,#a1ff00,#59ff00,#19ff00,#00ff1d,#00ff4f,#00ff80,#00ffb1,#00ffe4,#00edff,#00c6ff,#00a1ff,#0086ff,#006bff,#0064ff,#005fff,#005bff,#0058ff,#0054ff,#0051ff,#0050ff,#0050ff,#004fff,#004eff,#004dff,#004cff,#004bff,#004cff,#004dff,#004eff,#004fff,#0050ff,#0051ff,#0052ff,#0052ff,#0052ff,#0052ff,#0052ff,#0052ff)"></i>
<i style="left:88px;width:4.6px;background:linear-gradient(#0090ff,#0090ff,#0090ff,#008dff,#08f,#0084ff,#007fff,#007aff,#08f,#09f,#00abff,#00c2ff,#0df,#00f8ff,#00ffe0,#00ffb6,#00ff8c,#00ff60,#0f3,#00ff06,#28ff00,#56ff00,#85ff00,#bcff00,#f3ff00,#ffe300,#ffbf00,#ff9f00,#ff8000,#ff6400,#ff4800,#ff3000,#ff3000,#ff3100,#ff2d00,#ff3000,#ff3400,#ff3600,#ff3a00,#ff5000,#ff5e00,#ff8100,#ffad00,#ffde00,#f2ff00,#bf0,#85ff00,#4fff00,#18ff00,#00ff19,#00ff47,#00ff74,#00ffa0,#00ffca,#00fff5,#00ecff,#00d3ff,#00baff,#00a4ff,#0096ff,#0089ff,#007cff,#007aff,#008bff,#009cff,#00adff,#00b2ff,#00adff,#00a8ff,#00a3ff,#009dff,#0097ff,#0092ff,#008dff,#08f,#0087ff,#08f,#0089ff,#008aff,#008bff,#008bff,#008aff,#0089ff,#08f,#0087ff,#0087ff,#0086ff,#0085ff,#0082ff,#0080ff,#007eff,#007cff,#0079ff,#07f,#0075ff,#0074ff,#0072ff,#0071ff,#006fff,#006eff,#006cff,#006bff,#0069ff,#0067ff,#0065ff,#0063ff,#0061ff,#005fff,#005dff,#005bff,#0057ff,#0052ff,#004cff,#0047ff,#0041ff,#003cff,#0040ff,#0047ff,#004dff,#0054ff,#005aff,#0060ff,#0067ff,#0072ff,#0085ff,#0098ff,#00aeff,#0cf,#00edff,#00fff0,#00ffcd,#00ffa9,#00ff86,#0f6,#00ff43,#00ff20,#04ff00,#29ff00,#4eff00,#73ff00,#a9ff00,#e4ff00,#ffe000,#ffa700,#ff5700,#ff1400,#ff0200,#ff0800,#f10,#ff3100,#f50,#ff8100,#fb0,#f7ff00,#a7ff00,#5eff00,#1eff00,#00ff1b,#00ff4c,#00ff7d,#00ffaf,#00ffe1,#00efff,#00c7ff,#00a2ff,#0087ff,#006cff,#0064ff,#005fff,#005bff,#0057ff,#0053ff,#0050ff,#004fff,#004eff,#004dff,#004dff,#004cff,#004bff,#004aff,#004bff,#004cff,#004dff,#004eff,#004fff,#0050ff,#0051ff,#0051ff,#0051ff,#0051ff,#0051ff,#0051ff)"></i>
<i style="left:92px;width:4.6px;background:linear-gradient(#0091ff,#0091ff,#0091ff,#008eff,#08f,#0083ff,#007eff,#0078ff,#0086ff,#0097ff,#00a9ff,#00c0ff,#00dbff,#00f7ff,#00ffe1,#00ffb7,#00ff8c,#00ff60,#00ff32,#00ff05,#29ff00,#57ff00,#86ff00,#bdff00,#f5ff00,#ffe200,#ffbe00,#ff9f00,#ff8100,#ff6500,#ff4b00,#ff3000,#ff2e00,#ff2e00,#ff2800,#ff2c00,#ff3200,#ff3500,#ff3d00,#ff5100,#ff5e00,#ff8300,#ffaf00,#ffe100,#ef0,#b7ff00,#81ff00,#4bff00,#14ff00,#00ff1c,#00ff49,#00ff76,#00ffa1,#00ffcb,#00fff5,#00ecff,#00d3ff,#00b9ff,#00a3ff,#0096ff,#08f,#007bff,#007aff,#008bff,#009cff,#00aeff,#00b2ff,#00adff,#00a8ff,#00a3ff,#009eff,#0098ff,#0093ff,#008dff,#08f,#0087ff,#08f,#0089ff,#008aff,#008bff,#008cff,#008bff,#008aff,#0089ff,#08f,#0087ff,#0086ff,#0085ff,#0082ff,#0080ff,#007eff,#007bff,#0079ff,#07f,#0075ff,#0073ff,#0071ff,#0070ff,#006eff,#006cff,#006bff,#0069ff,#0068ff,#06f,#0064ff,#0062ff,#0060ff,#005dff,#005bff,#0059ff,#05f,#004fff,#004aff,#04f,#003eff,#0038ff,#003dff,#04f,#004bff,#0052ff,#0059ff,#005fff,#06f,#0071ff,#0084ff,#0097ff,#00acff,#00caff,#00ebff,#00fff2,#00ffce,#0fa,#00ff87,#00ff68,#00ff45,#0f2,#0f0,#25ff00,#4bff00,#70ff00,#a4ff00,#e0ff00,#ffe400,#ffab00,#ff5e00,#ff1700,#ff0200,#ff0800,#ff1000,#ff2e00,#ff5100,#ff7c00,#ffb300,#feff00,#adff00,#62ff00,#2f0,#00ff18,#00ff49,#00ff7a,#00ffac,#00ffdf,#00f1ff,#00c9ff,#00a2ff,#0087ff,#006cff,#0064ff,#005eff,#005aff,#0056ff,#0052ff,#004fff,#004eff,#004dff,#004cff,#004bff,#004aff,#0049ff,#0048ff,#0049ff,#004aff,#004bff,#004cff,#004dff,#004eff,#004fff,#0050ff,#0050ff,#0050ff,#0050ff,#0050ff)"></i>
<i style="left:96px;width:4.6px;background:linear-gradient(#0092ff,#0092ff,#0092ff,#008eff,#08f,#0082ff,#007cff,#0076ff,#0084ff,#0095ff,#00a8ff,#00beff,#00daff,#00f6ff,#00ffe2,#00ffb7,#00ff8d,#00ff5f,#00ff32,#00ff04,#2aff00,#58ff00,#87ff00,#bfff00,#f6ff00,#ffe100,#ffbe00,#ff9f00,#ff8200,#ff6700,#ff4d00,#ff3200,#ff2d00,#ff2a00,#ff2300,#ff2900,#ff3000,#ff3500,#ff4000,#ff5300,#ff5f00,#ff8400,#ffb100,#ffe300,#eaff00,#b3ff00,#7dff00,#47ff00,#1f0,#00ff1f,#00ff4c,#00ff78,#00ffa3,#0fc,#00fff6,#00ebff,#00d2ff,#00b9ff,#00a3ff,#0095ff,#08f,#007aff,#007aff,#008cff,#009dff,#00aeff,#00b2ff,#00adff,#00a8ff,#00a3ff,#009eff,#0098ff,#0093ff,#008dff,#08f,#0087ff,#08f,#0089ff,#008aff,#008cff,#008cff,#008bff,#008aff,#0089ff,#08f,#0087ff,#0086ff,#0085ff,#0082ff,#0080ff,#007dff,#007bff,#0078ff,#0076ff,#0074ff,#0072ff,#0070ff,#006fff,#006dff,#006bff,#006aff,#0068ff,#06f,#0064ff,#0062ff,#0060ff,#005eff,#005bff,#0059ff,#0057ff,#0053ff,#004dff,#0047ff,#0041ff,#003bff,#0035ff,#003bff,#0042ff,#0049ff,#0050ff,#0057ff,#005eff,#0065ff,#006fff,#0082ff,#0096ff,#00abff,#00c8ff,#00e9ff,#00fff4,#00ffd0,#00ffab,#0f8,#00ff69,#00ff47,#00ff25,#00ff03,#2f0,#48ff00,#6dff00,#a0ff00,#dbff00,#ffe800,#ffaf00,#ff6400,#ff1a00,#ff0100,#ff0800,#ff0f00,#ff2c00,#ff4e00,#ff7800,#ffab00,#fff900,#b4ff00,#67ff00,#26ff00,#00ff15,#00ff46,#0f7,#0fa,#00ffdc,#00f2ff,#00caff,#00a3ff,#08f,#006dff,#0064ff,#005eff,#005aff,#0056ff,#0052ff,#004eff,#004dff,#004cff,#004bff,#004aff,#0049ff,#0048ff,#0047ff,#0048ff,#0049ff,#004aff,#004bff,#004cff,#004dff,#004eff,#004fff,#004fff,#004fff,#004fff,#004fff)"></i>
<i style="left:100px;width:4.6px;background:linear-gradient(#0093ff,#0093ff,#0093ff,#008fff,#08f,#0082ff,#007bff,#0074ff,#0082ff,#0094ff,#00a6ff,#00bdff,#00d9ff,#00f5ff,#00ffe3,#00ffb8,#00ff8d,#00ff5f,#00ff31,#00ff03,#2bff00,#58ff00,#8f0,#c0ff00,#f8ff00,#ffe000,#ffbe00,#ffa000,#ff8300,#ff6800,#ff4f00,#ff3500,#ff2c00,#ff2700,#ff1e00,#ff2500,#ff2e00,#ff3500,#ff4300,#ff5400,#ff6000,#ff8500,#ffb300,#ffe500,#e6ff00,#afff00,#78ff00,#43ff00,#0dff00,#0f2,#00ff4e,#00ff7a,#00ffa4,#00ffcd,#00fff6,#00ebff,#00d2ff,#00b9ff,#00a2ff,#0095ff,#0087ff,#0079ff,#007bff,#008cff,#009dff,#00afff,#00b3ff,#00aeff,#00a9ff,#00a4ff,#009fff,#09f,#0093ff,#008dff,#08f,#0087ff,#08f,#0089ff,#008bff,#008cff,#008cff,#008bff,#008aff,#0089ff,#08f,#0087ff,#0086ff,#0085ff,#0082ff,#007fff,#007dff,#007aff,#0078ff,#0075ff,#0073ff,#0071ff,#0070ff,#006eff,#006cff,#006aff,#0068ff,#0067ff,#0065ff,#0063ff,#0061ff,#005eff,#005cff,#005aff,#0057ff,#05f,#0051ff,#004bff,#04f,#003eff,#0038ff,#0032ff,#0038ff,#0040ff,#0047ff,#004eff,#0056ff,#005dff,#0064ff,#006eff,#0081ff,#0094ff,#00a9ff,#00c6ff,#00e7ff,#00fff5,#00ffd1,#00ffad,#00ff89,#00ff6a,#00ff49,#00ff27,#00ff06,#1fff00,#4f0,#6aff00,#9bff00,#d7ff00,#ffed00,#ffb400,#ff6b00,#ff1d00,#f00,#ff0700,#ff0f00,#ff2900,#ff4a00,#ff7400,#ffa300,#fff200,#baff00,#6cff00,#2aff00,#00ff12,#00ff43,#00ff74,#00ffa7,#00ffda,#00f4ff,#0cf,#00a4ff,#0089ff,#006eff,#0064ff,#005eff,#005aff,#05f,#0051ff,#004dff,#004cff,#004bff,#004aff,#0049ff,#0048ff,#0047ff,#0046ff,#0047ff,#0048ff,#0049ff,#004aff,#004bff,#004cff,#004dff,#004eff,#004eff,#004eff,#004eff,#004eff)"></i>
<i style="left:104px;width:4.6px;background:linear-gradient(#0094ff,#0094ff,#0094ff,#0090ff,#0089ff,#0081ff,#007aff,#0072ff,#0080ff,#0092ff,#00a5ff,#0bf,#00d8ff,#00f4ff,#00ffe4,#00ffb9,#00ff8d,#00ff5f,#00ff31,#00ff02,#2cff00,#59ff00,#89ff00,#c2ff00,#faff00,#ffe000,#ffbd00,#ffa000,#ff8400,#ff6a00,#ff5000,#ff3700,#ff2b00,#ff2400,#ff1900,#f20,#ff2d00,#ff3500,#ff4500,#f50,#ff6100,#ff8700,#ffb500,#ffe800,#e2ff00,#abff00,#74ff00,#3fff00,#09ff00,#00ff24,#00ff50,#00ff7c,#00ffa5,#00ffce,#00fff7,#00ebff,#00d2ff,#00b8ff,#00a2ff,#0094ff,#0086ff,#0079ff,#007bff,#008cff,#009eff,#00afff,#00b3ff,#00aeff,#00a9ff,#00a4ff,#009fff,#09f,#0093ff,#008dff,#08f,#0087ff,#08f,#0089ff,#008bff,#008cff,#008dff,#008cff,#008aff,#0089ff,#08f,#0087ff,#0086ff,#0085ff,#0082ff,#007fff,#007cff,#007aff,#07f,#0074ff,#0072ff,#0070ff,#006fff,#006dff,#006bff,#0069ff,#0067ff,#0065ff,#0063ff,#0061ff,#005fff,#005dff,#005aff,#0058ff,#05f,#0053ff,#004fff,#0048ff,#0042ff,#003bff,#0035ff,#002fff,#0035ff,#003dff,#0045ff,#004dff,#0054ff,#005bff,#0063ff,#006dff,#0080ff,#0093ff,#00a8ff,#00c4ff,#00e6ff,#00fff7,#00ffd3,#00ffae,#00ff8a,#00ff6b,#00ff4b,#00ff2a,#00ff09,#1cff00,#41ff00,#67ff00,#97ff00,#d2ff00,#fff100,#ffb800,#ff7200,#ff2000,#ff0100,#ff0700,#ff0e00,#ff2600,#ff4800,#ff7000,#ff9a00,#ffeb00,#c1ff00,#71ff00,#2eff00,#00ff0f,#00ff40,#00ff72,#00ffa4,#00ffd7,#00f6ff,#00ceff,#00a5ff,#008aff,#006fff,#0064ff,#005eff,#0059ff,#05f,#0050ff,#004cff,#004bff,#004aff,#0049ff,#0048ff,#0046ff,#0045ff,#04f,#0045ff,#0046ff,#0048ff,#0049ff,#004aff,#004bff,#004cff,#004dff,#004dff,#004dff,#004dff,#004dff)"></i>
<i style="left:108px;width:4.6px;background:linear-gradient(#0095ff,#0095ff,#0095ff,#0091ff,#0089ff,#0081ff,#0078ff,#0070ff,#007eff,#0090ff,#00a3ff,#00b9ff,#00d6ff,#00f3ff,#00ffe5,#00ffba,#00ff8e,#00ff5f,#00ff30,#00ff01,#2cff00,#5aff00,#8aff00,#c3ff00,#fcff00,#ffdf00,#ffbd00,#ffa000,#ff8400,#ff6b00,#ff5200,#ff3a00,#ff2b00,#ff2100,#ff1400,#ff1f00,#ff2b00,#ff3600,#ff4800,#f50,#ff6200,#f80,#ffb700,#ffeb00,#deff00,#a7ff00,#70ff00,#3bff00,#06ff00,#00ff27,#00ff52,#00ff7e,#00ffa7,#00ffcf,#00fff8,#00eaff,#00d1ff,#00b8ff,#00a2ff,#0094ff,#0086ff,#0078ff,#007bff,#008dff,#009eff,#00b0ff,#00b3ff,#00aeff,#0af,#00a5ff,#00a0ff,#009aff,#0094ff,#008eff,#08f,#0086ff,#08f,#0089ff,#008bff,#008cff,#008dff,#008cff,#008bff,#0089ff,#08f,#0087ff,#0086ff,#0084ff,#0082ff,#007fff,#007cff,#0079ff,#07f,#0074ff,#0072ff,#0070ff,#006eff,#006cff,#006aff,#0068ff,#06f,#0064ff,#0062ff,#0060ff,#005dff,#005bff,#0058ff,#0056ff,#0053ff,#0051ff,#004dff,#0046ff,#003fff,#0039ff,#0032ff,#002bff,#03f,#003bff,#0043ff,#004bff,#0052ff,#005aff,#0062ff,#006bff,#007fff,#0092ff,#00a6ff,#00c2ff,#00e4ff,#00fff8,#00ffd4,#00ffb0,#00ff8b,#00ff6c,#00ff4c,#00ff2c,#00ff0c,#18ff00,#3eff00,#64ff00,#92ff00,#ceff00,#fff500,#ffbc00,#ff7800,#f20,#ff0300,#ff0700,#ff0e00,#ff2300,#ff4500,#ff6c00,#ff9500,#ffe400,#c7ff00,#76ff00,#3f0,#00ff0c,#00ff3d,#00ff6f,#00ffa1,#00ffd5,#00f8ff,#00cfff,#00a7ff,#008bff,#0070ff,#0064ff,#005eff,#0059ff,#0054ff,#004fff,#004bff,#004aff,#0049ff,#0048ff,#0046ff,#0045ff,#04f,#0043ff,#04f,#0045ff,#0046ff,#0048ff,#0049ff,#004aff,#004bff,#004cff,#004cff,#004cff,#004cff,#004cff)"></i>
<i style="left:112px;width:4.6px;background:linear-gradient(#0096ff,#0096ff,#0096ff,#0091ff,#0089ff,#0080ff,#07f,#006eff,#007cff,#008eff,#00a2ff,#00b8ff,#00d5ff,#00f2ff,#00ffe6,#00ffba,#00ff8e,#00ff5f,#00ff30,#0f0,#2dff00,#5aff00,#8bff00,#c5ff00,#feff00,#ffde00,#ffbd00,#ffa100,#ff8500,#ff6c00,#ff5400,#ff3c00,#ff2a00,#ff1e00,#ff0f00,#ff1d00,#ff2a00,#ff3700,#ff4a00,#ff5600,#ff6400,#ff8900,#ffb900,#fe0,#daff00,#a3ff00,#6cff00,#37ff00,#02ff00,#00ff29,#00ff54,#00ff7f,#00ffa8,#00ffd0,#00fff8,#00eaff,#00d1ff,#00b8ff,#00a1ff,#0093ff,#0085ff,#07f,#007bff,#008dff,#009eff,#00b0ff,#00b4ff,#00afff,#0af,#00a5ff,#00a0ff,#009aff,#0094ff,#008eff,#0087ff,#0086ff,#08f,#0089ff,#008bff,#008dff,#008dff,#008cff,#008bff,#008aff,#08f,#0087ff,#0086ff,#0084ff,#0082ff,#007fff,#007cff,#0079ff,#0076ff,#0073ff,#0071ff,#006fff,#006dff,#006bff,#0069ff,#0067ff,#0065ff,#0063ff,#0061ff,#005eff,#005cff,#0059ff,#0057ff,#0054ff,#0051ff,#004fff,#004aff,#0043ff,#003dff,#0036ff,#002fff,#0028ff,#0030ff,#0038ff,#0041ff,#0049ff,#0051ff,#0059ff,#0061ff,#006aff,#007dff,#0091ff,#00a5ff,#00bfff,#00e2ff,#00fffa,#00ffd6,#00ffb1,#00ff8d,#00ff6d,#00ff4e,#00ff2e,#00ff0e,#15ff00,#3bff00,#61ff00,#8eff00,#c9ff00,#fffa00,#ffc100,#ff7f00,#ff2800,#ff0500,#ff0600,#ff0e00,#ff2100,#ff4300,#ff6900,#ff9100,#ffdc00,#ceff00,#7bff00,#37ff00,#00ff09,#00ff3a,#00ff6c,#00ff9f,#00ffd2,#00f9ff,#00d1ff,#00a8ff,#008cff,#0071ff,#0063ff,#005eff,#0059ff,#0054ff,#004fff,#004aff,#0049ff,#0048ff,#0047ff,#0045ff,#04f,#0043ff,#0041ff,#0043ff,#04f,#0045ff,#0046ff,#0048ff,#0049ff,#004aff,#004bff,#004bff,#004bff,#004bff,#004bff)"></i>
<i style="left:116px;width:4.6px;background:linear-gradient(#0097ff,#0097ff,#0097ff,#0092ff,#0089ff,#007fff,#0076ff,#006cff,#007aff,#008dff,#00a0ff,#00b6ff,#00d3ff,#00f1ff,#00ffe8,#0fb,#00ff8e,#00ff5f,#00ff2f,#01ff00,#2eff00,#5bff00,#8cff00,#c6ff00,#fffe00,#fd0,#ffbc00,#ffa100,#ff8600,#ff6d00,#ff5600,#ff3e00,#ff2a00,#ff1b00,#ff0a00,#ff1a00,#ff2900,#ff3900,#ff4d00,#ff5700,#ff6500,#ff8a00,#fb0,#fff200,#d6ff00,#9fff00,#68ff00,#3f0,#00ff01,#00ff2c,#00ff57,#00ff81,#00ffa9,#00ffd1,#00fff9,#00eaff,#00d1ff,#00b7ff,#00a1ff,#0093ff,#0085ff,#0076ff,#007cff,#008dff,#009fff,#00b1ff,#00b4ff,#00afff,#00abff,#00a6ff,#00a1ff,#009aff,#0094ff,#008eff,#0087ff,#0086ff,#08f,#008aff,#008bff,#008dff,#008eff,#008cff,#008bff,#008aff,#08f,#0087ff,#0086ff,#0084ff,#0081ff,#007eff,#007bff,#0078ff,#0075ff,#0072ff,#0070ff,#006eff,#006cff,#006aff,#0068ff,#06f,#0063ff,#0061ff,#005fff,#005dff,#005aff,#0058ff,#05f,#0052ff,#0050ff,#004dff,#0048ff,#0041ff,#003aff,#03f,#002cff,#0025ff,#002eff,#0036ff,#003fff,#0047ff,#004fff,#0057ff,#0060ff,#0069ff,#007cff,#008fff,#00a3ff,#00bdff,#00e0ff,#00fffc,#00ffd7,#00ffb3,#00ff8e,#00ff6f,#00ff50,#00ff30,#0f1,#1f0,#38ff00,#5eff00,#89ff00,#c5ff00,#fffe00,#ffc500,#ff8600,#ff2e00,#ff0700,#ff0600,#ff0d00,#ff1e00,#ff4000,#ff6500,#ff8d00,#ffd400,#d5ff00,#81ff00,#3cff00,#00ff06,#00ff38,#00ff69,#00ff9c,#00ffd0,#00fbff,#00d2ff,#0af,#008dff,#0072ff,#0063ff,#005eff,#0058ff,#0053ff,#004eff,#0049ff,#0048ff,#0047ff,#0045ff,#04f,#0043ff,#0041ff,#0040ff,#0041ff,#0043ff,#04f,#0045ff,#0046ff,#0048ff,#0049ff,#0049ff,#0049ff,#0049ff,#0049ff,#0049ff)"></i>
<i style="left:120px;width:4.6px;background:linear-gradient(#0098ff,#0098ff,#0098ff,#0093ff,#0089ff,#007fff,#0075ff,#006aff,#07f,#008bff,#009eff,#00b4ff,#00d2ff,#00f0ff,#00ffe9,#00ffbc,#00ff8f,#00ff5f,#00ff2e,#02ff00,#2fff00,#5cff00,#8dff00,#c8ff00,#fffd00,#fd0,#ffbc00,#ffa100,#ff8700,#ff6e00,#ff5700,#ff4000,#ff2b00,#ff1800,#ff0600,#ff1700,#ff2900,#ff3b00,#ff4f00,#ff5700,#ff6700,#ff8c00,#ffbd00,#fff500,#d1ff00,#9aff00,#64ff00,#30ff00,#00ff04,#00ff2e,#00ff59,#00ff83,#0fa,#00ffd2,#00fff9,#00e9ff,#00d0ff,#00b7ff,#00a0ff,#0092ff,#0084ff,#0076ff,#007cff,#008eff,#009fff,#00b1ff,#00b4ff,#00b0ff,#00abff,#00a6ff,#00a1ff,#009bff,#0094ff,#008eff,#0087ff,#0086ff,#08f,#008aff,#008bff,#008dff,#008eff,#008dff,#008bff,#008aff,#0089ff,#0087ff,#0086ff,#0084ff,#0081ff,#007eff,#007bff,#0078ff,#0075ff,#0072ff,#006fff,#006dff,#006bff,#0069ff,#0067ff,#0064ff,#0062ff,#0060ff,#005eff,#005bff,#0059ff,#0056ff,#0053ff,#0050ff,#004eff,#004bff,#0046ff,#003fff,#0037ff,#0030ff,#0029ff,#02f,#002bff,#0034ff,#003dff,#0045ff,#004eff,#0056ff,#005eff,#0067ff,#007bff,#008eff,#00a2ff,#0bf,#00deff,#00fffd,#00ffd9,#00ffb4,#00ff8f,#00ff70,#00ff51,#00ff32,#00ff14,#0eff00,#34ff00,#5bff00,#85ff00,#c0ff00,#fcff00,#ffc900,#ff8c00,#ff3500,#ff0a00,#ff0500,#ff0d00,#ff1b00,#ff3d00,#ff6200,#ff8900,#fc0,#dcff00,#8f0,#40ff00,#00ff03,#00ff35,#0f6,#0f9,#00ffcd,#00fdff,#00d4ff,#00abff,#008eff,#0073ff,#0063ff,#005eff,#0058ff,#0053ff,#004dff,#0048ff,#0047ff,#0046ff,#04f,#0043ff,#0041ff,#0040ff,#003fff,#0040ff,#0041ff,#0043ff,#04f,#0045ff,#0047ff,#0048ff,#0048ff,#0048ff,#0048ff,#0048ff,#0048ff)"></i>
<i style="left:124px;width:4.6px;background:linear-gradient(#09f,#09f,#09f,#0094ff,#0089ff,#007eff,#0073ff,#0069ff,#0075ff,#0089ff,#009dff,#00b2ff,#00d1ff,#00efff,#00ffea,#00ffbc,#00ff8f,#00ff5f,#00ff2e,#03ff00,#30ff00,#5dff00,#8eff00,#caff00,#fffc00,#ffdc00,#ffbc00,#ffa100,#ff8700,#ff6f00,#ff5900,#ff4200,#ff2c00,#ff1500,#ff0100,#ff1500,#ff2900,#ff3d00,#ff5100,#ff5800,#ff6800,#ff8d00,#ffbf00,#fff900,#cdff00,#96ff00,#60ff00,#2cff00,#00ff07,#00ff31,#00ff5b,#00ff85,#00ffac,#00ffd3,#00fffa,#00e9ff,#00d0ff,#00b7ff,#00a0ff,#0092ff,#0083ff,#0075ff,#007cff,#008eff,#00a0ff,#00b2ff,#00b5ff,#00b0ff,#00abff,#00a7ff,#00a2ff,#009bff,#0094ff,#008eff,#0087ff,#0086ff,#08f,#008aff,#008cff,#008eff,#008eff,#008dff,#008cff,#008aff,#0089ff,#0087ff,#0086ff,#0084ff,#0081ff,#007eff,#007bff,#07f,#0074ff,#0071ff,#006eff,#006cff,#006aff,#0068ff,#0065ff,#0063ff,#0061ff,#005fff,#005cff,#005aff,#0057ff,#0054ff,#0051ff,#004eff,#004cff,#0049ff,#04f,#003cff,#0035ff,#002dff,#0025ff,#0020ff,#0029ff,#0032ff,#003bff,#04f,#004cff,#05f,#005dff,#06f,#007aff,#008dff,#00a0ff,#00b9ff,#00dcff,#0ff,#00ffda,#00ffb6,#00ff91,#00ff70,#00ff52,#00ff34,#00ff16,#0aff00,#31ff00,#58ff00,#80ff00,#bcff00,#f7ff00,#ffce00,#ff9300,#ff3c00,#ff0d00,#ff0400,#ff0d00,#ff1800,#ff3b00,#ff5e00,#ff8500,#ffc300,#e3ff00,#8eff00,#45ff00,#0f0,#00ff32,#00ff64,#00ff96,#00ffcb,#0ff,#00d6ff,#00adff,#008eff,#0073ff,#0063ff,#005eff,#0058ff,#0052ff,#004dff,#0047ff,#0046ff,#04f,#0043ff,#0042ff,#0040ff,#003fff,#003dff,#003eff,#0040ff,#0041ff,#0043ff,#04f,#0046ff,#0047ff,#0047ff,#0047ff,#0047ff,#0047ff,#0047ff)"></i>
<i style="left:128px;width:4.6px;background:linear-gradient(#009aff,#009aff,#009aff,#0095ff,#008aff,#007fff,#0075ff,#006aff,#07f,#008aff,#009eff,#00b3ff,#00d1ff,#00efff,#00ffe9,#00ffbc,#00ff8f,#00ff5f,#00ff2e,#03ff00,#30ff00,#5dff00,#8fff00,#cbff00,#fffa00,#ffdb00,#ffbd00,#ffa400,#ff8a00,#ff7100,#ff5a00,#ff4300,#ff2c00,#ff1500,#ff0100,#ff1500,#ff2900,#ff3e00,#ff5300,#ff5a00,#ff6b00,#ff8f00,#ffc300,#fffd00,#caff00,#94ff00,#5fff00,#2bff00,#00ff08,#00ff32,#00ff5c,#00ff86,#00ffad,#00ffd5,#00fffc,#00e8ff,#00cfff,#00b7ff,#00a1ff,#0093ff,#0085ff,#07f,#007dff,#008eff,#009fff,#00b0ff,#00b7ff,#00b2ff,#00adff,#00a8ff,#00a3ff,#009dff,#0096ff,#008fff,#0089ff,#0086ff,#08f,#008aff,#008cff,#008dff,#008fff,#008dff,#008cff,#008aff,#0089ff,#0087ff,#0086ff,#0084ff,#0081ff,#007eff,#007aff,#07f,#0074ff,#0071ff,#006eff,#006cff,#0069ff,#0067ff,#0065ff,#0063ff,#0060ff,#005eff,#005cff,#0059ff,#0056ff,#0054ff,#0051ff,#004fff,#004cff,#0049ff,#04f,#003dff,#0035ff,#002eff,#0026ff,#0020ff,#0029ff,#0032ff,#003bff,#04f,#004cff,#05f,#005eff,#0067ff,#0079ff,#008dff,#00a0ff,#00b7ff,#00d9ff,#00fbff,#00ffde,#00ffb9,#00ff94,#00ff73,#00ff54,#00ff36,#00ff17,#0aff00,#30ff00,#57ff00,#7fff00,#bf0,#f6ff00,#ffcf00,#ff9700,#ff4300,#ff1000,#ff0300,#ff0c00,#ff1500,#ff3700,#ff5c00,#ff8300,#ffc000,#e5ff00,#91ff00,#47ff00,#01ff00,#00ff31,#00ff63,#00ff95,#00ffca,#0ff,#00d6ff,#00adff,#008fff,#0074ff,#0063ff,#005dff,#0058ff,#0052ff,#004dff,#0047ff,#0046ff,#04f,#0043ff,#0041ff,#0040ff,#003fff,#003dff,#003eff,#0040ff,#0041ff,#0042ff,#04f,#0045ff,#0046ff,#0047ff,#0047ff,#0047ff,#0047ff,#0047ff)"></i>
<i style="left:132px;width:4.6px;background:linear-gradient(#009aff,#009aff,#009aff,#0095ff,#008bff,#0081ff,#0076ff,#006cff,#0078ff,#008cff,#009fff,#00b4ff,#00d2ff,#00f0ff,#00ffe9,#00ffbc,#00ff8f,#00ff5f,#00ff2d,#04ff00,#31ff00,#5eff00,#90ff00,#cdff00,#fff900,#ffd900,#ffbe00,#ffa700,#ff8d00,#ff7300,#ff5b00,#ff4300,#ff2c00,#ff1500,#ff0100,#ff1400,#ff2900,#ff3f00,#ff5400,#ff5c00,#ff6e00,#ff9200,#ffc700,#fdff00,#c7ff00,#91ff00,#5dff00,#29ff00,#00ff08,#0f3,#00ff5d,#0f8,#00ffaf,#00ffd7,#00fffe,#00e7ff,#00cfff,#00b6ff,#00a1ff,#0094ff,#0086ff,#0079ff,#007fff,#008fff,#009fff,#00afff,#00b9ff,#00b4ff,#00afff,#0af,#00a5ff,#009eff,#0098ff,#0091ff,#008bff,#0086ff,#08f,#008aff,#008cff,#008dff,#008fff,#008eff,#008cff,#008bff,#0089ff,#0087ff,#0086ff,#0084ff,#0081ff,#007dff,#007aff,#07f,#0074ff,#0070ff,#006eff,#006bff,#0069ff,#0067ff,#0064ff,#0062ff,#005fff,#005dff,#005bff,#0058ff,#0056ff,#0054ff,#0051ff,#004fff,#004cff,#0049ff,#04f,#003dff,#0036ff,#002eff,#0027ff,#0020ff,#0029ff,#0032ff,#003bff,#04f,#004dff,#05f,#005eff,#0067ff,#0079ff,#008cff,#009fff,#00b4ff,#00d6ff,#00f7ff,#00ffe3,#00ffbd,#00ff98,#00ff76,#00ff56,#00ff37,#00ff18,#09ff00,#30ff00,#56ff00,#7fff00,#baff00,#f5ff00,#ffd100,#ff9a00,#ff4a00,#ff1300,#ff0200,#ff0b00,#ff1300,#ff3400,#ff5900,#ff8100,#ffbe00,#e8ff00,#93ff00,#49ff00,#02ff00,#00ff30,#00ff62,#00ff94,#00ffc9,#00fffe,#00d7ff,#00aeff,#008fff,#0074ff,#0063ff,#005dff,#0058ff,#0052ff,#004dff,#0047ff,#0046ff,#04f,#0043ff,#0041ff,#0040ff,#003eff,#003dff,#003eff,#003fff,#0040ff,#0042ff,#0043ff,#04f,#0046ff,#0046ff,#0046ff,#0046ff,#0046ff,#0046ff)"></i>
<i style="left:136px;width:4.6px;background:linear-gradient(#009bff,#009bff,#009bff,#0096ff,#008cff,#0082ff,#0078ff,#006dff,#007aff,#008dff,#00a0ff,#00b5ff,#00d2ff,#00f0ff,#00ffe8,#00ffbc,#00ff8f,#00ff5f,#00ff2d,#04ff00,#31ff00,#5eff00,#91ff00,#ceff00,#fff700,#ffd800,#ffbf00,#ffab00,#ff9000,#ff7500,#ff5c00,#f40,#ff2c00,#ff1500,#ff0100,#ff1300,#ff2a00,#ff4000,#f50,#ff5e00,#ff7100,#ff9400,#ffca00,#faff00,#c4ff00,#8fff00,#5bff00,#28ff00,#00ff09,#00ff34,#00ff5f,#00ff89,#00ffb1,#00ffd9,#00feff,#00e7ff,#00cfff,#00b6ff,#00a2ff,#0095ff,#08f,#007bff,#0080ff,#008fff,#009fff,#00aeff,#0bf,#00b6ff,#00b1ff,#00abff,#00a6ff,#00a0ff,#09f,#0093ff,#008cff,#0087ff,#08f,#008aff,#008cff,#008dff,#008fff,#008eff,#008dff,#008bff,#0089ff,#0087ff,#0086ff,#0084ff,#0081ff,#007dff,#007aff,#0076ff,#0073ff,#0070ff,#006dff,#006bff,#0068ff,#06f,#0064ff,#0061ff,#005fff,#005cff,#005aff,#0058ff,#05f,#0053ff,#0051ff,#004fff,#004cff,#0049ff,#0045ff,#003eff,#0036ff,#002fff,#0028ff,#0021ff,#002aff,#0032ff,#003bff,#04f,#004dff,#0056ff,#005fff,#0068ff,#0079ff,#008cff,#009fff,#00b2ff,#00d3ff,#00f3ff,#00ffe7,#00ffc1,#00ff9c,#00ff79,#00ff59,#00ff39,#00ff19,#09ff00,#2fff00,#56ff00,#7eff00,#b9ff00,#f4ff00,#ffd200,#ff9c00,#ff5100,#ff1700,#ff0100,#ff0a00,#ff1200,#ff3000,#ff5600,#ff7f00,#fb0,#ebff00,#96ff00,#4bff00,#04ff00,#00ff2f,#00ff61,#00ff93,#00ffc9,#00fffe,#00d7ff,#00aeff,#0090ff,#0075ff,#0063ff,#005dff,#0058ff,#0052ff,#004dff,#0047ff,#0046ff,#04f,#0043ff,#0041ff,#0040ff,#003eff,#003dff,#003eff,#003fff,#0040ff,#0041ff,#0042ff,#04f,#0045ff,#0045ff,#0045ff,#0045ff,#0045ff,#0045ff)"></i>
<i style="left:140px;width:4.6px;background:linear-gradient(#009cff,#009cff,#009cff,#0097ff,#008dff,#0083ff,#0079ff,#006fff,#007bff,#008eff,#00a1ff,#00b6ff,#00d3ff,#00f1ff,#00ffe8,#0fb,#00ff8f,#00ff5f,#00ff2d,#04ff00,#31ff00,#5fff00,#92ff00,#d0ff00,#fff600,#ffd700,#ffc000,#ffad00,#ff9300,#f70,#ff5d00,#ff4500,#ff2d00,#ff1500,#ff0100,#ff1300,#ff2a00,#ff4100,#ff5600,#ff6000,#ff7400,#ff9700,#ffce00,#f6ff00,#c1ff00,#8dff00,#5aff00,#27ff00,#00ff0a,#00ff35,#00ff60,#00ff8b,#00ffb3,#00ffdb,#00fdff,#00e6ff,#00ceff,#00b7ff,#00a3ff,#0096ff,#0089ff,#007dff,#0082ff,#0090ff,#009fff,#00adff,#00bcff,#00b8ff,#00b2ff,#00adff,#00a8ff,#00a1ff,#009bff,#0095ff,#008eff,#08f,#0089ff,#008aff,#008cff,#008dff,#008fff,#008eff,#008dff,#008bff,#008aff,#08f,#0086ff,#0084ff,#0081ff,#007dff,#0079ff,#0076ff,#0073ff,#0070ff,#006dff,#006aff,#0068ff,#06f,#0063ff,#0061ff,#005eff,#005bff,#0059ff,#0057ff,#05f,#0053ff,#0051ff,#004fff,#004dff,#004aff,#0045ff,#003eff,#0037ff,#0030ff,#0029ff,#02f,#002aff,#03f,#003bff,#04f,#004dff,#0056ff,#005fff,#0068ff,#0078ff,#008cff,#009fff,#00b1ff,#00d0ff,#00efff,#00ffec,#00ffc6,#00ff9f,#00ff7b,#00ff5b,#00ff3a,#00ff1a,#08ff00,#2fff00,#5f0,#7dff00,#b8ff00,#f3ff00,#ffd300,#ff9e00,#ff5700,#ff1a00,#ff0100,#ff0900,#ff1200,#ff2d00,#ff5300,#ff7e00,#ffb800,#edff00,#9f0,#4dff00,#05ff00,#00ff2e,#00ff60,#00ff92,#00ffc8,#00fffe,#00d7ff,#00afff,#0090ff,#0075ff,#0063ff,#005dff,#0058ff,#0052ff,#004dff,#0048ff,#0046ff,#04f,#0042ff,#0041ff,#0040ff,#003eff,#003dff,#003dff,#003eff,#0040ff,#0041ff,#0042ff,#0043ff,#04f,#0045ff,#0045ff,#0045ff,#0045ff,#0045ff)"></i>
<i style="left:144px;width:4.6px;background:linear-gradient(#009cff,#009cff,#009cff,#0098ff,#008eff,#0084ff,#007aff,#0071ff,#007dff,#008fff,#00a2ff,#00b6ff,#00d4ff,#00f1ff,#00ffe7,#0fb,#00ff8f,#00ff5f,#00ff2d,#05ff00,#32ff00,#5fff00,#93ff00,#d2ff00,#fff400,#ffd600,#ffc100,#ffb000,#ff9600,#ff7900,#ff5f00,#ff4500,#ff2d00,#ff1500,#f00,#ff1200,#ff2a00,#ff4200,#ff5700,#ff6200,#f70,#f90,#ffd200,#f3ff00,#bfff00,#8bff00,#58ff00,#26ff00,#00ff0b,#00ff36,#00ff62,#00ff8d,#00ffb5,#0fd,#00fcff,#00e5ff,#00ceff,#00b7ff,#00a4ff,#0097ff,#008bff,#007fff,#0083ff,#0091ff,#009fff,#00adff,#0bf,#00baff,#00b4ff,#00afff,#00a9ff,#00a3ff,#009dff,#0096ff,#0090ff,#008aff,#0089ff,#008bff,#008cff,#008dff,#008fff,#008fff,#008dff,#008cff,#008aff,#08f,#0086ff,#0083ff,#0081ff,#007dff,#0079ff,#0076ff,#0072ff,#006fff,#006cff,#006aff,#0067ff,#0065ff,#0063ff,#0060ff,#005dff,#005bff,#0058ff,#0056ff,#0054ff,#0053ff,#0051ff,#004fff,#004dff,#004aff,#0046ff,#003fff,#0037ff,#0030ff,#0029ff,#02f,#002aff,#03f,#003cff,#04f,#004dff,#0056ff,#005fff,#0069ff,#0078ff,#008bff,#009eff,#00b1ff,#00cdff,#00ecff,#00fff0,#00ffca,#00ffa3,#00ff7e,#00ff5d,#00ff3c,#00ff1b,#07ff00,#2eff00,#5f0,#7cff00,#b7ff00,#f2ff00,#ffd500,#ffa000,#ff5c00,#ff1d00,#ff0300,#ff0800,#f10,#ff2900,#ff5000,#ff7c00,#ffb500,#f0ff00,#9bff00,#4eff00,#06ff00,#00ff2d,#00ff5f,#00ff91,#00ffc7,#00fffd,#00d8ff,#00b0ff,#0091ff,#0076ff,#0062ff,#005dff,#0058ff,#0052ff,#004dff,#0048ff,#0046ff,#04f,#0042ff,#0041ff,#003fff,#003eff,#003dff,#003dff,#003eff,#003fff,#0040ff,#0041ff,#0042ff,#04f,#04f,#04f,#04f,#04f,#04f)"></i>
<i style="left:148px;width:4.6px;background:linear-gradient(#009dff,#009dff,#009dff,#09f,#008fff,#0085ff,#007cff,#0072ff,#007fff,#0091ff,#00a3ff,#00b7ff,#00d4ff,#00f2ff,#00ffe7,#0fb,#00ff8f,#00ff5f,#00ff2d,#05ff00,#32ff00,#60ff00,#94ff00,#d3ff00,#fff200,#ffd500,#ffc200,#ffb300,#f90,#ff7b00,#ff6000,#ff4600,#ff2d00,#ff1500,#f00,#ff1200,#ff2a00,#ff4300,#ff5900,#ff6400,#ff7a00,#ff9c00,#ffd600,#f0ff00,#bcff00,#89ff00,#57ff00,#25ff00,#00ff0c,#00ff37,#00ff63,#00ff8e,#00ffb7,#00ffe0,#00fbff,#00e4ff,#00cdff,#00b7ff,#00a4ff,#0098ff,#008dff,#0081ff,#0085ff,#0092ff,#009fff,#00acff,#00baff,#00bcff,#00b6ff,#00b1ff,#00abff,#00a5ff,#009eff,#0098ff,#0092ff,#008bff,#0089ff,#008bff,#008cff,#008dff,#008fff,#008fff,#008eff,#008cff,#008aff,#08f,#0086ff,#0083ff,#0081ff,#007dff,#0079ff,#0075ff,#0072ff,#006fff,#006cff,#0069ff,#0067ff,#0065ff,#0062ff,#005fff,#005dff,#005aff,#0057ff,#05f,#0054ff,#0052ff,#0051ff,#004fff,#004dff,#004aff,#0046ff,#003fff,#0038ff,#0031ff,#002aff,#0023ff,#002bff,#03f,#003cff,#0045ff,#004dff,#0057ff,#0060ff,#0069ff,#0078ff,#008bff,#009eff,#00b0ff,#00cbff,#00e9ff,#00fff5,#00ffce,#00ffa7,#00ff81,#00ff60,#00ff3e,#00ff1c,#07ff00,#2eff00,#54ff00,#7bff00,#b6ff00,#f2ff00,#ffd600,#ffa200,#ff6200,#ff2100,#ff0600,#ff0700,#ff1000,#ff2500,#ff4d00,#ff7900,#ffb200,#f3ff00,#9eff00,#50ff00,#07ff00,#00ff2d,#00ff5e,#00ff91,#00ffc7,#00fffd,#00d8ff,#00b0ff,#0091ff,#0076ff,#0062ff,#005dff,#0058ff,#0052ff,#004dff,#0048ff,#0046ff,#04f,#0042ff,#0041ff,#003fff,#003eff,#003cff,#003dff,#003eff,#003fff,#0040ff,#0041ff,#0042ff,#0043ff,#0043ff,#0043ff,#0043ff,#0043ff,#0043ff)"></i>
<i style="left:152px;width:4.6px;background:linear-gradient(#009eff,#009eff,#009eff,#09f,#0090ff,#0087ff,#007dff,#0074ff,#0080ff,#0092ff,#00a4ff,#00b8ff,#00d5ff,#00f2ff,#00ffe6,#00ffba,#00ff8e,#00ff5e,#00ff2c,#05ff00,#3f0,#60ff00,#95ff00,#d5ff00,#fff000,#ffd400,#ffc300,#ffb600,#ff9c00,#ff7d00,#ff6200,#ff4600,#ff2e00,#ff1500,#f00,#f10,#ff2b00,#f40,#ff5a00,#f60,#ff7d00,#ff9e00,#ffd900,#ecff00,#b9ff00,#87ff00,#5f0,#23ff00,#00ff0d,#00ff39,#00ff65,#00ff90,#00ffb9,#00ffe2,#00faff,#00e4ff,#00cdff,#00b7ff,#00a5ff,#009aff,#008eff,#0083ff,#0087ff,#0093ff,#009fff,#00acff,#00b9ff,#00bfff,#00b9ff,#00b2ff,#00acff,#00a6ff,#00a0ff,#009aff,#0093ff,#008dff,#008aff,#008bff,#008cff,#008eff,#008fff,#008fff,#008eff,#008dff,#008bff,#08f,#0086ff,#0083ff,#0081ff,#007dff,#0079ff,#0075ff,#0072ff,#006fff,#006bff,#0069ff,#06f,#0064ff,#0061ff,#005fff,#005cff,#0059ff,#0056ff,#0054ff,#0053ff,#0052ff,#0051ff,#004fff,#004dff,#004aff,#0046ff,#003fff,#0039ff,#0032ff,#002bff,#0024ff,#002bff,#0034ff,#003cff,#0045ff,#004eff,#0057ff,#0060ff,#006aff,#0078ff,#008bff,#009eff,#00b0ff,#00c9ff,#00e6ff,#00fffa,#00ffd2,#00ffab,#00ff84,#00ff62,#00ff3f,#00ff1d,#06ff00,#2dff00,#54ff00,#7bff00,#b5ff00,#f1ff00,#ffd700,#ffa400,#ff6700,#ff2400,#ff0a00,#ff0600,#ff0f00,#ff2100,#ff4a00,#f70,#ffb000,#f5ff00,#a0ff00,#52ff00,#09ff00,#00ff2c,#00ff5d,#00ff90,#00ffc6,#00fffd,#00d9ff,#00b1ff,#0091ff,#0076ff,#0062ff,#005dff,#0058ff,#0052ff,#004dff,#0048ff,#0046ff,#04f,#0042ff,#0040ff,#003fff,#003eff,#003cff,#003dff,#003dff,#003eff,#003fff,#0040ff,#0041ff,#0042ff,#0043ff,#0043ff,#0043ff,#0043ff,#0043ff)"></i>
<i style="left:156px;width:4.6px;background:linear-gradient(#009fff,#009fff,#009fff,#009aff,#0091ff,#08f,#007fff,#0076ff,#0082ff,#0093ff,#00a5ff,#00b8ff,#00d5ff,#00f3ff,#00ffe6,#00ffba,#00ff8e,#00ff5e,#00ff2c,#06ff00,#3f0,#61ff00,#96ff00,#d7ff00,#fe0,#ffd300,#ffc500,#ffb900,#ffa000,#ff7f00,#ff6300,#ff4700,#ff2e00,#ff1500,#f00,#f10,#ff2b00,#ff4500,#ff5c00,#ff6800,#ff8000,#ffa200,#fd0,#e9ff00,#b6ff00,#85ff00,#53ff00,#2f0,#00ff0d,#00ff3a,#0f6,#00ff92,#0fb,#00ffe4,#00f9ff,#00e3ff,#00cdff,#00b7ff,#00a6ff,#009bff,#0090ff,#0084ff,#08f,#0094ff,#009fff,#00acff,#00b9ff,#00c1ff,#0bf,#00b4ff,#00aeff,#00a8ff,#00a1ff,#009bff,#0095ff,#008fff,#008aff,#008bff,#008dff,#008eff,#008fff,#0090ff,#008eff,#008dff,#008bff,#0089ff,#0086ff,#0083ff,#0081ff,#007dff,#0079ff,#0075ff,#0071ff,#006eff,#006bff,#0068ff,#06f,#0063ff,#0061ff,#005eff,#005bff,#0058ff,#0056ff,#0053ff,#0052ff,#0051ff,#0050ff,#004fff,#004eff,#004aff,#0047ff,#0040ff,#0039ff,#0032ff,#002cff,#0025ff,#002bff,#0034ff,#003dff,#0045ff,#004eff,#0057ff,#0061ff,#006aff,#0078ff,#008aff,#009dff,#00b0ff,#00c7ff,#00e3ff,#0ff,#00ffd7,#00ffaf,#0f8,#00ff65,#00ff41,#00ff1e,#06ff00,#2cff00,#53ff00,#7aff00,#b5ff00,#f0ff00,#ffd800,#ffa500,#ff6b00,#ff2b00,#ff0d00,#ff0500,#ff0e00,#ff1d00,#ff4700,#ff7500,#ffad00,#f8ff00,#a3ff00,#54ff00,#0aff00,#00ff2b,#00ff5c,#00ff8f,#00ffc6,#00fffd,#00d9ff,#00b1ff,#0092ff,#07f,#0062ff,#005dff,#0058ff,#0052ff,#004dff,#0048ff,#0046ff,#04f,#0042ff,#0040ff,#003fff,#003eff,#003cff,#003cff,#003dff,#003eff,#003fff,#003fff,#0040ff,#0041ff,#0042ff,#0042ff,#0042ff,#0042ff,#0042ff)"></i>
<i style="left:160px;width:4.6px;background:linear-gradient(#009fff,#009fff,#009fff,#009bff,#0092ff,#0089ff,#0080ff,#07f,#0083ff,#0094ff,#00a6ff,#00b9ff,#00d6ff,#00f3ff,#00ffe5,#00ffba,#00ff8e,#00ff5e,#00ff2c,#06ff00,#34ff00,#62ff00,#98ff00,#d9ff00,#ffec00,#ffd200,#ffc600,#fb0,#ffa300,#ff8200,#ff6500,#ff4800,#ff2e00,#ff1500,#f00,#ff1000,#ff2b00,#ff4700,#ff5d00,#ff6a00,#ff8200,#ffa500,#ffe100,#e6ff00,#b4ff00,#83ff00,#52ff00,#21ff00,#00ff0e,#00ff3b,#00ff68,#00ff93,#00ffbd,#00ffe7,#00f8ff,#00e2ff,#00cdff,#00b7ff,#00a7ff,#009cff,#0091ff,#0086ff,#008aff,#0095ff,#00a0ff,#00acff,#00b8ff,#00c4ff,#00bdff,#00b6ff,#00b0ff,#00a9ff,#00a3ff,#009dff,#0097ff,#0091ff,#008bff,#008cff,#008dff,#008eff,#008fff,#0090ff,#008fff,#008dff,#008cff,#0089ff,#0086ff,#0083ff,#0081ff,#007dff,#0078ff,#0074ff,#0071ff,#006eff,#006bff,#0068ff,#06f,#0063ff,#0060ff,#005eff,#005bff,#0058ff,#05f,#0052ff,#0052ff,#0051ff,#0050ff,#004fff,#004eff,#004bff,#0047ff,#0040ff,#003aff,#03f,#002dff,#0026ff,#002cff,#0034ff,#003dff,#0045ff,#004eff,#0057ff,#0061ff,#006aff,#07f,#008aff,#009dff,#00afff,#00c5ff,#00e0ff,#00fcff,#00ffdb,#00ffb3,#00ff8b,#00ff67,#00ff43,#00ff1f,#05ff00,#2cff00,#53ff00,#79ff00,#b4ff00,#efff00,#ffda00,#ffa700,#ff6f00,#ff3100,#ff1000,#ff0400,#ff0d00,#ff1a00,#f40,#ff7300,#fa0,#fbff00,#a6ff00,#56ff00,#0bff00,#00ff2a,#00ff5c,#00ff8e,#00ffc5,#00fffc,#00d9ff,#00b2ff,#0092ff,#07f,#0062ff,#005dff,#0058ff,#0052ff,#004dff,#0048ff,#0046ff,#04f,#0042ff,#0040ff,#003fff,#003dff,#003cff,#003cff,#003dff,#003dff,#003eff,#003fff,#0040ff,#0041ff,#0041ff,#0041ff,#0041ff,#0041ff,#0041ff)"></i>
<i style="left:164px;width:4.6px;background:linear-gradient(#00a0ff,#00a0ff,#00a0ff,#009cff,#0093ff,#008aff,#0082ff,#0079ff,#0085ff,#0096ff,#00a7ff,#00baff,#00d7ff,#00f4ff,#00ffe5,#00ffb9,#00ff8e,#00ff5e,#00ff2c,#06ff00,#34ff00,#62ff00,#9f0,#dbff00,#ffea00,#ffd100,#ffc700,#ffbe00,#ffa600,#ff8400,#f60,#ff4900,#ff2f00,#ff1500,#f00,#ff1000,#ff2c00,#ff4800,#ff5e00,#ff6c00,#ff8500,#ffa900,#ffe500,#e3ff00,#b1ff00,#81ff00,#51ff00,#20ff00,#00ff0f,#00ff3c,#00ff69,#00ff95,#00ffbf,#00ffe9,#00f7ff,#00e2ff,#00cdff,#00b7ff,#00a8ff,#009dff,#0093ff,#08f,#008cff,#0096ff,#00a1ff,#00acff,#00b8ff,#00c4ff,#00bfff,#00b9ff,#00b2ff,#00abff,#00a4ff,#009eff,#0098ff,#0092ff,#008cff,#008cff,#008dff,#008eff,#008fff,#0090ff,#008fff,#008eff,#008cff,#0089ff,#0086ff,#0083ff,#0080ff,#007cff,#0078ff,#0074ff,#0071ff,#006eff,#006aff,#0068ff,#0065ff,#0062ff,#0060ff,#005dff,#005aff,#0057ff,#0054ff,#0051ff,#0051ff,#0050ff,#0050ff,#004fff,#004eff,#004bff,#0047ff,#0041ff,#003aff,#0034ff,#002dff,#0027ff,#002cff,#0035ff,#003dff,#0046ff,#004eff,#0058ff,#0061ff,#006bff,#07f,#008aff,#009dff,#00afff,#00c3ff,#00deff,#00f9ff,#00ffe0,#00ffb7,#00ff8f,#00ff6a,#00ff45,#00ff20,#05ff00,#2bff00,#52ff00,#79ff00,#b3ff00,#ef0,#ffdb00,#ffa800,#ff7300,#ff3700,#ff1400,#ff0200,#ff0c00,#ff1700,#ff4000,#ff7000,#ffa800,#fdff00,#a8ff00,#58ff00,#0dff00,#00ff29,#00ff5b,#00ff8d,#00ffc4,#00fffc,#00daff,#00b2ff,#0093ff,#0078ff,#0061ff,#005cff,#0057ff,#0052ff,#004dff,#0048ff,#0046ff,#04f,#0041ff,#0040ff,#003fff,#003dff,#003cff,#003cff,#003cff,#003dff,#003dff,#003eff,#003fff,#0040ff,#0041ff,#0041ff,#0041ff,#0041ff,#0041ff)"></i>
<i style="left:168px;width:4.6px;background:linear-gradient(#00a1ff,#00a1ff,#00a1ff,#009cff,#0094ff,#008cff,#0083ff,#007bff,#0086ff,#0097ff,#00a8ff,#00baff,#00d7ff,#00f4ff,#00ffe4,#00ffb9,#00ff8e,#00ff5e,#00ff2b,#07ff00,#35ff00,#63ff00,#9aff00,#df0,#ffe700,#ffd100,#ffc800,#ffc000,#fa0,#ff8700,#ff6800,#ff4900,#ff2f00,#ff1500,#f00,#ff0f00,#ff2c00,#ff4900,#ff6000,#ff6f00,#f80,#ffad00,#ffe900,#e0ff00,#afff00,#7fff00,#4fff00,#1fff00,#00ff10,#00ff3d,#00ff6b,#00ff97,#00ffc1,#00ffeb,#00f6ff,#00e1ff,#0cf,#00b7ff,#00a9ff,#009fff,#0094ff,#008aff,#008eff,#0098ff,#00a1ff,#00acff,#00b8ff,#00c3ff,#00c2ff,#0bf,#00b4ff,#00adff,#00a6ff,#00a0ff,#009aff,#0094ff,#008eff,#008dff,#008eff,#008eff,#008fff,#0090ff,#008fff,#008eff,#008dff,#008aff,#0087ff,#0084ff,#0080ff,#007cff,#0078ff,#0074ff,#0070ff,#006dff,#006aff,#0067ff,#0065ff,#0062ff,#005fff,#005cff,#0059ff,#0056ff,#0053ff,#0050ff,#0050ff,#0050ff,#0050ff,#004fff,#004eff,#004bff,#0048ff,#0041ff,#003bff,#0034ff,#002eff,#0028ff,#002dff,#0035ff,#003dff,#0046ff,#004eff,#0058ff,#0061ff,#006bff,#07f,#008aff,#009cff,#00afff,#00c2ff,#00dcff,#00f6ff,#00ffe5,#00ffbc,#00ff92,#00ff6d,#00ff47,#0f2,#04ff00,#2bff00,#51ff00,#78ff00,#b2ff00,#edff00,#ffdc00,#ffa900,#f70,#ff3d00,#ff1700,#ff0100,#ff0b00,#ff1400,#ff3c00,#ff6d00,#ffa500,#fffe00,#abff00,#5aff00,#0eff00,#00ff28,#00ff5a,#00ff8c,#00ffc4,#00fffc,#00daff,#00b3ff,#0093ff,#0078ff,#0061ff,#005cff,#0057ff,#0052ff,#004eff,#0049ff,#0046ff,#04f,#0041ff,#0040ff,#003eff,#003dff,#003cff,#003cff,#003cff,#003dff,#003dff,#003eff,#003fff,#003fff,#0040ff,#0040ff,#0040ff,#0040ff,#0040ff)"></i>
<i style="left:172px;width:4.6px;background:linear-gradient(#00a1ff,#00a1ff,#00a1ff,#009dff,#0095ff,#008dff,#0084ff,#007cff,#08f,#0098ff,#00a9ff,#0bf,#00d8ff,#00f5ff,#00ffe4,#00ffb9,#00ff8e,#00ff5e,#00ff2b,#07ff00,#35ff00,#63ff00,#9bff00,#dfff00,#ffe500,#ffd000,#ffc900,#ffc300,#ffad00,#ff8a00,#ff6a00,#ff4a00,#ff2f00,#ff1500,#f00,#ff0e00,#ff2c00,#ff4a00,#ff6200,#ff7100,#ff8a00,#ffb000,#ffed00,#df0,#acff00,#7dff00,#4eff00,#1eff00,#0f1,#00ff3f,#00ff6c,#0f9,#00ffc3,#0fe,#00f6ff,#00e1ff,#0cf,#00b8ff,#0af,#00a0ff,#0096ff,#008cff,#008fff,#09f,#00a2ff,#00adff,#00b8ff,#00c3ff,#00c4ff,#00bdff,#00b6ff,#00afff,#00a7ff,#00a1ff,#009bff,#0096ff,#0090ff,#008dff,#008eff,#008fff,#008fff,#0090ff,#0090ff,#008eff,#008dff,#008aff,#0087ff,#0084ff,#0080ff,#007cff,#0078ff,#0074ff,#0070ff,#006dff,#006aff,#0067ff,#0064ff,#0062ff,#005fff,#005cff,#0059ff,#0056ff,#0052ff,#004fff,#004fff,#004fff,#004fff,#004fff,#004fff,#004bff,#0048ff,#0042ff,#003bff,#0035ff,#002fff,#0029ff,#002dff,#0035ff,#003eff,#0046ff,#004eff,#0058ff,#0062ff,#006cff,#07f,#0089ff,#009cff,#00aeff,#00c0ff,#00daff,#00f3ff,#00ffea,#00ffc0,#00ff96,#00ff70,#00ff49,#00ff23,#04ff00,#2aff00,#51ff00,#7f0,#b1ff00,#ecff00,#fd0,#ffab00,#ff7a00,#ff4200,#ff1a00,#ff0100,#ff0900,#ff1300,#ff3800,#ff6a00,#ffa200,#fffb00,#aeff00,#5cff00,#10ff00,#00ff27,#00ff59,#00ff8b,#00ffc3,#00fffb,#00daff,#00b3ff,#0093ff,#0078ff,#0061ff,#005cff,#0057ff,#0052ff,#004eff,#0049ff,#0046ff,#04f,#0041ff,#0040ff,#003eff,#003dff,#003cff,#003bff,#003cff,#003cff,#003cff,#003dff,#003eff,#003fff,#003fff,#003fff,#003fff,#003fff,#003fff)"></i>
<i style="left:176px;width:4.6px;background:linear-gradient(#00a2ff,#00a2ff,#00a2ff,#009eff,#0096ff,#008eff,#0086ff,#007eff,#0089ff,#09f,#0af,#00bcff,#00d8ff,#00f5ff,#00ffe3,#00ffb9,#00ff8e,#00ff5e,#00ff2b,#07ff00,#36ff00,#64ff00,#9dff00,#e1ff00,#ffe300,#ffcf00,#ffca00,#ffc500,#ffb000,#ff8c00,#ff6c00,#ff4b00,#ff3000,#ff1500,#ff0100,#ff0e00,#ff2d00,#ff4b00,#ff6300,#ff7300,#ff8d00,#ffb400,#fff100,#daff00,#af0,#7bff00,#4cff00,#1dff00,#00ff12,#00ff40,#00ff6e,#00ff9b,#00ffc5,#00fff0,#00f5ff,#00e1ff,#0cf,#00b8ff,#00abff,#00a1ff,#0098ff,#008eff,#0091ff,#009aff,#00a3ff,#00adff,#00b8ff,#00c2ff,#00c7ff,#00c0ff,#00b8ff,#00b1ff,#00a9ff,#00a3ff,#009dff,#0097ff,#0091ff,#008eff,#008eff,#008fff,#008fff,#0090ff,#0090ff,#008fff,#008dff,#008bff,#0087ff,#0084ff,#0080ff,#007dff,#0078ff,#0073ff,#0070ff,#006cff,#0069ff,#06f,#0064ff,#0061ff,#005eff,#005bff,#0058ff,#05f,#0052ff,#004eff,#004fff,#004fff,#004fff,#004fff,#004fff,#004bff,#0048ff,#0042ff,#003cff,#0036ff,#0030ff,#0029ff,#002dff,#0036ff,#003eff,#0046ff,#004fff,#0058ff,#0062ff,#006cff,#07f,#0089ff,#009cff,#00aeff,#00bfff,#00d8ff,#00f0ff,#00ffef,#00ffc4,#00ff9a,#00ff73,#00ff4c,#00ff24,#03ff00,#2aff00,#50ff00,#7f0,#b0ff00,#ebff00,#ffde00,#ffac00,#ff7d00,#ff4600,#ff1e00,#ff0400,#ff0800,#ff1200,#ff3400,#ff6800,#ff9f00,#fff800,#b0ff00,#5fff00,#1f0,#00ff27,#00ff58,#00ff8a,#00ffc2,#00fffb,#00dbff,#00b4ff,#0094ff,#0079ff,#0061ff,#005cff,#0057ff,#0052ff,#004eff,#0049ff,#0046ff,#0043ff,#0041ff,#003fff,#003eff,#003dff,#003bff,#003bff,#003bff,#003cff,#003cff,#003cff,#003dff,#003eff,#003eff,#003eff,#003eff,#003eff,#003eff)"></i>
<i style="left:180px;width:4.6px;background:linear-gradient(#00a3ff,#00a3ff,#00a3ff,#009fff,#0097ff,#008fff,#0087ff,#0080ff,#008bff,#009bff,#00abff,#00bcff,#00d9ff,#00f6ff,#00ffe3,#00ffb8,#00ff8e,#00ff5e,#00ff2b,#08ff00,#36ff00,#65ff00,#9eff00,#e3ff00,#ffe000,#ffcf00,#ffcb00,#ffc800,#ffb400,#ff8f00,#ff6d00,#ff4c00,#ff3000,#ff1500,#ff0100,#ff0d00,#ff2d00,#ff4c00,#ff6500,#ff7500,#ff8f00,#ffb800,#fff500,#d7ff00,#a8ff00,#79ff00,#4bff00,#1cff00,#00ff13,#00ff41,#00ff70,#00ff9c,#00ffc8,#00fff3,#00f4ff,#00e0ff,#0cf,#00b8ff,#00acff,#00a2ff,#09f,#0090ff,#0093ff,#009cff,#00a4ff,#00adff,#00b8ff,#00c2ff,#00caff,#00c2ff,#00baff,#00b3ff,#00abff,#00a4ff,#009fff,#09f,#0093ff,#008eff,#008fff,#008fff,#0090ff,#0090ff,#0090ff,#008fff,#008eff,#008bff,#08f,#0084ff,#0081ff,#007dff,#0078ff,#0073ff,#006fff,#006cff,#0069ff,#06f,#0063ff,#0061ff,#005eff,#005bff,#0057ff,#0054ff,#0051ff,#004eff,#004eff,#004eff,#004fff,#004fff,#004fff,#004cff,#0048ff,#0042ff,#003cff,#0036ff,#0030ff,#002aff,#002eff,#0036ff,#003eff,#0046ff,#004fff,#0058ff,#0062ff,#006cff,#0078ff,#0089ff,#009cff,#00aeff,#00bfff,#00d6ff,#0ef,#00fff4,#00ffc9,#00ff9e,#00ff76,#00ff4e,#00ff26,#02ff00,#29ff00,#50ff00,#76ff00,#afff00,#eaff00,#ffdf00,#ffad00,#ff8000,#ff4b00,#ff2100,#ff0700,#ff0700,#f10,#ff2f00,#ff6400,#ff9d00,#fff500,#b3ff00,#61ff00,#12ff00,#00ff26,#00ff57,#00ff89,#00ffc2,#00fffb,#00dbff,#00b4ff,#0094ff,#0079ff,#0061ff,#005cff,#0057ff,#0052ff,#004eff,#0049ff,#0046ff,#0043ff,#0041ff,#003fff,#003eff,#003dff,#003bff,#003bff,#003bff,#003bff,#003bff,#003cff,#003dff,#003dff,#003eff,#003eff,#003eff,#003eff,#003eff)"></i>
<i style="left:184px;width:4.6px;background:linear-gradient(#00a3ff,#00a3ff,#00a3ff,#00a0ff,#0098ff,#0090ff,#0089ff,#0081ff,#008cff,#009cff,#00abff,#00bdff,#00d9ff,#00f6ff,#00ffe2,#00ffb8,#00ff8e,#00ff5e,#00ff2b,#08ff00,#37ff00,#65ff00,#9fff00,#e5ff00,#ffde00,#ffce00,#fc0,#ffca00,#ffb800,#ff9200,#ff6f00,#ff4d00,#ff3100,#ff1500,#ff0100,#ff0d00,#ff2e00,#ff4e00,#ff6700,#ff7800,#ff9200,#fb0,#fff900,#d4ff00,#a5ff00,#78ff00,#49ff00,#1bff00,#00ff14,#00ff43,#00ff71,#00ff9e,#00ffca,#00fff5,#00f3ff,#00e0ff,#0cf,#00b9ff,#00adff,#00a4ff,#009bff,#0092ff,#0095ff,#009dff,#00a5ff,#00aeff,#00b8ff,#00c2ff,#0cf,#00c5ff,#00bdff,#00b5ff,#00adff,#00a6ff,#00a0ff,#009aff,#0095ff,#008fff,#008fff,#0090ff,#0090ff,#0090ff,#0091ff,#008fff,#008eff,#008cff,#08f,#0084ff,#0081ff,#007dff,#0078ff,#0073ff,#006fff,#006cff,#0069ff,#0065ff,#0063ff,#0060ff,#005dff,#005aff,#0057ff,#0054ff,#0050ff,#004dff,#004dff,#004eff,#004eff,#004fff,#004fff,#004cff,#0048ff,#0043ff,#003dff,#0037ff,#0031ff,#002bff,#002eff,#0036ff,#003fff,#0047ff,#004fff,#0058ff,#0062ff,#006dff,#0078ff,#0089ff,#009bff,#00adff,#00bfff,#00d4ff,#00ebff,#00fff9,#00ffce,#00ffa3,#00ff79,#00ff50,#00ff27,#02ff00,#28ff00,#4fff00,#76ff00,#aeff00,#e9ff00,#ffe000,#ffaf00,#ff8300,#ff4f00,#ff2400,#ff0a00,#ff0600,#ff0f00,#ff2a00,#ff6100,#ff9a00,#fff300,#b5ff00,#63ff00,#14ff00,#00ff25,#00ff56,#0f8,#00ffc1,#00fffa,#00dcff,#00b5ff,#0094ff,#007aff,#0060ff,#005cff,#0057ff,#0052ff,#004eff,#0049ff,#0046ff,#0043ff,#0041ff,#003fff,#003eff,#003cff,#003bff,#003bff,#003bff,#003bff,#003bff,#003bff,#003cff,#003dff,#003dff,#003dff,#003dff,#003dff,#003dff)"></i>
<i style="left:188px;width:4.6px;background:linear-gradient(#00a4ff,#00a4ff,#00a4ff,#00a0ff,#09f,#0092ff,#008aff,#0083ff,#008eff,#009dff,#00acff,#00beff,#00daff,#00f6ff,#00ffe2,#00ffb8,#00ff8e,#00ff5e,#00ff2a,#08ff00,#37ff00,#6f0,#a1ff00,#e7ff00,#ffdb00,#ffce00,#ffcd00,#fc0,#fb0,#ff9500,#ff7100,#ff4e00,#ff3100,#ff1500,#ff0100,#ff0c00,#ff2e00,#ff4f00,#ff6800,#ff7a00,#ff9400,#ffbf00,#fffd00,#d1ff00,#a3ff00,#76ff00,#48ff00,#1aff00,#00ff15,#0f4,#00ff73,#00ffa0,#0fc,#00fff8,#00f3ff,#00dfff,#0cf,#00b9ff,#00aeff,#00a5ff,#009dff,#0094ff,#0097ff,#009eff,#00a6ff,#00aeff,#00b8ff,#00c2ff,#0cf,#00c7ff,#00bfff,#00b7ff,#00afff,#00a7ff,#00a2ff,#009cff,#0096ff,#0091ff,#0090ff,#0090ff,#0090ff,#0091ff,#0091ff,#0090ff,#008eff,#008dff,#0089ff,#0085ff,#0081ff,#007dff,#0078ff,#0073ff,#006fff,#006bff,#0068ff,#0065ff,#0062ff,#0060ff,#005dff,#005aff,#0056ff,#0053ff,#004fff,#004cff,#004cff,#004dff,#004eff,#004fff,#0050ff,#004cff,#0049ff,#0043ff,#003dff,#0038ff,#0032ff,#002cff,#002fff,#0037ff,#003fff,#0047ff,#004fff,#0058ff,#0063ff,#006dff,#0078ff,#0089ff,#009bff,#00adff,#00beff,#00d3ff,#00e9ff,#00fffe,#00ffd2,#00ffa7,#00ff7d,#00ff53,#00ff29,#01ff00,#28ff00,#4fff00,#75ff00,#adff00,#e8ff00,#ffe100,#ffb000,#ff8500,#ff5300,#ff2800,#ff0e00,#ff0500,#ff0e00,#ff2500,#ff5e00,#ff9800,#fff000,#b8ff00,#65ff00,#16ff00,#00ff24,#0f5,#00ff87,#00ffc0,#00fffa,#00dcff,#00b5ff,#0095ff,#007aff,#0060ff,#005cff,#0057ff,#0052ff,#004eff,#0049ff,#0046ff,#0043ff,#0041ff,#003fff,#003eff,#003cff,#003bff,#003aff,#003aff,#003aff,#003aff,#003bff,#003bff,#003cff,#003cff,#003cff,#003cff,#003cff,#003cff)"></i>
<i style="left:192px;width:4.6px;background:linear-gradient(#00a5ff,#00a5ff,#00a5ff,#00a1ff,#009aff,#0093ff,#008cff,#0085ff,#008fff,#009eff,#00adff,#00beff,#00dbff,#00f7ff,#00ffe1,#00ffb8,#00ff8e,#00ff5d,#00ff2a,#09ff00,#38ff00,#67ff00,#a2ff00,#e9ff00,#ffd800,#ffcd00,#ffce00,#ffcf00,#ffbf00,#ff9800,#ff7400,#ff5000,#ff3200,#ff1500,#ff0100,#ff0c00,#ff2f00,#ff5000,#ff6a00,#ff7c00,#ff9700,#ffc300,#feff00,#cfff00,#a1ff00,#74ff00,#47ff00,#19ff00,#00ff16,#00ff45,#00ff75,#00ffa2,#00ffce,#00fffb,#00f2ff,#00dfff,#0cf,#00b9ff,#00afff,#00a6ff,#009eff,#0096ff,#0098ff,#00a0ff,#00a7ff,#00afff,#00b8ff,#00c2ff,#00cbff,#00caff,#00c2ff,#00b9ff,#00b1ff,#00a8ff,#00a3ff,#009dff,#0098ff,#0093ff,#0090ff,#0091ff,#0091ff,#0091ff,#0091ff,#0090ff,#008fff,#008dff,#0089ff,#0085ff,#0081ff,#007dff,#0078ff,#0073ff,#006eff,#006bff,#0068ff,#0065ff,#0062ff,#005fff,#005cff,#0059ff,#0056ff,#0052ff,#004fff,#004bff,#004bff,#004cff,#004eff,#004fff,#0050ff,#004cff,#0049ff,#04f,#003eff,#0038ff,#0032ff,#002dff,#002fff,#0037ff,#003fff,#0047ff,#004fff,#0059ff,#0063ff,#006dff,#0078ff,#0089ff,#009bff,#00adff,#00beff,#00d2ff,#00e7ff,#00fdff,#00ffd7,#00ffab,#00ff80,#0f5,#00ff2a,#01ff00,#27ff00,#4eff00,#75ff00,#acff00,#e7ff00,#ffe200,#ffb100,#ff8700,#ff5700,#ff2b00,#f10,#ff0400,#ff0d00,#ff1f00,#ff5a00,#ff9600,#ffed00,#bf0,#67ff00,#17ff00,#00ff23,#0f5,#00ff86,#00ffc0,#00fff9,#00dcff,#00b6ff,#0095ff,#007aff,#0060ff,#005bff,#0057ff,#0052ff,#004eff,#0049ff,#0046ff,#0043ff,#0041ff,#003fff,#003dff,#003cff,#003bff,#003aff,#003aff,#003aff,#003aff,#003aff,#003bff,#003bff,#003cff,#003cff,#003cff,#003cff,#003cff)"></i>
<i style="left:196px;width:4.6px;background:linear-gradient(#00a5ff,#00a5ff,#00a5ff,#00a2ff,#009bff,#0094ff,#008dff,#0086ff,#0091ff,#00a0ff,#00aeff,#00bfff,#00dbff,#00f7ff,#00ffe1,#00ffb7,#00ff8e,#00ff5d,#00ff2a,#09ff00,#38ff00,#67ff00,#a4ff00,#ecff00,#ffd600,#ffcd00,#ffce00,#ffd100,#ffc200,#ff9b00,#ff7600,#ff5100,#ff3200,#ff1500,#ff0100,#ff0b00,#ff2f00,#ff5100,#ff6c00,#ff7f00,#f90,#ffc700,#fbff00,#cf0,#9fff00,#72ff00,#45ff00,#18ff00,#00ff17,#00ff47,#0f7,#00ffa4,#00ffd1,#00fffd,#00f1ff,#00dfff,#0cf,#00baff,#00b0ff,#00a8ff,#00a0ff,#0098ff,#009aff,#00a1ff,#00a9ff,#00b0ff,#00b9ff,#00c2ff,#00cbff,#00cdff,#00c4ff,#00bcff,#00b3ff,#0af,#00a4ff,#009fff,#009aff,#0094ff,#0091ff,#0091ff,#0091ff,#0091ff,#0091ff,#0090ff,#008fff,#008eff,#008aff,#0086ff,#0081ff,#007dff,#0078ff,#0073ff,#006eff,#006bff,#0068ff,#0064ff,#0061ff,#005fff,#005cff,#0059ff,#05f,#0052ff,#004eff,#004aff,#004aff,#004cff,#004dff,#004fff,#0050ff,#004dff,#0049ff,#04f,#003eff,#0039ff,#03f,#002eff,#002fff,#0037ff,#0040ff,#0048ff,#0050ff,#0059ff,#0063ff,#006dff,#0078ff,#08f,#009bff,#00adff,#00beff,#00d1ff,#00e5ff,#00faff,#00ffdc,#00ffb0,#00ff84,#00ff58,#00ff2c,#0f0,#27ff00,#4dff00,#74ff00,#acff00,#e6ff00,#ffe300,#ffb300,#ff8900,#ff5a00,#ff2f00,#ff1400,#ff0200,#ff0c00,#ff1b00,#ff5600,#ff9400,#ffea00,#bdff00,#6aff00,#19ff00,#0f2,#00ff54,#00ff85,#00ffbf,#00fff9,#0df,#00b6ff,#0096ff,#007bff,#0060ff,#005bff,#0057ff,#0052ff,#004eff,#0049ff,#0046ff,#0043ff,#0040ff,#003fff,#003dff,#003cff,#003bff,#003aff,#003aff,#003aff,#0039ff,#003aff,#003aff,#003bff,#003bff,#003bff,#003bff,#003bff,#003bff)"></i>
<i style="left:200px;width:4.6px;background:linear-gradient(#00a6ff,#00a6ff,#00a6ff,#00a3ff,#009cff,#0095ff,#008fff,#08f,#0092ff,#00a1ff,#00afff,#00bfff,#00dcff,#00f8ff,#00ffe0,#00ffb7,#00ff8e,#00ff5d,#00ff2a,#09ff00,#39ff00,#68ff00,#a5ff00,#ef0,#ffd300,#fc0,#ffcf00,#ffd300,#ffc600,#ff9f00,#ff7800,#ff5200,#f30,#ff1500,#ff0100,#ff0b00,#ff2f00,#ff5300,#ff6e00,#ff8100,#ff9b00,#ffcb00,#f7ff00,#c9ff00,#9dff00,#71ff00,#4f0,#17ff00,#00ff18,#00ff48,#00ff78,#00ffa6,#00ffd3,#0ff,#00f1ff,#00dfff,#0cf,#00baff,#00b1ff,#00a9ff,#00a2ff,#009aff,#009cff,#00a3ff,#0af,#00b1ff,#00b9ff,#00c2ff,#00cbff,#00d0ff,#00c7ff,#00beff,#00b5ff,#00acff,#00a6ff,#00a0ff,#009bff,#0096ff,#0092ff,#0092ff,#0091ff,#0091ff,#0091ff,#0091ff,#008fff,#008eff,#008bff,#0086ff,#0082ff,#007dff,#0078ff,#0073ff,#006eff,#006aff,#0067ff,#0064ff,#0061ff,#005eff,#005bff,#0058ff,#05f,#0051ff,#004dff,#004aff,#0049ff,#004bff,#004dff,#004eff,#0050ff,#004dff,#0049ff,#04f,#003fff,#0039ff,#0034ff,#002eff,#0030ff,#0038ff,#0040ff,#0048ff,#0050ff,#0059ff,#0063ff,#006eff,#0078ff,#08f,#009aff,#00adff,#00beff,#00d0ff,#00e4ff,#00f8ff,#00ffe2,#00ffb4,#00ff87,#00ff5b,#00ff2e,#00ff01,#26ff00,#4dff00,#74ff00,#abff00,#e6ff00,#ffe400,#ffb400,#ff8a00,#ff5e00,#ff3400,#ff1800,#ff0100,#ff0b00,#ff1800,#ff5200,#ff9200,#ffe800,#c0ff00,#6cff00,#1aff00,#00ff21,#00ff53,#00ff84,#00ffbe,#00fff9,#0df,#00b7ff,#0096ff,#007bff,#0060ff,#005bff,#0057ff,#0052ff,#004eff,#0049ff,#0046ff,#0043ff,#0040ff,#003eff,#003dff,#003cff,#003aff,#003aff,#003aff,#0039ff,#0039ff,#0039ff,#003aff,#003aff,#003aff,#003aff,#003aff,#003aff,#003aff)"></i>
<i style="left:204px;width:4.6px;background:linear-gradient(#00a7ff,#00a7ff,#00a7ff,#00a4ff,#009dff,#0097ff,#0090ff,#008aff,#0094ff,#00a2ff,#00b0ff,#00c0ff,#00dcff,#00f8ff,#00ffe0,#00ffb7,#00ff8e,#00ff5d,#00ff29,#0aff00,#39ff00,#68ff00,#a7ff00,#f0ff00,#ffd000,#fc0,#ffd000,#ffd500,#ffca00,#ffa200,#ff7a00,#ff5400,#f30,#ff1500,#ff0100,#ff0a00,#ff3000,#ff5400,#ff7000,#ff8400,#ff9e00,#ffcf00,#f4ff00,#c7ff00,#9bff00,#6fff00,#43ff00,#16ff00,#00ff19,#00ff49,#00ff7a,#00ffa8,#00ffd6,#00feff,#00f0ff,#00deff,#0cf,#00baff,#00b2ff,#0af,#00a3ff,#009cff,#009eff,#00a4ff,#00abff,#00b2ff,#00baff,#00c2ff,#00cbff,#00d3ff,#00caff,#00c0ff,#00b7ff,#00aeff,#00a7ff,#00a2ff,#009dff,#0097ff,#0092ff,#0092ff,#0092ff,#0092ff,#0091ff,#0091ff,#0090ff,#008eff,#008bff,#0087ff,#0082ff,#007dff,#0078ff,#0073ff,#006eff,#006aff,#0067ff,#0064ff,#0061ff,#005eff,#005bff,#0058ff,#0054ff,#0050ff,#004dff,#0049ff,#0048ff,#004aff,#004cff,#004eff,#0050ff,#004dff,#0049ff,#0045ff,#003fff,#003aff,#0034ff,#002fff,#0030ff,#0038ff,#0040ff,#0048ff,#0050ff,#0059ff,#0063ff,#006eff,#0079ff,#08f,#009aff,#00acff,#00bdff,#00cfff,#00e2ff,#00f6ff,#00ffe7,#00ffb9,#00ff8b,#00ff5e,#00ff2f,#00ff01,#26ff00,#4cff00,#73ff00,#af0,#e5ff00,#ffe500,#ffb500,#ff8c00,#ff6100,#ff3800,#ff1b00,#ff0200,#ff0a00,#ff1500,#ff4d00,#ff9000,#ffe500,#c3ff00,#6eff00,#1cff00,#00ff21,#00ff52,#00ff83,#00ffbd,#00fff8,#0df,#00b7ff,#0096ff,#007cff,#0061ff,#005bff,#0057ff,#0052ff,#004eff,#004aff,#0046ff,#0043ff,#0040ff,#003eff,#003dff,#003cff,#003aff,#003aff,#0039ff,#0039ff,#0038ff,#0038ff,#0039ff,#0039ff,#003aff,#003aff,#003aff,#003aff,#003aff)"></i>
<i style="left:208px;width:4.6px;background:linear-gradient(#00a7ff,#00a7ff,#00a7ff,#00a4ff,#009eff,#0098ff,#0092ff,#008bff,#0095ff,#00a3ff,#00b1ff,#00c1ff,#0df,#00f9ff,#00ffdf,#00ffb7,#00ff8e,#00ff5d,#00ff29,#0aff00,#3aff00,#69ff00,#a9ff00,#f3ff00,#ffcd00,#ffcb00,#ffd100,#ffd700,#ffce00,#ffa500,#ff7d00,#f50,#ff3400,#ff1500,#ff0100,#ff0a00,#ff3100,#f50,#ff7200,#ff8700,#ffa000,#ffd300,#f2ff00,#c4ff00,#9f0,#6eff00,#41ff00,#15ff00,#00ff1a,#00ff4b,#00ff7c,#0fa,#00ffd8,#00feff,#00f0ff,#00deff,#0cf,#0bf,#00b3ff,#00acff,#00a5ff,#009eff,#00a0ff,#00a6ff,#00acff,#00b3ff,#00baff,#00c3ff,#00cbff,#00d4ff,#0cf,#00c3ff,#00baff,#00b0ff,#00a9ff,#00a3ff,#009eff,#09f,#0094ff,#0093ff,#0092ff,#0092ff,#0092ff,#0091ff,#0090ff,#008fff,#008cff,#0087ff,#0082ff,#007eff,#0078ff,#0073ff,#006eff,#006aff,#06f,#0063ff,#0060ff,#005dff,#005aff,#0057ff,#0054ff,#0050ff,#004cff,#0048ff,#0047ff,#0049ff,#004cff,#004eff,#0050ff,#004dff,#004aff,#0045ff,#0040ff,#003aff,#0035ff,#0030ff,#0031ff,#0039ff,#0040ff,#0048ff,#0050ff,#0059ff,#0064ff,#006eff,#0079ff,#08f,#009aff,#00acff,#00bdff,#00ceff,#00e1ff,#00f4ff,#00ffec,#00ffbe,#00ff8f,#00ff61,#00ff31,#00ff02,#25ff00,#4cff00,#72ff00,#a9ff00,#e4ff00,#ffe600,#ffb600,#ff8d00,#ff6400,#ff3c00,#ff1e00,#ff0400,#ff0900,#ff1300,#ff4900,#ff8d00,#ffe200,#c5ff00,#71ff00,#1dff00,#00ff20,#00ff51,#00ff82,#00ffbd,#00fff8,#00deff,#00b8ff,#0097ff,#007cff,#0061ff,#005bff,#0057ff,#0052ff,#004eff,#004aff,#0046ff,#0043ff,#0040ff,#003eff,#003dff,#003bff,#003aff,#0039ff,#0039ff,#0038ff,#0038ff,#0038ff,#0038ff,#0039ff,#0039ff,#0039ff,#0039ff,#0039ff,#0039ff)"></i>
<i style="left:212px;width:4.6px;background:linear-gradient(#00a8ff,#00a8ff,#00a8ff,#00a5ff,#009fff,#09f,#0093ff,#008dff,#0097ff,#00a4ff,#00b2ff,#00c1ff,#0df,#00f9ff,#00ffdf,#00ffb6,#00ff8e,#00ff5d,#00ff29,#0aff00,#3aff00,#6aff00,#af0,#f5ff00,#ffca00,#ffcb00,#ffd200,#ffd900,#ffd100,#ffa800,#ff7f00,#ff5700,#ff3400,#ff1500,#ff0100,#ff0900,#ff3100,#ff5700,#ff7400,#ff8a00,#ffa200,#ffd700,#efff00,#c1ff00,#96ff00,#6cff00,#40ff00,#14ff00,#00ff1b,#00ff4c,#00ff7e,#00ffad,#00ffda,#00feff,#00efff,#00deff,#00cdff,#0bf,#00b4ff,#00adff,#00a7ff,#00a0ff,#00a2ff,#00a8ff,#00aeff,#00b4ff,#0bf,#00c3ff,#00cbff,#00d3ff,#00cfff,#00c6ff,#00bcff,#00b3ff,#0af,#00a5ff,#00a0ff,#009aff,#0095ff,#0093ff,#0093ff,#0093ff,#0092ff,#0092ff,#0090ff,#008fff,#008dff,#08f,#0083ff,#007eff,#0079ff,#0073ff,#006dff,#0069ff,#06f,#0063ff,#0060ff,#005dff,#005aff,#0057ff,#0053ff,#004fff,#004bff,#0047ff,#0046ff,#0049ff,#004bff,#004eff,#0050ff,#004eff,#004aff,#0045ff,#0040ff,#003bff,#0036ff,#0031ff,#0031ff,#0039ff,#0041ff,#0049ff,#0051ff,#0059ff,#0064ff,#006eff,#0079ff,#08f,#009aff,#00acff,#00bdff,#00cdff,#00e0ff,#00f2ff,#00fff2,#00ffc2,#00ff93,#00ff64,#0f3,#00ff03,#25ff00,#4bff00,#72ff00,#a8ff00,#e3ff00,#ffe700,#ffb800,#ff8e00,#f60,#ff4000,#f20,#ff0800,#ff0800,#ff1200,#f40,#ff8b00,#ffdf00,#c8ff00,#73ff00,#1fff00,#00ff1f,#00ff50,#00ff82,#00ffbc,#00fff8,#00deff,#00b8ff,#0097ff,#007cff,#0062ff,#005bff,#0056ff,#0052ff,#004eff,#004aff,#0046ff,#0043ff,#0040ff,#003eff,#003dff,#003bff,#003aff,#0039ff,#0039ff,#0038ff,#0037ff,#0037ff,#0038ff,#0038ff,#0038ff,#0038ff,#0038ff,#0038ff,#0038ff)"></i>
<i style="left:216px;width:4.6px;background:linear-gradient(#00a9ff,#00a9ff,#00a9ff,#00a6ff,#00a0ff,#009aff,#0095ff,#008fff,#0098ff,#00a5ff,#00b3ff,#00c2ff,#00deff,#00faff,#00ffdf,#00ffb6,#00ff8e,#00ff5d,#00ff29,#0bff00,#3bff00,#6aff00,#acff00,#f8ff00,#ffc800,#ffcb00,#ffd300,#ffdb00,#ffd500,#ffac00,#ff8200,#ff5800,#ff3500,#ff1600,#ff0100,#ff0800,#ff3200,#ff5800,#ff7600,#ff8c00,#ffa400,#ffdb00,#ecff00,#bfff00,#95ff00,#6aff00,#3fff00,#13ff00,#00ff1c,#00ff4e,#00ff80,#00ffaf,#0fd,#00feff,#00efff,#00deff,#00cdff,#00bcff,#00b5ff,#00afff,#00a8ff,#00a2ff,#00a4ff,#00a9ff,#00afff,#00b5ff,#0bf,#00c3ff,#00cbff,#00d3ff,#00d2ff,#00c8ff,#00bfff,#00b5ff,#00abff,#00a6ff,#00a1ff,#009cff,#0097ff,#0094ff,#0094ff,#0093ff,#0092ff,#0092ff,#0091ff,#008fff,#008eff,#0089ff,#0083ff,#007eff,#0079ff,#0073ff,#006dff,#0069ff,#06f,#0063ff,#005fff,#005cff,#005aff,#0057ff,#0053ff,#004fff,#004bff,#0046ff,#0045ff,#0048ff,#004bff,#004dff,#0050ff,#004eff,#004aff,#0046ff,#0041ff,#003cff,#0037ff,#0031ff,#0032ff,#0039ff,#0041ff,#0049ff,#0051ff,#0059ff,#0064ff,#006fff,#0079ff,#08f,#009aff,#00acff,#00bdff,#00cdff,#00dfff,#00f0ff,#00fff8,#00ffc7,#00ff97,#00ff67,#00ff35,#00ff03,#24ff00,#4bff00,#71ff00,#a7ff00,#e2ff00,#ffe700,#ffb900,#ff8f00,#ff6900,#ff4300,#ff2500,#ff0b00,#ff0600,#f10,#ff3e00,#f80,#ffdc00,#cbff00,#75ff00,#21ff00,#00ff1e,#00ff4f,#00ff81,#0fb,#00fff7,#00deff,#00b9ff,#0098ff,#007dff,#0062ff,#005bff,#0056ff,#0052ff,#004eff,#004aff,#0046ff,#0043ff,#0040ff,#003eff,#003cff,#003bff,#003aff,#0039ff,#0038ff,#0038ff,#0037ff,#0037ff,#0037ff,#0037ff,#0038ff,#0038ff,#0038ff,#0038ff,#0038ff)"></i>
<i style="left:220px;width:4.6px;background:linear-gradient(#0af,#0af,#0af,#00a7ff,#00a1ff,#009cff,#0096ff,#0090ff,#009aff,#00a7ff,#00b4ff,#00c3ff,#00deff,#00faff,#00ffde,#00ffb6,#00ff8e,#00ff5d,#00ff28,#0bff00,#3bff00,#6bff00,#aeff00,#faff00,#ffc500,#ffca00,#ffd400,#fd0,#ffd900,#ffaf00,#ff8500,#ff5a00,#ff3600,#ff1600,#ff0100,#ff0800,#ff3200,#ff5900,#ff7800,#ff8f00,#ffa600,#ffdf00,#e9ff00,#bcff00,#93ff00,#69ff00,#3eff00,#12ff00,#00ff1d,#00ff4f,#00ff82,#00ffb1,#00ffe0,#00feff,#00efff,#00deff,#00cdff,#00bcff,#00b6ff,#00b0ff,#0af,#00a4ff,#00a5ff,#00abff,#00b0ff,#00b6ff,#00bcff,#00c4ff,#0cf,#00d4ff,#00d5ff,#00cbff,#00c1ff,#00b7ff,#00adff,#00a7ff,#00a2ff,#009dff,#0098ff,#0095ff,#0094ff,#0094ff,#0093ff,#0092ff,#0091ff,#0090ff,#008eff,#0089ff,#0084ff,#007eff,#0079ff,#0073ff,#006dff,#0069ff,#0065ff,#0062ff,#005fff,#005cff,#0059ff,#0056ff,#0052ff,#004eff,#004aff,#0046ff,#04f,#0047ff,#004aff,#004dff,#0050ff,#004eff,#004aff,#0046ff,#0041ff,#003cff,#0037ff,#0032ff,#0032ff,#003aff,#0042ff,#0049ff,#0051ff,#0059ff,#0064ff,#006fff,#007aff,#08f,#009aff,#00abff,#00bdff,#00cdff,#00deff,#00efff,#00fffe,#00ffcd,#00ff9c,#00ff6a,#00ff37,#00ff04,#23ff00,#4aff00,#71ff00,#a6ff00,#e1ff00,#ffe800,#ffba00,#ff9000,#ff6b00,#ff4600,#ff2800,#ff0e00,#ff0500,#ff0f00,#ff3800,#ff8500,#ffda00,#cdff00,#78ff00,#23ff00,#00ff1d,#00ff4e,#00ff80,#0fb,#00fff7,#00dfff,#00b9ff,#0098ff,#007dff,#0062ff,#005aff,#0056ff,#0052ff,#004eff,#004aff,#0046ff,#0043ff,#0040ff,#003eff,#003cff,#003bff,#003aff,#0039ff,#0038ff,#0037ff,#0037ff,#0036ff,#0036ff,#0037ff,#0037ff,#0037ff,#0037ff,#0037ff,#0037ff)"></i>
<i style="left:224px;width:4.6px;background:linear-gradient(#0af,#0af,#0af,#00a8ff,#00a2ff,#009dff,#0098ff,#0092ff,#009bff,#00a8ff,#00b4ff,#00c3ff,#00dfff,#00faff,#00ffde,#00ffb6,#00ff8e,#00ff5d,#00ff28,#0bff00,#3cff00,#6cff00,#b0ff00,#fdff00,#ffc200,#ffca00,#ffd500,#ffdf00,#fd0,#ffb200,#f80,#ff5c00,#ff3600,#ff1600,#ff0100,#ff0700,#f30,#ff5b00,#ff7b00,#ff9200,#ffa800,#ffe300,#e6ff00,#baff00,#91ff00,#67ff00,#3dff00,#12ff00,#00ff1e,#00ff51,#00ff84,#00ffb3,#00ffe2,#00feff,#0ef,#00deff,#00cdff,#00bdff,#00b7ff,#00b1ff,#00acff,#00a6ff,#00a7ff,#00adff,#00b2ff,#00b7ff,#00bdff,#00c4ff,#0cf,#00d4ff,#00d8ff,#00ceff,#00c4ff,#00baff,#00b0ff,#00a9ff,#00a4ff,#009fff,#009aff,#0096ff,#0095ff,#0094ff,#0093ff,#0092ff,#0091ff,#0090ff,#008fff,#008aff,#0084ff,#007fff,#0079ff,#0073ff,#006dff,#0068ff,#0065ff,#0062ff,#005fff,#005cff,#0059ff,#0056ff,#0052ff,#004dff,#0049ff,#0045ff,#0043ff,#0046ff,#0049ff,#004dff,#0050ff,#004fff,#004bff,#0046ff,#0041ff,#003dff,#0038ff,#03f,#0032ff,#003aff,#0042ff,#004aff,#0051ff,#0059ff,#0064ff,#006fff,#007aff,#08f,#09f,#00abff,#00bdff,#00cdff,#0df,#00edff,#00fdff,#00ffd2,#00ffa0,#00ff6e,#00ff3a,#00ff05,#23ff00,#49ff00,#70ff00,#a5ff00,#e0ff00,#ffe900,#fb0,#ff9100,#ff6d00,#ff4900,#ff2b00,#ff1200,#ff0400,#ff0e00,#ff3200,#ff8200,#ffd700,#d0ff00,#7aff00,#24ff00,#00ff1c,#00ff4e,#00ff7f,#00ffba,#00fff6,#00dfff,#00baff,#0098ff,#007eff,#0063ff,#005aff,#0056ff,#0052ff,#004eff,#004aff,#0046ff,#0043ff,#0040ff,#003dff,#003cff,#003bff,#003aff,#0039ff,#0038ff,#0037ff,#0036ff,#0036ff,#0036ff,#0036ff,#0036ff,#0036ff,#0036ff,#0036ff,#0036ff)"></i>
<i style="left:228px;width:4.6px;background:linear-gradient(#00abff,#00abff,#00abff,#00a8ff,#00a3ff,#009eff,#09f,#0094ff,#009dff,#00a9ff,#00b5ff,#00c4ff,#00dfff,#00fbff,#0fd,#00ffb5,#00ff8e,#00ff5c,#00ff28,#0cff00,#3cff00,#6cff00,#b2ff00,#ff0,#ffbf00,#ffca00,#ffd600,#ffe100,#ffe100,#ffb600,#ff8b00,#ff5e00,#ff3700,#ff1600,#f00,#ff0700,#f30,#ff5c00,#ff7d00,#ff9400,#ffa900,#ffe700,#e3ff00,#b8ff00,#8fff00,#6f0,#3bff00,#1f0,#00ff1f,#00ff53,#00ff86,#00ffb5,#00ffe5,#00feff,#0ef,#00deff,#00cdff,#00beff,#00b8ff,#00b3ff,#00adff,#00a8ff,#00a9ff,#00aeff,#00b3ff,#00b8ff,#00beff,#00c5ff,#0cf,#00d4ff,#00dbff,#00d1ff,#00c7ff,#00bcff,#00b2ff,#0af,#00a5ff,#00a0ff,#009bff,#0097ff,#0096ff,#0095ff,#0094ff,#0093ff,#0092ff,#0090ff,#008fff,#008bff,#0085ff,#007fff,#007aff,#0074ff,#006eff,#0068ff,#0065ff,#0062ff,#005eff,#005bff,#0058ff,#05f,#0051ff,#004dff,#0049ff,#04f,#0042ff,#0045ff,#0049ff,#004cff,#0050ff,#004fff,#004bff,#0046ff,#0042ff,#003dff,#0038ff,#0034ff,#03f,#003bff,#0042ff,#004aff,#0052ff,#0059ff,#0064ff,#006fff,#007aff,#08f,#09f,#00abff,#00bdff,#0cf,#0df,#00ecff,#00fcff,#00ffd8,#00ffa5,#00ff72,#00ff3c,#00ff06,#2f0,#49ff00,#70ff00,#a5ff00,#dfff00,#ffea00,#ffbc00,#ff9200,#ff6f00,#ff4c00,#ff2f00,#ff1500,#ff0200,#ff0d00,#ff2b00,#ff7e00,#ffd400,#d3ff00,#7dff00,#26ff00,#00ff1c,#00ff4d,#00ff7e,#00ffb9,#00fff6,#00dfff,#00baff,#09f,#007eff,#0063ff,#005aff,#0056ff,#0052ff,#004eff,#004aff,#0046ff,#0043ff,#0040ff,#003dff,#003cff,#003bff,#0039ff,#0038ff,#0037ff,#0036ff,#0036ff,#0035ff,#0035ff,#0035ff,#0035ff,#0035ff,#0035ff,#0035ff,#0035ff)"></i>
<i style="left:232px;width:4.6px;background:linear-gradient(#00acff,#00acff,#00acff,#00a9ff,#00a4ff,#009fff,#009bff,#0096ff,#009eff,#0af,#00b6ff,#00c5ff,#00e0ff,#00fbff,#0fd,#00ffb5,#00ff8e,#00ff5c,#00ff28,#0cff00,#3dff00,#6dff00,#b3ff00,#fffc00,#ffbc00,#ffca00,#ffd700,#ffe300,#ffe500,#ffb900,#ff8e00,#ff5f00,#ff3800,#ff1600,#f00,#ff0600,#ff3400,#ff5e00,#ff8000,#ff9700,#ffab00,#ffeb00,#e1ff00,#b5ff00,#8dff00,#64ff00,#3aff00,#10ff00,#00ff20,#00ff54,#0f8,#00ffb8,#00ffe8,#00fdff,#00edff,#00deff,#00ceff,#00bfff,#00b9ff,#00b4ff,#00afff,#0af,#00abff,#00b0ff,#00b5ff,#00baff,#00beff,#00c6ff,#00cdff,#00d4ff,#00dbff,#00d4ff,#00caff,#00bfff,#00b4ff,#00abff,#00a6ff,#00a2ff,#009dff,#0098ff,#0096ff,#0095ff,#0094ff,#0093ff,#0092ff,#0091ff,#008fff,#008cff,#0086ff,#0080ff,#007aff,#0074ff,#006eff,#0068ff,#0064ff,#0061ff,#005eff,#005bff,#0058ff,#05f,#0051ff,#004cff,#0048ff,#04f,#0040ff,#04f,#0048ff,#004cff,#004fff,#004fff,#004bff,#0047ff,#0042ff,#003eff,#0039ff,#0035ff,#03f,#003bff,#0043ff,#004aff,#0052ff,#0059ff,#0064ff,#006fff,#007bff,#08f,#09f,#00abff,#00bcff,#0cf,#00dcff,#00ebff,#00faff,#0fd,#0fa,#00ff76,#00ff3e,#00ff07,#2f0,#48ff00,#6fff00,#a4ff00,#deff00,#ffeb00,#ffbd00,#ff9300,#ff7100,#ff4f00,#ff3200,#ff1800,#ff0100,#ff0c00,#ff2400,#ff7a00,#ffd200,#d5ff00,#7fff00,#28ff00,#00ff1b,#00ff4c,#00ff7d,#00ffb8,#00fff6,#00e0ff,#0bf,#09f,#007eff,#0064ff,#005aff,#0056ff,#0052ff,#004eff,#004aff,#0046ff,#0043ff,#003fff,#003dff,#003cff,#003bff,#0039ff,#0038ff,#0037ff,#0036ff,#0035ff,#0034ff,#0035ff,#0035ff,#0035ff,#0035ff,#0035ff,#0035ff,#0035ff)"></i>
<i style="left:236px;width:4.6px;background:linear-gradient(#00acff,#00acff,#00acff,#0af,#00a5ff,#00a1ff,#009cff,#0097ff,#009fff,#00abff,#00b7ff,#00c5ff,#00e0ff,#00fcff,#00ffdc,#00ffb5,#00ff8e,#00ff5c,#00ff27,#0cff00,#3dff00,#6eff00,#b5ff00,#fffa00,#fb0,#ffc900,#ffd800,#ffe500,#ffe900,#ffbd00,#ff9100,#ff6100,#ff3800,#ff1700,#f00,#ff0600,#ff3500,#ff5f00,#ff8200,#f90,#ffae00,#ffef00,#deff00,#b3ff00,#8bff00,#63ff00,#39ff00,#0fff00,#00ff21,#00ff56,#00ff8a,#00ffba,#00ffea,#00fdff,#00edff,#00deff,#00ceff,#00c0ff,#0bf,#00b6ff,#00b1ff,#00acff,#00adff,#00b2ff,#00b6ff,#0bf,#00bfff,#00c6ff,#00cdff,#00d4ff,#00dcff,#00d7ff,#00cdff,#00c2ff,#00b7ff,#00acff,#00a8ff,#00a3ff,#009eff,#009aff,#0097ff,#0096ff,#0095ff,#0094ff,#0092ff,#0091ff,#0090ff,#008dff,#0087ff,#0080ff,#007aff,#0074ff,#006eff,#0067ff,#0064ff,#0061ff,#005eff,#005aff,#0057ff,#0054ff,#0050ff,#004cff,#0047ff,#0043ff,#003fff,#0043ff,#0047ff,#004bff,#004fff,#004fff,#004bff,#0047ff,#0043ff,#003eff,#003aff,#0035ff,#0034ff,#003bff,#0043ff,#004bff,#0052ff,#005aff,#0064ff,#0070ff,#007bff,#08f,#09f,#00abff,#00bcff,#0cf,#00dcff,#00eaff,#00f8ff,#00ffe3,#00ffaf,#00ff7a,#00ff41,#00ff08,#21ff00,#48ff00,#6eff00,#a3ff00,#df0,#ffec00,#ffbe00,#ff9400,#ff7200,#ff5100,#ff3500,#ff1b00,#ff0200,#ff0a00,#ff1c00,#ff7600,#ffcf00,#d8ff00,#82ff00,#2aff00,#00ff1a,#00ff4b,#00ff7c,#00ffb8,#00fff5,#00e0ff,#0bf,#009aff,#007fff,#0064ff,#005aff,#0056ff,#0052ff,#004eff,#004aff,#0047ff,#0043ff,#003fff,#003dff,#003cff,#003aff,#0039ff,#0038ff,#0037ff,#0036ff,#0035ff,#0034ff,#0034ff,#0034ff,#0034ff,#0034ff,#0034ff,#0034ff,#0034ff)"></i>
<i style="left:240px;width:4.6px;background:linear-gradient(#00adff,#00adff,#00adff,#00abff,#00a6ff,#00a2ff,#009dff,#09f,#00a1ff,#00acff,#00b8ff,#00c6ff,#00e1ff,#00fcff,#00ffdc,#00ffb5,#00ff8e,#00ff5c,#00ff27,#0dff00,#3eff00,#6fff00,#b7ff00,#fff700,#ffb900,#ffc900,#ffd900,#ffe700,#ffed00,#ffc000,#ff9400,#ff6400,#ff3900,#ff1700,#f00,#ff0500,#ff3500,#ff6100,#ff8500,#ff9c00,#ffb200,#fff400,#dbff00,#b1ff00,#89ff00,#61ff00,#38ff00,#0eff00,#00ff23,#00ff57,#00ff8c,#00ffbc,#00ffed,#00fcff,#00edff,#00deff,#00ceff,#00c1ff,#00bcff,#00b7ff,#00b2ff,#00aeff,#00afff,#00b3ff,#00b8ff,#00bcff,#00c0ff,#00c7ff,#00ceff,#00d5ff,#00dcff,#00dbff,#00d0ff,#00c5ff,#00b9ff,#00aeff,#00a9ff,#00a4ff,#00a0ff,#009bff,#0098ff,#0097ff,#0095ff,#0094ff,#0093ff,#0091ff,#0090ff,#008eff,#0087ff,#0081ff,#007bff,#0074ff,#006eff,#0067ff,#0064ff,#0061ff,#005dff,#005aff,#0057ff,#0054ff,#0050ff,#004bff,#0047ff,#0042ff,#003eff,#0042ff,#0047ff,#004bff,#004fff,#0050ff,#004cff,#0047ff,#0043ff,#003fff,#003aff,#0036ff,#0034ff,#003cff,#0043ff,#004bff,#0052ff,#005aff,#0064ff,#0070ff,#007bff,#08f,#09f,#00abff,#00bcff,#0cf,#00dbff,#00eaff,#00f7ff,#00ffe9,#00ffb4,#00ff7e,#0f4,#00ff09,#21ff00,#47ff00,#6eff00,#a2ff00,#dcff00,#ffed00,#ffbf00,#ff9400,#ff7400,#ff5300,#ff3900,#ff1f00,#ff0500,#ff0900,#ff1500,#ff7200,#fc0,#dbff00,#84ff00,#2cff00,#00ff19,#00ff4a,#00ff7b,#00ffb7,#00fff5,#00e0ff,#0bf,#009aff,#007fff,#0064ff,#0059ff,#0056ff,#0052ff,#004eff,#004aff,#0047ff,#0043ff,#003fff,#003dff,#003bff,#003aff,#0039ff,#0038ff,#0037ff,#0035ff,#0034ff,#03f,#03f,#03f,#03f,#03f,#03f,#03f,#03f)"></i>
<i style="left:244px;width:4.6px;background:linear-gradient(#00adff,#00adff,#00adff,#00abff,#00a7ff,#00a3ff,#009eff,#009aff,#00a2ff,#00adff,#00b8ff,#00c6ff,#00e1ff,#00fcff,#00ffdc,#00ffb5,#00ff8e,#00ff5c,#00ff27,#0dff00,#3eff00,#6fff00,#b9ff00,#fff600,#ffb900,#ffc900,#ffd900,#ffe800,#ffef00,#ffc200,#ff9600,#ff6500,#ff3a00,#ff1700,#f00,#ff0500,#ff3600,#ff6200,#ff8600,#ff9d00,#ffb400,#fff600,#daff00,#b0ff00,#8f0,#60ff00,#37ff00,#0eff00,#00ff23,#00ff58,#00ff8d,#00ffbe,#00ffef,#00fcff,#00edff,#00deff,#00ceff,#00c1ff,#00bdff,#00b8ff,#00b3ff,#00afff,#00b0ff,#00b4ff,#00b9ff,#00bdff,#00c1ff,#00c7ff,#00ceff,#00d5ff,#00dcff,#0df,#00d1ff,#00c6ff,#0bf,#00b0ff,#0af,#00a5ff,#00a1ff,#009cff,#09f,#0097ff,#0096ff,#0094ff,#0093ff,#0092ff,#0090ff,#008eff,#08f,#0081ff,#007bff,#0074ff,#006eff,#0068ff,#0064ff,#0060ff,#005dff,#005aff,#0057ff,#0053ff,#0050ff,#004bff,#0046ff,#0042ff,#003dff,#0042ff,#0046ff,#004bff,#004fff,#0050ff,#004cff,#0047ff,#0043ff,#003fff,#003bff,#0036ff,#0035ff,#003cff,#04f,#004bff,#0053ff,#005aff,#0064ff,#0070ff,#007bff,#08f,#09f,#0af,#00bcff,#0cf,#00dbff,#00e9ff,#00f6ff,#00ffed,#00ffb7,#00ff81,#00ff45,#00ff0a,#20ff00,#47ff00,#6eff00,#a1ff00,#dcff00,#ffed00,#ffc000,#ff9500,#ff7500,#f50,#ff3a00,#ff2100,#ff0700,#ff0800,#ff1400,#ff6f00,#ffcb00,#dcff00,#86ff00,#2dff00,#00ff19,#00ff4a,#00ff7b,#00ffb6,#00fff5,#00e0ff,#00bcff,#009aff,#0080ff,#0065ff,#0059ff,#0056ff,#0052ff,#004eff,#004aff,#0047ff,#0043ff,#003fff,#003dff,#003bff,#003aff,#0039ff,#0038ff,#0036ff,#0035ff,#0034ff,#03f,#03f,#03f,#03f,#03f,#03f,#03f,#03f)"></i>
<i style="left:248px;width:4.6px;background:linear-gradient(#00adff,#00adff,#00adff,#00abff,#00a7ff,#00a3ff,#009eff,#009aff,#00a2ff,#00adff,#00b8ff,#00c6ff,#00e1ff,#00fcff,#00ffdc,#00ffb5,#00ff8e,#00ff5c,#00ff27,#0dff00,#3eff00,#6fff00,#b9ff00,#fff600,#ffb900,#ffc900,#ffd900,#ffe800,#ffef00,#ffc200,#ff9600,#ff6500,#ff3a00,#ff1700,#f00,#ff0500,#ff3600,#ff6200,#ff8600,#ff9d00,#ffb400,#fff600,#daff00,#b0ff00,#8f0,#60ff00,#37ff00,#0eff00,#00ff23,#00ff58,#00ff8d,#00ffbe,#00ffef,#00fcff,#00edff,#00deff,#00ceff,#00c1ff,#00bdff,#00b8ff,#00b3ff,#00afff,#00b0ff,#00b4ff,#00b9ff,#00bdff,#00c1ff,#00c7ff,#00ceff,#00d5ff,#00dcff,#0df,#00d1ff,#00c6ff,#0bf,#00b0ff,#0af,#00a5ff,#00a1ff,#009cff,#09f,#0097ff,#0096ff,#0094ff,#0093ff,#0092ff,#0090ff,#008eff,#08f,#0081ff,#007bff,#0074ff,#006eff,#0068ff,#0064ff,#0060ff,#005dff,#005aff,#0057ff,#0053ff,#0050ff,#004bff,#0046ff,#0042ff,#003dff,#0042ff,#0046ff,#004bff,#004fff,#0050ff,#004cff,#0047ff,#0043ff,#003fff,#003bff,#0036ff,#0035ff,#003cff,#04f,#004bff,#0053ff,#005aff,#0064ff,#0070ff,#007bff,#08f,#09f,#0af,#00bcff,#0cf,#00dbff,#00e9ff,#00f6ff,#00ffed,#00ffb7,#00ff81,#00ff45,#00ff0a,#20ff00,#47ff00,#6eff00,#a1ff00,#dcff00,#ffed00,#ffc000,#ff9500,#ff7500,#f50,#ff3a00,#ff2100,#ff0700,#ff0800,#ff1400,#ff6f00,#ffcb00,#dcff00,#86ff00,#2dff00,#00ff19,#00ff4a,#00ff7b,#00ffb6,#00fff5,#00e0ff,#00bcff,#009aff,#0080ff,#0065ff,#0059ff,#0056ff,#0052ff,#004eff,#004aff,#0047ff,#0043ff,#003fff,#003dff,#003bff,#003aff,#0039ff,#0038ff,#0036ff,#0035ff,#0034ff,#03f,#03f,#03f,#03f,#03f,#03f,#03f,#03f)"></i>
</div></div>
<svg style="opacity:.999" width="942" height="884" viewBox="0 0 942 884">
<g fill="#fff">
<polygon points="70,0 320,0 320,222.6 314.4,222.6 148.2,127.5 70,127.5"/>
<polygon points="70,765.7 314.4,781.0 320,781.0 320,800 70,800"/>
<rect x="338" y="0" width="250" height="222.6"/>
<polygon points="338,714.6 344.1,714.6 462.2,781.1 590,781.1 590,800 338,800"/>
</g>
<defs><linearGradient id="cb" x1="0" y1="0" x2="0" y2="1"><stop offset="0" stop-color="#f00"/><stop offset=".25" stop-color="#ff0"/><stop offset=".5" stop-color="#0f0"/><stop offset=".75" stop-color="#0ff"/><stop offset="1" stop-color="#00f"/></linearGradient><radialGradient id="ball" cx=".5" cy=".5" r=".5" fx=".33" fy=".43"><stop offset="0" stop-color="#f4f4f4"/><stop offset=".15" stop-color="#ccc"/><stop offset=".36" stop-color="#4a4a4a"/><stop offset=".52" stop-color="#000"/><stop offset="1" stop-color="#000"/></radialGradient><clipPath id="ca"><rect x="77.5" y="0" width="236.9" height="788"/></clipPath><clipPath id="cbb"><rect x="344.1" y="0" width="236.5" height="788"/></clipPath><clipPath id="cc"><rect x="618.0" y="0" width="228.0" height="788.5"/></clipPath></defs>
<g stroke="#000" stroke-width="2" fill="none" stroke-linecap="butt">
<path d="M77.5 0V787.5H314.4V0M76.5 0.75H315.4"/>
<path d="M344.1 0V787.5H580.6V0M343.1 0.75H581.6"/>
<path d="M618.0 0V787.5H846.0V0M617.0 0.75H847.0"/>
<path d="M77.5 729.8h9.0M314.4 729.8h-9.0M344.1 729.8h9.0M580.6 729.8h-9.0M77.5 666.4h4.5M314.4 666.4h-4.5M344.1 666.4h4.5M580.6 666.4h-4.5M77.5 603.0h9.0M314.4 603.0h-9.0M344.1 603.0h9.0M580.6 603.0h-9.0M77.5 539.6h4.5M314.4 539.6h-4.5M344.1 539.6h4.5M580.6 539.6h-4.5M77.5 476.2h9.0M314.4 476.2h-9.0M344.1 476.2h9.0M580.6 476.2h-9.0M77.5 412.8h4.5M314.4 412.8h-4.5M344.1 412.8h4.5M580.6 412.8h-4.5M77.5 349.4h9.0M314.4 349.4h-9.0M344.1 349.4h9.0M580.6 349.4h-9.0M77.5 286.0h4.5M314.4 286.0h-4.5M344.1 286.0h4.5M580.6 286.0h-4.5M77.5 222.6h9.0M314.4 222.6h-9.0M344.1 222.6h9.0M580.6 222.6h-9.0M77.5 159.2h4.5M314.4 159.2h-4.5M344.1 159.2h4.5M580.6 159.2h-4.5M77.5 95.8h9.0M314.4 95.8h-9.0M344.1 95.8h9.0M580.6 95.8h-9.0M77.5 32.4h4.5M314.4 32.4h-4.5M344.1 32.4h4.5M580.6 32.4h-4.5M124.6 787.5v-9.0M124.6 0v9.8M171.8 787.5v-4.5M171.8 0v5.2M219.1 787.5v-9.0M219.1 0v9.8M266.3 787.5v-4.5M266.3 0v5.2M391.3 787.5v-9.0M391.3 0v9.8M438.6 787.5v-4.5M438.6 0v5.2M485.8 787.5v-9.0M485.8 0v9.8M533.1 787.5v-4.5M533.1 0v5.2M683.2 787.5v-4.5M683.2 0v5.2M748.4 787.5v-9.0M748.4 0v9.8M813.6 787.5v-4.5M813.6 0v5.2M618.0 747.1h4.5M846.0 747.1h-4.5M618.0 668.5h9.0M846.0 668.5h-9.0M618.0 589.9h4.5M846.0 589.9h-4.5M618.0 511.3h9.0M846.0 511.3h-9.0M618.0 432.7h4.5M846.0 432.7h-4.5M618.0 354.1h9.0M846.0 354.1h-9.0M618.0 275.6h4.5M846.0 275.6h-4.5M618.0 197.0h9.0M846.0 197.0h-9.0M618.0 118.4h4.5M846.0 118.4h-4.5M618.0 39.8h9.0M846.0 39.8h-9.0"/>
</g>
<rect x="302.5" y="21" width="47" height="187.7" fill="url(#cb)" stroke="#000" stroke-width="1.2"/>
<path d="M341 58.1H350" stroke="#000" stroke-width="1.3"/>
<path d="M341 95.8H350" stroke="#0a3a00" stroke-width="1.3"/>
<path d="M341 133.4H350" stroke="#000" stroke-width="1.3"/>
<path d="M341 171.1H350" stroke="#00304a" stroke-width="1.3"/>
<path d="M350 95.8h3.4M344 222.6h9" stroke="#000" stroke-width="2"/>
<path clip-path="url(#cc)" d="M631.9 0.0 L629.7 5.9 L624.5 10.1 L633.4 14.1 L629.7 16.3 L634.2 22.3 L625.3 26.4 L635.7 30.5 L634.9 33.4 L629.7 35.7 L630.5 38.9 L634.2 40.9 L647.5 42.1 L646.8 43.1 L674.3 44.1 L727.8 45.8 L689.2 46.7 L666.9 47.3 L668.4 48.3 L644.6 49.3 L629.7 51.7 L627.5 55.0 L626.4 59.4 L625.8 60.2 L626.6 61.0 L626.5 61.8 L626.0 62.6 L625.6 63.4 L625.8 64.2 L625.9 65.0 L625.5 65.8 L624.8 66.6 L624.6 67.4 L625.2 68.2 L626.1 69.0 L626.5 69.8 L626.1 70.6 L625.8 71.4 L626.2 72.2 L627.2 73.0 L627.7 73.8 L627.3 74.6 L626.1 75.4 L625.1 76.2 L624.8 77.0 L624.7 77.8 L624.5 78.6 L624.3 79.4 L624.6 80.2 L625.7 81.0 L626.9 81.8 L627.3 82.6 L626.5 83.4 L625.3 84.2 L624.8 85.0 L625.1 85.8 L625.7 86.6 L625.8 87.4 L625.7 88.2 L625.7 89.0 L626.2 89.8 L626.5 90.6 L626.2 91.4 L625.4 92.2 L624.7 93.0 L624.9 93.8 L625.5 94.6 L625.8 95.4 L625.4 96.2 L624.7 97.0 L624.6 97.8 L625.3 98.6 L626.2 99.4 L626.5 100.2 L626.3 101.0 L625.9 101.8 L625.7 102.6 L625.5 103.4 L624.9 104.2 L624.0 105.0 L623.6 105.8 L624.2 106.6 L625.6 107.4 L626.7 108.2 L626.9 109.0 L626.3 109.8 L625.6 110.6 L625.4 111.4 L625.4 112.2 L625.2 113.0 L624.8 113.8 L624.7 114.6 L625.1 115.4 L625.7 116.2 L625.7 117.0 L625.1 117.8 L624.4 118.6 L624.3 119.4 L624.9 120.2 L625.5 121.0 L625.5 121.8 L624.9 122.6 L624.6 123.4 L624.8 124.2 L625.4 125.0 L625.8 125.8 L625.8 126.6 L625.9 127.4 L626.3 128.2 L626.6 129.0 L626.2 129.8 L624.9 130.6 L623.6 131.4 L623.1 132.2 L623.6 133.0 L624.6 133.8 L625.2 134.6 L625.4 135.4 L625.4 136.2 L625.6 137.0 L625.7 137.8 L625.5 138.6 L624.9 139.4 L624.6 140.2 L625.0 141.0 L625.7 141.8 L626.2 142.6 L625.8 143.4 L625.1 144.2 L624.7 145.0 L624.8 145.8 L625.3 146.6 L625.4 147.4 L625.0 148.2 L624.6 149.0 L624.5 149.8 L624.6 150.6 L624.6 151.4 L624.3 152.2 L624.4 153.0 L625.1 153.8 L626.2 154.6 L626.8 155.4 L626.5 156.2 L625.4 157.0 L624.4 157.8 L624.1 158.6 L624.3 159.4 L624.6 160.2 L624.8 161.0 L625.1 161.8 L625.6 162.6 L626.0 163.4 L625.9 164.2 L625.2 165.0 L624.4 165.8 L624.3 166.6 L624.8 167.4 L625.4 168.2 L625.5 169.0 L625.0 169.8 L624.5 170.6 L624.5 171.4 L624.8 172.2 L625.1 173.0 L625.1 173.8 L625.1 174.6 L625.3 175.4 L625.5 176.2 L625.4 177.0 L624.7 177.8 L624.1 178.6 L624.1 179.4 L625.0 180.2 L626.0 181.0 L626.5 181.8 L626.2 182.6 L625.5 183.4 L624.8 184.2 L624.4 185.0 L623.9 185.8 L623.6 186.6 L623.6 187.4 L624.3 188.2 L625.2 189.0 L625.8 189.8 L625.6 190.6 L625.0 191.4 L624.6 192.2 L624.8 193.0 L625.4 193.8 L625.7 194.6 L625.6 195.4 L625.3 196.2 L625.1 197.0 L625.0 197.8 L624.9 198.6 L624.5 199.4 L624.4 200.2 L624.7 201.0 L625.2 201.8 L625.5 202.6 L625.0 203.4 L624.1 204.2 L623.5 205.0 L623.6 205.8 L624.4 206.6 L625.3 207.4 L625.8 208.2 L626.1 209.0 L626.2 209.8 L626.0 210.6 L625.5 211.4 L624.6 212.2 L623.8 213.0 L623.8 213.8 L624.5 214.6 L625.3 215.4 L625.5 216.2 L625.1 217.0 L624.5 217.8 L624.3 218.6 L624.5 219.4 L624.7 220.2 L624.8 221.0 L624.9 221.8 L625.0 222.6 L625.2 223.4 L625.1 224.2 L624.6 225.0 L624.1 225.8 L624.2 226.6 L624.9 227.4 L625.8 228.2 L626.1 229.0 L625.6 229.8 L624.8 230.6 L624.1 231.4 L624.0 232.2 L624.1 233.0 L624.3 233.8 L624.8 234.6 L625.4 235.4 L626.0 236.2 L626.0 237.0 L625.3 237.8 L624.2 238.6 L623.5 239.4 L623.6 240.2 L624.3 241.0 L624.9 241.8 L625.1 242.6 L625.0 243.4 L624.9 244.2 L624.9 245.0 L624.9 245.8 L624.8 246.6 L624.8 247.4 L625.1 248.2 L625.6 249.0 L625.8 249.8 L625.3 250.6 L624.4 251.4 L623.7 252.2 L623.7 253.0 L624.3 253.8 L625.0 254.6 L625.3 255.4 L625.2 256.2 L624.8 257.0 L624.4 257.8 L624.0 258.6 L623.7 259.4 L623.6 260.2 L624.3 261.0 L625.3 261.8 L626.3 262.6 L626.4 263.4 L625.8 264.2 L624.9 265.0 L624.3 265.8 L624.2 266.6 L624.4 267.4 L624.6 268.2 L624.6 269.0 L624.7 269.8 L624.7 270.6 L624.5 271.4 L624.1 272.2 L623.7 273.0 L623.9 273.8 L624.6 274.6 L625.4 275.4 L625.7 276.2 L625.3 277.0 L624.6 277.8 L624.1 278.6 L624.1 279.4 L624.4 280.2 L624.9 281.0 L625.3 281.8 L625.6 282.6 L625.7 283.4 L625.3 284.2 L624.4 285.0 L623.5 285.8 L623.1 286.6 L623.5 287.4 L624.5 288.2 L625.3 289.0 L625.6 289.8 L625.2 290.6 L624.7 291.4 L624.3 292.2 L624.1 293.0 L624.1 293.8 L624.3 294.6 L624.7 295.4 L625.2 296.2 L625.4 297.0 L625.0 297.8 L624.3 298.6 L623.8 299.4 L625.5 300.0 L626.5 303.0 L629.0 305.5 L635.5 307.7 L650.0 309.3 L673.7 310.8 L705.0 312.2 L737.4 313.3 L780.0 314.7 L822.0 315.9 L780.0 316.5 L737.4 317.1 L700.0 317.8 L661.0 318.4 L635.5 320.4 L628.0 322.5 L625.3 324.8 L624.0 328.0 L624.1 328.8 L624.6 329.6 L624.6 330.4 L624.2 331.2 L623.5 332.0 L623.0 332.8 L622.9 333.6 L623.3 334.4 L623.9 335.2 L624.5 336.0 L624.6 336.8 L624.2 337.6 L623.4 338.4 L622.7 339.2 L622.4 340.0 L622.6 340.8 L623.2 341.6 L623.9 342.4 L624.3 343.2 L624.2 344.0 L623.7 344.8 L623.0 345.6 L622.6 346.4 L622.7 347.2 L623.3 348.0 L624.1 348.8 L624.7 349.6 L624.7 350.4 L624.2 351.2 L623.5 352.0 L622.8 352.8 L622.6 353.6 L622.9 354.4 L623.5 355.2 L624.1 356.0 L624.3 356.8 L624.0 357.6 L623.3 358.4 L622.6 359.2 L622.2 360.0 L622.4 360.8 L623.1 361.6 L623.9 362.4 L624.4 363.2 L624.4 364.0 L623.9 364.8 L623.2 365.6 L622.7 366.4 L622.7 367.2 L623.2 368.0 L623.9 368.8 L624.5 369.6 L624.6 370.4 L624.1 371.2 L623.3 372.0 L622.5 372.8 L622.2 373.6 L622.5 374.4 L623.2 375.2 L623.9 376.0 L624.2 376.8 L624.0 377.6 L623.4 378.4 L622.7 379.2 L622.3 380.0 L622.5 380.8 L623.2 381.6 L624.0 382.4 L624.6 383.2 L624.6 384.0 L624.0 384.8 L623.3 385.6 L622.6 386.4 L622.5 387.2 L622.9 388.0 L623.6 388.8 L624.2 389.6 L624.3 390.4 L623.9 391.2 L623.1 392.0 L622.3 392.8 L622.0 393.6 L622.3 394.4 L623.0 395.2 L623.8 396.0 L624.3 396.8 L624.2 397.6 L623.6 398.4 L622.9 399.2 L622.4 400.0 L622.5 400.8 L623.1 401.6 L623.9 402.4 L624.5 403.2 L624.5 404.0 L624.0 404.8 L623.1 405.6 L622.3 406.4 L622.1 407.2 L622.4 408.0 L623.2 408.8 L623.9 409.6 L624.1 410.4 L623.8 411.2 L623.1 412.0 L622.3 412.8 L622.0 413.6 L622.2 414.4 L623.0 415.2 L623.9 416.0 L624.4 416.8 L624.4 417.6 L623.8 418.4 L623.0 419.2 L622.4 420.0 L622.3 420.8 L623.5 421.5 L625.0 423.3 L634.0 424.6 L666.0 425.7 L634.0 426.8 L624.0 428.0 L622.5 430.0 L624.1 430.8 L623.6 431.6 L622.8 432.4 L622.2 433.2 L622.1 434.0 L622.6 434.8 L623.4 435.6 L624.2 436.4 L624.5 437.2 L624.2 438.0 L623.3 438.8 L622.4 439.6 L622.0 440.4 L622.1 441.2 L622.8 442.0 L623.5 442.8 L624.0 443.6 L623.9 444.4 L623.2 445.2 L622.3 446.0 L621.7 446.8 L621.7 447.6 L622.4 448.4 L623.3 449.2 L624.1 450.0 L624.3 450.8 L623.8 451.6 L623.0 452.4 L622.3 453.2 L622.0 454.0 L622.4 454.8 L623.2 455.6 L624.0 456.4 L624.3 457.2 L623.9 458.0 L623.1 458.8 L622.1 459.6 L621.6 460.4 L621.7 461.2 L622.4 462.0 L623.2 462.8 L623.8 463.6 L623.8 464.4 L623.3 465.2 L622.4 466.0 L621.8 466.8 L621.7 467.6 L622.3 468.4 L623.3 469.2 L624.1 470.0 L624.4 470.8 L623.9 471.6 L623.0 472.4 L622.2 473.2 L621.8 474.0 L622.0 474.8 L622.7 475.6 L623.5 476.4 L623.9 477.2 L623.7 478.0 L622.9 478.8 L622.0 479.6 L621.4 480.4 L621.4 481.2 L622.2 482.0 L623.1 482.8 L623.9 483.6 L624.0 484.4 L623.5 485.2 L622.6 486.0 L621.9 486.8 L621.7 487.6 L622.2 488.4 L623.1 489.2 L623.9 490.0 L624.2 490.8 L623.8 491.6 L622.9 492.4 L621.9 493.2 L621.4 494.0 L621.5 494.8 L622.3 495.6 L623.2 496.4 L623.7 497.2 L623.6 498.0 L622.9 498.8 L622.0 499.6 L621.4 500.4 L621.4 501.2 L622.1 502.0 L623.1 502.8 L624.0 503.6 L624.2 504.4 L623.7 505.2 L622.7 506.0 L621.9 506.8 L621.5 507.6 L621.9 508.4 L622.7 509.2 L623.6 510.0 L623.9 510.8 L623.6 511.6 L622.6 512.4 L621.6 513.2 L621.0 514.0 L621.2 514.8 L622.0 515.6 L623.0 516.4 L623.7 517.2 L623.8 518.0 L623.1 518.8 L622.2 519.6 L621.4 520.4 L621.4 521.2 L622.0 522.0 L623.1 522.8 L623.9 523.6 L624.2 524.4 L623.6 525.2 L622.6 526.0 L621.6 526.8 L621.1 527.6 L621.4 528.4 L622.2 529.2 L623.2 530.0 L623.7 530.8 L623.5 531.6 L622.6 532.4 L621.5 533.2 L620.9 534.0 L621.0 534.8 L621.9 535.6 L623.0 536.4 L623.9 537.2 L624.0 538.0 L623.4 538.8 L622.3 539.6 L621.4 540.4 L621.2 541.2 L621.7 542.0 L622.7 542.8 L623.7 543.6 L624.0 544.4 L623.5 545.2 L622.4 546.0 L621.2 546.8 L620.7 547.6 L620.9 548.4 L621.8 549.2 L623.0 550.0 L623.7 550.8 L623.6 551.6 L622.8 552.4 L621.7 553.2 L620.9 554.0 L621.0 554.8 L621.8 555.6 L623.0 556.4 L623.9 557.2 L624.1 558.0 L623.5 558.8 L622.3 559.6 L621.2 560.4 L620.8 561.2 L621.2 562.0 L622.2 562.8 L623.3 563.6 L623.7 564.4 L623.3 565.2 L622.3 566.0 L621.1 566.8 L620.4 567.6 L620.6 568.4 L621.6 569.2 L622.9 570.0 L623.8 570.8 L623.8 571.6 L623.0 572.4 L621.9 573.2 L621.0 574.0 L620.8 574.8 L621.6 575.6 L622.7 576.4 L623.7 577.2 L624.0 578.0 L623.4 578.8 L622.1 579.6 L620.9 580.4 L620.3 581.2 L620.7 582.0 L621.8 582.8 L623.0 583.6 L623.6 584.4 L623.4 585.2 L622.4 586.0 L621.2 586.8 L620.4 587.6 L620.6 588.4 L621.6 589.2 L622.9 590.0 L623.9 590.8 L624.0 591.6 L623.2 592.4 L621.9 593.2 L620.8 594.0 L620.5 594.8 L621.1 595.6 L622.3 596.4 L623.4 597.2 L623.8 598.0 L623.2 598.8 L621.9 599.6 L620.6 600.4 L620.0 601.2 L620.3 602.0 L621.5 602.8 L622.8 603.6 L623.7 604.4 L623.6 605.2 L622.7 606.0 L621.4 606.8 L620.5 607.6 L620.5 608.4 L621.4 609.2 L622.8 610.0 L623.8 610.8 L624.0 611.6 L623.2 612.4 L621.8 613.2 L620.5 614.0 L620.0 614.8 L620.5 615.6 L621.8 616.4 L623.0 617.2 L623.6 618.0 L623.2 618.8 L622.0 619.6 L620.6 620.4 L619.9 621.2 L620.2 622.0 L621.4 622.8 L622.8 623.6 L623.8 624.4 L623.9 625.2 L622.9 626.0 L621.5 626.8 L620.4 627.6 L620.2 628.4 L621.0 629.2 L622.4 630.0 L623.5 630.8 L623.8 631.6 L623.0 632.4 L621.6 633.2 L620.2 634.0 L619.6 634.8 L620.1 635.6 L621.4 636.4 L622.8 637.2 L623.6 638.0 L623.4 638.8 L622.2 639.6 L620.8 640.4 L620.0 641.2 L620.1 642.0 L621.2 642.8 L622.7 643.6 L623.8 644.4 L623.9 645.2 L623.0 646.0 L621.4 646.8 L620.1 647.6 L619.7 648.4 L620.4 649.2 L623.5 650.0 L625.0 653.0 L628.0 655.5 L635.5 658.2 L655.0 659.5 L673.7 660.3 L712.0 661.5 L752.7 662.0 L740.0 662.8 L713.2 663.8 L750.0 665.0 L801.8 666.1 L740.0 666.8 L686.4 667.4 L650.0 668.2 L635.5 668.9 L628.0 670.0 L625.3 671.0 L623.0 673.0 L622.2 674.8 L630.0 675.8 L637.3 676.6 L628.0 677.8 L621.5 679.1 L620.5 681.0 L619.0 681.8 L619.7 682.6 L621.3 683.4 L622.9 684.2 L623.6 685.0 L623.0 685.8 L621.4 686.6 L619.6 687.4 L618.5 688.2 L618.9 689.0 L620.3 689.8 L622.2 690.6 L623.5 691.4 L623.5 692.2 L622.3 693.0 L620.5 693.8 L619.1 694.6 L619.0 695.4 L620.1 696.2 L621.9 697.0 L623.5 697.8 L623.9 698.6 L623.0 699.4 L621.1 700.2 L619.3 701.0 L618.5 701.8 L619.1 702.6 L620.7 703.4 L622.5 704.2 L623.5 705.0 L623.1 705.8 L621.6 706.6 L619.7 707.4 L618.6 708.2 L618.8 709.0 L620.2 709.8 L622.2 710.6 L623.7 711.4 L623.9 712.2 L622.7 713.0 L620.8 713.8 L619.2 714.6 L618.8 715.4 L619.7 716.2 L621.5 717.0 L623.1 717.8 L623.7 718.6 L622.9 719.4 L621.1 720.2 L619.2 721.0 L618.3 721.8 L618.7 722.6 L620.4 723.4 L622.4 724.2 L623.6 725.0 L623.4 725.8 L622.0 726.6 L620.1 727.4 L618.8 728.2 L618.8 729.0 L620.1 729.8 L622.1 730.6 L623.7 731.4 L624.0 732.2 L622.8 733.0 L620.9 733.8 L619.1 734.6 L618.4 735.4 L619.2 736.2 L621.0 737.0 L622.7 737.8 L623.5 738.6 L622.9 739.4 L621.2 740.2 L619.3 741.0 L618.3 741.8 L618.7 742.6 L620.3 743.4 L622.3 744.2 L623.7 745.0 L623.7 745.8 L622.4 746.6 L620.5 747.4 L618.9 748.2 L618.7 749.0 L619.8 749.8 L621.7 750.6 L623.4 751.4 L623.8 752.2 L622.8 753.0 L620.8 753.8 L619.0 754.6 L618.1 755.4 L618.8 756.2 L620.6 757.0 L622.5 757.8 L623.6 758.6 L623.2 759.4 L621.6 760.2 L619.7 761.0 L618.5 761.8 L618.7 762.6 L620.2 763.4 L622.3 764.2 L623.8 765.0 L623.9 765.8 L622.6 766.6 L620.6 767.4 L618.9 768.2 L618.4 769.0 L619.4 769.8 L621.2 770.6 L623.0 771.4 L623.6 772.2 L622.8 773.0 L620.9 773.8 L619.0 774.6 L618.1 775.4 L618.6 776.2 L620.4 777.0 L622.4 777.8 L623.7 778.6 L623.5 779.4 L622.1 780.2 L620.1 781.0 L618.7 781.8 L618.7 782.6 L620.0 783.4 L622.0 784.2 L623.6 785.0 L623.9 785.8 L622.7 786.6 L620.6 787.4" fill="none" stroke="#0000ff" stroke-width="1.8" stroke-linejoin="round"/>
<g clip-path="url(#ca)">
<path d="M115.3 233.4V248.5M110.8 233.4h9M110.8 248.5h9" stroke="#2a1000" stroke-opacity=".85" stroke-width="0.9" fill="none"/>
<circle cx="81.9" cy="240.4" r="5.5" fill="url(#ball)"/>
<circle cx="115.3" cy="241.2" r="5.5" fill="url(#ball)"/>
<circle cx="148.3" cy="254.4" r="5.5" fill="url(#ball)"/>
<circle cx="195.6" cy="274.1" r="5.5" fill="url(#ball)"/>
<circle cx="243.1" cy="300.6" r="5.5" fill="url(#ball)"/>
<circle cx="309.0" cy="311.3" r="5.5" fill="url(#ball)"/>
<circle cx="81.6" cy="589.1" r="5.5" fill="url(#ball)"/>
<circle cx="115.2" cy="588.6" r="5.5" fill="url(#ball)"/>
<circle cx="148.3" cy="599.5" r="5.5" fill="url(#ball)"/>
<circle cx="195.4" cy="616.0" r="5.5" fill="url(#ball)"/>
<circle cx="242.6" cy="638.7" r="5.5" fill="url(#ball)"/>
<circle cx="309.3" cy="659.4" r="5.5" fill="url(#ball)"/>
<path d="M144.3 252.3h8M144.3 256.5h8M191.6 272.0h8M191.6 276.2h8M239.1 298.5h8M239.1 302.7h8M305.0 309.2h8M305.0 313.4h8M77.6 587.0h8M77.6 591.2h8M111.2 586.5h8M111.2 590.7h8M144.3 597.4h8M144.3 601.6h8M191.4 613.9h8M191.4 618.1h8M238.6 636.6h8M238.6 640.8h8M305.3 657.3h8M305.3 661.5h8" stroke="#000" stroke-width="0.9" fill="none"/>
</g><g clip-path="url(#cbb)">
<circle cx="348.5" cy="318.8" r="5.5" fill="url(#ball)"/>
<circle cx="462.0" cy="315.3" r="5.5" fill="url(#ball)"/>
<circle cx="575.4" cy="311.3" r="5.5" fill="url(#ball)"/>
<circle cx="348.1" cy="650.1" r="5.5" fill="url(#ball)"/>
<circle cx="462.1" cy="654.1" r="5.5" fill="url(#ball)"/>
<circle cx="575.6" cy="659.6" r="5.5" fill="url(#ball)"/>
<path d="M344.5 316.7h8M344.5 320.9h8M458.0 313.2h8M458.0 317.4h8M571.4 309.2h8M571.4 313.4h8M344.1 648.0h8M344.1 652.2h8M458.1 652.0h8M458.1 656.2h8M571.6 657.5h8M571.6 661.7h8" stroke="#000" stroke-width="0.9" fill="none"/>
</g>
<g font-family="Liberation Sans, sans-serif" fill="#000">
<g font-size="29.3" text-anchor="end">
<text x="67.6" y="739.0">4</text>
<text x="67.6" y="612.2">6</text>
<text x="67.6" y="485.4">8</text>
<text x="67.6" y="358.6">10</text>
<text x="67.6" y="231.8">12</text>
<text x="67.6" y="105.0">14</text>
</g>
<g font-size="29.3" text-anchor="middle">
<text x="115.6" y="820.6">-1.4</text>
<text x="210.1" y="820.6">-1.2</text>
<text x="304.6" y="820.6">-1.0</text>
<text x="386.7" y="820.6">-0.4</text>
<text x="481.2" y="820.6">-0.2</text>
<text x="575.7" y="820.6">0.0</text>
<text x="618.2" y="820.3">0</text><text x="749" y="820.3">100</text>
</g>
<g font-size="29.3" text-anchor="start">
<text x="854.8" y="678.1">40</text>
<text x="854.8" y="520.9">60</text>
<text x="854.8" y="363.7">80</text>
<text x="854.8" y="206.6">100</text>
<text x="854.8" y="49.4">120</text>
</g>
<g font-size="18" text-anchor="start">
<text x="357.5" y="215.2">0</text>
<text x="357.5" y="177.6">20</text>
<text x="357.5" y="139.9">40</text>
<text x="357.5" y="102.3">60</text>
<text x="357.5" y="64.6">80</text>
<text x="357.5" y="27.0">100</text>
</g>
<text font-size="21" text-anchor="middle" transform="translate(295.2 114.3) rotate(-90)">normalized counts</text>
<g font-size="35.7" text-anchor="middle">
<text x="196.3" y="871.5">(<tspan font-style="italic">h</tspan>,0,0) (r.l.u.)</text>
<text x="462.3" y="871.5">(-1,0,<tspan font-style="italic">l</tspan>) (r.l.u.)</text>
<text x="731.8" y="875.7"><tspan font-family="Liberation Serif, serif" font-size="40" textLength="20" lengthAdjust="spacingAndGlyphs">α</tspan> (cm<tspan font-size="23" dy="-12.4">-1</tspan><tspan dy="12.4">)</tspan></text>
<text transform="translate(26.2 394) rotate(-90)">energy (meV)</text>
<text transform="translate(934.9 393) rotate(-90)">wave number (cm<tspan font-size="23" dy="-14.4">-1</tspan><tspan dy="14.4">)</tspan></text>
</g>
<g font-size="32.4">
<text x="95.5" y="47.5">(a)</text><text x="523.2" y="46.3">(b)</text><text x="786.3" y="47.3">(c)</text>
</g>
<g font-size="31">
<text x="702.5" y="126.5">H<tspan font-family="Liberation Serif, serif" font-size="25" dy="-12.5">ω</tspan><tspan dy="12.5"> || a</tspan></text>
<text x="702.5" y="172.5">E<tspan font-family="Liberation Serif, serif" font-size="25" dy="-12.5">ω</tspan><tspan dy="12.5"> || c</tspan></text>
</g>
</g>
</svg>
</body></html>
